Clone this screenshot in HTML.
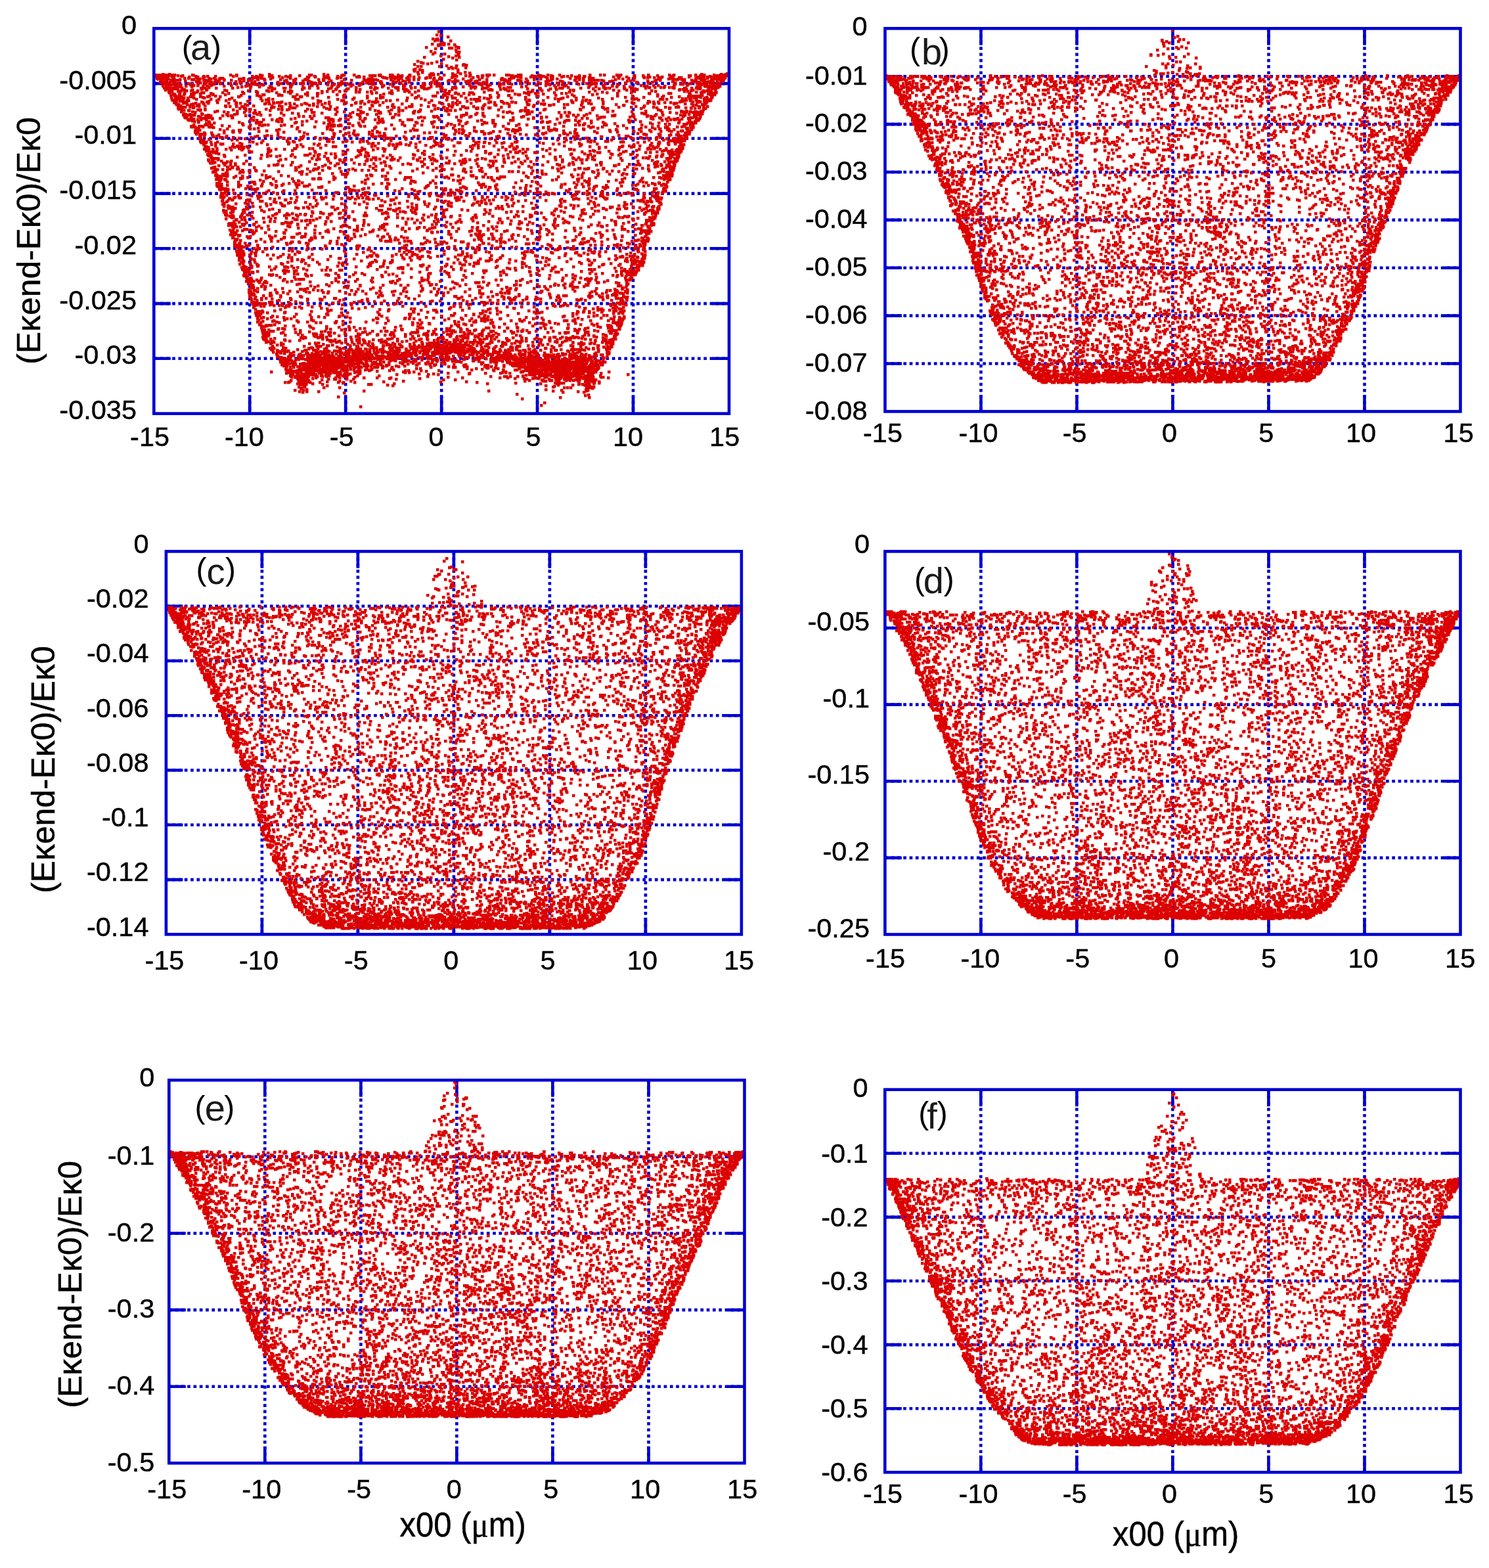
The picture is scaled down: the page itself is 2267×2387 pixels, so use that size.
<!DOCTYPE html><html><head><meta charset="utf-8"><title>Energy change vs x00</title><style>html,body{margin:0;padding:0;background:#fff;}svg{display:block;}text{font-family:"Liberation Sans", Arial, Helvetica, sans-serif;fill:#000;}.t{stroke:#000;stroke-width:0.45px;}</style></head><body>
<svg xmlns="http://www.w3.org/2000/svg" width="2267" height="2387" viewBox="0 0 2267 2387">
<defs><marker id="q" markerUnits="userSpaceOnUse" markerWidth="4" markerHeight="4" refX="0" refY="0" overflow="visible"><rect width="4.5" height="4.5" fill="#dc0000"/></marker></defs>
<rect width="2267" height="2387" fill="#fff"/>
<path d="M380.2 43.3V629.6M526.2 43.3V629.6M672.2 43.3V629.6M818.1 43.3V629.6M964.0 43.3V629.6M234.3 127.1H1110.0M234.3 210.8H1110.0M234.3 294.6H1110.0M234.3 378.3H1110.0M234.3 462.1H1110.0M234.3 545.8H1110.0" stroke="#0000d2" stroke-width="4.6" stroke-dasharray="4.7 4.6" fill="none"/>
<path d="M380.2 43.3v25.5M380.2 629.6v-25.5M526.2 43.3v25.5M526.2 629.6v-25.5M672.2 43.3v25.5M672.2 629.6v-25.5M818.1 43.3v25.5M818.1 629.6v-25.5M964.0 43.3v25.5M964.0 629.6v-25.5M234.3 127.1h25.5M1110.0 127.1h-25.5M234.3 210.8h25.5M1110.0 210.8h-25.5M234.3 294.6h25.5M1110.0 294.6h-25.5M234.3 378.3h25.5M1110.0 378.3h-25.5M234.3 462.1h25.5M1110.0 462.1h-25.5M234.3 545.8h25.5M1110.0 545.8h-25.5" stroke="#0000d2" stroke-width="4.6" fill="none"/>
<path d="m666 46-3 5 6 1 11 2-23 3 7 0-2 1 3 1-5 1 24 0-12 3-3 1 5 0-18 1 15 0 10 0-16 1 4 0 5 0 16 0-25 1 1 0 26 2-45 1 49 0-14 1 4 0 10 0-35 1 31 2-38 2 39 1 4 0-37 1 35 0-38 2 18 0 21 1-27 2 23 0-11 1-37 1 53 0-10 1-14 2 20 1-59 2 29 1-24 1 3 1 13 0-6 1 21 0-41 1 75 0-1 1 5 0-30 1 15 0-59 1 5 0 28 0 18 1 7 1 15 0-26 1 6 0-57 1-2 1 9 0 58 0-54 1-12 1 66 1-61 1 7 0 54 0 11 0 7 1-59 1 3 0 30 0 12 0 406 0-859 1 10 0 152 0 83 0 144 0 30 0 401 0 30 0 7 0 2 0-871 1 1 0 1 0 5 0 7 0 1 0 4 0 3 0 1 0 5 0 2 0 27 0 1 0 57 0 9 0 36 0 75 0 3 0 25 0 23 0 2 0 15 0 38 0 2 0 15 0 3 0 9 0 18 0 30 0 6 0 16 0 17 0 23 0 25 0 4 0 7 0 19 0 3 0 15 0 4 0 27 0 14 0 18 0 46 0 16 0 6 0 19 0 1 0 5 0 42 0 32 0 7 0 33 0 13 0 15 0 10 0 4 0 1 0-865 1 5 0 1 0 4 0 4 0 6 0 5 0 3 0 6 0 7 0 82 0 39 0 15 0 28 0 14 0 64 0 43 0 4 0 4 0 7 0 34 0 11 0 32 0 34 0 20 0 25 0 1 0 7 0 36 0 2 0 30 0 13 0 16 0 31 0 12 0 84 0 13 0 22 0 24 0 24 0 2 0 8 0 7 0 2 0 24 0 3 0 5 0 1 0 5 0-868 1 1 0 11 0 5 0 21 0 22 0 12 0 6 0 12 0 27 0 29 0 6 0 20 0 15 0 10 0 44 0 19 0 16 0 32 0 52 0 10 0 16 0 65 0 2 0 4 0 20 0 12 0 15 0 38 0 5 0 28 0 2 0 1 0 5 0 6 0 14 0 17 0 6 0 25 0 1 0 51 0 2 0 22 0 56 0 48 0 12 0 7 0 1 0 4 0 3 0-857 1 2 0 1 0 1 0 3 0 3 0 2 0 11 0 26 0 13 0 10 0 73 0 9 0 1 0 45 0 29 0 2 0 10 0 13 0 2 0 48 0 4 0 7 0 28 0 12 0 2 0 5 0 6 0 1 0 1 0 12 0 9 0 25 0 73 0 61 0 19 0 15 0 8 0 10 0 14 0 21 0 2 0 20 0 36 0 20 0 26 0 9 0 19 0 13 0 28 0 15 0 1 0 4 0 2 0 1 0 5 0 6 0 6 0 2 0-846 1 6 0 47 0 11 0 80 0 3 0 23 0 15 0 39 0 28 0 3 0 14 0 5 0 47 0 18 0 2 0 11 0 7 0 34 0 12 0 5 0 15 0 18 0 32 0 14 0 47 0 1 0 11 0 20 0 69 0 15 0 69 0 15 0 5 0 10 0 7 0 3 0 28 0 3 0 24 0 2 0 14 0 13 0 12 0 1 0 1 0-865 1 2 0 2 0 2 0 6 0 4 0 9 0 17 0 6 0 13 0 18 0 8 0 9 0 4 0 32 0 14 0 13 0 44 0 71 0 76 0 22 0 8 0 29 0 13 0 10 0 1 0 92 0 14 0 55 0 6 0 29 0 20 0 13 0 2 0 39 0 15 0 46 0 17 0 3 0 42 0 4 0 8 0 6 0 6 0 7 0 4 0-860 1 1 0 15 0 9 0 39 0 17 0 13 0 30 0 3 0 25 0 10 0 10 0 38 0 16 0 35 0 60 0 1 0 3 0 36 0 68 0 36 0 60 0 10 0 26 0 22 0 10 0 8 0 7 0 29 0 11 0 11 0 49 0 54 0 16 0 7 0 8 0 26 0 8 0 18 0 2 0 3 0 3 0 6 0 2 0 1 0-856 1 1 0 27 0 18 0 3 0 9 0 24 0 6 0 7 0 37 0 15 0 34 0 37 0 4 0 17 0 7 0 32 0 30 0 14 0 4 0 23 0 1 0 25 0 2 0 7 0 7 0 23 0 33 0 24 0 13 0 11 0 22 0 1 0 5 0 44 0 69 0 55 0 90 0 4 0 7 0 4 0 28 0 2 0 27 0-846 1 1 0 6 0 5 0 3 0 1 0 4 0 37 0 3 0 16 0 12 0 11 0 13 0 38 0 33 0 11 0 45 0 1 0 42 0 21 0 4 0 15 0 31 0 1 0 77 0 33 0 51 0 8 0 12 0 2 0 49 0 36 0 22 0 7 0 3 0 4 0 5 0 49 0 34 0 6 0 48 0 15 0 1 0 4 0 24 0 2 0 1 0-855 1 2 0 5 0 9 0 4 0 17 0 19 0 1 0 11 0 1 0 4 0 1 0 52 0 7 0 5 0 50 0 16 0 12 0 8 0 35 0 109 0 52 0 17 0 15 0 16 0 13 0 44 0 2 0 21 0 10 0 32 0 18 0 66 0 13 0 1 0 22 0 5 0 26 0 11 0 43 0 16 0 4 0 23 0 1 0 17 0-848 1 46 0 33 0 27 0 6 0 23 0 73 0 10 0 49 0 41 0 4 0 3 0 12 0 18 0 19 0 72 0 1 0 3 0 16 0 14 0 108 0 25 0 32 0 12 0 28 0 58 0 38 0 30 0 5 0 12 0 8 0 13 0 6 0 1 0-855 1 6 0 9 0 42 0 21 0 5 0 39 0 57 0 14 0 10 0 1 0 26 0 12 0 14 0 20 0 32 0 27 0 23 0 1 0 20 0 34 0 5 0 74 0 5 0 32 0 27 0 19 0 38 0 21 0 92 0 23 0 49 0 21 0 1 0 11 0 1 0 4 0 6 0-840 1 4 0 4 0 51 0 9 0 21 0 32 0 56 0 56 0 8 0 71 0 4 0 48 0 102 0 3 0 9 0 1 0 35 0 88 0 18 0 86 0 17 0 18 0 41 0 53 0 3 0-832 1 6 0 8 0 3 0 2 0 16 0 25 0 23 0 1 0 14 0 1 0 32 0 45 0 10 0 19 0 5 0 12 0 7 0 35 0 6 0 6 0 20 0 33 0 63 0 18 0 6 0 64 0 42 0 18 0 14 0 16 0 10 0 61 0 11 0 4 0 13 0 106 0 24 0 10 0 2 0 3 0 5 0 15 0 8 0 1 0-845 1 14 0 3 0 26 0 18 0 8 0 7 0 34 0 17 0 10 0 2 0 3 0 6 0 47 0 29 0 35 0 22 0 19 0 16 0 3 0 25 0 52 0 10 0 14 0 60 0 3 0 7 0 1 0 21 0 5 0 12 0 57 0 45 0 19 0 21 0 19 0 88 0 8 0 4 0 8 0 20 0 6 0 8 0-822 1 1 0 14 0 15 0 1 0 10 0 21 0 70 0 8 0 1 0 23 0 75 0 8 0 11 0 19 0 77 0 32 0 100 0 70 0 21 0 13 0 6 0 42 0 43 0 124 0 3 0 8 0 12 0 1 0 2 0 2 0-839 1 3 0 18 0 20 0 6 0 20 0 31 0 25 0 66 0 32 0 8 0 51 0 13 0 37 0 83 0 48 0 19 0 26 0 71 0 13 0 18 0 56 0 1 0 13 0 44 0 19 0 7 0 24 0 20 0-798 1 18 0 3 0 14 0 26 0 6 0 26 0 33 0 8 0 29 0 31 0 1 0 62 0 10 0 19 0 64 0 18 0 9 0 16 0 24 0 5 0 1 0 71 0 59 0 58 0 38 0 35 0 18 0 31 0 4 0 27 0 61 0 1 0 5 0 7 0 2 0 5 0 1 0 2 0-843 1 16 0 3 0 2 0 18 0 76 0 27 0 18 0 48 0 10 0 43 0 68 0 32 0 31 0 11 0 37 0 12 0 14 0 3 0 2 0 19 0 18 0 33 0 113 0 32 0 20 0 102 0 5 0 15 0 5 0-831 1 63 0 44 0 80 0 100 0 22 0 1 0 6 0 31 0 4 0 26 0 10 0 3 0 44 0 3 0 81 0 4 0 69 0 19 0 31 0 23 0 69 0 1 0 8 0 9 0 5 0 8 0 5 0 2 0 52 0 4 0 11 0-843 1 2 0 4 0 3 0 4 0 7 0 7 0 29 0 2 0 4 0 17 0 25 0 27 0 28 0 5 0 18 0 2 0 29 0 8 0 13 0 20 0 70 0 17 0 13 0 22 0 27 0 20 0 21 0 23 0 6 0 13 0 4 0 27 0 54 0 1 0 30 0 4 0 28 0 39 0 5 0 22 0 12 0 1 0 20 0 43 0 16 0 1 0 10 0 7 0 2 0 24 0 4 0-834 1 5 0 3 0 3 0 151 0 82 0 12 0 16 0 2 0 84 0 32 0 4 0 21 0 63 0 34 0 35 0 19 0 16 0 65 0 9 0 9 0 30 0 14 0 2 0 76 0 1 0 19 0 3 0 18 0-825 1 21 0 27 0 7 0 1 0 145 0 51 0 31 0 6 0 22 0 48 0 70 0 59 0 15 0 7 0 54 0 24 0 114 0 9 0 65 0 5 0 5 0 34 0 10 0-837 1 9 0 20 0 12 0 21 0 28 0 185 0 79 0 13 0 54 0 5 0 66 0 5 0 62 0 24 0 33 0 5 0 61 0 20 0 80 0 21 0-796 1 12 0 1 0 4 0 5 0 3 0 7 0 10 0 44 0 33 0 28 0 8 0 28 0 83 0 71 0 25 0 16 0 136 0 2 0 5 0 45 0 48 0 33 0 36 0 50 0 60 0 19 0 5 0-819 1 1 0 13 0 119 0 19 0 24 0 11 0 46 0 8 0 9 0 10 0 48 0 51 0 68 0 126 0 156 0 32 0 44 0 5 0 35 0-825 1 5 0 38 0 69 0 22 0 48 0 103 0 5 0 12 0 64 0 9 0 45 0 60 0 67 0 3 0 60 0 30 0 20 0 143 0 9 0 3 0 7 0 4 0 6 0 1 0-832 1 38 0 11 0 3 0 29 0 53 0 29 0 47 0 22 0 83 0 20 0 3 0 70 0 28 0 21 0 4 0 38 0 41 0 21 0 25 0 80 0 37 0 106 0 23 0-816 1 7 0 13 0 27 0 27 0 23 0 71 0 41 0 1 0 82 0 30 0 1 0 83 0 13 0 13 0 96 0 13 0 40 0 7 0 78 0 48 0 1 0 29 0 3 0 29 0 35 0 2 0-822 1 26 0 4 0 10 0 19 0 141 0 119 0 99 0 15 0 23 0 63 0 43 0 82 0 159 0 10 0 3 0-817 1 2 0 7 0 7 0 44 0 19 0 57 0 2 0 23 0 27 0 61 0 12 0 102 0 48 0 39 0 75 0 2 0 14 0 66 0 31 0 99 0 48 0 2 0 31 0 2 0 4 0-828 1 33 0 1 0 73 0 24 0 33 0 5 0 39 0 56 0 55 0 99 0 68 0 13 0 15 0 1 0 71 0 203 0 20 0 15 0-818 1 2 0 51 0 9 0 67 0 88 0 40 0 36 0 78 0 22 0 4 0 25 0 14 0 115 0 2 0 55 0 66 0 23 0 38 0 9 0 46 0 4 0 4 0 20 0-810 1 2 0 14 0 3 0 12 0 11 0 19 0 28 0 1 0 82 0 3 0 8 0 2 0 405 0 170 0 14 0 2 0 2 0 5 0 1 0 6 0-793 1 4 0 34 0 88 0 103 0 23 0 60 0 51 0 40 0 7 0 49 0 17 0 11 0 42 0 34 0 54 0 64 0 28 0 28 0 14 0 29 0 16 0 9 0 7 0 1 0-823 1 6 0 1 0 7 0 5 0 6 0 9 0 16 0 42 0 123 0 63 0 20 0 20 0 41 0 12 0 57 0 4 0 16 0 28 0 41 0 79 0 20 0 34 0 146 0 2 0 1 0 13 0-803 1 1 0 3 0 5 0 118 0 12 0 164 0 68 0 101 0 103 0 9 0 78 0 30 0 7 0 70 0 5 0 6 0 27 0-778 1 22 0 12 0 16 0 66 0 35 0 4 0 60 0 23 0 180 0 5 0 4 0 18 0 56 0 50 0 67 0 46 0 2 0 40 0 4 0 6 0 37 0 20 0 10 0-820 1 1 0 117 0 25 0 200 0 42 0 33 0 48 0 77 0 72 0 16 0 79 0 73 0 15 0 16 0 2 0 4 0-817 1 20 0 2 0 43 0 14 0 13 0 42 0 85 0 36 0 3 0 65 0 6 0 25 0 38 0 39 0 34 0 76 0 21 0 43 0 17 0 5 0 6 0 140 0 5 0 8 0 28 0 2 0-813 1 1 0 5 0 4 0 40 0 59 0 32 0 78 0 1 0 63 0 11 0 10 0 139 0 14 0 38 0 87 0 104 0 33 0 50 0 2 0 25 0 8 0-807 1 16 0 1 0 25 0 8 0 114 0 72 0 48 0 12 0 6 0 8 0 172 0 18 0 14 0 1 0 22 0 17 0 52 0 47 0 71 0 6 0 7 0 33 0 20 0 7 0 4 0 10 0-811 1 2 0 12 0 30 0 22 0 28 0 57 0 6 0 4 0 1 0 100 0 15 0 29 0 12 0 70 0 16 0 20 0 11 0 44 0 9 0 32 0 87 0 14 0 76 0 50 0 9 0 40 0 12 0-794 1 5 0 14 0 19 0 31 0 12 0 6 0 39 0 12 0 24 0 23 0 20 0 11 0 46 0 8 0 145 0 23 0 50 0 5 0 114 0 10 0 69 0 21 0 9 0 8 0 24 0 3 0 45 0-807 1 26 0 16 0 49 0 44 0 7 0 25 0 13 0 19 0 10 0 24 0 23 0 31 0 57 0 62 0 150 0 5 0 71 0 18 0 78 0 30 0 17 0 10 0 20 0-804 1 1 0 2 0 13 0 6 0 12 0 70 0 86 0 31 0 108 0 29 0 56 0 13 0 42 0 15 0 22 0 28 0 2 0 23 0 15 0 16 0 5 0 74 0 131 0-775 1 83 0 94 0 6 0 58 0 31 0 12 0 63 0 19 0 29 0 66 0 58 0 23 0 2 0 47 0 64 0 1 0 105 0 5 0 12 0-797 1 14 0 11 0 12 0 31 0 43 0 28 0 11 0 17 0 10 0 115 0 30 0 65 0 22 0 52 0 245 0 74 0-784 1 32 0 41 0 6 0 10 0 8 0 2 0 59 0 54 0 20 0 120 0 4 0 25 0 52 0 2 0 15 0 54 0 37 0 156 0 64 0 32 0 7 0 6 0-799 1 4 0 7 0 6 0 122 0 24 0 52 0 56 0 41 0 9 0 1 0 76 0 12 0 75 0 125 0 29 0 25 0 19 0 19 0 15 0 18 0 16 0 4 0 31 0 1 0-794 1 1 0 22 0 78 0 1 0 40 0 32 0 4 0 64 0 94 0 11 0 57 0 34 0 3 0 15 0 7 0 10 0 2 0 54 0 59 0 45 0 15 0 81 0 19 0 1 0 24 0 8 0 12 0-790 1 91 0 7 0 125 0 66 0 104 0 14 0 44 0 2 0 175 0 23 0 51 0 43 0 33 0 6 0 16 0-802 1 5 0 35 0 62 0 7 0 24 0 19 0 5 0 11 0 28 0 33 0 1 0 8 0 1 0 52 0 99 0 39 0 34 0 95 0 53 0 38 0 150 0-770 1 4 0 7 0 43 0 74 0 8 0 37 0 71 0 51 0 44 0 41 0 78 0 69 0 56 0 18 0 100 0-722 1 7 0 1 0 17 0 69 0 14 0 23 0 160 0 36 0 1 0 5 0 65 0 8 0 7 0 101 0 5 0 5 0 202 0-675 1 30 0 104 0 84 0 27 0 16 0 39 0 8 0 18 0 24 0 111 0 8 0 133 0 50 0 54 0 8 0 22 0 1 0 2 0-794 1 17 0 34 0 14 0 39 0 133 0 11 0 83 0 30 0 129 0 10 0 29 0 5 0 115 0 37 0 75 0 3 0 5 0 1 0 5 0 7 0 2 0-763 1 50 0 25 0 23 0 80 0 3 0 59 0 16 0 26 0 50 0 143 0 79 0 9 0 6 0 142 0 12 0 23 0 12 0 9 0-678 1 2 0 1 0 39 0 17 0 45 0 59 0 28 0 2 0 51 0 80 0 16 0 9 0 45 0 23 0 1 0 18 0 45 0 31 0 79 0 53 0 11 0 18 0 6 0-785 1 27 0 54 0 93 0 79 0 61 0 212 0 175 0 2 0 74 0 3 0 6 0 2 0 1 0-786 1 6 0 19 0 37 0 12 0 35 0 119 0 33 0 15 0 14 0 29 0 81 0 27 0 14 0 78 0 91 0 71 0 35 0 50 0 14 0 1 0-785 1 4 0 1 0 4 0 5 0 1 0 2 0 21 0 80 0 14 0 21 0 114 0 61 0 98 0 1 0 29 0 119 0 19 0 7 0 56 0 73 0 27 0 7 0-759 1 29 0 8 0 18 0 8 0 5 0 1 0 21 0 104 0 53 0 171 0 56 0 105 0 26 0 20 0 23 0 3 0 28 0 23 0 11 0 44 0 16 0 9 0-782 1 18 0 153 0 7 0 10 0 76 0 112 0 5 0 52 0 20 0 60 0 68 0 120 0 6 0 49 0 18 0 2 0-779 1 3 0 7 0 14 0 81 0 148 0 42 0 23 0 42 0 20 0 34 0 7 0 13 0 51 0 28 0 30 0 8 0 22 0 23 0 39 0 4 0 39 0 6 0 28 0 65 0 8 0-784 1 2 0 33 0 2 0 34 0 1 0 142 0 4 0 97 0 40 0 9 0 21 0 114 0 31 0 101 0 91 0 14 0 33 0 3 0-764 1 18 0 4 0 1 0 1 0 9 0 12 0 47 0 44 0 23 0 25 0 1 0 51 0 30 0 256 0 12 0 62 0 8 0 97 0 15 0 26 0 16 0 17 0-772 1 2 0 28 0 105 0 15 0 61 0 14 0 30 0 7 0 27 0 222 0 44 0 62 0 84 0 20 0 12 0 3 0 1 0 8 0 11 0 1 0 10 0 4 0-778 1 2 0 1 0 2 0 10 0 5 0 95 0 13 0 8 0 7 0 75 0 3 0 23 0 41 0 6 0 44 0 3 0 3 0 42 0 298 0 54 0 6 0 33 0-772 1 26 0 67 0 5 0 5 0 109 0 1 0 15 0 93 0 89 0 35 0 17 0 1 0 26 0 4 0 82 0 3 0 10 0 81 0 51 0 26 0 29 0-770 1 128 0 46 0 85 0 28 0 63 0 57 0 1 0 26 0 133 0 22 0 18 0 60 0 56 0 33 0 10 0-763 1 6 0 16 0 106 0 5 0 31 0 21 0 26 0 46 0 25 0 5 0 78 0 165 0 11 0 138 0 59 0 16 0 8 0 1 0-757 1 62 0 31 0 3 0 53 0 126 0 6 0 30 0 20 0 24 0 54 0 26 0 13 0 74 0 9 0 1 0 25 0 21 0 38 0 40 0 93 0 1 0 1 0 5 0-739 1 7 0 64 0 1 0 58 0 44 0 9 0 44 0 29 0 60 0 102 0 4 0 10 0 101 0 48 0 90 0 13 0 30 0 14 0 12 0-745 1 55 0 161 0 2 0 126 0 24 0 27 0 65 0 116 0 31 0 15 0 116 0 3 0-555 1 112 0 75 0 12 0 35 0 20 0 36 0 55 0 148 0 20 0 6 0 22 0 4 0 7 0 3 0-760 1 17 0 4 0 5 0 1 0 48 0 11 0 14 0 8 0 5 0 25 0 27 0 44 0 4 0 10 0 29 0 49 0 46 0 160 0 74 0 6 0 6 0 32 0 3 0 54 0-639 1 61 0 29 0 81 0 6 0 1 0 3 0 18 0 79 0 15 0 49 0 12 0 94 0 163 0 93 0 9 0-760 1 12 0 4 0 42 0 95 0 58 0 2 0 3 0 42 0 6 0 149 0 49 0 13 0 92 0 38 0 44 0 62 0 40 0-751 1 3 0 3 0 12 0 9 0 2 0 2 0 57 0 100 0 19 0 74 0 88 0 175 0 68 0 14 0 66 0 33 0 15 0 7 0 17 0-730 1 128 0 78 0 135 0 9 0 47 0 92 0 13 0 72 0 94 0 20 0 39 0 3 0-757 1 4 0 91 0 177 0 120 0 101 0 119 0 44 0 22 0 69 0 2 0-745 1 44 0 35 0 6 0 65 0 46 0 26 0 63 0 13 0 29 0 141 0 74 0 44 0 109 0 7 0 1 0 13 0-683 1 90 0 78 0 196 0 5 0 70 0 7 0 9 0 2 0 43 0 10 0 2 0 29 0 13 0 49 0 35 0 43 0 2 0 8 0 20 0 7 0-749 1 60 0 2 0 55 0 85 0 125 0 4 0 58 0 92 0 55 0 7 0 81 0 11 0 50 0 59 0-751 1 44 0 14 0 51 0 133 0 28 0 58 0 81 0 16 0 58 0 8 0 32 0 17 0 21 0 106 0 55 0 18 0 2 0 8 0-750 1 3 0 54 0 40 0 62 0 62 0 56 0 120 0 31 0 8 0 2 0 16 0 10 0 114 0 30 0 24 0 36 0 11 0 15 0 15 0 16 0 28 0-753 1 4 0 54 0 10 0 67 0 130 0 12 0 43 0 46 0 42 0 235 0 92 0-734 1 13 0 11 0 19 0 82 0 40 0 68 0 47 0 68 0 8 0 45 0 48 0 37 0 47 0 37 0 41 0 135 0 3 0-556 1 17 0 18 0 12 0 47 0 119 0 11 0 23 0 6 0 29 0 53 0 32 0 2 0 15 0 3 0 93 0 72 0 6 0-750 1 5 0 3 0 5 0 156 0 41 0 53 0 5 0 108 0 17 0 45 0 55 0 35 0 153 0 1 0 22 0 40 0 1 0 5 0-726 1 10 0 207 0 5 0 256 0 14 0 49 0 120 0 21 0 16 0 9 0 3 0 11 0-740 1 1 0 19 0 83 0 16 0 100 0 19 0 44 0 93 0 30 0 67 0 76 0 26 0 64 0 62 0 15 0 13 0 10 0 2 0-733 1 19 0 15 0 47 0 11 0 10 0 49 0 70 0 34 0 11 0 4 0 1 0 21 0 34 0 76 0 46 0 60 0 61 0 73 0 3 0 81 0 8 0-740 1 20 0 63 0 120 0 60 0 4 0 12 0 31 0 15 0 47 0 79 0 27 0 90 0 2 0 40 0 1 0 121 0-702 1 3 0 6 0 11 0 27 0 45 0 31 0 3 0 19 0 26 0 149 0 3 0 102 0 173 0 27 0 15 0 25 0 5 0 28 0 3 0 7 0 2 0-740 1 59 0 68 0 61 0 95 0 5 0 3 0 21 0 56 0 156 0 32 0 31 0 2 0 83 0 8 0 49 0 2 0 9 0-741 1 1 0 68 0 66 0 20 0 193 0 27 0 67 0 202 0 16 0 51 0 10 0 6 0 9 0 3 0-725 1 169 0 14 0 48 0 69 0 64 0 193 0 8 0 116 0 30 0 5 0-728 1 47 0 8 0 95 0 129 0 103 0 66 0 95 0 13 0 69 0 57 0 22 0 15 0-717 1 2 0 90 0 37 0 91 0 67 0 66 0 60 0 179 0 121 0 3 0 8 0 10 0-737 1 132 0 9 0 52 0 3 0 26 0 26 0 6 0 228 0 108 0 10 0 17 0 3 0 93 0 20 0-729 1 5 0 7 0 10 0 49 0 5 0 63 0 59 0 15 0 14 0 12 0 91 0 23 0 67 0 9 0 46 0 2 0 73 0 10 0 30 0 46 0 4 0 32 0 22 0 24 0 4 0 4 0-729 1 7 0 85 0 42 0 169 0 16 0 38 0 8 0 26 0 3 0 25 0 12 0 19 0 11 0 54 0 150 0 33 0 32 0-708 1 37 0 196 0 7 0 8 0 90 0 58 0 21 0 19 0 63 0 55 0 110 0 25 0-706 1 25 0 1 0 2 0 16 0 13 0 23 0 48 0 39 0 8 0 80 0 27 0 11 0 2 0 4 0 23 0 146 0 63 0 9 0 58 0 93 0 1 0 25 0-718 1 12 0 85 0 51 0 140 0 20 0 46 0 221 0 80 0 53 0 18 0 1 0 4 0-589 1 32 0 12 0 96 0 7 0 24 0 25 0 26 0 46 0 2 0 6 0 51 0 211 0 47 0 1 0-710 1 33 0 210 0 33 0 56 0 9 0 22 0 61 0 107 0 24 0 65 0 10 0 16 0 28 0-688 1 40 0 8 0 4 0 2 0 8 0 1 0 75 0 9 0 46 0 4 0 55 0 150 0 20 0 40 0 11 0 111 0 49 0 18 0 29 0 40 0-722 1 5 0 40 0 11 0 3 0 262 0 23 0 109 0 22 0 125 0 10 0 21 0 18 0 39 0 39 0-689 1 28 0 110 0 63 0 51 0 126 0 54 0 206 0 8 0-683 1 17 0 34 0 5 0 1 0 39 0 39 0 2 0 21 0 5 0 99 0 8 0 18 0 118 0 118 0 75 0 74 0 10 0 18 0 22 0 3 0-728 1 6 0 1 0 6 0 6 0 14 0 64 0 12 0 13 0 121 0 1 0 31 0 184 0 12 0 3 0 11 0 7 0 23 0 41 0 2 0 104 0 13 0 5 0 14 0 26 0 1 0-715 1 7 0 28 0 16 0 161 0 39 0 113 0 78 0 11 0 75 0 29 0 68 0 72 0 9 0-709 1 97 0 1 0 33 0 100 0 5 0 86 0 74 0 122 0 71 0 66 0 42 0 18 0 5 0-720 1 16 0 49 0 32 0 68 0 43 0 26 0 37 0 61 0 47 0 24 0 22 0 52 0 107 0 7 0 22 0 26 0 55 0 9 0 4 0 12 0 4 0-715 1 5 0 56 0 26 0 138 0 230 0 23 0 86 0 63 0 51 0-681 1 6 0 83 0 72 0 77 0 182 0 46 0 3 0 26 0 3 0 93 0 3 0 70 0 7 0 30 0 5 0 5 0 5 0-717 1 11 0 167 0 64 0 83 0 104 0 49 0 222 0 2 0 11 0 1 0-699 1 139 0 32 0 6 0 16 0 219 0 92 0 33 0 20 0 40 0 14 0 1 0 18 0 61 0-708 1 91 0 38 0 41 0 36 0 27 0 80 0 17 0 13 0 99 0 15 0 96 0 30 0 33 0 28 0 49 0 18 0-710 1 4 0 20 0 32 0 25 0 66 0 4 0 16 0 110 0 37 0 60 0 11 0 24 0 169 0 47 0 28 0 38 0 25 0-715 1 1 0 93 0 14 0 17 0 35 0 67 0 11 0 5 0 22 0 88 0 95 0 35 0 104 0 95 0 20 0-678 1 65 0 14 0 73 0 17 0 45 0 271 0 26 0 136 0 18 0 16 0 8 0 2 0-711 1 39 0 88 0 93 0 55 0 57 0 99 0 28 0 64 0 57 0 66 0 31 0 22 0 10 0-710 1 163 0 26 0 58 0 4 0 17 0 20 0 30 0 41 0 94 0 71 0 27 0 9 0 14 0 34 0 50 0 5 0 37 0 11 0-708 1 2 0 3 0 3 0 65 0 78 0 24 0 130 0 30 0 14 0 61 0 69 0 70 0 72 0 42 0 28 0 3 0 2 0 7 0 3 0-707 1 112 0 51 0 12 0 61 0 19 0 22 0 46 0 62 0 19 0 12 0 28 0 22 0 113 0 127 0-712 1 7 0 8 0 95 0 55 0 35 0 7 0 2 0 9 0 30 0 7 0 23 0 1 0 1 0 38 0 21 0 6 0 43 0 10 0 131 0 10 0 21 0 7 0 2 0 7 0 12 0 112 0-693 1 194 0 41 0 47 0 30 0 25 0 63 0 93 0 39 0 91 0 46 0 35 0 3 0-713 1 5 0 14 0 15 0 23 0 49 0 76 0 57 0 108 0 19 0 16 0 46 0 4 0 5 0 12 0 32 0 172 0-625 1 125 0 53 0 61 0 56 0 2 0 66 0 75 0 24 0 26 0 22 0 145 0 11 0 10 0 3 0 4 0-702 1 24 0 94 0 77 0 64 0 118 0 64 0 25 0 79 0 43 0 83 0 20 0 7 0 1 0-706 1 2 0 2 0 16 0 4 0 159 0 36 0 41 0 99 0 4 0 24 0 44 0 28 0 107 0 28 0 1 0 111 0-668 1 13 0 142 0 2 0 54 0 52 0 37 0 34 0 34 0 69 0 72 0 105 0 24 0 4 0 19 0-638 1 42 0 57 0 67 0 8 0 58 0 12 0 21 0 56 0 111 0 35 0 25 0 69 0 16 0 14 0 34 0-664 1 9 0 7 0 59 0 4 0 22 0 52 0 249 0 82 0 25 0 1 0 14 0 42 0 7 0 53 0 6 0 24 0 17 0 12 0-694 1 76 0 21 0 28 0 52 0 77 0 86 0 77 0 185 0 2 0 50 0 20 0 8 0 11 0-535 1 72 0 9 0 21 0 50 0 27 0 58 0 18 0 19 0 40 0 196 0 17 0 2 0-693 1 19 0 1 0 6 0 9 0 93 0 291 0 44 0 68 0 97 0 42 0 26 0-699 1 30 0 33 0 63 0 35 0 15 0 151 0 66 0 92 0 32 0 173 0 9 0 3 0-704 1 180 0 15 0 51 0 27 0 69 0 69 0 23 0 98 0 27 0 2 0 13 0 23 0 45 0 14 0 43 0 4 0-698 1 23 0 11 0 2 0 105 0 10 0 4 0 1 0 54 0 98 0 38 0 15 0 18 0 143 0 41 0 4 0 24 0 51 0 18 0 23 0 10 0 2 0-691 1 8 0 112 0 80 0 52 0 93 0 31 0 168 0 76 0 57 0-662 1 23 0 20 0 61 0 27 0 14 0 50 0 10 0 10 0 11 0 10 0 77 0 71 0 180 0 115 0-697 1 41 0 10 0 11 0 12 0 226 0 42 0 35 0 26 0 26 0 54 0 14 0 25 0 82 0 56 0 21 0 12 0-696 1 41 0 58 0 36 0 12 0 47 0 198 0 17 0 41 0 5 0 9 0 113 0 22 0 18 0 69 0-687 1 4 0 42 0 86 0 253 0 109 0 86 0 101 0 11 0-672 1 21 0 15 0 149 0 61 0 19 0 35 0 153 0 28 0 30 0 33 0 114 0 18 0 3 0-677 1 140 0 20 0 303 0 102 0 38 0 17 0 49 0-676 1 1 0 1 0 118 0 8 0 54 0 3 0 4 0 211 0 87 0 5 0 97 0 26 0 10 0 58 0 1 0-693 1 69 0 165 0 108 0 15 0 2 0 181 0 10 0 6 0 61 0 72 0-691 1 12 0 65 0 23 0 130 0 7 0 1 0 151 0 3 0 190 0 100 0 4 0 3 0 6 0-691 1 3 0 1 0 8 0 2 0 13 0 10 0 70 0 143 0 5 0 111 0 21 0 82 0 221 0-611 1 97 0 18 0 138 0 16 0 55 0 1 0 26 0 2 0 4 0 82 0 22 0 140 0 3 0 1 0 2 0-688 1 4 0 22 0 21 0 30 0 210 0 4 0 4 0 52 0 48 0 18 0 5 0 56 0 10 0 8 0 64 0 21 0 88 0 9 0 13 0-686 1 6 0 29 0 3 0 36 0 81 0 24 0 173 0 22 0 20 0 32 0 194 0 27 0 29 0 6 0 1 0 1 0 4 0-689 1 36 0 50 0 29 0 31 0 2 0 7 0 3 0 72 0 200 0 121 0 16 0 120 0-688 1 4 0 9 0 1 0 165 0 79 0 3 0 12 0 14 0 133 0 98 0 32 0 68 0 64 0 7 0 2 0-686 1 2 0 8 0 52 0 160 0 134 0 11 0 140 0 97 0 38 0 42 0-564 1 172 0 33 0 38 0 55 0 42 0 96 0 7 0-496 1 19 0 27 0 8 0 175 0 180 0 70 0 15 0 31 0 48 0-628 1 17 0 20 0 4 0 114 0 50 0 81 0 184 0 77 0 55 0 31 0 37 0-682 1 126 0 195 0 73 0 57 0 89 0 70 0 40 0 19 0-673 1 57 0 25 0 28 0 10 0 106 0 25 0 9 0 35 0 38 0 37 0 196 0 97 0 11 0-672 1 5 0 51 0 11 0 32 0 137 0 24 0 144 0 83 0 41 0 26 0 11 0 74 0 26 0 13 0-680 1 33 0 51 0 37 0 4 0 16 0 259 0 2 0 4 0 20 0 99 0 23 0 119 0 15 0 2 0-684 1 4 0 12 0 20 0 54 0 9 0 223 0 149 0 95 0 27 0 40 0 5 0 19 0 20 0-676 1 5 0 41 0 21 0 23 0 42 0 1 0 4 0 71 0 111 0 104 0 54 0 15 0 85 0 38 0 34 0-648 1 5 0 26 0 19 0 108 0 99 0 60 0 56 0 34 0 115 0 34 0 17 0 110 0-678 1 40 0 43 0 32 0 33 0 4 0 38 0 3 0 58 0 76 0 43 0 26 0 12 0 1 0 36 0 72 0 22 0 42 0 7 0 89 0-453 1 86 0 54 0 8 0 83 0 8 0 104 0 17 0 90 0-673 1 2 0 3 0 31 0 18 0 162 0 35 0 23 0 61 0 5 0 32 0 45 0 62 0 80 0 24 0 19 0 56 0 3 0-665 1 7 0 1 0 5 0 37 0 3 0 3 0 142 0 20 0 75 0 173 0 67 0 99 0 3 0 41 0-674 1 19 0 120 0 61 0 1 0 141 0 8 0 9 0 48 0 14 0 255 0-669 1 4 0 62 0 23 0 17 0 47 0 39 0 6 0 5 0 55 0 30 0 44 0 23 0 27 0 75 0 62 0 41 0 36 0 32 0 41 0 1 0-668 1 263 0 31 0 47 0 15 0 106 0 87 0 23 0 79 0 17 0-669 1 45 0 17 0 24 0 102 0 104 0 64 0 3 0 81 0 34 0 13 0 34 0 12 0 4 0 114 0 14 0-593 1 95 0 3 0 12 0 30 0 4 0 129 0 110 0 23 0 93 0 2 0 39 0 37 0 9 0-665 1 4 0 15 0 45 0 81 0 72 0 101 0 160 0 20 0 6 0 48 0 61 0 7 0 6 0 45 0-669 1 83 0 26 0 205 0 23 0 9 0 159 0 53 0 84 0-642 1 37 0 246 0 9 0 61 0 99 0 7 0 30 0 7 0 40 0 19 0 23 0 8 0 15 0 61 0-663 1 7 0 18 0 187 0 6 0 14 0 2 0 61 0 32 0 17 0 4 0 24 0 89 0 73 0 4 0 39 0 30 0 17 0-626 1 3 0 24 0 20 0 9 0 3 0 113 0 36 0 46 0 64 0 14 0 112 0 134 0 79 0 3 0-657 1 58 0 225 0 50 0 62 0 20 0 16 0 101 0 47 0 62 0 19 0 2 0-665 1 2 0 3 0 17 0 36 0 58 0 18 0 8 0 11 0 7 0 40 0 24 0 75 0 62 0 5 0 20 0 20 0 22 0 58 0 79 0 96 0 3 0-644 1 8 0 2 0 59 0 53 0 51 0 1 0 16 0 6 0 51 0 29 0 61 0 41 0 39 0 40 0 107 0 61 0 18 0 2 0 3 0 3 0-658 1 1 0 43 0 18 0 32 0 49 0 28 0 12 0 1 0 25 0 18 0 301 0 18 0 12 0 17 0 66 0 9 0 4 0-585 1 72 0 17 0 34 0 21 0 6 0 69 0 58 0 28 0 57 0 75 0 18 0 8 0 41 0 57 0 23 0 4 0-667 1 14 0 1 0 23 0 3 0 54 0 1 0 160 0 4 0 67 0 33 0 39 0 13 0 19 0 9 0-432 1 28 0 5 0 71 0 30 0 100 0 14 0 71 0 29 0 50 0 55 0 31 0 22 0 118 0 5 0 24 0-662 1 58 0 3 0 221 0 58 0 28 0 27 0 56 0 70 0 1 0 39 0 76 0 10 0 5 0 12 0-657 1 72 0 137 0 32 0 60 0 27 0 10 0 45 0 252 0 5 0 1 0 6 0-572 1 22 0 7 0 16 0 210 0 51 0 7 0 171 0 47 0 53 0 1 0-664 1 32 0 11 0 43 0 12 0 101 0 68 0 79 0 52 0 43 0 27 0 45 0-495 1 17 0 29 0 78 0 14 0 23 0 39 0 42 0 26 0 26 0 68 0 19 0 7 0 149 0 9 0 56 0 22 0 23 0-667 1 2 0 37 0 34 0 17 0 43 0 53 0 22 0 100 0 35 0 90 0 179 0 3 0 52 0-412 1 40 0 85 0 11 0 86 0 53 0 42 0-564 1 59 0 24 0 2 0 1 0 48 0 98 0 3 0 101 0 97 0 72 0 22 0 6 0 62 0 45 0-646 1 8 0 36 0 266 0 36 0 71 0 6 0 10 0 22 0 58 0 52 0 44 0 35 0 10 0 8 0-656 1 7 0 21 0 21 0 72 0 8 0 29 0 2 0 114 0 6 0 7 0 29 0 266 0 3 0 61 0 1 0-644 1 1 0 99 0 12 0 65 0 31 0 303 0 68 0 35 0 10 0 28 0-654 1 4 0 4 0 2 0 18 0 1 0 77 0 16 0 44 0 59 0 35 0 21 0 126 0 5 0 51 0 2 0 60 0 28 0 17 0 1 0 33 0 2 0 30 0 17 0 1 0 1 0-626 1 38 0 176 0 3 0 10 0 30 0 27 0 11 0 93 0 81 0 1 0 93 0 3 0 37 0 23 0-631 1 38 0 100 0 170 0 23 0 35 0 151 0 34 0-583 1 13 0 17 0 28 0 27 0 98 0 54 0 4 0 18 0 27 0 6 0 44 0 36 0 34 0 140 0 91 0 13 0 4 0 7 0-657 1 11 0 16 0 155 0 76 0 242 0 10 0 52 0 5 0 75 0 7 0-651 1 60 0 23 0 50 0 62 0 72 0 5 0 164 0 10 0 8 0 175 0 22 0 3 0-655 1 3 0 10 0 18 0 12 0 104 0 100 0 29 0 11 0 3 0 44 0 65 0 31 0 45 0 43 0 124 0-640 1 8 0 125 0 12 0 30 0 38 0 30 0 229 0 9 0 16 0 46 0 1 0 52 0 58 0 4 0-632 1 52 0 16 0 8 0 47 0 13 0 11 0 66 0 8 0 43 0 112 0 95 0 46 0 5 0 90 0 12 0 5 0-579 1 38 0 8 0 36 0 104 0 59 0 73 0 166 0 78 0-638 1 2 0 23 0 8 0 3 0 57 0 4 0 11 0 13 0 38 0 23 0 120 0 12 0 18 0 49 0 62 0 21 0 36 0-498 1 9 0 61 0 18 0 121 0 2 0 2 0 142 0 23 0 86 0 75 0 114 0-648 1 2 0 3 0 12 0 16 0 70 0 21 0 57 0 132 0 24 0 63 0 39 0 20 0 41 0 18 0 83 0 6 0-605 1 1 0 1 0 12 0 43 0 121 0 61 0 61 0 22 0 3 0 9 0 97 0 24 0 65 0 27 0 42 0 14 0 39 0 2 0-643 1 2 0 17 0 115 0 11 0 24 0 9 0 74 0 115 0 5 0 103 0 92 0 23 0 5 0 41 0 5 0-609 1 16 0 18 0 17 0 10 0 53 0 18 0 71 0 25 0 30 0 20 0 110 0 198 0 18 0 8 0-653 1 68 0 70 0 105 0 34 0 6 0 91 0 42 0 1 0 39 0 45 0 12 0 25 0 81 0 28 0-631 1 8 0 81 0 3 0 87 0 127 0 34 0 131 0 14 0 146 0 3 0-635 1 14 0 94 0 5 0 5 0 63 0 14 0 81 0 10 0 116 0 126 0 44 0 33 0 20 0-525 1 6 0 255 0 58 0 66 0 16 0 124 0 4 0 4 0-636 1 55 0 7 0 78 0 8 0 157 0 6 0 30 0 47 0 47 0 145 0 1 0-573 1 26 0 12 0 33 0 9 0 81 0 93 0 62 0 22 0 62 0 42 0 57 0 94 0-582 1 62 0 2 0 33 0 82 0 77 0 9 0 54 0 33 0 31 0 6 0 30 0 50 0 14 0 8 0 46 0 72 0-635 1 4 0 76 0 2 0 11 0 222 0 147 0 126 0 12 0 43 0 3 0-647 1 10 0 11 0 3 0 15 0 66 0 42 0 90 0 4 0 29 0 46 0 22 0 91 0 13 0 178 0 15 0 11 0 1 0-643 1 3 0 31 0 67 0 15 0 93 0 97 0 145 0 25 0 14 0 58 0 37 0 54 0 4 0-647 1 5 0 18 0 152 0 30 0 29 0 95 0 59 0 113 0 61 0 14 0 53 0 1 0 13 0-597 1 14 0 30 0 42 0 41 0 7 0 16 0 61 0 217 0 22 0 71 0 71 0-632 1 6 0 6 0 75 0 78 0 60 0 5 0 95 0 70 0 7 0 140 0 21 0 30 0 16 0-607 1 34 0 142 0 106 0 8 0 16 0 27 0 30 0 8 0 260 0-589 1 56 0 11 0 117 0 31 0 22 0 23 0 130 0 57 0 29 0 10 0-376 1 36 0 79 0 12 0 19 0 44 0 28 0 17 0 8 0 41 0 31 0 149 0 4 0 13 0-617 1 4 0 33 0 142 0 26 0 35 0 191 0 29 0 115 0 4 0 16 0-617 1 5 0 26 0 54 0 44 0 20 0 40 0 29 0 18 0 65 0 92 0 190 0-572 1 8 0 13 0 2 0 6 0 153 0 1 0 106 0 68 0 9 0 29 0 16 0 37 0 26 0 26 0 14 0 49 0 56 0 4 0 4 0-636 1 32 0 36 0 76 0 22 0 49 0 50 0 66 0 12 0 20 0 16 0 37 0 53 0 135 0 20 0 4 0 6 0 5 0-639 1 148 0 23 0 40 0 94 0 9 0 64 0 106 0 141 0 6 0-628 1 4 0 28 0 17 0 28 0 226 0 226 0 29 0 63 0-622 1 79 0 23 0 23 0 8 0 196 0 127 0 11 0 86 0 68 0 11 0 2 0-630 1 1 0 26 0 67 0 13 0 59 0 15 0 51 0 93 0 41 0 5 0 19 0 1 0 92 0 143 0-633 1 1 0 5 0 199 0 130 0 44 0 6 0 27 0 18 0 52 0 49 0 33 0 20 0 49 0-621 1 2 0 352 0 9 0 5 0 58 0 128 0 50 0-604 1 47 0 9 0 109 0 1 0 20 0 26 0 158 0 46 0 168 0-592 1 21 0 5 0 79 0 4 0 15 0 61 0 44 0 9 0 18 0 139 0 48 0 24 0 55 0 70 0 35 0-569 1 20 0 11 0 3 0 12 0 32 0 39 0 52 0 146 0 132 0 55 0 21 0-582 1 24 0 36 0 18 0 42 0 6 0 35 0 87 0 13 0 5 0 26 0 41 0 45 0 31 0 214 0 9 0-574 1 123 0 209 0 8 0 28 0 41 0 68 0 11 0 37 0 42 0-621 1 3 0 36 0 31 0 45 0 2 0 119 0 68 0 67 0 21 0 11 0 42 0 13 0 71 0 16 0 22 0 62 0-627 1 169 0 50 0 15 0 7 0 5 0 116 0 53 0 45 0 21 0 34 0 97 0 13 0-619 1 105 0 1 0 60 0 48 0 70 0 43 0 40 0 29 0 110 0 74 0 21 0 2 0 10 0 4 0 3 0-596 1 23 0 10 0 80 0 10 0 74 0 4 0 4 0 21 0 5 0 4 0 131 0 29 0 111 0 9 0 57 0 15 0 9 0-629 1 1 0 45 0 41 0 1 0 10 0 199 0 17 0 5 0 26 0 3 0 57 0 5 0 96 0 1 0 30 0 22 0 66 0-625 1 99 0 192 0 15 0 10 0 96 0 116 0 5 0-525 1 8 0 63 0 6 0 24 0 36 0 106 0 18 0 54 0 55 0 1 0 26 0 50 0 143 0 24 0-622 1 7 0 105 0 44 0 128 0 3 0 29 0 40 0 31 0 57 0 4 0 78 0 4 0 71 0-521 1 83 0 147 0 45 0 122 0 106 0 34 0 8 0-621 1 18 0 13 0 227 0 111 0 107 0 62 0 7 0 10 0 19 0 10 0 22 0 1 0-611 1 7 0 11 0 1 0 16 0 103 0 29 0 20 0 3 0 69 0 133 0 89 0 101 0 28 0 8 0 1 0 5 0-613 1 100 0 75 0 121 0 28 0 20 0 50 0 63 0 14 0 13 0 21 0 53 0-567 1 3 0 5 0 4 0 44 0 81 0 187 0 29 0 15 0 52 0 7 0 154 0 16 0 24 0-617 1 182 0 17 0 50 0 69 0 38 0 38 0 107 0 85 0 23 0-609 1 1 0 23 0 6 0 1 0 12 0 39 0 171 0 26 0 112 0 96 0 3 0 113 0-601 1 27 0 13 0 70 0 15 0 54 0 90 0 200 0 36 0 4 0 92 0-499 1 93 0 83 0 51 0 30 0 5 0 116 0 4 0 50 0 80 0 1 0 1 0-618 1 4 0 23 0 50 0 179 0 190 0 87 0-536 1 5 0 1 0 3 0 21 0 55 0 79 0 41 0 43 0 15 0 1 0 15 0 37 0 268 0 27 0-603 1 2 0 13 0 17 0 53 0 170 0 28 0 53 0 36 0 59 0 4 0 5 0 97 0 8 0 9 0 50 0 10 0-621 1 4 0 90 0 1 0 97 0 62 0 13 0 26 0 69 0 1 0 21 0 66 0 28 0 39 0 23 0-537 1 24 0 1 0 180 0 59 0 167 0 46 0 35 0 13 0 15 0 56 0-597 1 1 0 7 0 11 0 144 0 178 0 7 0 150 0 116 0-616 1 1 0 5 0 64 0 18 0 26 0 68 0 60 0 16 0 12 0 45 0 122 0 97 0 17 0 42 0 12 0-605 1 1 0 1 0 8 0 9 0 27 0 9 0 24 0 133 0 38 0 24 0 63 0 4 0 179 0 98 0 3 0-593 1 174 0 3 0 8 0 23 0 30 0 90 0 31 0 17 0 34 0 16 0 45 0 24 0 53 0-573 1 5 0 58 0 76 0 62 0 10 0 22 0 46 0 9 0 14 0 46 0 105 0 96 0 34 0 12 0 6 0-597 1 103 0 88 0 81 0 53 0 15 0 236 0 4 0 15 0 7 0-602 1 55 0 16 0 5 0 26 0 143 0 11 0 12 0 19 0 62 0 45 0 64 0 25 0 120 0 8 0 2 0-599 1 134 0 2 0 228 0 15 0 35 0 2 0 34 0 107 0 15 0 27 0-617 1 5 0 12 0 31 0 127 0 76 0 24 0 43 0 49 0 138 0 58 0 51 0-596 1 5 0 66 0 7 0 16 0 23 0 28 0 170 0 10 0 41 0 28 0 60 0 59 0 42 0 16 0 1 0 7 0 5 0 11 0 2 0-615 1 80 0 18 0 109 0 26 0 29 0 131 0 60 0 88 0-534 1 73 0 106 0 35 0 143 0 12 0 4 0 41 0 112 0 55 0 13 0 5 0-600 1 89 0 114 0 24 0 112 0 46 0 76 0 32 0 92 0 7 0 11 0 3 0 1 0-610 1 21 0 50 0 45 0 84 0 28 0 133 0 67 0 28 0 59 0 86 0 11 0 1 0-464 1 6 0 42 0 30 0 97 0 9 0 22 0 3 0 50 0 126 0 66 0-597 1 11 0 47 0 37 0 119 0 116 0 24 0 4 0 70 0 87 0 45 0 32 0 3 0-600 1 26 0 39 0 56 0 35 0 7 0 34 0 118 0 35 0 80 0 124 0 25 0 21 0 9 0 4 0-597 1 240 0 23 0 36 0 24 0 3 0 128 0 62 0 2 0 18 0 56 0 3 0-583 1 77 0 52 0 42 0 76 0 190 0 112 0 28 0 8 0-607 1 12 0 9 0 52 0 70 0 69 0 59 0 11 0 25 0 43 0 36 0 44 0 160 0 11 0 1 0-602 1 2 0 37 0 10 0 13 0 2 0 107 0 18 0 19 0 108 0 158 0 28 0 39 0 60 0-604 1 7 0 8 0 55 0 15 0 45 0 92 0 20 0 3 0 59 0 83 0 40 0 11 0 155 0-587 1 73 0 159 0 3 0 41 0 52 0 70 0 12 0 57 0 95 0 10 0 21 0 4 0-553 1 44 0 151 0 13 0 150 0 50 0 16 0 129 0-602 1 2 0 8 0 195 0 76 0 40 0 12 0 116 0 37 0 42 0 3 0 5 0 46 0 8 0-588 1 4 0 38 0 20 0 34 0 23 0 6 0 7 0 14 0 3 0 265 0 187 0-599 1 6 0 52 0 5 0 15 0 220 0 37 0 28 0 3 0 1 0 26 0 54 0 19 0 111 0 11 0-569 1 47 0 9 0 229 0 129 0 79 0 16 0 37 0 8 0 9 0 9 0 4 0 1 0-594 1 9 0 203 0 52 0 123 0 45 0 39 0 4 0 103 0 1 0 13 0 1 0-596 1 7 0 6 0 49 0 107 0 72 0 67 0 57 0 30 0 190 0 4 0 5 0 2 0-595 1 60 0 78 0 40 0 102 0 2 0 28 0 36 0 98 0 81 0 19 0 43 0-586 1 74 0 5 0 12 0 133 0 84 0 225 0 39 0-573 1 37 0 5 0 81 0 2 0 40 0 17 0 37 0 60 0 119 0 101 0 83 0 3 0 3 0 3 0 3 0-596 1 3 0 39 0 8 0 45 0 8 0 26 0 15 0 66 0 125 0 56 0 46 0 13 0 16 0 25 0 71 0 7 0 7 0 13 0-588 1 5 0 91 0 136 0 272 0 77 0-421 1 50 0 102 0 255 0-564 1 51 0 22 0 68 0 110 0 26 0 57 0 26 0 173 0-526 1 16 0 169 0 75 0 215 0 15 0 12 0 68 0 10 0-581 1 130 0 325 0 58 0 6 0 59 0-582 1 56 0 17 0 5 0 3 0 4 0 82 0 64 0 187 0 80 0 16 0 7 0-522 1 4 0 3 0 8 0 6 0 245 0 4 0 5 0 53 0 51 0 8 0 144 0 46 0 4 0 2 0-528 1 80 0 54 0 40 0 38 0 149 0 64 0 39 0 3 0 27 0-550 1 2 0 5 0 4 0 7 0 11 0 40 0 97 0 57 0 72 0 116 0 22 0-426 1 55 0 35 0 43 0 15 0 37 0 27 0 95 0 47 0 136 0 48 0-542 1 17 0 7 0 4 0 99 0 18 0 1 0 72 0 43 0 14 0 71 0 2 0 3 0 74 0 79 0 14 0 13 0 2 0 27 0 16 0-352 1 91 0 51 0 198 0-564 1 4 0 74 0 240 0 149 0 15 0 9 0 85 0 2 0-556 1 52 0 45 0 160 0 7 0 45 0 77 0 32 0 74 0 62 0-570 1 1 0 27 0 136 0 35 0 27 0 11 0 34 0 87 0 16 0 25 0 9 0 52 0 6 0 8 0 13 0 21 0 3 0 59 0-570 1 89 0 11 0 17 0 29 0 18 0 93 0 59 0 168 0 73 0 4 0-563 1 3 0 13 0 6 0 324 0 2 0 91 0 8 0 9 0 51 0-506 1 1 0 95 0 45 0 247 0 104 0 4 0 74 0-567 1 17 0 126 0 39 0 11 0 38 0 61 0 13 0 43 0 38 0 88 0 12 0 76 0-566 1 10 0 38 0 38 0 147 0 28 0 18 0 116 0 9 0 27 0 18 0 77 0 40 0-545 1 54 0 2 0 5 0 81 0 19 0 104 0 18 0 29 0 49 0 108 0 64 0 11 0-568 1 40 0 58 0 166 0 142 0 49 0 121 0-576 1 8 0 1 0 75 0 21 0 6 0 45 0 195 0 45 0 149 0 5 0 10 0-498 1 76 0 35 0 26 0 23 0 13 0 27 0 131 0 52 0 1 0 50 0 31 0 31 0 16 0 2 0-576 1 2 0 1 0 10 0 61 0 13 0 34 0 42 0 55 0 22 0 37 0 10 0 42 0 40 0 153 0 38 0 1 0 12 0-573 1 42 0 10 0 40 0 21 0 190 0 80 0 61 0 100 0-542 1 31 0 10 0 77 0 27 0 47 0 7 0 86 0 9 0 55 0 34 0 5 0 5 0 1 0 123 0 38 0 1 0 7 0 2 0 9 0-569 1 25 0 27 0 119 0 53 0 123 0 2 0 101 0 72 0 9 0 32 0-564 1 147 0 8 0 216 0 1 0 33 0 144 0-554 1 4 0 3 0 24 0 167 0 21 0 65 0 173 0 95 0 7 0-538 1 10 0 2 0 14 0 155 0 56 0 37 0 40 0 75 0 60 0 8 0 4 0 35 0 15 0 13 0 12 0-480 1 161 0 74 0 2 0 56 0 14 0 132 0 5 0 23 0 25 0-569 1 9 0 38 0 32 0 35 0 82 0 127 0 29 0 11 0 24 0 18 0 17 0 14 0 32 0 66 0 3 0 35 0 1 0 2 0-181 1 64 0 13 0 47 0 27 0 28 0-571 1 16 0 7 0 37 0 67 0 2 0 96 0 15 0 75 0 2 0 25 0 52 0 7 0 19 0 16 0 120 0 3 0 5 0 1 0-559 1 26 0 54 0 19 0 72 0 72 0 136 0 16 0 18 0 22 0 62 0 69 0-571 1 15 0 45 0 47 0 33 0 36 0 220 0 4 0 32 0 38 0 25 0 6 0 34 0 27 0-554 1 34 0 43 0 20 0 29 0 34 0 154 0 14 0 27 0 12 0 19 0 19 0 51 0 33 0 11 0 40 0 23 0-532 1 163 0 20 0 53 0 12 0 278 0-557 1 59 0 96 0 4 0 10 0 10 0 85 0 56 0 141 0-469 1 2 0 1 0 24 0 4 0 25 0 76 0 24 0 72 0 30 0 92 0 4 0 86 0 122 0 4 0-564 1 2 0 70 0 50 0 73 0 162 0 8 0 29 0 13 0 12 0 136 0-552 1 4 0 5 0 3 0 3 0 26 0 105 0 69 0 97 0 58 0 186 0 5 0-563 1 28 0 29 0 157 0 116 0 127 0 16 0 2 0 68 0 2 0 6 0 7 0 5 0-558 1 1 0 19 0 58 0 32 0 20 0 14 0 56 0 100 0 22 0 24 0 198 0 18 0-565 1 29 0 8 0 5 0 7 0 50 0 355 0 15 0 7 0 13 0 53 0-533 1 5 0 34 0 4 0 127 0 46 0 35 0 43 0 154 0 8 0 84 0-551 1 70 0 19 0 226 0 71 0 22 0 19 0 69 0-496 1 48 0 15 0 107 0 130 0 224 0 29 0 10 0-490 1 30 0 47 0 178 0 42 0 26 0 1 0 50 0 57 0 1 0 42 0-435 1 22 0 26 0 80 0 5 0 53 0 62 0 157 0 13 0 20 0 7 0 2 0 1 0-557 1 38 0 151 0 14 0 151 0 74 0 96 0-409 1 137 0 19 0 3 0 41 0 206 0 8 0 10 0-529 1 19 0 82 0 91 0 144 0 22 0 48 0 84 0 49 0 10 0 2 0-558 1 2 0 80 0 25 0 130 0 35 0 76 0 139 0 18 0 19 0 18 0-539 1 5 0 34 0 141 0 55 0 21 0 14 0 70 0 27 0 51 0 12 0 55 0 8 0 28 0 28 0-555 1 18 0 26 0 87 0 9 0 217 0 73 0 2 0 76 0 7 0-514 1 2 0 300 0 39 0 2 0 56 0 27 0 56 0 62 0 8 0 6 0-556 1 2 0 3 0 54 0 46 0 80 0 46 0 2 0 12 0 84 0 36 0 121 0-488 1 82 0 27 0 78 0 144 0-331 1 4 0 128 0 165 0 3 0 19 0 29 0 35 0 136 0 10 0 5 0-529 1 20 0 102 0 64 0 91 0 187 0 13 0 32 0-512 1 30 0 26 0 37 0 31 0 12 0 96 0 105 0 14 0 114 0 39 0 39 0 15 0-549 1 12 0 19 0 42 0 20 0 155 0 88 0 64 0 142 0-545 1 135 0 40 0 16 0 28 0 43 0 42 0 115 0 8 0 55 0 35 0 35 0-558 1 15 0 30 0 6 0 132 0 41 0 7 0 7 0 53 0 35 0 15 0 2 0 6 0 20 0 1 0 50 0 118 0 17 0-243 1 87 0 84 0 11 0 48 0 9 0 5 0-554 1 39 0 41 0 94 0 71 0 38 0 57 0 3 0 3 0 3 0 5 0 50 0 29 0-410 1 35 0 25 0 114 0 124 0 9 0 9 0 45 0 14 0 67 0 4 0 9 0 27 0 27 0 8 0 8 0 5 0-547 1 15 0 97 0 10 0 170 0 46 0 57 0 41 0 39 0 70 0-553 1 29 0 33 0 14 0 65 0 24 0 141 0 23 0 3 0-327 1 28 0 56 0 7 0 22 0 1 0 63 0 54 0 14 0 108 0 56 0 31 0 96 0 3 0 2 0 3 0 5 0-359 1 49 0 17 0 94 0 76 0 4 0 18 0 31 0 62 0 1 0 3 0-288 1 39 0 13 0 62 0 18 0 29 0 35 0 51 0 8 0 37 0-551 1 1 0 22 0 104 0 106 0 12 0 69 0 122 0 34 0 19 0 59 0-538 1 5 0 3 0 283 0 2 0 20 0 186 0 21 0 2 0 13 0 5 0-547 1 8 0 28 0 13 0 24 0 139 0 77 0 64 0 60 0 17 0 102 0 14 0-543 1 2 0 94 0 34 0 105 0 62 0 212 0-437 1 43 0 23 0 63 0 150 0 8 0 27 0 127 0 17 0 12 0-545 1 187 0 54 0 4 0 97 0 4 0 28 0 1 0 15 0 35 0 16 0 26 0 30 0 31 0-502 1 6 0 47 0 20 0 35 0 16 0 7 0 125 0 5 0 16 0 129 0 34 0 27 0 51 0-519 1 10 0 16 0 54 0 22 0 86 0 1 0 51 0 48 0 164 0 7 0 48 0 13 0-544 1 3 0 7 0 111 0 12 0 80 0 23 0 49 0 18 0 22 0 12 0 60 0 94 0 42 0-533 1 4 0 54 0 85 0 59 0 81 0 8 0 22 0 10 0 80 0 73 0 3 0 27 0 29 0 4 0-537 1 11 0 4 0 79 0 72 0 13 0 7 0 2 0 63 0 8 0 20 0 6 0 29 0 19 0 13 0 4 0 17 0 10 0 10 0 6 0 1 0 21 0 26 0 38 0 30 0 17 0 4 0 6 0 1 0-467 1 18 0 1 0 66 0 80 0 57 0 8 0 47 0 147 0-489 1 25 0 19 0 7 0 43 0 3 0 22 0 27 0 44 0 31 0 4 0 4 0 26 0 14 0 31 0 76 0 23 0 1 0 28 0 26 0 2 0 3 0 26 0 4 0 42 0-537 1 9 0 19 0 81 0 54 0 35 0 52 0 10 0 28 0 27 0 19 0 21 0 25 0 72 0 9 0 18 0 50 0 2 0 6 0-533 1 4 0 69 0 2 0 2 0 44 0 20 0 54 0 26 0 21 0 62 0 5 0 6 0 13 0 12 0 195 0 1 0-532 1 46 0 72 0 22 0 11 0 16 0 19 0 23 0 28 0 13 0 6 0 17 0 4 0 44 0 30 0 159 0 18 0 2 0-537 1 8 0 25 0 26 0 22 0 6 0 3 0 10 0 44 0 1 0 28 0 12 0 9 0 54 0 2 0 78 0 22 0 35 0 104 0 6 0 26 0-518 1 3 0 1 0 70 0 25 0 13 0 121 0 49 0 18 0 8 0 12 0 10 0 10 0 5 0 1 0 42 0 112 0 33 0-535 1 78 0 62 0 3 0 55 0 17 0 11 0 57 0 11 0 5 0 3 0 1 0 2 0 5 0 29 0 131 0 15 0 17 0 19 0 12 0-535 1 3 0 60 0 24 0 1 0 9 0 37 0 116 0 24 0 49 0 5 0 20 0 8 0 73 0 14 0 2 0 11 0 17 0 5 0 30 0 27 0-530 1 53 0 7 0 19 0 7 0 179 0 25 0 11 0 4 0 71 0 13 0 23 0 20 0 25 0 7 0 5 0 7 0 37 0-500 1 43 0 86 0 50 0 33 0 20 0 17 0 7 0 38 0 29 0 30 0 30 0 52 0 12 0 3 0 18 0-485 1 2 0 9 0 79 0 35 0 64 0 3 0 12 0 20 0 16 0 34 0 55 0 7 0 16 0 19 0 22 0 20 0 6 0 71 0 28 0 1 0 13 0 4 0-534 1 1 0 1 0 28 0 65 0 12 0 25 0 8 0 10 0 15 0 13 0 57 0 13 0 15 0 7 0 18 0 5 0 1 0 7 0 28 0 16 0 76 0 12 0 1 0 11 0 20 0 31 0 24 0 7 0-496 1 22 0 46 0 2 0 39 0 34 0 84 0 19 0 22 0 20 0 1 0 9 0 43 0 88 0 43 0 14 0 8 0-522 1 8 0 27 0 61 0 6 0 9 0 30 0 8 0 31 0 19 0 14 0 14 0 34 0 24 0 2 0 1 0 10 0 27 0 28 0 13 0 14 0 9 0 6 0 36 0 23 0 46 0 12 0 15 0-524 1 7 0 88 0 11 0 47 0 50 0 82 0 17 0 36 0 43 0 2 0 53 0-440 1 12 0 95 0 14 0 10 0 18 0 26 0 4 0 4 0 54 0 34 0 2 0 7 0 7 0 8 0 16 0 3 0 3 0 5 0 8 0 14 0 16 0 46 0 12 0 25 0 8 0 16 0 13 0 32 0 7 0 5 0-516 1 15 0 52 0 5 0 35 0 25 0 2 0 9 0 42 0 32 0 24 0 3 0 3 0 4 0 3 0 17 0 8 0 1 0 8 0 7 0 20 0 4 0 33 0 3 0 16 0 8 0 80 0 28 0 23 0 5 0 2 0-518 1 59 0 96 0 76 0 7 0 7 0 3 0 7 0 13 0 5 0 6 0 1 0 8 0 45 0 34 0 42 0 60 0 8 0 9 0 7 0 18 0 10 0-502 1 50 0 11 0 37 0 10 0 22 0 30 0 10 0 7 0 16 0 37 0 29 0 2 0 1 0 5 0 11 0 11 0 21 0 24 0 5 0 64 0 51 0 2 0-465 1 6 0 78 0 45 0 9 0 29 0 7 0 67 0 7 0 3 0 1 0 1 0 6 0 14 0 2 0 7 0 7 0 2 0 19 0 94 0 28 0-356 1 2 0 33 0 35 0 15 0 1 0 10 0 16 0 14 0 7 0 7 0 5 0 7 0 3 0 15 0 18 0 6 0 3 0 3 0 5 0 4 0 6 0 13 0 16 0 62 0 7 0 9 0 32 0 17 0 15 0 26 0 1 0 19 0-515 1 48 0 19 0 3 0 3 0 55 0 1 0 19 0 47 0 1 0 19 0 25 0 12 0 8 0 2 0 3 0 8 0 16 0 3 0 9 0 23 0 16 0 8 0 2 0 22 0 4 0 21 0 28 0 32 0 53 0 6 0-418 1 20 0 12 0 55 0 12 0 13 0 2 0 4 0 5 0 10 0 3 0 5 0 5 0 4 0 7 0 3 0 5 0 3 0 6 0 11 0 5 0 4 0 71 0 106 0 35 0 1 0 11 0-517 1 1 0 16 0 43 0 69 0 23 0 7 0 30 0 22 0 15 0 8 0 8 0 11 0 30 0 2 0 1 0 3 0 1 0 3 0 11 0 16 0 10 0 9 0 24 0 2 0 1 0 6 0 1 0 56 0 49 0 18 0 17 0-516 1 6 0 18 0 35 0 6 0 8 0 13 0 20 0 6 0 46 0 14 0 10 0 3 0 11 0 37 0 19 0 6 0 12 0 4 0 1 0 1 0 2 0 4 0 1 0 7 0 15 0 4 0 13 0 97 0 1 0 72 0-433 1 24 0 24 0 25 0 6 0 7 0 41 0 21 0 9 0 3 0 3 0 2 0 20 0 8 0 13 0 1 0 7 0 3 0 1 0 1 0 4 0 1 0 5 0 2 0 1 0 3 0 7 0 10 0 29 0 54 0 67 0 24 0 7 0 20 0 1 0 4 0-515 1 40 0 64 0 1 0 13 0 4 0 7 0 6 0 10 0 5 0 16 0 25 0 3 0 11 0 12 0 1 0 1 0 12 0 8 0 11 0 2 0 1 0 1 0 15 0 5 0 2 0 1 0 11 0 14 0 1 0 17 0 3 0 25 0 13 0 12 0 20 0 8 0 25 0 15 0 16 0 4 0 3 0 4 0 5 0 25 0-496 1 7 0 8 0 34 0 2 0 11 0 3 0 3 0 64 0 22 0 5 0 9 0 12 0 2 0 11 0 38 0 1 0 1 0 4 0 10 0 6 0 3 0 6 0 5 0 5 0 1 0 6 0 4 0 8 0 9 0 26 0 11 0 17 0 11 0 17 0 2 0 24 0 22 0 2 0 35 0 8 0-457 1 6 0 60 0 10 0 3 0 15 0 11 0 1 0 61 0 5 0 16 0 2 0 9 0 2 0 8 0 4 0 2 0 3 0 2 0 21 0 4 0 13 0 2 0 4 0 8 0 2 0 3 0 8 0 3 0 2 0 9 0 4 0 6 0 20 0 14 0 14 0 2 0 20 0 52 0-438 1 11 0 23 0 21 0 7 0 5 0 4 0 2 0 2 0 14 0 3 0 19 0 7 0 5 0 4 0 28 0 4 0 9 0 5 0 2 0 4 0 16 0 9 0 9 0 8 0 21 0 15 0 3 0 2 0 5 0 2 0 1 0 5 0 5 0 8 0 4 0 3 0 3 0 18 0 12 0 16 0 5 0 25 0 16 0 50 0 17 0 28 0 13 0-508 1 11 0 20 0 85 0 14 0 4 0 9 0 4 0 13 0 13 0 10 0 8 0 12 0 10 0 1 0 16 0 3 0 10 0 1 0 3 0 2 0 1 0 2 0 1 0 24 0 3 0 1 0 6 0 4 0 3 0 17 0 1 0 1 0 8 0 1 0 1 0 1 0 11 0 4 0 3 0 51 0 30 0 33 0 54 0 1 0-505 1 5 0 1 0 40 0 16 0 8 0 3 0 11 0 15 0 5 0 4 0 11 0 17 0 3 0 9 0 3 0 9 0 1 0 9 0 1 0 6 0 1 0 1 0 4 0 11 0 23 0 19 0 5 0 1 0 2 0 8 0 2 0 2 0 2 0 3 0 2 0 14 0 22 0 5 0 10 0 6 0 13 0 4 0 1 0 7 0 3 0 1 0 4 0 30 0 24 0 50 0 28 0 17 0-491 1 9 0 1 0 23 0 9 0 16 0 2 0 44 0 10 0 46 0 9 0 1 0 9 0 2 0 1 0 9 0 3 0 6 0 13 0 2 0 3 0 9 0 3 0 1 0 2 0 2 0 9 0 4 0 26 0 28 0 1 0 33 0 23 0 21 0 3 0 40 0 19 0 51 0 1 0-506 1 36 0 23 0 16 0 16 0 6 0 1 0 12 0 8 0 1 0 14 0 3 0 2 0 4 0 9 0 1 0 19 0 3 0 50 0 4 0 2 0 9 0 12 0 26 0 1 0 20 0 1 0 26 0 12 0 11 0 2 0 6 0 13 0 7 0 2 0 8 0 43 0 9 0 2 0 7 0 17 0 1 0 6 0 13 0 1 0 19 0-470 1 15 0 6 0 7 0 5 0 6 0 6 0 18 0 6 0 13 0 6 0 4 0 2 0 5 0 1 0 10 0 1 0 25 0 2 0 10 0 14 0 1 0 3 0 11 0 1 0 11 0 17 0 12 0 7 0 22 0 13 0 11 0 6 0 11 0 7 0 17 0 1 0 7 0 9 0 11 0 4 0 6 0 13 0 15 0 1 0 9 0 5 0 9 0 17 0 31 0 10 0 2 0-476 1 6 0 8 0 3 0 4 0 10 0 1 0 3 0 1 0 8 0 14 0 2 0 5 0 22 0 1 0 12 0 2 0 2 0 6 0 2 0 43 0 11 0 2 0 3 0 3 0 19 0 25 0 2 0 38 0 21 0 12 0 3 0 7 0 17 0 2 0 2 0 5 0 10 0 14 0 16 0 12 0 8 0 3 0 2 0 4 0 1 0 10 0 19 0 5 0 16 0 2 0 7 0 11 0-485 1 20 0 15 0 10 0 7 0 3 0 8 0 1 0 11 0 3 0 3 0 12 0 11 0 3 0 2 0 6 0 1 0 19 0 3 0 2 0 14 0 2 0 3 0 1 0 8 0 1 0 4 0 3 0 2 0 8 0 1 0 12 0 4 0 24 0 2 0 3 0 24 0 11 0 16 0 42 0 34 0 2 0 23 0 2 0 28 0 3 0 12 0 26 0 6 0 7 0-469 1 17 0 15 0 20 0 5 0 2 0 6 0 8 0 6 0 2 0 3 0 2 0 9 0 12 0 1 0 13 0 9 0 1 0 5 0 9 0 6 0 1 0 5 0 7 0 4 0 3 0 1 0 3 0 3 0 5 0 4 0 6 0 1 0 10 0 44 0 9 0 4 0 17 0 31 0 25 0 2 0 7 0 2 0 1 0 2 0 2 0 1 0 11 0 9 0 6 0 7 0 1 0 6 0 4 0 17 0 6 0 8 0 19 0 3 0 27 0 1 0 2 0 5 0 19 0-498 1 2 0 40 0 25 0 6 0 3 0 5 0 8 0 1 0 1 0 1 0 2 0 12 0 1 0 3 0 2 0 7 0 1 0 4 0 6 0 3 0 5 0 2 0 14 0 8 0 2 0 8 0 1 0 6 0 4 0 6 0 2 0 1 0 21 0 4 0 10 0 17 0 1 0 3 0 36 0 3 0 15 0 4 0 4 0 27 0 1 0 1 0 2 0 11 0 3 0 6 0 17 0 12 0 1 0 2 0 21 0 4 0 4 0 26 0 5 0 1 0 1 0 20 0 17 0-486 1 1 0 9 0 16 0 17 0 4 0 5 0 2 0 3 0 3 0 1 0 2 0 2 0 1 0 13 0 2 0 1 0 2 0 16 0 4 0 1 0 2 0 5 0 1 0 4 0 2 0 3 0 13 0 5 0 1 0 19 0 5 0 7 0 1 0 1 0 44 0 4 0 2 0 67 0 3 0 26 0 3 0 15 0 2 0 2 0 2 0 18 0 11 0 2 0 2 0 3 0 1 0 1 0 4 0 12 0 14 0 6 0 10 0 13 0 17 0 9 0 19 0 1 0-493 1 8 0 27 0 12 0 3 0 24 0 1 0 1 0 4 0 4 0 2 0 2 0 6 0 1 0 19 0 2 0 3 0 1 0 10 0 3 0 8 0 11 0 5 0 6 0 6 0 18 0 39 0 31 0 25 0 21 0 11 0 10 0 7 0 1 0 3 0 6 0 6 0 8 0 2 0 6 0 17 0 5 0 7 0 17 0 9 0 6 0 20 0 9 0 7 0 4 0 3 0-467 1 3 0 2 0 7 0 13 0 4 0 10 0 3 0 6 0 2 0 4 0 3 0 1 0 1 0 1 0 11 0 2 0 3 0 1 0 2 0 10 0 3 0 6 0 6 0 2 0 1 0 1 0 1 0 2 0 2 0 4 0 7 0 5 0 9 0 11 0 18 0 4 0 35 0 1 0 26 0 1 0 4 0 14 0 10 0 18 0 19 0 22 0 27 0 8 0 8 0 5 0 1 0 3 0 4 0 5 0 1 0 11 0 3 0 9 0 24 0 2 0 2 0 3 0 14 0 4 0 4 0-451 1 7 0 31 0 2 0 4 0 1 0 1 0 6 0 5 0 1 0 8 0 4 0 8 0 1 0 10 0 2 0 2 0 4 0 2 0 1 0 1 0 4 0 3 0 7 0 49 0 15 0 3 0 26 0 22 0 2 0 15 0 1 0 12 0 60 0 6 0 1 0 10 0 5 0 6 0 5 0 4 0 11 0 8 0 5 0 6 0 5 0 36 0 5 0 15 0 1 0 4 0 2 0 1 0 1 0 5 0 11 0-478 1 8 0 7 0 25 0 7 0 2 0 3 0 4 0 8 0 2 0 1 0 5 0 2 0 1 0 5 0 11 0 8 0 2 0 3 0 3 0 1 0 1 0 2 0 3 0 16 0 5 0 15 0 15 0 8 0 20 0 7 0 36 0 11 0 17 0 27 0 1 0 28 0 25 0 12 0 2 0 1 0 2 0 4 0 2 0 10 0 5 0 9 0 1 0 5 0 17 0 4 0 1 0 6 0 1 0 2 0 1 0 1 0 3 0 3 0 19 0 16 0 1 0 6 0 2 0 8 0-480 1 11 0 24 0 5 0 2 0 3 0 1 0 3 0 2 0 2 0 8 0 4 0 3 0 5 0 4 0 7 0 5 0 1 0 1 0 6 0 12 0 2 0 8 0 58 0 3 0 15 0 25 0 7 0 9 0 15 0 4 0 1 0 4 0 1 0 30 0 23 0 2 0 11 0 21 0 2 0 6 0 5 0 1 0 1 0 7 0 3 0 6 0 2 0 5 0 2 0 9 0 6 0 5 0 1 0 5 0 12 0 13 0 5 0 4 0 1 0 6 0 1 0 19 0-486 1 4 0 4 0 34 0 3 0 3 0 3 0 21 0 9 0 1 0 7 0 9 0 2 0 4 0 1 0 2 0 10 0 26 0 2 0 7 0 5 0 30 0 12 0 25 0 1 0 50 0 45 0 6 0 3 0 16 0 3 0 13 0 1 0 3 0 5 0 1 0 5 0 9 0 6 0 3 0 2 0 7 0 1 0 3 0 5 0 1 0 11 0 3 0 1 0 1 0 5 0 3 0 1 0 3 0 5 0 1 0 1 0 25 0 7 0 14 0-482 1 6 0 1 0 23 0 5 0 3 0 1 0 3 0 1 0 6 0 2 0 2 0 13 0 8 0 4 0 3 0 11 0 2 0 17 0 17 0 25 0 17 0 49 0 75 0 2 0 38 0 4 0 8 0 2 0 6 0 12 0 2 0 3 0 6 0 1 0 1 0 8 0 4 0 3 0 16 0 2 0 1 0 7 0 5 0 4 0 1 0 10 0 4 0 1 0 2 0 2 0 14 0 12 0 1 0 2 0-486 1 18 0 12 0 2 0 11 0 2 0 7 0 1 0 1 0 8 0 1 0 5 0 2 0 7 0 11 0 2 0 12 0 2 0 1 0 16 0 77 0 9 0 10 0 24 0 5 0 102 0 3 0 3 0 3 0 6 0 15 0 1 0 1 0 10 0 3 0 4 0 1 0 1 0 1 0 6 0 4 0 1 0 3 0 8 0 15 0 6 0 1 0 1 0 5 0 4 0 1 0 7 0 7 0 2 0 6 0 7 0-486 1 12 0 16 0 10 0 3 0 1 0 1 0 1 0 1 0 2 0 2 0 5 0 5 0 2 0 3 0 1 0 2 0 1 0 7 0 1 0 1 0 1 0 1 0 5 0 5 0 2 0 2 0 11 0 6 0 3 0 4 0 12 0 11 0 3 0 2 0 4 0 35 0 8 0 28 0 5 0 23 0 56 0 22 0 22 0 7 0 12 0 11 0 1 0 8 0 1 0 5 0 6 0 3 0 2 0 15 0 1 0 1 0 3 0 6 0 6 0 2 0 1 0 2 0 7 0 3 0 1 0 7 0 3 0-462 1 1 0 5 0 1 0 10 0 4 0 7 0 4 0 3 0 4 0 1 0 3 0 3 0 1 0 3 0 2 0 1 0 1 0 2 0 5 0 4 0 1 0 1 0 5 0 3 0 1 0 1 0 3 0 7 0 20 0 1 0 1 0 16 0 4 0 1 0 7 0 14 0 12 0 43 0 28 0 28 0 18 0 83 0 6 0 6 0 1 0 2 0 6 0 2 0 6 0 11 0 2 0 9 0 9 0 2 0 1 0 5 0 6 0 4 0 1 0 5 0 5 0 3 0 1 0 1 0 5 0 8 0 6 0 5 0 5 0 1 0 1 0-471 1 19 0 4 0 2 0 8 0 1 0 1 0 1 0 7 0 4 0 5 0 2 0 1 0 13 0 16 0 6 0 52 0 1 0 45 0 21 0 6 0 45 0 33 0 4 0 12 0 12 0 13 0 4 0 15 0 5 0 1 0 9 0 2 0 6 0 4 0 3 0 2 0 2 0 4 0 2 0 3 0 9 0 1 0 8 0 1 0 8 0 6 0 2 0 1 0 1 0 10 0-457 1 5 0 20 0 7 0 18 0 3 0 7 0 1 0 1 0 4 0 1 0 4 0 5 0 2 0 6 0 4 0 2 0 5 0 1 0 3 0 5 0 9 0 10 0 1 0 4 0 22 0 6 0 15 0 13 0 166 0 5 0 20 0 7 0 3 0 1 0 3 0 6 0 5 0 7 0 2 0 2 0 7 0 1 0 2 0 5 0 16 0 1 0 3 0 1 0 18 0 1 0 5 0 4 0 2 0 1 0-474 1 17 0 9 0 9 0 7 0 1 0 2 0 4 0 1 0 6 0 2 0 6 0 7 0 9 0 2 0 3 0 2 0 25 0 17 0 10 0 8 0 24 0 76 0 24 0 4 0 27 0 10 0 19 0 24 0 2 0 11 0 1 0 1 0 4 0 6 0 2 0 11 0 5 0 1 0 1 0 2 0 2 0 1 0 2 0 3 0 1 0 7 0 1 0 3 0 6 0 5 0 4 0 6 0 1 0 4 0 1 0 2 0 1 0 3 0 10 0 1 0 1 0-461 1 5 0 19 0 2 0 9 0 8 0 11 0 4 0 3 0 2 0 6 0 1 0 21 0 9 0 5 0 3 0 20 0 4 0 8 0 15 0 59 0 34 0 3 0 99 0 5 0 5 0 7 0 2 0 6 0 6 0 5 0 2 0 2 0 4 0 1 0 5 0 1 0 1 0 1 0 5 0 2 0 4 0 3 0 3 0 4 0 1 0 3 0 8 0 3 0 2 0 1 0 3 0 1 0 1 0 4 0 4 0 5 0 1 0 8 0-438 1 5 0 4 0 22 0 11 0 5 0 7 0 12 0 19 0 24 0 159 0 2 0 11 0 36 0 10 0 15 0 2 0 6 0 7 0 2 0 12 0 8 0 1 0 4 0 7 0 3 0 1 0 1 0 1 0 3 0 1 0 2 0 5 0 6 0 3 0 4 0 17 0-455 1 2 0 1 0 11 0 4 0 1 0 12 0 8 0 4 0 1 0 9 0 2 0 85 0 38 0 6 0 71 0 14 0 33 0 33 0 16 0 1 0 6 0 4 0 10 0 4 0 3 0 1 0 2 0 1 0 1 0 2 0 5 0 2 0 2 0 5 0 5 0 6 0 1 0 10 0 3 0 1 0 3 0 5 0 9 0 4 0 6 0 1 0-475 1 21 0 1 0 6 0 5 0 1 0 7 0 13 0 2 0 2 0 2 0 4 0 1 0 1 0 2 0 2 0 7 0 8 0 4 0 1 0 3 0 6 0 12 0 13 0 7 0 168 0 72 0 4 0 3 0 1 0 21 0 4 0 3 0 1 0 1 0 3 0 1 0 2 0 7 0 1 0 1 0 1 0 5 0 1 0 1 0 2 0 9 0 2 0 4 0 1 0 1 0 6 0 3 0 10 0 2 0 2 0-473 1 1 0 4 0 2 0 12 0 3 0 1 0 1 0 4 0 1 0 2 0 2 0 19 0 2 0 3 0 18 0 18 0 10 0 17 0 8 0 35 0 119 0 33 0 15 0 18 0 3 0 17 0 11 0 10 0 2 0 6 0 2 0 13 0 1 0 1 0 5 0 2 0 2 0 1 0 1 0 13 0 4 0 8 0 10 0 12 0-468 1 12 0 1 0 2 0 2 0 16 0 5 0 2 0 3 0 3 0 7 0 30 0 4 0 21 0 14 0 31 0 24 0 5 0 19 0 27 0 84 0 14 0 34 0 4 0 1 0 2 0 1 0 14 0 10 0 3 0 9 0 3 0 1 0 10 0 16 0 3 0 6 0 2 0 1 0 4 0 2 0 2 0 3 0 2 0 2 0 1 0 1 0 1 0 1 0-459 1 1 0 1 0 6 0 4 0 8 0 1 0 4 0 7 0 6 0 8 0 4 0 9 0 2 0 1 0 20 0 16 0 30 0 75 0 147 0 13 0 7 0 2 0 3 0 3 0 7 0 9 0 1 0 3 0 2 0 1 0 8 0 2 0 2 0 1 0 4 0 2 0 1 0 8 0 2 0 5 0 3 0 4 0 1 0 2 0 11 0-490 1 25 0 3 0 27 0 22 0 3 0 1 0 7 0 11 0 6 0 26 0 3 0 67 0 16 0 67 0 73 0 23 0 1 0 1 0 11 0 3 0 1 0 7 0 2 0 21 0 5 0 7 0 7 0 5 0 3 0 6 0 3 0 4 0 4 0 1 0 10 0 1 0 4 0 6 0 1 0 20 0-487 1 5 0 6 0 19 0 3 0 4 0 11 0 1 0 7 0 12 0 3 0 3 0 26 0 6 0 71 0 6 0 142 0 5 0 42 0 18 0 3 0 12 0 5 0 2 0 3 0 1 0 3 0 1 0 1 0 1 0 1 0 2 0 10 0 2 0 1 0 20 0 1 0 1 0 1 0 1 0 1 0-467 1 18 0 14 0 1 0 7 0 10 0 13 0 4 0 15 0 7 0 3 0 20 0 134 0 33 0 24 0 23 0 14 0 40 0 2 0 1 0 1 0 1 0 4 0 13 0 9 0 6 0 9 0 3 0 3 0 2 0 3 0 2 0 10 0 10 0 20 0-473 1 17 0 1 0 2 0 3 0 1 0 2 0 1 0 4 0 60 0 13 0 92 0 22 0 54 0 96 0 16 0 3 0 9 0 7 0 3 0 5 0 1 0 2 0 6 0 7 0 12 0 5 0 2 0 8 0 1 0 1 0 2 0-454 1 8 0 9 0 1 0 3 0 5 0 9 0 33 0 4 0 6 0 6 0 74 0 48 0 15 0 139 0 1 0 4 0 13 0 4 0 2 0 1 0 1 0 5 0 10 0 8 0 1 0 4 0 2 0 3 0 2 0 4 0 2 0 1 0 4 0 5 0 19 0 54 0-503 1 12 0 11 0 4 0 10 0 6 0 305 0 10 0 3 0 7 0 3 0 3 0 1 0 3 0 4 0 1 0 9 0 3 0 8 0 1 0 7 0 3 0 4 0 3 0 6 0 1 0 18 0-457 1 10 0 3 0 5 0 29 0 12 0 12 0 9 0 4 0 18 0 33 0 219 0 18 0 10 0 7 0 10 0 1 0 10 0 2 0 9 0 10 0 2 0 4 0 12 0 2 0 1 0 20 0-464 1 8 0 1 0 6 0 2 0 3 0 13 0 8 0 6 0 19 0 8 0 127 0 96 0 21 0 3 0 6 0 11 0 8 0 18 0 15 0 11 0 2 0 10 0 1 0 7 0 7 0 5 0 9 0 13 0 4 0 1 0 2 0-457 1 5 0 1 0 13 0 1 0 1 0 63 0 12 0 142 0 139 0 9 0 2 0 13 0 10 0 13 0 17 0 1 0 4 0 3 0 1 0 1 0 4 0 4 0 12 0 3 0-461 1 3 0 3 0 1 0 2 0 1 0 1 0 13 0 30 0 6 0 37 0 20 0 21 0 109 0 57 0 12 0 41 0 2 0 30 0 3 0 14 0 16 0 11 0 1 0 4 0 2 0 29 0-473 1 3 0 1 0 1 0 2 0 16 0 117 0 46 0 145 0 14 0 13 0 9 0 27 0 1 0 5 0 11 0 14 0 5 0 5 0 6 0 6 0-400 1 9 0 2 0 17 0 10 0 65 0 199 0 34 0 15 0 8 0 1 0 9 0 23 0 1 0 5 0-444 1 4 0 7 0 2 0 23 0 185 0 18 0 133 0 1 0 19 0 15 0 4 0 11 0 5 0 12 0 8 0 2 0 2 0 2 0-464 1 16 0 3 0 4 0 4 0 336 0 19 0 12 0 3 0 8 0 3 0 11 0 6 0 5 0 9 0 11 0 6 0-437 1 55 0 17 0 80 0 185 0 29 0 3 0 19 0 30 0 12 0-451 1 14 0 4 0 11 0 28 0 86 0 87 0 39 0 181 0 1 0 1 0 4 0 5 0 10 0-478 1 5 0 27 0 6 0 15 0 28 0 8 0 17 0 186 0 168 0 2 0 9 0-443 1 4 0 56 0 263 0 60 0 7 0 2 0 4 0 54 0-459 1 6 0 17 0 124 0 142 0 81 0 25 0 34 0 22 0-447 1 6 0 3 0 25 0 70 0 4 0 316 0 6 0 10 0-437 1 130 0 260 0 22 0 18 0 4 0-431 1 35 0 100 0 233 0 61 0-429 1 381 0 54 0-443 1 9 0 378 0 59 0 3 0-411 1 24 0 342 0 5 0 5 0 24 0 3 0 4 0-442 1 1 0 443 0-443 1 8 1 364 0 61 0-443 1 13 0 393 0 40 0-341 1 190 0 98 0 51 0-437 1 11 0 18 0 395 0-419 1 396 0 32 0-365 1 263 2 109 1-5 1-376 2 338 1 44 0-102 2 34 6-5 4-275 2" fill="none" stroke="none" marker-start="url(#q)" marker-mid="url(#q)" marker-end="url(#q)"/>
<rect x="234.3" y="43.3" width="875.7" height="586.3" fill="none" stroke="#0000d2" stroke-width="4.6"/>
<text x="208.0" y="51.8" font-size="41.5" text-anchor="end" class="t">0</text>
<text x="208.0" y="135.5" font-size="41.5" text-anchor="end" class="t">-0.005</text>
<text x="208.0" y="219.3" font-size="41.5" text-anchor="end" class="t">-0.01</text>
<text x="208.0" y="303.0" font-size="41.5" text-anchor="end" class="t">-0.015</text>
<text x="208.0" y="386.8" font-size="41.5" text-anchor="end" class="t">-0.02</text>
<text x="208.0" y="470.5" font-size="41.5" text-anchor="end" class="t">-0.025</text>
<text x="208.0" y="554.3" font-size="41.5" text-anchor="end" class="t">-0.03</text>
<text x="208.0" y="638.1" font-size="41.5" text-anchor="end" class="t">-0.035</text>
<text x="228.1" y="678.9" font-size="41.5" text-anchor="middle" class="t">-15</text>
<text x="371.9" y="678.9" font-size="41.5" text-anchor="middle" class="t">-10</text>
<text x="520.3" y="678.9" font-size="41.5" text-anchor="middle" class="t">-5</text>
<text x="664.1" y="678.9" font-size="41.5" text-anchor="middle" class="t">0</text>
<text x="812.0" y="678.9" font-size="41.5" text-anchor="middle" class="t">5</text>
<text x="956.1" y="678.9" font-size="41.5" text-anchor="middle" class="t">10</text>
<text x="1103.2" y="678.9" font-size="41.5" text-anchor="middle" class="t">15</text>
<text x="276.8" y="87.9" font-size="48">(</text>
<text x="290.1" y="91.0" font-size="56" style="fill:#1a1a1a">a</text>
<text x="321.0" y="87.9" font-size="48">)</text>
<path d="M1493.5 43.3V626.4M1639.5 43.3V626.4M1785.5 43.3V626.4M1931.5 43.3V626.4M2077.5 43.3V626.4M1347.5 116.2H2223.5M1347.5 189.1H2223.5M1347.5 262.0H2223.5M1347.5 334.9H2223.5M1347.5 407.7H2223.5M1347.5 480.6H2223.5M1347.5 553.5H2223.5" stroke="#0000d2" stroke-width="4.6" stroke-dasharray="4.7 4.6" fill="none"/>
<path d="M1493.5 43.3v25.5M1493.5 626.4v-25.5M1639.5 43.3v25.5M1639.5 626.4v-25.5M1785.5 43.3v25.5M1785.5 626.4v-25.5M1931.5 43.3v25.5M1931.5 626.4v-25.5M2077.5 43.3v25.5M2077.5 626.4v-25.5M1347.5 116.2h25.5M2223.5 116.2h-25.5M1347.5 189.1h25.5M2223.5 189.1h-25.5M1347.5 262.0h25.5M2223.5 262.0h-25.5M1347.5 334.9h25.5M2223.5 334.9h-25.5M1347.5 407.7h25.5M2223.5 407.7h-25.5M1347.5 480.6h25.5M2223.5 480.6h-25.5M1347.5 553.5h25.5M2223.5 553.5h-25.5" stroke="#0000d2" stroke-width="4.6" fill="none"/>
<path d="m1783 44 8 9-5 2 8 3 6 0-33 1 0 1 7 1 18 0-23 2 9 0 29 0-38 1 1 4 27 1-8 1 15 1-28 1 16 0-32 2 9 6 38 0-57 1 0 1 11 0 17 2 23 0-13 1 31 1-40 1 10 5 6 0-27 3 8 0 42 0-34 2-11 1 33 0-63 1 82 1-52 1 37 0-16 1 11 0 20 0-70 3 38 0-35 1 0 1 46 0-21 1 23 0-48 1 18 0-11 1 4 0 41 0 14 0-34 1 9 0 19 0 4 0-66 1 61 0-470 1 159 0 79 0 100 0 135 0 64 0 193 0 33 0 31 0 60 0 18 0-872 1 1 0 2 0 5 0 7 0 22 0 1 0 5 0 5 0 6 0 5 0 23 0 17 0 12 0 14 0 41 0 9 0 7 0 4 0 46 0 17 0 3 0 40 0 39 0 21 0 13 0 87 0 6 0 6 0 20 0 21 0 12 0 18 0 45 0 16 0 15 0 17 0 172 0 16 0 25 0 18 0 3 0 10 0-865 1 4 0 7 0 5 0 31 0 11 0 19 0 6 0 85 0 21 0 22 0 60 0 17 0 8 0 24 0 16 0 46 0 112 0 46 0 6 0 32 0 28 0 28 0 2 0 2 0 23 0 7 0 5 0 61 0 1 0 38 0 11 0 5 0 31 0 25 0 2 0 7 0 8 0 1 0 2 0-832 1 21 0 5 0 2 0 24 0 17 0 8 0 8 0 14 0 64 0 29 0 46 0 37 0 24 0 42 0 21 0 57 0 26 0 12 0 7 0 35 0 14 0 5 0 82 0 71 0 13 0 9 0 10 0 41 0 6 0 26 0 6 0 13 0 3 0 16 0 9 0 3 0 4 0 2 0-864 1 3 0 7 0 16 0 3 0 20 0 8 0 94 0 3 0 8 0 14 0 2 0 28 0 51 0 14 0 4 0 23 0 1 0 44 0 42 0 90 0 32 0 2 0 24 0 28 0 65 0 25 0 6 0 9 0 11 0 32 0 45 0 51 0 39 0 6 0 7 0 1 0 3 0 1 0 2 0-870 1 1 0 1 0 2 0 4 0 18 0 34 0 2 0 4 0 21 0 5 0 25 0 90 0 36 0 8 0 39 0 51 0 5 0 42 0 29 0 67 0 67 0 42 0 81 0 5 0 36 0 6 0 8 0 54 0 35 0 5 0 8 0 9 0 18 0 1 0 7 0 2 0-862 1 1 0 2 0 5 0 5 0 3 0 64 0 1 0 32 0 4 0 11 0 25 0 9 0 37 0 15 0 12 0 1 0 15 0 38 0 35 0 15 0 3 0 31 0 32 0 39 0 21 0 110 0 107 0 44 0 9 0 6 0 1 0 44 0 4 0 7 0 6 0 4 0 15 0 13 0 19 0 7 0 2 0 2 0 3 0 3 0-862 1 1 0 1 0 9 0 10 0 71 0 23 0 34 0 62 0 82 0 66 0 7 0 9 0 4 0 24 0 20 0 6 0 41 0 5 0 3 0 1 0 2 0 3 0 45 0 31 0 41 0 1 0 49 0 11 0 2 0 37 0 33 0 59 0 4 0 6 0 13 0 8 0 19 0 8 0 3 0 2 0 4 0 2 0-866 1 1 0 3 0 1 0 6 0 16 0 10 0 12 0 12 0 7 0 21 0 9 0 86 0 14 0 12 0 38 0 14 0 21 0 44 0 12 0 111 0 21 0 11 0 5 0 4 0 55 0 20 0 67 0 5 0 5 0 29 0 7 0 5 0 20 0 15 0 17 0 88 0 21 0 2 0 9 0-856 1 4 0 4 0 5 0 24 0 42 0 152 0 7 0 9 0 7 0 20 0 4 0 14 0 11 0 5 0 23 0 2 0 41 0 63 0 90 0 8 0 37 0 42 0 36 0 8 0 5 0 53 0 18 0 33 0 62 0 10 0 1 0 12 0 7 0 2 0-858 1 2 0 3 0 1 0 23 0 55 0 17 0 36 0 1 0 3 0 21 0 3 0 84 0 15 0 7 0 9 0 3 0 30 0 11 0 25 0 88 0 69 0 23 0 21 0 58 0 7 0 3 0 36 0 53 0 25 0 8 0 2 0 4 0 36 0 57 0 3 0 8 0 1 0 8 0 1 0-860 1 8 0 26 0 34 0 4 0 35 0 1 0 24 0 16 0 31 0 33 0 9 0 5 0 32 0 19 0 11 0 60 0 28 0 2 0 10 0 11 0 29 0 65 0 17 0 17 0 51 0 14 0 2 0 18 0 49 0 10 0 9 0 33 0 18 0 35 0 13 0 29 0 1 0 5 0 1 0 21 0 6 0 2 0 15 0 1 0-860 1 19 0 5 0 2 0 1 0 12 0 1 0 35 0 7 0 1 0 81 0 44 0 5 0 24 0 68 0 60 0 11 0 27 0 15 0 6 0 44 0 32 0 10 0 45 0 71 0 40 0 73 0 27 0 20 0 2 0 36 0 18 0 4 0-844 1 9 0 18 0 21 0 10 0 38 0 4 0 71 0 33 0 14 0 5 0 9 0 2 0 71 0 10 0 28 0 48 0 1 0 13 0 5 0 19 0 55 0 36 0 118 0 145 0 8 0 35 0 8 0 3 0 6 0-844 1 4 0 1 0 41 0 27 0 175 0 1 0 2 0 40 0 53 0 6 0 88 0 167 0 11 0 20 0 140 0 4 0 6 0 1 0 20 0 8 0 8 0 6 0 9 0 3 0 1 0 2 0 10 0 4 0-855 1 28 0 16 0 135 0 16 0 18 0 22 0 27 0 14 0 59 0 19 0 2 0 10 0 33 0 20 0 13 0 5 0 60 0 79 0 75 0 3 0 36 0 7 0 20 0 99 0 24 0 10 0-838 1 1 0 1 0 1 0 5 0 9 0 66 0 42 0 79 0 27 0 79 0 45 0 8 0 7 0 79 0 3 0 25 0 4 0 99 0 81 0 23 0 29 0 14 0 25 0 32 0 11 0 46 0-852 1 5 0 23 0 6 0 1 0 31 0 32 0 3 0 75 0 62 0 8 0 14 0 27 0 51 0 2 0 47 0 27 0 82 0 13 0 5 0 31 0 19 0 15 0 47 0 22 0 20 0 101 0 6 0 43 0 3 0 23 0 2 0 4 0-848 1 3 0 10 0 7 0 7 0 4 0 9 0 4 0 1 0 2 0 3 0 35 0 22 0 4 0 22 0 21 0 13 0 26 0 2 0 3 0 53 0 4 0 1 0 76 0 44 0 5 0 5 0 12 0 127 0 1 0 25 0 169 0 32 0 48 0 33 0 5 0 4 0 4 0 3 0-845 1 29 0 29 0 3 0 28 0 12 0 2 0 90 0 99 0 22 0 11 0 5 0 20 0 5 0 6 0 54 0 17 0 31 0 7 0 16 0 20 0 10 0 1 0 30 0 52 0 60 0 51 0 26 0 36 0 6 0 57 0 3 0 3 0 1 0-844 1 2 0 14 0 5 0 1 0 57 0 16 0 37 0 127 0 22 0 22 0 93 0 167 0 61 0 95 0 25 0 24 0 36 0 22 0 3 0 4 0 9 0-835 1 13 0 11 0 2 0 7 0 18 0 12 0 14 0 6 0 22 0 16 0 5 0 61 0 37 0 8 0 5 0 178 0 113 0 3 0 22 0 13 0 11 0 65 0 65 0 71 0 10 0 4 0 7 0 4 0 6 0 2 0 12 0 8 0 6 0-846 1 6 0 12 0 2 0 3 0 10 0 48 0 101 0 16 0 20 0 7 0 4 0 43 0 10 0 47 0 4 0 12 0 11 0 59 0 39 0 99 0 191 0 82 0 9 0-832 1 1 0 1 0 2 0 11 0 21 0 17 0 13 0 69 0 41 0 70 0 25 0 13 0 30 0 28 0 22 0 48 0 27 0 25 0 32 0 18 0 20 0 36 0 68 0 58 0 66 0 66 0 8 0 4 0 2 0-841 1 56 0 27 0 7 0 103 0 130 0 5 0 60 0 12 0 16 0 27 0 4 0 217 0 57 0 77 0 27 0-829 1 1 0 12 0 43 0 219 0 10 0 27 0 2 0 20 0 15 0 99 0 55 0 62 0 30 0 5 0 28 0 113 0 23 0 70 0 8 0 3 0-844 1 17 0 8 0 207 0 30 0 12 0 9 0 70 0 157 0 59 0 22 0 13 0 5 0 18 0 90 0 2 0 22 0 11 0-750 1 4 0 71 0 114 0 120 0 27 0 46 0 27 0 58 0 19 0 1 0 12 0 57 0 32 0 7 0 78 0 38 0 53 0 38 0 18 0 5 0 12 0-835 1 52 0 77 0 41 0 11 0 39 0 20 0 133 0 11 0 34 0 92 0 89 0 3 0 45 0 36 0 38 0 24 0 7 0 14 0 21 0 30 0 6 0 12 0-835 1 3 0 35 0 160 0 25 0 72 0 10 0 14 0 22 0 59 0 35 0 62 0 84 0 36 0 25 0 16 0 11 0 46 0 35 0 9 0 72 0 2 0 3 0-828 1 9 0 10 0 19 0 29 0 79 0 31 0 23 0 37 0 3 0 25 0 191 0 77 0 98 0 146 0 21 0 26 0 4 0-832 1 7 0 77 0 12 0 59 0 52 0 134 0 96 0 75 0 58 0 29 0 67 0 87 0 9 0 16 0 48 0-824 1 60 0 39 0 42 0 119 0 94 0 115 0 6 0 40 0 30 0 117 0 27 0 7 0 36 0 36 0 50 0 3 0-822 1 3 0 2 0 2 0 32 0 16 0 3 0 5 0 98 0 64 0 28 0 2 0 90 0 51 0 18 0 15 0 1 0 16 0 32 0 46 0 31 0 62 0 5 0 33 0 67 0 40 0 7 0 58 0-830 1 4 0 2 0 6 0 3 0 31 0 42 0 67 0 46 0 46 0 29 0 73 0 3 0 36 0 34 0 37 0 8 0 101 0 35 0 43 0 14 0 49 0 20 0 52 0 32 0 4 0-817 1 5 0 41 0 66 0 8 0 2 0 63 0 59 0 145 0 32 0 48 0 83 0 103 0 56 0 33 0 30 0 2 0 15 0 29 0-781 1 163 0 33 0 14 0 105 0 18 0 6 0 9 0 57 0 88 0 12 0 7 0 65 0 25 0 28 0 140 0 1 0 13 0 8 0-750 1 139 0 42 0 5 0 31 0 1 0 45 0 154 0 67 0 108 0 47 0 8 0 25 0 46 0 27 0-821 1 5 0 134 0 69 0 268 0 7 0 25 0 14 0 22 0 68 0 74 0 71 0 35 0 10 0 6 0 8 0 3 0-823 1 55 0 17 0 82 0 38 0 10 0 35 0 15 0 29 0 199 0 39 0 11 0 5 0 10 0 14 0 79 0 5 0 9 0 2 0 131 0 6 0-791 1 23 0 31 0 51 0 46 0 17 0 63 0 26 0 527 0 32 0 3 0-810 1 20 0 10 0 98 0 48 0 44 0 19 0 87 0 25 0 31 0 288 0 17 0 50 0 47 0 27 0-817 1 7 0 1 0 5 0 7 0 26 0 21 0 62 0 21 0 10 0 13 0 91 0 40 0 115 0 128 0 119 0 122 0 31 0 1 0-822 1 11 0 2 0 1 0 19 0 10 0 64 0 3 0 15 0 30 0 39 0 18 0 21 0 22 0 497 0 23 0 4 0 18 0 9 0 5 0 8 0-813 1 2 0 4 0 8 0 21 0 41 0 1 0 6 0 8 0 103 0 3 0 110 0 56 0 10 0 43 0 185 0 45 0 27 0 24 0 84 0 30 0-796 1 10 0 76 0 42 0 263 0 5 0 20 0 17 0 138 0 32 0 19 0 1 0 39 0 111 0-777 1 11 0 5 0 13 0 9 0 177 0 117 0 16 0 45 0 5 0 70 0 10 0 1 0 8 0 6 0 9 0 28 0 212 0 54 0 8 0-801 1 39 0 7 0 51 0 5 0 5 0 103 0 2 0 13 0 28 0 29 0 49 0 29 0 12 0 46 0 3 0 139 0 57 0 123 0 17 0 3 0 22 0-798 1 6 0 93 0 28 0 21 0 2 0 84 0 15 0 2 0 110 0 18 0 202 0 19 0 22 0 8 0 19 0 48 0 27 0 41 0 11 0 7 0 2 0 26 0 2 0-811 1 4 0 21 0 38 0 61 0 95 0 18 0 22 0 171 0 26 0 20 0 28 0 54 0 4 0 133 0 9 0 6 0 29 0 11 0 48 0-794 1 32 0 12 0 4 0 6 0 59 0 2 0 69 0 15 0 24 0 34 0 10 0 46 0 14 0 122 0 5 0 9 0 16 0 130 0 5 0 82 0 33 0 10 0 29 0 3 0 8 0 9 0 6 0 2 0-787 1 3 0 11 0 3 0 30 0 48 0 80 0 175 0 28 0 41 0 168 0 116 0 7 0 70 0 14 0 6 0-806 1 14 0 23 0 56 0 16 0 1 0 62 0 12 0 205 0 37 0 269 0 53 0 6 0 6 0 39 0 4 0 2 0-809 1 55 0 11 0 30 0 7 0 20 0 15 0 14 0 23 0 61 0 62 0 119 0 67 0 248 0 3 0 59 0 3 0 11 0-762 1 66 0 56 0 88 0 77 0 90 0 90 0 42 0 149 0 35 0 61 0 9 0-801 1 15 0 85 0 9 0 58 0 184 0 76 0 50 0 38 0 227 0 3 0 7 0 16 0 2 0 21 0 5 0-800 1 55 0 3 0 47 0 70 0 114 0 48 0 357 0 16 0 50 0 16 0 11 0 4 0 7 0 5 0-784 1 7 0 40 0 5 0 48 0 3 0 47 0 14 0 36 0 138 0 100 0 2 0 136 0 73 0 10 0 109 0 4 0-793 1 5 0 5 0 82 0 2 0 1 0 3 0 5 0 43 0 234 0 297 0 18 0 12 0 10 0 22 0 20 0 21 0 13 0 7 0-801 1 10 0 15 0 20 0 22 0 16 0 9 0 145 0 185 0 164 0 59 0 4 0 109 0 35 0 6 0 1 0-796 1 8 0 80 0 108 0 5 0 91 0 20 0 94 0 155 0 46 0 152 0 22 0 8 0 5 0-793 1 11 0 19 0 91 0 174 0 12 0 23 0 101 0 33 0 38 0 31 0 43 0 12 0 45 0 3 0 15 0 57 0 15 0 16 0 55 0-784 1 12 0 32 0 6 0 142 0 32 0 50 0 40 0 107 0 6 0 163 0 14 0 13 0 88 0 13 0 13 0 25 0 4 0 23 0 3 0-794 1 2 0 3 0 24 0 40 0 96 0 19 0 51 0 164 0 93 0 5 0 16 0 2 0 14 0 11 0 27 0 51 0 32 0 63 0 23 0-719 1 95 0 39 0 13 0 278 0 96 0 13 0 91 0 44 0 6 0 43 0 31 0-766 1 72 0 29 0 160 0 113 0 202 0 1 0 20 0 17 0 177 0 1 0-787 1 2 0 65 0 307 0 41 0 8 0 25 0 16 0 48 0 43 0 18 0 1 0 46 0 18 0 128 0-763 1 2 0 23 0 114 0 64 0 16 0 81 0 58 0 67 0 106 0 9 0 133 0 74 0 26 0 1 0 3 0 5 0 2 0-792 1 8 0 2 0 3 0 41 0 23 0 68 0 1 0 25 0 247 0 133 0 119 0 111 0 7 0-784 1 4 0 6 0 39 0 98 0 31 0 103 0 47 0 10 0 246 0 35 0 155 0-774 1 2 0 29 0 20 0 4 0 5 0 17 0 130 0 32 0 85 0 225 0 37 0 6 0 88 0 9 0 48 0 48 0-786 1 4 0 9 0 27 0 55 0 80 0 2 0 23 0 113 0 114 0 306 0 34 0 1 0-768 1 2 0 1 0 2 0 5 0 130 0 49 0 6 0 120 0 81 0 184 0 8 0 4 0 40 0 76 0 9 0 21 0-740 1 2 0 3 0 6 0 5 0 1 0 35 0 9 0 61 0 5 0 3 0 17 0 52 0 12 0 9 0 106 0 122 0 6 0 15 0-468 1 10 0 12 0 11 0 6 0 240 0 46 0 27 0 166 0 39 0 10 0 11 0 133 0 4 0 36 0 8 0 12 0 7 0 7 0-765 1 2 0 13 0 67 0 12 0 42 0 6 0 228 0 55 0 237 0 4 0 14 0 68 0 11 0 2 0 3 0 1 0-781 1 7 0 6 0 6 0 120 0 16 0 9 0 100 0 113 0 115 0 38 0 8 0 69 0 18 0 22 0 29 0 6 0 3 0 78 0 15 0-778 1 2 0 5 0 2 0 91 0 17 0 2 0 33 0 50 0 7 0 111 0 34 0 91 0 155 0 119 0 1 0 26 0 25 0-772 1 2 0 5 0 9 0 39 0 4 0 2 0 52 0 107 0 103 0 135 0 97 0 27 0 56 0 95 0-720 1 4 0 25 0 37 0 49 0 33 0 125 0 10 0 78 0 8 0 2 0 86 0 19 0 16 0 25 0 30 0 39 0 52 0 76 0 52 0-707 1 20 0 97 0 5 0 1 0 83 0 9 0 98 0 42 0 21 0 13 0 72 0 66 0 61 0 31 0 84 0 2 0-777 1 5 0 2 0 6 0 97 0 126 0 149 0 36 0 95 0 44 0 21 0 17 0 73 0 82 0-738 1 60 0 29 0 13 0 37 0 58 0 131 0 14 0 42 0 4 0 157 0 17 0 144 0 15 0 42 0-777 1 1 0 3 0 2 0 15 0 28 0 8 0 23 0 74 0 51 0 137 0 10 0 14 0 44 0 21 0 1 0 95 0 166 0 15 0 32 0 32 0-762 1 18 0 124 0 62 0 5 0 71 0 36 0 1 0 108 0 3 0 38 0 70 0 49 0 10 0 43 0 48 0 61 0 9 0-744 1 22 0 16 0 60 0 168 0 207 0 60 0 8 0 134 0 8 0 44 0 27 0-768 1 6 0 2 0 6 0 8 0 8 0 18 0 88 0 28 0 72 0 125 0 36 0 116 0 24 0 60 0 27 0 114 0 20 0-758 1 3 0 12 0 9 0 74 0 20 0 28 0 14 0 192 0 60 0 86 0 68 0 84 0 35 0 63 0 7 0 11 0-772 1 8 0 77 0 37 0 42 0 71 0 12 0 5 0 9 0 155 0 4 0 25 0 60 0 37 0 45 0 47 0 65 0 11 0 56 0 3 0-671 1 34 0 24 0 87 0 28 0 14 0 158 0 149 0 68 0 7 0 9 0 61 0 10 0 3 0 16 0-752 1 24 0 5 0 9 0 21 0 34 0 43 0 38 0 24 0 10 0 21 0 6 0 63 0 71 0 1 0 49 0 17 0 18 0 35 0 9 0 27 0 54 0 102 0 2 0 39 0 12 0 18 0 5 0-766 1 53 0 57 0 91 0 6 0 178 0 5 0 5 0 7 0 35 0 15 0 2 0 75 0 11 0 143 0 3 0 9 0 49 0 9 0 2 0-758 1 1 0 34 0 11 0 1 0 2 0 112 0 72 0 123 0 35 0 63 0 135 0 72 0 17 0 1 0 13 0 69 0-747 1 13 0 5 0 17 0 52 0 86 0 223 0 56 0 25 0 102 0 96 0 34 0 19 0 17 0 2 0-758 1 90 0 26 0 69 0 70 0 44 0 37 0 30 0 70 0 63 0 3 0 36 0 125 0 51 0 2 0 28 0 10 0-738 1 15 0 22 0 3 0 21 0 15 0 30 0 59 0 14 0 20 0 30 0 23 0 108 0 253 0 96 0 28 0 5 0-751 1 4 0 1 0 4 0 1 0 45 0 4 0 136 0 3 0 18 0 29 0 27 0 4 0 19 0 43 0 232 0 60 0 32 0 55 0 25 0 2 0 6 0-757 1 1 0 1 0 30 0 91 0 47 0 2 0 16 0 135 0 5 0 30 0 1 0 33 0 26 0 116 0 49 0 81 0 18 0 25 0 16 0 26 0 9 0 2 0-734 1 2 0 1 0 2 0 2 0 17 0 113 0 8 0 55 0 20 0 5 0 239 0 158 0 60 0 5 0 5 0 19 0 7 0 13 0 2 0 3 0-762 1 1 0 271 0 11 0 24 0 37 0 34 0 5 0 64 0 9 0 4 0 3 0 56 0 2 0 43 0 5 0 100 0 66 0 19 0-640 1 10 0 26 0 18 0 100 0 31 0 54 0 33 0 75 0 231 0 52 0 12 0 2 0-747 1 18 0 79 0 53 0 81 0 1 0 35 0 14 0 2 0 44 0 24 0 66 0 40 0 28 0 89 0 32 0 64 0 43 0 4 0 2 0 7 0 1 0 10 0 1 0-736 1 2 0 2 0 25 0 36 0 15 0 83 0 2 0 23 0 1 0 45 0 38 0 6 0 144 0 32 0 98 0 138 0 24 0 3 0 25 0-746 1 90 0 161 0 5 0 68 0 14 0 22 0 58 0 34 0 51 0 30 0 175 0 29 0 10 0-749 1 71 0 38 0 93 0 78 0 27 0 155 0 162 0 52 0 56 0 12 0-746 1 3 0 5 0 134 0 57 0 21 0 3 0 67 0 82 0 104 0 15 0 28 0 153 0 6 0 6 0 28 0 16 0 11 0 11 0 3 0-672 1 117 0 95 0 85 0 120 0 11 0 30 0 25 0 164 0-726 1 6 0 48 0 30 0 15 0 276 0 115 0 4 0 51 0 64 0 54 0 25 0 55 0 5 0-749 1 11 0 24 0 75 0 81 0 83 0 116 0 21 0 1 0 63 0 121 0 16 0 46 0 33 0 14 0 1 0 29 0 6 0 4 0 1 0-741 1 5 0 1 0 164 0 30 0 169 0 40 0 75 0 17 0 52 0 5 0 69 0 44 0 9 0 31 0 6 0 21 0 5 0-729 1 8 0 40 0 46 0 40 0 78 0 65 0 43 0 15 0 29 0 8 0 70 0 48 0 128 0 48 0 20 0 30 0-723 1 101 0 384 0 168 0 18 0 63 0-727 1 13 0 153 0 7 0 179 0 96 0 119 0 98 0 32 0 2 0 14 0 4 0 3 0 9 0-747 1 16 0 113 0 14 0 7 0 19 0 3 0 86 0 2 0 24 0 7 0 48 0 8 0 15 0 4 0 5 0 41 0 196 0 19 0 37 0 9 0 29 0 25 0 11 0-728 1 84 0 10 0 47 0 5 0 117 0 61 0 8 0 32 0 94 0 106 0 14 0 60 0 93 0-738 1 11 0 17 0 132 0 22 0 32 0 41 0 91 0 215 0 55 0 55 0 42 0 18 0 2 0 9 0-663 1 262 0 3 0 123 0 29 0 106 0 14 0 66 0 3 0 6 0 38 0 3 0 7 0-698 1 7 0 11 0 78 0 281 0 27 0 33 0 64 0 22 0 60 0 65 0 38 0 4 0 6 0 1 0-729 1 39 0 10 0 20 0 56 0 14 0 128 0 7 0 225 0 73 0 15 0 1 0 26 0 93 0 16 0-709 1 3 0 7 0 17 0 52 0 55 0 4 0 272 0 54 0 27 0 52 0 51 0-607 1 53 0 60 0 52 0 6 0 133 0 16 0 52 0 27 0 101 0 50 0 74 0 67 0 8 0 26 0 4 0-732 1 13 0 1 0 50 0 2 0 55 0 88 0 4 0 12 0 121 0 39 0 4 0 11 0 242 0 38 0 18 0 16 0 7 0 3 0-729 1 1 0 1 0 1 0 15 0 23 0 14 0 178 0 73 0 96 0 15 0 68 0 36 0 3 0 17 0 24 0 19 0 44 0 90 0 7 0 4 0-727 1 49 0 13 0 6 0 65 0 7 0 146 0 3 0 19 0 47 0 9 0 28 0 60 0 48 0 26 0 68 0 102 0 32 0-717 1 154 0 106 0 36 0 71 0 23 0 23 0 15 0 1 0 63 0 6 0 18 0 74 0 82 0 45 0-719 1 37 0 60 0 76 0 6 0 211 0 12 0 56 0 99 0 9 0 13 0 27 0 47 0 15 0 10 0 6 0 11 0 16 0 8 0 1 0-729 1 3 0 5 0 6 0 1 0 7 0 93 0 10 0 198 0 31 0 96 0 56 0 2 0 10 0 46 0 12 0 42 0 74 0 2 0 31 0 5 0 1 0-726 1 116 0 44 0 24 0 5 0 8 0 75 0 115 0 87 0 52 0 114 0 23 0 11 0 11 0 7 0 9 0 24 0-727 1 6 0 5 0 79 0 8 0 27 0 15 0 77 0 1 0 30 0 19 0 75 0 11 0 32 0 113 0 43 0 74 0 110 0 3 0-698 1 10 0 101 0 13 0 3 0 45 0 148 0 18 0 66 0-413 1 7 0 53 0 26 0 19 0 26 0 59 0 16 0 65 0 216 0 11 0 59 0 9 0 2 0 66 0 25 0 17 0 15 0-705 1 2 0 71 0 8 0 21 0 76 0 42 0 194 0 4 0 154 0 27 0-591 1 16 0 25 0 368 0 34 0 47 0 65 0 10 0 16 0 58 0 73 0-715 1 127 0 13 0 74 0 29 0 67 0 112 0 17 0 60 0 163 0-669 1 15 0 114 0 70 0 121 0 4 0 15 0 64 0 13 0 225 0-639 1 3 0 71 0 43 0 186 0 2 0 127 0 50 0 1 0 34 0 24 0 3 0 21 0 20 0 3 0 118 0-708 1 10 0 119 0 12 0 50 0 62 0 55 0 119 0 31 0 4 0 129 0 36 0 17 0 11 0-656 1 56 0 149 0 56 0 84 0 48 0 122 0 77 0 15 0 57 0 28 0 6 0 6 0 6 0-659 1 14 0 234 0 90 0 50 0 21 0 74 0 24 0 44 0 2 0 4 0 32 0 32 0 38 0-706 1 49 0 25 0 54 0 61 0 68 0 54 0 233 0 5 0 41 0 9 0 18 0-594 1 33 0 25 0 13 0 12 0 6 0 91 0 63 0 50 0 206 0 82 0 22 0 32 0 43 0 1 0 3 0-702 1 1 0 162 0 59 0 25 0 10 0 78 0 165 0 73 0 60 0 17 0 25 0 32 0 3 0-710 1 53 0 11 0 93 0 87 0 4 0 36 0 1 0 47 0 16 0 23 0 60 0 164 0 107 0 2 0 3 0 2 0-713 1 2 0 38 0 35 0 77 0 98 0 47 0 51 0 176 0 55 0 130 0-709 1 1 0 16 0 6 0 18 0 15 0 41 0 76 0 9 0 93 0 1 0 25 0 74 0 8 0 5 0 49 0 98 0 73 0-605 1 111 0 88 0 129 0 111 0 30 0 51 0 2 0 9 0 105 0 68 0-699 1 16 0 9 0 25 0 78 0 210 0 122 0 5 0 99 0 44 0 45 0-634 1 29 0 260 0 270 0 91 0 34 0-698 1 40 0 59 0 117 0 11 0 24 0 187 0 28 0 24 0 35 0 17 0 4 0 15 0 3 0 103 0-674 1 16 0 17 0 14 0 24 0 12 0 89 0 10 0 95 0 101 0 112 0 101 0 68 0 13 0 21 0 7 0 4 0-706 1 21 0 32 0 141 0 322 0 41 0 73 0 20 0 19 0 21 0-674 1 69 0 89 0 7 0 71 0 16 0 23 0 27 0 113 0 65 0 4 0-500 1 3 0 18 0 83 0 228 0 17 0 24 0 85 0 41 0 2 0 90 0 63 0 33 0-661 1 50 0 20 0 40 0 101 0 39 0 28 0 23 0 18 0 79 0 25 0 18 0 68 0 25 0 41 0 26 0 32 0 11 0 19 0 14 0 2 0-685 1 14 0 125 0 63 0 48 0 55 0 20 0 22 0 14 0 11 0 141 0 110 0 7 0 32 0-674 1 90 0 2 0 123 0 161 0 23 0 43 0 73 0 20 0 23 0 112 0-550 1 41 0 36 0 54 0 20 0 253 0 57 0 66 0 18 0 24 0 1 0 2 0-694 1 28 0 14 0 50 0 215 0 31 0 17 0 50 0 79 0 48 0 71 0 32 0-640 1 11 0 19 0 7 0 82 0 162 0 96 0 58 0 85 0 2 0 58 0 100 0 17 0-686 1 2 0 39 0 13 0 8 0 20 0 4 0 41 0 142 0 29 0 173 0 8 0 85 0 54 0-628 1 20 0 154 0 20 0 42 0 125 0 131 0 26 0 25 0 1 0 45 0 50 0 11 0 29 0 19 0-607 1 22 0 80 0 9 0 270 0 77 0 50 0 92 0 5 0 3 0-696 1 8 0 14 0 6 0 3 0 91 0 18 0 13 0 57 0 58 0-221 1 9 0 51 0 233 0 137 0 117 0 86 0 13 0 2 0-689 1 9 0 124 0 36 0 19 0 121 0 7 0 32 0 38 0 49 0 147 0 93 0 6 0 9 0-692 1 3 0 9 0 10 0 21 0 12 0 27 0 50 0 66 0 28 0 63 0 97 0 10 0 2 0 52 0 83 0 73 0-611 1 1 0 9 0 13 0 351 0 52 0 54 0 77 0 88 0 44 0-682 1 22 0 1 0 60 0 90 0 18 0 13 0 26 0 9 0 14 0 238 0 27 0 41 0 86 0-650 1 1 0 3 0 5 0 1 0 128 0 113 0 85 0 127 0 29 0-486 1 2 0 142 0 34 0 46 0 138 0 5 0 84 0 190 0 15 0 14 0 12 0 3 0-689 1 1 0 73 0 48 0 7 0 333 0 2 0 71 0 6 0 77 0 33 0-621 1 12 0 145 0 76 0 72 0 84 0 27 0 53 0 130 0 43 0 11 0 7 0-683 1 22 0 10 0 147 0 65 0 30 0 30 0 33 0 98 0 28 0 45 0 4 0 12 0 11 0 11 0 25 0 43 0-613 1 14 0 72 0 34 0 9 0 60 0 50 0 4 0 109 0 103 0 129 0 40 0 2 0 23 0 27 0 6 0-680 1 5 0 2 0 1 0 168 0 61 0 27 0 99 0 121 0 169 0-660 1 3 0 2 0 73 0 75 0 1 0 392 0 48 0 82 0 2 0 8 0-681 1 5 0 22 0 26 0 1 0 99 0 121 0 40 0 21 0 6 0 4 0 36 0 13 0 31 0 55 0 61 0 22 0 87 0 5 0 17 0 2 0-680 1 10 0 136 0 107 0 6 0 138 0 45 0 1 0 98 0 98 0 34 0 9 0-682 1 15 0 65 0 82 0 61 0 53 0 52 0 110 0 128 0 80 0 18 0 10 0 7 0 4 0-680 1 47 0 13 0 7 0 38 0 18 0 88 0 47 0 161 0 67 0 3 0 4 0 60 0 47 0 42 0 15 0 3 0 2 0 11 0 7 0-682 1 17 0 19 0 37 0 16 0 33 0 124 0 8 0 61 0 106 0 64 0 60 0 53 0 40 0 23 0 13 0-446 1 39 0 47 0 63 0 59 0 230 0 11 0-538 1 55 0 41 0 96 0 85 0 11 0 124 0 24 0-531 1 16 0 10 0 65 0 104 0 75 0 40 0 14 0 66 0 11 0 28 0 34 0 117 0 54 0-673 1 19 0 4 0 28 0 235 0 127 0 37 0 29 0 4 0 1 0 70 0 87 0 11 0 18 0-674 1 15 0 99 0 11 0 143 0 149 0 215 0 11 0-643 1 8 0 78 0 85 0 30 0 101 0 83 0 9 0 122 0 28 0 50 0 33 0 3 0 39 0 10 0-615 1 128 0 114 0 14 0 79 0 177 0 14 0 65 0 1 0 9 0 1 0 6 0-663 1 45 0 18 0 10 0 215 0 36 0 28 0 157 0 48 0 5 0 26 0 80 0-628 1 76 0 38 0 21 0 86 0 12 0 16 0 115 0 46 0 72 0 44 0 59 0 1 0 35 0 1 0-669 1 8 0 24 0 140 0 15 0 18 0 59 0 29 0 34 0 2 0 6 0 27 0 3 0 99 0 21 0 47 0 43 0 44 0 53 0 3 0-674 1 8 0 157 0 168 0 7 0 69 0 10 0 31 0 20 0 10 0 11 0 156 0 22 0 1 0-655 1 4 0 62 0 33 0 54 0 96 0 26 0 40 0 8 0 10 0 79 0 6 0 2 0 155 0 20 0 25 0 33 0 4 0-653 1 1 0 49 0 87 0 33 0 28 0 16 0 69 0 81 0 11 0 90 0 82 0 13 0-571 1 1 0 8 0 2 0 5 0 19 0 12 0 2 0 63 0 133 0 36 0 126 0 35 0 19 0 16 0 184 0 4 0-670 1 12 0 37 0 7 0 27 0 87 0 50 0 58 0 81 0 233 0 25 0 44 0 9 0-671 1 6 0 20 0 96 0 26 0 3 0 91 0 74 0 15 0 6 0 25 0 28 0 43 0 28 0 14 0 79 0 29 0 61 0 23 0-668 1 22 0 18 0 95 0 23 0 47 0 94 0 2 0 35 0 56 0 40 0 3 0 64 0 74 0 48 0 45 0 2 0 1 0-670 1 23 0 96 0 3 0 56 0 62 0 3 0 98 0 139 0 23 0 50 0 25 0 23 0 68 0-656 1 194 0 69 0 6 0 13 0 5 0 25 0 6 0 16 0 49 0 44 0 1 0 214 0 10 0 6 0-656 1 102 0 96 0 13 0 2 0 32 0 55 0 216 0 116 0 23 0-642 1 8 0 3 0 28 0 73 0 54 0 40 0 63 0 80 0 36 0 31 0 107 0 85 0 19 0 11 0-646 1 14 0 43 0 35 0 127 0 17 0 31 0 106 0 9 0 64 0-455 1 52 0 73 0 39 0 31 0 103 0 72 0 166 0 45 0 14 0-594 1 15 0 17 0 52 0 17 0 316 0 35 0 108 0 28 0 32 0-624 1 4 0 17 0 4 0 13 0 37 0 45 0 43 0 58 0 122 0 305 0 8 0 5 0-665 1 20 0 18 0 148 0 15 0 158 0 20 0 13 0 70 0-442 1 12 0 81 0 89 0 61 0 62 0 144 0 3 0 27 0 160 0-644 1 155 0 63 0 5 0 33 0 79 0 36 0 6 0 14 0 121 0 101 0 22 0 10 0 2 0 1 0-660 1 25 0 38 0 186 0 9 0 70 0 125 0 104 0 41 0 36 0 22 0-656 1 23 0 12 0 7 0 55 0 18 0 58 0 48 0 70 0 2 0 15 0 11 0 115 0 115 0 12 0-558 1 3 0 11 0 16 0 305 0 5 0 43 0 34 0 120 0 116 0-643 1 7 0 7 0 167 0 44 0 22 0 49 0 29 0 24 0 27 0 83 0 157 0 17 0-636 1 131 0 136 0 66 0 115 0 4 0 19 0 168 0 1 0-644 1 8 0 2 0 80 0 31 0 58 0 26 0 23 0 21 0 6 0 62 0 9 0 226 0 97 0-651 1 49 0 6 0 4 0 85 0 14 0 19 0 98 0 102 0 12 0 5 0 229 0 9 0 21 0-651 1 6 0 5 0 22 0 9 0 42 0 110 0 5 0 24 0 16 0 18 0 183 0 104 0 49 0 25 0 24 0 6 0 2 0-652 1 1 0 1 0 8 0 6 0 53 0 59 0 162 0 90 0 11 0 228 0 22 0-638 1 20 0 24 0 3 0 29 0 11 0 106 0 20 0 46 0 19 0 5 0 6 0 36 0 116 0 122 0 69 0 7 0-514 1 25 0 21 0 38 0 68 0 18 0 1 0 18 0 37 0 51 0 58 0 26 0-460 1 2 0 9 0 94 0 63 0 7 0 7 0 36 0 86 0 31 0 24 0 9 0 45 0 24 0 110 0-577 1 64 0 236 0 27 0 20 0 9 0 22 0 4 0 110 0 96 0 29 0 31 0-646 1 48 0 100 0 74 0 2 0 42 0 49 0 47 0 50 0 10 0 146 0 52 0 6 0 18 0 6 0-648 1 3 0 8 0 19 0 14 0 1 0 29 0 3 0 49 0 11 0 22 0 6 0 62 0 56 0 26 0 53 0 7 0 11 0 251 0-609 1 2 0 49 0 7 0 11 0 34 0 7 0 63 0 85 0 53 0 44 0 22 0 52 0 12 0 114 0 1 0 8 0 53 0 7 0-615 1 91 0 36 0 22 0 60 0 37 0 58 0 78 0 157 0 39 0-604 1 32 0 9 0 13 0 10 0 64 0 49 0 167 0 47 0 34 0 76 0 73 0 43 0 19 0-640 1 1 0 4 0 10 0 2 0 53 0 64 0 51 0 3 0 68 0 51 0 37 0 61 0 108 0 15 0 108 0 7 0-595 1 38 0 18 0 85 0 60 0 6 0 46 0 46 0 16 0 55 0 37 0 80 0 37 0 5 0 63 0 2 0-634 1 2 0 29 0 15 0 71 0 4 0 47 0 61 0 60 0 91 0 7 0 52 0 13 0 38 0 32 0 31 0 32 0 12 0 9 0-612 1 44 0 42 0 47 0 15 0 90 0 6 0 2 0 23 0 31 0 11 0 7 0 77 0 9 0 1 0 80 0 125 0 9 0 6 0 17 0-645 1 3 0 1 0 4 0 54 0 44 0 17 0 60 0 17 0 66 0 103 0 7 0 5 0 6 0 88 0 6 0 28 0 125 0 6 0 4 0-644 1 6 0 12 0 42 0 31 0 9 0 12 0 22 0 115 0 40 0 11 0 3 0 66 0 21 0 74 0 176 0 3 0-630 1 25 0 4 0 11 0 113 0 137 0 15 0 193 0 76 0 1 0 10 0 25 0 16 0-635 1 2 0 3 0 4 0 6 0 30 0 2 0 209 0 146 0 70 0 11 0 58 0 70 0 10 0 9 0-627 1 39 0 73 0 14 0 7 0 23 0 56 0 158 0 11 0 156 0 72 0 19 0 6 0-636 1 6 0 1 0 65 0 102 0 22 0 7 0 5 0 33 0 98 0 12 0 50 0 121 0 50 0 55 0 1 0-624 1 32 0 4 0 110 0 10 0 41 0 87 0 86 0 130 0 71 0 22 0 24 0 12 0-633 1 74 0 22 0 29 0 2 0 39 0 7 0 62 0 143 0 1 0 7 0 1 0 11 0 10 0 37 0 36 0 137 0-613 1 4 0 12 0 17 0 23 0 112 0 53 0 70 0 88 0 6 0 178 0-519 1 54 0 157 0 14 0 34 0 12 0 63 0 9 0 15 0 102 0 107 0-604 1 16 0 71 0 1 0 56 0 81 0 110 0 59 0 10 0 149 0 55 0 3 0 6 0 1 0 2 0 2 0-628 1 2 0 55 0 12 0 50 0 29 0 19 0 108 0 50 0 144 0 102 0-569 1 2 0 6 0 8 0 69 0 13 0 39 0 24 0 186 0 30 0 3 0 31 0 150 0 56 0-624 1 12 0 21 0 32 0 107 0 114 0 105 0 163 0 4 0 10 0 59 0 3 0-628 1 2 0 4 0 7 0 23 0 1 0 1 0 22 0 118 0 48 0 53 0 13 0 52 0 44 0 200 0 25 0 15 0-625 1 2 0 2 0 66 0 40 0 74 0 49 0 15 0 29 0 2 0 30 0 5 0 7 0 5 0 66 0 37 0 41 0 141 0 5 0 9 0-626 1 3 0 31 0 100 0 31 0 43 0 16 0 99 0 19 0 72 0 96 0 70 0 26 0 20 0-627 1 5 0 23 0 33 0 19 0 184 0 26 0 90 0 12 0 85 0 47 0 21 0 79 0 1 0 5 0-553 1 49 0 157 0 7 0 86 0 145 0 6 0 33 0 57 0 8 0 2 0-501 1 16 0 93 0 86 0 23 0 89 0 29 0 31 0 11 0 41 0 2 0 25 0 9 0 46 0-626 1 4 0 32 0 1 0 179 0 80 0 35 0 141 0 109 0 22 0 20 0 4 0-615 1 8 0 8 0 178 0 82 0 6 0 17 0 11 0 97 0 22 0 125 0 29 0 13 0 14 0 4 0-625 1 4 0 30 0 38 0 63 0 98 0 92 0 69 0 111 0 9 0 42 0 62 0-610 1 3 0 114 0 1 0 39 0 5 0 5 0 51 0 12 0 27 0 75 0 72 0 9 0 34 0 143 0 19 0 1 0 7 0-624 1 24 0 3 0 37 0 57 0 105 0 78 0 43 0 8 0 9 0 58 0 1 0 15 0 41 0 40 0 95 0-613 1 1 0 5 0 12 0 28 0 63 0 36 0 20 0 108 0 15 0 248 0 82 0 2 0-509 1 102 0 14 0 39 0 2 0 92 0 52 0 188 0 11 0 2 0-603 1 11 0 61 0 83 0 14 0 21 0 15 0 6 0 96 0 13 0 54 0 212 0 9 0 2 0 2 0 11 0-615 1 11 0 8 0 15 0 142 0 43 0 24 0 103 0 178 0 21 0 57 0 5 0 8 0-570 1 94 0 88 0 18 0 23 0 89 0 7 0 18 0 29 0 51 0 44 0 28 0 34 0-571 1 1 0 5 0 79 0 118 0 76 0 135 0 152 0 48 0-613 1 1 0 4 0 153 0 9 0 9 0 34 0 33 0 21 0 12 0 99 0 6 0 90 0 136 0 6 0-609 1 2 0 27 0 47 0 7 0 9 0 161 0 39 0 133 0 14 0 23 0 12 0 104 0-536 1 39 0 38 0 10 0 35 0 33 0 24 0 59 0 5 0 42 0 10 0 22 0 26 0 48 0 11 0 92 0 60 0 16 0-614 1 3 0 25 0 17 0 96 0 116 0 109 0 31 0 32 0 109 0 9 0 36 0 17 0 4 0 8 0-610 1 15 0 11 0 29 0 2 0 56 0 36 0 54 0 184 0 61 0 27 0 107 0 24 0-573 1 26 0 55 0 31 0 19 0 48 0 15 0 68 0 22 0 60 0 33 0 15 0 69 0 97 0 11 0 9 0-615 1 1 0 3 0 25 0 151 0 27 0 26 0 37 0 3 0 4 0 9 0 71 0 35 0 22 0 14 0 27 0 74 0 9 0 69 0 7 0-585 1 7 0 128 0 115 0 3 0 5 0 53 0 95 0 39 0 89 0 8 0 22 0 16 0-600 1 2 0 4 0 15 0 41 0 37 0 103 0 10 0 9 0 23 0 21 0 26 0 51 0 38 0 15 0 14 0 162 0 1 0 20 0 2 0-598 1 29 0 5 0 25 0 80 0 111 0 21 0 48 0 40 0 63 0 87 0 36 0 54 0 1 0-578 1 13 0 159 0 47 0 9 0 43 0 31 0 3 0 54 0 2 0 41 0 36 0 14 0 35 0 23 0 5 0 16 0 42 0-572 1 1 0 65 0 91 0 40 0 95 0 40 0 6 0 93 0 71 0-522 1 1 0 1 0 2 0 1 0 22 0 126 0 4 0 3 0 72 0 45 0 6 0 23 0 16 0 3 0 6 0 259 0-595 1 49 0 23 0 5 0 126 0 287 0 5 0 1 0 8 0 16 0 59 0 14 0-591 1 1 0 3 0 6 0 40 0 36 0 41 0 31 0 53 0 21 0 37 0 104 0 32 0 10 0 23 0 89 0 54 0 11 0 11 0-604 1 163 0 20 0 39 0 83 0 17 0 27 0 44 0 97 0 80 0 12 0-581 1 87 0 51 0 27 0 10 0 93 0 135 0 22 0 92 0 61 0 25 0-584 1 13 0 30 0 226 0 112 0 126 0 28 0 46 0-593 1 34 0 81 0 17 0 65 0 26 0 94 0 57 0 73 0 136 0-571 1 50 0 34 0 50 0 41 0 20 0 46 0 14 0 4 0 87 0 154 0 25 0 31 0 7 0 1 0 19 0-603 1 12 0 36 0 14 0 16 0 1 0 55 0 63 0 3 0 46 0 14 0 23 0 83 0 123 0 4 0 104 0-587 1 18 0 5 0 79 0 123 0 26 0 27 0 61 0 21 0 177 0-543 1 2 0 41 0 38 0 89 0 13 0 16 0 39 0 23 0 80 0 76 0 85 0 23 0 49 0 17 0 10 0-604 1 3 0 1 0 15 0 51 0 137 0 18 0 89 0 4 0 118 0 31 0 125 0-590 1 5 0 3 0 279 0 6 0 102 0 181 0 15 0 7 0-596 1 38 0 16 0 171 0 15 0 26 0 29 0 22 0 4 0 43 0 55 0 20 0 124 0 21 0 5 0 4 0-576 1 5 0 55 0 32 0 15 0 115 0 31 0 68 0 19 0 16 0 7 0 26 0 1 0 86 0 42 0 51 0 8 0-500 1 77 0 31 0 8 0 12 0 18 0 2 0 96 0 151 0 61 0 49 0-595 1 2 0 53 0 31 0 3 0 34 0 50 0 45 0 7 0 72 0 89 0 47 0 131 0 15 0 16 0-600 1 31 0 10 0 2 0 19 0 96 0 209 0 74 0 23 0 93 0 8 0 7 0 20 0-586 1 51 0 68 0 1 0 83 0 3 0 22 0 35 0 17 0 26 0 26 0 53 0 62 0 124 0 7 0 15 0-599 1 2 0 20 0 118 0 16 0 97 0 60 0 79 0 103 0 101 0-594 1 12 0 18 0 6 0 114 0 105 0 5 0 23 0 34 0 28 0 5 0 31 0 66 0 3 0 81 0 12 0 51 0 2 0-597 1 3 0 1 0 2 0 1 0 144 0 17 0 147 0 82 0 54 0 33 0 70 0 13 0-554 1 9 0 2 0 11 0 5 0 8 0 50 0 15 0 135 0 168 0 31 0 135 0 12 0-589 1 6 0 28 0 8 0 156 0 44 0 20 0 11 0 54 0 15 0 28 0 23 0 93 0 24 0 54 0 29 0-598 1 1 0 7 0 7 0 2 0 11 0 1 0 10 0 5 0 88 0 47 0 20 0 8 0 61 0 13 0 23 0 38 0 26 0 149 0 66 0-512 1 108 0 56 0 66 0 17 0 8 0 56 0 25 0 2 0 27 0 5 0 100 0 31 0 9 0 1 0 1 0 4 0 5 0 2 0-573 1 89 0 64 0 48 0 32 0 32 0 1 0 10 0 14 0 7 0 5 0 12 0 53 0 40 0 38 0 2 0-415 1 92 0 26 0 42 0 34 0 24 0 7 0 26 0 53 0 5 0 20 0 5 0 66 0 100 0 13 0-514 1 14 0 6 0 116 0 65 0 36 0 7 0 22 0 34 0 38 0 22 0 103 0 11 0 61 0-584 1 1 0 4 0 33 0 94 0 49 0 30 0 45 0 11 0 22 0 36 0 3 0 102 0 138 0 10 0 9 0-589 1 250 0 199 0 34 0 105 0-570 1 1 0 44 0 67 0 20 0 16 0 53 0 63 0 37 0 176 0 63 0-504 1 45 0 37 0 50 0 27 0 17 0 123 0 138 0 30 0 28 0 33 0 11 0-590 1 12 0 23 0 114 0 41 0 6 0 98 0 20 0 7 0 155 0 52 0 40 0 14 0 6 0-588 1 2 0 1 0 5 0 47 0 5 0 74 0 19 0 27 0 60 0 23 0 18 0 23 0 49 0 5 0 95 0 89 0 44 0-582 1 33 0 167 0 28 0 54 0 14 0 20 0 27 0 26 0 14 0 51 0 62 0 14 0 46 0-552 1 90 0 9 0 25 0 5 0 7 0 237 0 3 0 3 0 56 0 11 0-447 1 17 0 43 0 32 0 69 0 51 0 12 0 17 0 60 0 2 0 33 0 4 0 32 0 9 0 7 0 1 0 61 0 27 0 8 0 95 0-586 1 14 0 345 0 77 0 15 0 69 0 5 0 27 0 13 0 15 0 4 0-578 1 15 0 164 0 3 0 10 0 5 0 78 0 67 0 2 0 67 0 14 0 108 0 33 0-569 1 24 0 124 0 36 0 22 0 20 0 12 0 71 0 181 0 68 0 23 0 3 0-487 1 26 0 12 0 15 0 45 0 54 0 8 0 123 0 11 0 26 0 19 0 46 0 83 0-566 1 31 0 125 0 2 0 93 0 60 0 5 0 44 0 24 0 18 0 30 0 92 0 12 0 34 0 9 0-579 1 17 0 1 0 3 0 14 0 39 0 111 0 83 0 66 0 26 0 20 0 97 0 3 0 20 0 10 0 65 0 5 0 1 0-432 1 27 0 34 0 154 0 40 0 7 0 101 0 44 0 21 0 1 0 2 0-579 1 4 0 12 0 2 0 3 0 23 0 38 0 62 0 42 0 13 0 6 0 101 0 13 0 126 0 104 0 22 0 7 0-577 1 3 0 34 0 90 0 43 0 4 0 13 0 3 0 14 0 9 0 39 0 65 0 71 0 56 0 29 0 29 0 16 0 13 0 10 0 32 0 2 0-530 1 41 0 149 0 61 0 44 0 32 0 9 0 9 0 145 0 45 0-580 1 13 0 42 0 13 0 172 0 63 0 83 0 55 0 27 0 96 0 18 0-582 1 5 0 67 0 66 0 16 0 77 0 25 0 16 0 10 0 3 0 128 0 157 0 10 0-579 1 5 0 10 0 67 0 197 0 67 0 222 0 4 0 8 0-581 1 62 0 17 0 70 0 155 0 38 0 104 0 6 0 97 0 26 0 3 0-556 1 150 0 3 0 6 0 64 0 107 0 119 0 77 0 15 0 8 0-499 1 48 0 37 0 11 0 86 0 70 0 30 0 57 0 17 0 7 0 2 0 38 0 82 0 10 0 2 0 4 0-572 1 5 0 108 0 60 0 89 0 9 0 5 0 63 0 13 0 41 0 17 0 3 0 1 0 22 0 128 0 9 0 5 0-539 1 15 0 167 0 31 0 138 0 54 0 37 0 9 0 83 0-570 1 110 0 10 0 35 0 25 0 3 0 36 0 7 0 54 0 21 0 30 0 17 0 38 0 40 0 81 0 56 0 4 0-565 1 48 0 18 0 223 0 25 0 156 0-462 1 53 0 10 0 37 0 38 0 228 0 1 0 73 0 44 0 35 0 20 0 12 0 3 0-525 1 11 0 8 0 72 0 9 0 28 0 85 0 6 0 107 0 53 0 9 0 69 0-496 1 74 0 46 0 28 0 3 0 22 0 74 0 108 0 46 0 2 0 24 0 63 0 82 0-552 1 17 0 58 0 66 0 31 0 133 0 35 0 54 0 8 0 89 0 46 0 5 0 10 0-570 1 2 0 3 0 36 0 12 0 73 0 171 0 113 0 123 0 33 0-565 1 161 0 60 0 22 0 39 0 31 0 187 0 44 0 7 0 5 0 12 0-571 1 13 0 4 0 25 0 1 0 79 0 24 0 6 0 8 0 13 0 68 0 107 0 8 0 169 0 45 0-568 1 87 0 18 0 54 0 5 0 53 0 29 0 62 0 58 0 99 0 67 0-532 1 15 0 13 0 69 0 43 0 39 0 26 0 12 0 15 0 6 0 3 0 92 0 33 0 78 0 17 0 28 0 31 0-491 1 84 0 16 0 90 0 58 0 37 0 8 0 40 0 1 0 11 0 5 0 25 0 107 0 56 0-563 1 9 0 32 0 48 0 15 0 86 0 76 0 40 0 20 0 80 0 45 0 3 0 73 0 36 0-565 1 27 0 106 0 68 0 4 0 105 0 13 0 154 0 18 0 23 0 38 0-539 1 1 0 11 0 6 0 121 0 64 0 56 0 11 0 25 0 234 0 17 0-536 1 46 0 54 0 27 0 55 0 26 0 88 0 115 0 50 0 12 0 43 0-502 1 9 0 117 0 23 0 65 0 48 0 7 0 2 0 48 0 24 0 24 0 7 0 79 0 35 0 21 0-511 1 18 0 5 0 7 0 1 0 96 0 3 0 20 0 58 0 312 0 1 0 4 0-542 1 39 0 91 0 16 0 14 0 10 0 26 0 12 0 5 0 7 0 12 0 28 0 9 0 47 0 94 0 3 0 46 0 15 0 31 0 5 0 16 0 7 0-547 1 8 0 2 0 39 0 2 0 5 0 308 0 9 0-318 1 67 0 22 0 25 0 139 0 41 0 39 0 154 0 7 0 2 0-546 1 28 0 6 0 26 0 7 0 12 0 60 0 16 0 15 0 35 0 8 0 142 0 3 0 61 0 21 0 32 0 47 0 25 0 2 0 2 0-551 1 10 0 4 0 7 0 57 0 63 0 47 0 9 0 122 0 44 0 46 0 15 0 102 0 9 0 4 0 7 0 2 0-551 1 14 0 114 0 121 0 28 0 105 0 14 0 84 0-462 1 42 0 7 0 44 0 43 0 154 0 6 0 36 0 1 0 16 0 13 0 6 0 18 0 14 0 62 0-453 1 68 0 4 0 30 0 30 0 15 0 82 0 60 0 33 0 7 0 18 0 6 0 3 0 9 0 1 0 47 0 50 0 16 0 24 0 11 0 9 0 1 0-550 1 1 0 30 0 114 0 11 0 127 0 46 0 97 0 19 0 1 0-439 1 90 0 117 0 31 0 23 0 41 0 5 0 44 0 9 0 45 0 37 0 17 0 44 0 39 0-553 1 167 0 5 0 94 0 55 0 30 0 32 0 63 0 27 0 78 0 3 0-550 1 95 0 34 0 40 0 124 0 84 0 147 0 22 0-549 1 10 0 16 0 4 0 18 0 73 0 21 0 11 0 8 0 28 0 29 0 41 0 9 0 21 0 96 0 76 0 14 0 66 0 2 0 6 0-546 1 1 0 3 0 146 0 26 0 37 0 90 0 10 0 34 0 130 0-479 1 11 0 9 0 2 0 211 0 1 0 19 0 28 0 25 0 29 0 6 0 13 0 1 0 55 0 46 0 33 0 60 0-547 1 3 0 18 0 6 0 18 0 175 0 40 0 4 0 5 0 57 0 21 0 186 0-534 1 15 0 24 0 63 0 6 0 115 0 30 0 105 0 7 0 47 0 28 0 15 0 80 0-517 1 43 0 8 0 10 0 10 0 282 0 46 0 3 0 11 0 57 0 19 0-502 1 6 0 74 0 143 0 164 0 14 0 1 0 10 0 24 0 7 0 43 0-481 1 84 0 58 0 21 0 17 0 31 0 87 0 19 0 54 0 9 0 115 0 29 0 4 0 3 0 6 0-540 1 3 0 128 0 6 0 6 0 7 0 38 0 10 0 19 0 7 0 45 0 5 0 13 0 35 0 29 0 28 0 147 0 8 0 6 0-543 1 4 0 5 0 10 0 39 0 25 0 85 0 2 0 34 0 57 0 21 0 17 0 58 0 9 0 39 0 105 0 25 0-501 1 25 0 55 0 128 0 9 0 24 0 16 0 205 0 1 0 13 0 32 0-545 1 4 0 1 0 5 0 33 0 68 0 16 0 11 0 7 0 29 0 8 0 40 0 121 0 9 0 24 0 104 0 9 0 15 0 25 0 4 0-505 1 15 0 1 0 74 0 196 0 20 0 4 0 86 0 33 0 56 0 6 0 21 0 3 0-541 1 10 0 38 0 2 0 33 0 66 0 13 0 52 0 47 0 74 0 29 0 21 0 72 0 40 0 7 0 19 0 7 0 5 0 6 0-533 1 7 0 145 0 55 0 27 0 11 0 110 0 4 0 45 0 26 0 41 0 35 0-506 1 46 0 86 0 51 0 2 0 17 0 56 0 14 0 7 0 17 0 76 0 8 0 6 0 25 0 86 0 16 0-519 1 1 0 1 0 66 0 32 0 42 0 129 0 82 0 37 0 28 0 58 0 40 0 17 0-533 1 4 0 23 0 76 0 31 0 9 0 26 0 6 0 5 0 31 0 25 0 7 0 43 0 141 0 21 0 66 0 13 0 8 0-531 1 11 0 23 0 16 0 2 0 79 0 9 0 30 0 10 0 27 0 125 0 21 0 48 0 64 0 34 0 25 0 7 0-513 1 69 0 83 0 180 0 28 0 32 0 27 0 7 0 55 0 6 0-508 1 143 0 7 0 38 0 16 0 52 0 39 0 23 0 8 0 107 0 5 0 41 0-460 1 36 0 128 0 7 0 28 0 47 0 87 0 19 0 7 0 31 0 32 0 85 0 5 0-479 1 11 0 14 0 7 0 113 0 48 0 4 0 33 0 8 0 32 0 27 0 35 0 22 0 14 0 100 0 9 0-454 1 20 0 2 0 17 0 77 0 26 0 62 0 7 0 1 0 1 0 9 0 6 0 17 0 4 0 3 0 166 0 6 0-493 1 4 0 5 0 1 0 17 0 70 0 84 0 37 0 8 0 54 0 17 0 70 0 12 0 93 0 45 0-512 1 41 0 75 0 47 0 3 0 52 0 65 0 57 0 45 0 14 0 62 0 20 0-465 1 11 0 143 0 10 0 14 0 26 0 30 0 11 0 42 0 39 0 5 0 7 0 57 0 26 0 33 0 25 0 16 0 11 0-529 1 1 0 5 0 36 0 60 0 15 0 8 0 9 0 10 0 110 0 22 0 21 0 6 0 69 0 11 0 46 0 23 0 22 0 46 0 1 0 4 0-510 1 5 0 3 0 12 0 4 0 156 0 7 0 15 0 8 0 17 0 39 0 46 0 2 0 21 0 147 0 18 0 8 0-515 1 2 0 34 0 1 0 65 0 1 0 24 0 37 0 79 0 3 0 72 0 36 0 46 0 1 0 17 0 56 0 32 0 6 0 3 0 1 0-516 1 12 0 3 0 222 0 1 0 30 0 28 0 41 0 31 0 17 0 14 0 12 0 13 0 25 0 34 0 18 0 6 0-503 1 1 0 52 0 2 0 59 0 11 0 2 0 123 0 52 0 9 0 20 0 40 0 42 0 70 0 22 0 4 0-518 1 1 0 3 0 6 0 11 0 16 0 6 0 9 0 5 0 20 0 2 0 58 0 63 0 222 0 10 0 9 0-442 1 46 0 24 0 56 0 1 0 3 0 1 0 22 0 98 0 131 0 107 0-476 1 180 0 7 0 38 0 79 0 18 0 3 0 6 0 140 0 8 0 22 0 5 0-514 1 66 0 11 0 9 0 25 0 13 0 2 0 29 0 107 0 18 0 24 0 19 0 17 0 74 0 52 0 27 0-420 1 6 0 96 0 93 0 30 0 7 0 11 0 23 0 5 0 19 0 78 0 27 0 16 0 18 0 9 0-503 1 31 0 50 0 4 0 6 0 72 0 10 0 8 0 118 0 48 0 130 0-487 1 80 0 9 0 24 0 7 0 61 0 61 0 16 0 10 0 164 0 5 0 11 0 50 0-438 1 8 0 88 0 6 0 56 0 17 0 6 0 38 0 83 0 3 0 7 0 4 0 57 0 13 0 28 0 33 0 9 0-511 1 34 0 15 0 75 0 52 0 14 0 23 0 148 0 29 0 117 0 4 0-503 1 207 0 54 0 18 0 23 0 25 0 42 0 66 0 23 0 18 0 3 0 16 0-501 1 8 0 6 0 58 0 32 0 20 0 13 0 3 0 49 0 12 0 22 0 92 0 41 0 31 0 2 0 49 0 63 0-414 1 37 0 152 0 17 0 39 0 16 0 15 0 9 0 4 0 8 0 29 0 3 0 53 0 30 0 6 0 1 0 1 0-395 1 7 0 37 0 24 0 2 0 45 0 97 0 48 0 31 0 6 0 7 0 33 0 15 0 25 0 4 0 15 0-487 1 35 0 43 0 13 0 7 0 24 0 82 0 70 0 24 0 5 0 11 0 34 0 7 0 6 0 88 0 21 0-489 1 24 0 7 0 10 0 3 0 29 0 3 0 30 0 8 0 1 0 3 0 91 0 86 0 5 0 75 0 106 0 20 0-504 1 2 0 24 0 77 0 6 0 35 0 54 0 18 0 18 0 40 0 41 0 15 0 38 0 119 0-482 1 181 0 74 0 10 0 3 0 50 0 60 0 1 0 33 0 32 0 2 0 15 0 35 0 1 0-498 1 33 0 1 0 23 0 7 0 64 0 31 0 87 0 53 0 15 0 39 0 32 0 9 0 3 0 72 0 4 0 23 0-459 1 2 0 9 0 4 0 32 0 1 0 24 0 6 0 6 0 45 0 1 0 17 0 13 0 5 0 46 0 25 0 46 0 19 0 4 0 26 0 11 0 24 0 80 0 12 0 1 0-496 1 3 0 6 0 24 0 57 0 45 0 13 0 3 0 12 0 40 0 25 0 15 0 9 0 17 0 21 0 55 0 22 0 1 0 52 0 17 0 62 0-420 1 9 0 41 0 73 0 7 0 45 0 46 0 71 0 7 0 55 0 5 0 22 0 21 0 11 0-485 1 2 0 19 0 122 0 13 0 41 0 54 0 66 0 31 0 16 0 11 0-380 1 23 0 12 0 35 0 33 0 107 0 77 0 15 0 77 0 48 0 11 0-419 1 60 0 33 0 21 0 25 0 9 0 3 0 10 0 19 0 8 0 3 0 69 0 26 0 3 0 94 0 23 0 2 0 23 0 38 0-486 1 4 0 94 0 25 0 42 0 72 0 22 0 9 0 30 0 12 0 37 0 7 0 2 0 3 0 71 0 61 0-481 1 76 0 31 0 8 0 35 0 3 0 16 0 56 0 15 0 31 0 18 0 112 0 25 0 34 0-460 1 2 0 25 0 69 0 23 0 30 0 34 0 18 0 52 0 60 0 31 0 28 0 26 0 17 0 18 0 16 0 11 0-469 1 9 0 42 0 12 0 4 0 114 0 58 0 54 0 18 0 51 0 2 0 24 0 49 0 5 0 3 0 42 0 2 0-478 1 12 0 16 0 55 0 8 0 8 0 22 0 13 0 40 0 9 0 2 0 38 0 4 0 24 0 23 0 81 0 27 0 22 0 13 0 26 0 16 0 1 0-452 1 36 0 9 0 40 0 1 0 2 0 30 0 18 0 19 0 14 0 5 0 26 0 1 0 1 0 3 0 1 0 53 0 118 0 13 0 2 0 5 0 2 0 7 0 42 0 18 0 5 0-481 1 2 0 41 0 109 0 1 0 42 0 4 0 20 0 3 0 33 0 21 0 19 0 87 0 79 0 6 0 4 0 4 0 3 0-486 1 15 0 66 0 8 0 53 0 17 0 65 0 8 0 64 0 48 0 30 0 6 0 3 0 35 0 2 0 21 0 18 0 24 0 1 0-451 1 8 0 29 0 89 0 28 0 86 0 7 0 19 0 31 0 14 0 36 0 36 0 4 0 47 0 7 0-444 1 32 0 52 0 65 0 7 0 2 0 37 0 9 0 31 0 1 0 5 0 3 0 5 0 22 0 30 0 46 0 107 0-480 1 2 0 17 0 1 0 7 0 14 0 6 0 57 0 15 0 11 0 79 0 33 0 12 0 1 0 6 0 15 0 38 0 17 0 28 0 62 0 41 0 11 0 10 0-484 1 3 0 13 0 33 0 19 0 8 0 28 0 31 0 15 0 30 0 10 0 18 0 95 0 20 0 10 0 36 0 34 0 22 0 39 0 7 0 2 0 4 0 1 0 1 0-477 1 4 0 5 0 17 0 3 0 16 0 45 0 8 0 33 0 13 0 44 0 29 0 46 0 1 0 2 0 24 0 39 0 2 0 68 0 13 0 44 0 7 0 9 0-301 1 1 0 37 0 71 0 13 0 40 0 34 0 7 0 54 0 13 0 5 0 17 0 6 0 3 0-468 1 2 0 10 0 55 0 23 0 50 0 10 0 22 0 5 0 14 0 18 0 33 0 26 0 27 0 41 0 7 0 2 0 12 0 29 0 35 0 15 0 3 0 12 0 10 0 4 0-467 1 83 0 10 0 38 0 1 0 12 0 29 0 58 0 14 0 35 0 51 0 37 0 23 0 5 0 29 0 24 0 7 0 3 0 18 0-462 1 8 0 12 0 15 0 105 0 16 0 4 0 59 0 23 0 10 0 5 0 30 0 37 0 4 0 6 0 23 0 7 0 13 0 8 0 45 0 8 0 6 0 11 0 2 0 2 0 2 0-473 1 5 0 2 0 4 0 8 0 3 0 25 0 2 0 13 0 68 0 2 0 26 0 28 0 25 0 8 0 32 0 20 0 14 0 23 0 14 0 11 0 27 0 55 0 30 0 11 0 4 0 13 0-472 1 3 0 5 0 27 0 18 0 7 0 35 0 5 0 17 0 5 0 35 0 5 0 37 0 8 0 14 0 4 0 28 0 92 0 61 0 26 0 10 0 10 0 7 0 4 0 1 0-453 1 1 0 46 0 2 0 5 0 16 0 8 0 42 0 29 0 2 0 2 0 12 0 8 0 14 0 20 0 18 0 8 0 20 0 3 0 19 0 1 0 44 0 17 0 50 0 17 0 11 0 7 0 7 0 20 0-458 1 2 0 2 0 1 0 8 0 4 0 47 0 54 0 28 0 19 0 9 0 3 0 1 0 26 0 17 0 22 0 16 0 19 0 45 0 81 0 14 0 16 0 8 0 10 0 12 0-461 1 2 0 48 0 33 0 31 0 64 0 26 0 8 0 44 0 10 0 4 0 2 0 8 0 3 0 17 0 30 0 60 0 12 0 6 0 16 0 5 0 18 0 14 0-462 1 2 0 1 0 8 0 5 0 81 0 6 0 42 0 23 0 6 0 12 0 13 0 15 0 75 0 4 0 18 0 46 0 8 0 4 0 51 0 12 0 26 0-456 1 4 0 32 0 8 0 25 0 3 0 3 0 11 0 13 0 5 0 26 0 50 0 42 0 35 0 8 0 3 0 11 0 60 0 12 0 4 0 32 0 4 0 17 0-415 1 3 0 2 0 1 0 2 0 7 0 14 0 2 0 5 0 11 0 33 0 50 0 3 0 18 0 10 0 19 0 18 0 14 0 4 0 4 0 6 0 2 0 16 0 20 0 8 0 49 0 24 0 15 0 11 0 12 0 36 0 2 0 14 0 8 0 8 0 2 0-450 1 2 0 14 0 23 0 1 0 1 0 25 0 43 0 15 0 2 0 36 0 26 0 21 0 2 0 4 0 39 0 31 0 22 0 5 0 14 0 12 0 21 0 2 0 10 0 9 0 12 0 34 0 15 0 9 0 1 0 2 0 6 0 1 0 2 0 2 0-463 1 1 0 10 0 62 0 1 0 33 0 27 0 6 0 16 0 14 0 16 0 17 0 54 0 45 0 17 0 3 0 34 0 8 0 4 0 8 0 5 0 26 0 11 0 3 0 6 0 23 0-426 1 12 0 3 0 1 0 11 0 49 0 10 0 13 0 6 0 10 0 20 0 24 0 1 0 4 0 21 0 3 0 11 0 3 0 4 0 11 0 11 0 41 0 32 0 9 0 13 0 77 0 19 0 10 0 6 0 2 0-458 1 17 0 4 0 10 0 2 0 18 0 12 0 31 0 15 0 12 0 11 0 10 0 15 0 5 0 6 0 24 0 54 0 21 0 10 0 30 0 30 0 12 0 8 0 22 0 49 0 7 0 5 0 8 0 2 0-450 1 1 0 4 0 1 0 14 0 2 0 25 0 15 0 10 0 9 0 23 0 7 0 36 0 3 0 12 0 22 0 20 0 17 0 22 0 37 0 5 0 43 0 15 0 4 0 14 0 7 0 4 0 5 0 2 0 1 0 23 0 1 0 2 0 2 0 4 0 13 0 14 0 7 0 3 0-439 1 15 0 3 0 4 0 2 0 13 0 15 0 7 0 10 0 21 0 48 0 35 0 19 0 7 0 12 0 11 0 22 0 13 0 24 0 26 0 3 0 7 0 14 0 16 0 5 0 7 0 24 0 45 0 7 0 7 0 2 0-453 1 1 0 5 0 9 0 6 0 7 0 1 0 31 0 10 0 1 0 12 0 71 0 5 0 14 0 32 0 4 0 7 0 17 0 1 0 21 0 21 0 7 0 4 0 3 0 7 0 26 0 7 0 3 0 11 0 10 0 10 0 24 0 14 0 43 0 7 0-449 1 12 0 2 0 10 0 5 0 27 0 1 0 5 0 25 0 14 0 26 0 16 0 31 0 2 0 1 0 8 0 8 0 4 0 9 0 20 0 2 0 9 0 2 0 4 0 3 0 3 0 15 0 19 0 36 0 20 0 13 0 30 0 3 0 8 0 1 0 8 0 8 0 14 0 3 0 7 0 2 0 9 0 1 0-424 1 1 0 2 0 8 0 11 0 29 0 2 0 16 0 9 0 1 0 20 0 3 0 20 0 21 0 20 0 2 0 2 0 31 0 1 0 3 0 5 0 25 0 12 0 2 0 5 0 6 0 1 0 2 0 14 0 3 0 4 0 10 0 7 0 13 0 6 0 17 0 49 0 3 0 7 0 1 0 16 0 7 0 7 0 3 0-412 1 5 0 3 0 3 0 11 0 7 0 25 0 1 0 1 0 3 0 29 0 6 0 4 0 2 0 23 0 48 0 13 0 14 0 3 0 12 0 17 0 5 0 10 0 5 0 11 0 5 0 7 0 16 0 7 0 15 0 2 0 6 0 3 0 10 0 10 0 2 0 2 0 4 0 16 0 1 0 3 0 16 0 11 0 1 0-432 1 1 0 3 0 2 0 17 0 8 0 9 0 35 0 6 0 7 0 18 0 25 0 11 0 14 0 1 0 75 0 1 0 11 0 7 0 8 0 8 0 12 0 6 0 2 0 5 0 5 0 16 0 8 0 7 0 3 0 18 0 10 0 2 0 1 0 5 0 2 0 18 0 9 0 1 0 21 0 4 0 4 0 3 0 5 0 8 0 3 0-443 1 15 0 15 0 31 0 1 0 6 0 7 0 11 0 5 0 13 0 1 0 15 0 10 0 30 0 43 0 21 0 2 0 15 0 26 0 16 0 5 0 1 0 16 0 2 0 13 0 9 0 18 0 4 0 5 0 10 0 5 0 17 0 4 0 37 0 7 0 6 0-442 1 6 0 8 0 11 0 15 0 23 0 3 0 12 0 35 0 4 0 5 0 14 0 3 0 4 0 1 0 2 0 2 0 2 0 7 0 25 0 19 0 2 0 11 0 5 0 1 0 3 0 8 0 14 0 22 0 4 0 5 0 13 0 1 0 15 0 7 0 14 0 3 0 23 0 5 0 1 0 1 0 13 0 1 0 5 0 3 0 16 0 11 0 7 0 8 0 15 0-431 1 6 0 16 0 27 0 6 0 3 0 18 0 5 0 4 0 2 0 6 0 5 0 9 0 7 0 5 0 8 0 1 0 6 0 23 0 11 0 10 0 19 0 6 0 14 0 5 0 10 0 7 0 5 0 29 0 6 0 8 0 4 0 11 0 9 0 5 0 6 0 15 0 11 0 1 0 6 0 5 0 6 0 1 0 23 0 9 0 12 0 1 0 3 0 2 0 13 0 3 0-436 1 9 0 2 0 2 0 2 0 1 0 1 0 6 0 2 0 8 0 7 0 5 0 1 0 3 0 6 0 8 0 5 0 1 0 5 0 10 0 2 0 8 0 8 0 10 0 8 0 4 0 4 0 3 0 17 0 5 0 13 0 25 0 11 0 2 0 1 0 5 0 11 0 1 0 3 0 3 0 16 0 10 0 14 0 27 0 7 0 20 0 3 0 8 0 6 0 8 0 5 0 12 0 18 0 5 0 8 0 2 0 8 0 12 0 1 0 2 0 1 0-416 1 7 0 7 0 15 0 20 0 15 0 8 0 16 0 6 0 1 0 2 0 6 0 3 0 3 0 8 0 9 0 3 0 5 0 4 0 18 0 31 0 10 0 17 0 1 0 4 0 5 0 8 0 10 0 9 0 5 0 6 0 4 0 20 0 4 0 5 0 5 0 2 0 2 0 15 0 8 0 9 0 1 0 4 0 6 0 1 0 7 0 3 0 11 0 3 0 2 0 1 0 24 0 4 0 8 0 1 0 9 0-415 1 3 0 15 0 6 0 5 0 6 0 8 0 21 0 3 0 1 0 2 0 2 0 2 0 4 0 6 0 1 0 8 0 7 0 1 0 6 0 12 0 11 0 3 0 1 0 4 0 4 0 20 0 8 0 1 0 8 0 2 0 5 0 3 0 3 0 7 0 21 0 1 0 7 0 5 0 10 0 2 0 3 0 2 0 7 0 7 0 3 0 10 0 2 0 8 0 1 0 2 0 2 0 5 0 10 0 3 0 1 0 3 0 19 0 1 0 4 0 9 0 2 0 6 0 2 0 4 0 5 0 3 0 16 0 3 0 1 0 6 0 7 0 1 0 1 0 1 0 6 0 1 0 7 0-428 1 2 0 1 0 4 0 8 0 7 0 9 0 3 0 1 0 48 0 3 0 8 0 13 0 1 0 4 0 3 0 4 0 13 0 3 0 12 0 17 0 6 0 1 0 1 0 6 0 3 0 3 0 17 0 9 0 6 0 2 0 8 0 2 0 3 0 7 0 13 0 15 0 4 0 1 0 3 0 1 0 1 0 2 0 10 0 1 0 10 0 11 0 2 0 1 0 11 0 9 0 2 0 12 0 3 0 2 0 10 0 9 0 1 0 4 0 4 0 9 0 4 0 7 0 25 0-425 1 4 0 1 0 3 0 4 0 7 0 5 0 10 0 9 0 21 0 10 0 8 0 2 0 1 0 6 0 4 0 3 0 1 0 8 0 11 0 8 0 6 0 1 0 1 0 2 0 23 0 9 0 1 0 8 0 9 0 10 0 15 0 6 0 2 0 22 0 25 0 2 0 5 0 1 0 5 0 3 0 6 0 4 0 6 0 4 0 1 0 1 0 3 0 3 0 1 0 6 0 1 0 5 0 3 0 7 0 1 0 5 0 3 0 8 0 16 0 10 0 4 0 14 0 5 0 1 0 5 0 2 0 7 0 2 0 8 0 1 0 2 0 1 0-427 1 3 0 9 0 15 0 6 0 8 0 4 0 1 0 4 0 7 0 13 0 2 0 8 0 4 0 2 0 12 0 2 0 13 0 2 0 4 0 2 0 5 0 1 0 2 0 2 0 6 0 4 0 4 0 2 0 7 0 5 0 5 0 11 0 2 0 6 0 21 0 3 0 7 0 2 0 6 0 5 0 2 0 4 0 6 0 4 0 2 0 3 0 2 0 5 0 2 0 11 0 1 0 7 0 2 0 14 0 2 0 2 0 6 0 1 0 1 0 1 0 14 0 3 0 8 0 3 0 7 0 1 0 1 0 13 0 5 0 1 0 12 0 2 0 12 0 2 0 9 0 5 0 1 0 6 0 1 0 7 0 3 0 3 0-420 1 15 0 13 0 1 0 2 0 6 0 2 0 3 0 4 0 33 0 1 0 2 0 6 0 2 0 3 0 8 0 13 0 13 0 5 0 9 0 1 0 1 0 5 0 5 0 4 0 9 0 2 0 4 0 9 0 1 0 13 0 19 0 6 0 5 0 1 0 1 0 18 0 3 0 1 0 2 0 1 0 12 0 12 0 1 0 4 0 1 0 2 0 7 0 1 0 2 0 7 0 17 0 4 0 22 0 7 0 5 0 3 0 9 0 7 0 6 0 7 0 12 0 3 0 8 0-407 1 2 0 13 0 29 0 6 0 8 0 10 0 3 0 14 0 3 0 10 0 6 0 3 0 3 0 5 0 2 0 4 0 3 0 3 0 2 0 6 0 1 0 3 0 14 0 3 0 5 0 17 0 6 0 15 0 3 0 5 0 8 0 8 0 11 0 23 0 4 0 2 0 5 0 8 0 1 0 2 0 4 0 7 0 10 0 8 0 2 0 2 0 6 0 2 0 10 0 2 0 3 0 3 0 3 0 3 0 3 0 3 0 1 0 5 0 4 0 8 0 4 0 1 0 1 0 8 0 2 0 1 0 1 0 1 0 3 0 2 0 12 0 9 0-409 1 2 0 7 0 11 0 8 0 4 0 13 0 2 0 1 0 16 0 6 0 3 0 14 0 1 0 6 0 2 0 17 0 2 0 19 0 6 0 2 0 9 0 3 0 3 0 4 0 7 0 5 0 12 0 7 0 3 0 10 0 17 0 2 0 7 0 1 0 2 0 2 0 4 0 21 0 1 0 1 0 2 0 9 0 15 0 18 0 2 0 7 0 4 0 14 0 1 0 6 0 3 0 13 0 1 0 1 0 2 0 1 0 3 0 1 0 7 0 2 0 18 0 6 0 8 0-412 1 1 0 6 0 1 0 2 0 3 0 2 0 1 0 2 0 7 0 1 0 4 0 9 0 14 0 2 0 3 0 9 0 5 0 2 0 8 0 15 0 2 0 17 0 3 0 6 0 17 0 19 0 7 0 8 0 1 0 1 0 6 0 17 0 8 0 10 0 3 0 2 0 2 0 8 0 7 0 1 0 3 0 14 0 15 0 14 0 3 0 4 0 2 0 2 0 1 0 1 0 24 0 1 0 3 0 12 0 25 0 2 0 9 0 16 0 2 0 5 0 1 0 6 0 4 0-404 1 11 0 1 0 14 0 7 0 1 0 4 0 1 0 11 0 6 0 8 0 2 0 3 0 1 0 3 0 2 0 3 0 4 0 11 0 5 0 3 0 6 0 7 0 5 0 3 0 11 0 1 0 3 0 10 0 2 0 1 0 1 0 33 0 1 0 1 0 5 0 5 0 5 0 4 0 3 0 1 0 7 0 6 0 8 0 1 0 1 0 6 0 9 0 4 0 4 0 9 0 3 0 14 0 4 0 10 0 1 0 1 0 1 0 4 0 2 0 14 0 10 0 2 0 2 0 7 0 3 0 2 0 4 0 2 0 7 0 11 0 1 0 16 0 16 0-403 1 5 0 2 0 9 0 10 0 4 0 5 0 1 0 3 0 2 0 1 0 2 0 15 0 2 0 2 0 2 0 5 0 7 0 3 0 7 0 13 0 1 0 3 0 4 0 2 0 8 0 7 0 3 0 1 0 5 0 7 0 4 0 2 0 5 0 18 0 2 0 11 0 5 0 5 0 3 0 2 0 6 0 1 0 20 0 9 0 14 0 2 0 14 0 2 0 1 0 3 0 3 0 9 0 6 0 50 0-336 1 4 0 10 0 3 0 6 0 6 0 1 0 9 0 2 0 9 0 2 0 14 0 9 0 1 0 1 0 37 0 9 0" fill="none" stroke="none" marker-start="url(#q)" marker-mid="url(#q)" marker-end="url(#q)"/>
<rect x="1347.5" y="43.3" width="876.0" height="583.1" fill="none" stroke="#0000d2" stroke-width="4.6"/>
<text x="1320.5" y="53.8" font-size="41.5" text-anchor="end" class="t">0</text>
<text x="1320.5" y="128.5" font-size="41.5" text-anchor="end" class="t">-0.01</text>
<text x="1320.5" y="201.4" font-size="41.5" text-anchor="end" class="t">-0.02</text>
<text x="1320.5" y="274.3" font-size="41.5" text-anchor="end" class="t">-0.03</text>
<text x="1320.5" y="347.2" font-size="41.5" text-anchor="end" class="t">-0.04</text>
<text x="1320.5" y="420.1" font-size="41.5" text-anchor="end" class="t">-0.05</text>
<text x="1320.5" y="493.0" font-size="41.5" text-anchor="end" class="t">-0.06</text>
<text x="1320.5" y="565.9" font-size="41.5" text-anchor="end" class="t">-0.07</text>
<text x="1320.5" y="638.8" font-size="41.5" text-anchor="end" class="t">-0.08</text>
<text x="1344.0" y="672.5" font-size="41.5" text-anchor="middle" class="t">-15</text>
<text x="1489.6" y="672.5" font-size="41.5" text-anchor="middle" class="t">-10</text>
<text x="1636.2" y="672.5" font-size="41.5" text-anchor="middle" class="t">-5</text>
<text x="1780.6" y="672.5" font-size="41.5" text-anchor="middle" class="t">0</text>
<text x="1927.7" y="672.5" font-size="41.5" text-anchor="middle" class="t">5</text>
<text x="2072.0" y="672.5" font-size="41.5" text-anchor="middle" class="t">10</text>
<text x="2220.7" y="672.5" font-size="41.5" text-anchor="middle" class="t">15</text>
<text x="1385.1" y="90.9" font-size="48">(</text>
<text x="1403.1" y="97.6" font-size="56" style="fill:#1a1a1a">b</text>
<text x="1429.8" y="90.9" font-size="48">)</text>
<path d="M398.9 839.4V1422.4M544.9 839.4V1422.4M690.9 839.4V1422.4M836.9 839.4V1422.4M982.9 839.4V1422.4M252.9 922.7H1128.9M252.9 1006.0H1128.9M252.9 1089.3H1128.9M252.9 1172.5H1128.9M252.9 1255.8H1128.9M252.9 1339.1H1128.9" stroke="#0000d2" stroke-width="4.6" stroke-dasharray="4.7 4.6" fill="none"/>
<path d="M398.9 839.4v25.5M398.9 1422.4v-25.5M544.9 839.4v25.5M544.9 1422.4v-25.5M690.9 839.4v25.5M690.9 1422.4v-25.5M836.9 839.4v25.5M836.9 1422.4v-25.5M982.9 839.4v25.5M982.9 1422.4v-25.5M252.9 922.7h25.5M1128.9 922.7h-25.5M252.9 1006.0h25.5M1128.9 1006.0h-25.5M252.9 1089.3h25.5M1128.9 1089.3h-25.5M252.9 1172.5h25.5M1128.9 1172.5h-25.5M252.9 1255.8h25.5M1128.9 1255.8h-25.5M252.9 1339.1h25.5M1128.9 1339.1h-25.5" stroke="#0000d2" stroke-width="4.6" fill="none"/>
<path d="m678 848-4 4 28 1-17 8-3 1-18 3 25 0 3 0-22 2 32 3-35 2 14 0-16 1-5 2 3 0 32 1 15 0-21 2-31 2 18 0 27 0-20 2 4 3 19 0-21 3 4 2 18 0 14 0-4 1-33 1 1 0 17 0 1 0-26 1-16 1 3 1 2 1 45 0 9 0-24 2-2 2-14 2 22 0 17 1-70 1 42 1 4 0-37 1 51 0-36 1-17 1 25 0 1 2 3 2 46 1-52 1-12 1 6 0 10 0-27 1 64 0-23 1 15 1 19 0-47 1-1 1 6 0 36 0-32 1-441 1 1 0 1 0 5 0 21 0 53 0 30 0 32 0 28 0 10 0 11 0 7 0 25 0 23 0 74 0 13 0 25 0 22 0 24 0 13 0 52 0 8 0 1 0 40 0 13 0 6 0 9 0 1 0 72 0 19 0 9 0 22 0 60 0 22 0 42 0 1 0 4 0 11 0 9 0 1 0 11 0 21 0 20 0-872 1 1 0 2 0 19 0 18 0 5 0 23 0 7 0 5 0 109 0 54 0 7 0 22 0 52 0 15 0 28 0 13 0 43 0 27 0 44 0 6 0 87 0 29 0 37 0 45 0 26 0 27 0 28 0 11 0 20 0 6 0 4 0 3 0 2 0 8 0 16 0 13 0 10 0-871 1 5 0 1 0 6 0 13 0 11 0 35 0 5 0 19 0 64 0 2 0 39 0 19 0 20 0 42 0 28 0 4 0 33 0 6 0 43 0 113 0 15 0 15 0 14 0 14 0 49 0 76 0 7 0 22 0 39 0 34 0 24 0 11 0 8 0 7 0 11 0 5 0 7 0 2 0 2 0-860 1 23 0 9 0 10 0 3 0 9 0 23 0 2 0 35 0 93 0 7 0 1 0 14 0 12 0 25 0 2 0 1 0 63 0 4 0 34 0 20 0 93 0 4 0 49 0 62 0 4 0 89 0 5 0 14 0 4 0 44 0 36 0 3 0 15 0 9 0 33 0 1 0 1 0 3 0-867 1 1 0 16 0 1 0 6 0 15 0 42 0 20 0 58 0 18 0 41 0 41 0 32 0 24 0 39 0 10 0 4 0 76 0 61 0 38 0 14 0 69 0 2 0 31 0 2 0 19 0 3 0 116 0 3 0 1 0 2 0 19 0 29 0 3 0 3 0 4 0-860 1 1 0 3 0 12 0 5 0 12 0 51 0 34 0 10 0 37 0 12 0 49 0 70 0 54 0 15 0 45 0 34 0 62 0 55 0 2 0 6 0 4 0 17 0 39 0 9 0 56 0 8 0 52 0 3 0 8 0 58 0 1 0 20 0 3 0 13 0 3 0 2 0-863 1 40 0 8 0 56 0 9 0 51 0 59 0 9 0 3 0 27 0 81 0 109 0 12 0 76 0 8 0 19 0 29 0 12 0 26 0 33 0 30 0 12 0 42 0 50 0 44 0 7 0 5 0 2 0 3 0-863 1 16 0 3 0 4 0 16 0 33 0 116 0 55 0 18 0 19 0 79 0 146 0 28 0 31 0 70 0 18 0 19 0 33 0 16 0 61 0 26 0 6 0 6 0 37 0-859 1 1 0 8 0 16 0 12 0 12 0 68 0 84 0 15 0 4 0 73 0 4 0 26 0 16 0 49 0 22 0 26 0 11 0 158 0 7 0 14 0 98 0 2 0 26 0 2 0 34 0 26 0 10 0 41 0-858 1 14 0 18 0 25 0 16 0 24 0 29 0 11 0 61 0 25 0 2 0 188 0 1 0 1 0 15 0 133 0 50 0 21 0 7 0 77 0 35 0 1 0 20 0 8 0 3 0 3 0 27 0 8 0 21 0 5 0 1 0 3 0 2 0 3 0-863 1 8 0 4 0 3 0 28 0 13 0 11 0 2 0 16 0 2 0 3 0 75 0 1 0 54 0 18 0 17 0 29 0 4 0 56 0 9 0 92 0 25 0 5 0 7 0 6 0 49 0 14 0 44 0 7 0 32 0 35 0 4 0 5 0 34 0 8 0 14 0 21 0 2 0 52 0 13 0 25 0 5 0-851 1 1 0 2 0 6 0 39 0 43 0 17 0 1 0 36 0 28 0 11 0 26 0 6 0 6 0 19 0 3 0 43 0 71 0 17 0 13 0 49 0 8 0 31 0 173 0 4 0 77 0 26 0 2 0 4 0 8 0 56 0 26 0 2 0-855 1 1 0 3 0 10 0 33 0 34 0 23 0 15 0 2 0 5 0 14 0 28 0 1 0 11 0 68 0 14 0 7 0 11 0 2 0 48 0 179 0 34 0 122 0 31 0 2 0 5 0 21 0 22 0 64 0 10 0 2 0 14 0 5 0 8 0 8 0 2 0-855 1 1 0 4 0 1 0 1 0 11 0 6 0 4 0 16 0 5 0 22 0 3 0 3 0 29 0 7 0 25 0 35 0 64 0 38 0 18 0 11 0 9 0 4 0 30 0 43 0 20 0 31 0 6 0 27 0 27 0 43 0 4 0 35 0 44 0 20 0 2 0 42 0 61 0 38 0 15 0 13 0 13 0 22 0-850 1 11 0 1 0 81 0 31 0 25 0 5 0 49 0 23 0 30 0 1 0 66 0 20 0 5 0 15 0 3 0 32 0 3 0 61 0 9 0 12 0 66 0 79 0 3 0 8 0 23 0 38 0 20 0 23 0 36 0 6 0 31 0 9 0 2 0 15 0 10 0-857 1 13 0 28 0 41 0 2 0 25 0 35 0 13 0 7 0 17 0 34 0 33 0 60 0 7 0 33 0 26 0 9 0 53 0 1 0 19 0 16 0 45 0 19 0 35 0 67 0 13 0 9 0 68 0 49 0 21 0 4 0 29 0 2 0 7 0 14 0-849 1 1 0 17 0 17 0 2 0 22 0 8 0 2 0 46 0 28 0 5 0 24 0 75 0 31 0 8 0 83 0 56 0 3 0 77 0 72 0 35 0 76 0 4 0 21 0 26 0 15 0 29 0 31 0 10 0 14 0-842 1 8 0 7 0 65 0 9 0 23 0 22 0 89 0 96 0 26 0 47 0 13 0 177 0 70 0 16 0 88 0 27 0 21 0 32 0 8 0 5 0 3 0 3 0-844 1 2 0 7 0 5 0 58 0 32 0 7 0 77 0 19 0 66 0 29 0 7 0 154 0 68 0 26 0 37 0 66 0 22 0 2 0 54 0 11 0 39 0 42 0 4 0 2 0-846 1 5 0 7 0 33 0 41 0 10 0 6 0 26 0 39 0 45 0 12 0 58 0 90 0 44 0 28 0 8 0 20 0 141 0 22 0 29 0 31 0 17 0 4 0 10 0 22 0 77 0 1 0 3 0 3 0 7 0 8 0 5 0-846 1 1 0 5 0 53 0 21 0 27 0 63 0 27 0 7 0 125 0 22 0 24 0 12 0 28 0 2 0 15 0 7 0 2 0 5 0 73 0 249 0 11 0 3 0 8 0 21 0 10 0 21 0 1 0 2 0-842 1 43 0 29 0 166 0 19 0 10 0 4 0 6 0 19 0 39 0 1 0 58 0 42 0 87 0 73 0 50 0 56 0 102 0 8 0 20 0 9 0-846 1 1 0 6 0 3 0 9 0 29 0 56 0 7 0 17 0 11 0 6 0 74 0 1 0 14 0 80 0 4 0 15 0 6 0 96 0 5 0 48 0 23 0 18 0 121 0 14 0 15 0 2 0 35 0 16 0 20 0 16 0 62 0 2 0 1 0 3 0 5 0 4 0-847 1 2 0 2 0 4 0 3 0 22 0 25 0 35 0 1 0 12 0 13 0 86 0 104 0 21 0 63 0 36 0 1 0 65 0 27 0 62 0 90 0 5 0 12 0 45 0 54 0 20 0 13 0 6 0 13 0-838 1 8 0 40 0 34 0 11 0 12 0 25 0 44 0 8 0 98 0 21 0 20 0 1 0 23 0 264 0 37 0 160 0 10 0 7 0-820 1 14 0 9 0 14 0 5 0 9 0 135 0 1 0 42 0 85 0 31 0 35 0 124 0 5 0 49 0 18 0 21 0 6 0 15 0 10 0 16 0 143 0 24 0 12 0 10 0 5 0-839 1 1 0 2 0 4 0 15 0 145 0 26 0 61 0 9 0 6 0 78 0 4 0 77 0 3 0 1 0 28 0 1 0 63 0 145 0 43 0 74 0 6 0 3 0 19 0 5 0 2 0-818 1 2 0 9 0 3 0 103 0 213 0 26 0 105 0 43 0 22 0 158 0 39 0 52 0 26 0 25 0-830 1 16 0 14 0 24 0 49 0 72 0 13 0 15 0 34 0 49 0 10 0 38 0 217 0 60 0 49 0 1 0 26 0 28 0 42 0 55 0 6 0-815 1 2 0 10 0 33 0 95 0 104 0 11 0 14 0 81 0 6 0 1 0 143 0 83 0 40 0 190 0 8 0 10 0-833 1 4 0 1 0 3 0 1 0 7 0 29 0 76 0 68 0 46 0 19 0 20 0 12 0 59 0 140 0 20 0 77 0 33 0 24 0 82 0 22 0 43 0 29 0 16 0-832 1 4 0 1 0 5 0 44 0 14 0 117 0 106 0 25 0 39 0 18 0 44 0 153 0 150 0 21 0-705 1 6 0 40 0 19 0 37 0 8 0 61 0 93 0 124 0 229 0 32 0 14 0 5 0 25 0 33 0 9 0 8 0 31 0 19 0 1 0 5 0-829 1 5 0 2 0 4 0 46 0 191 0 13 0 3 0 53 0 46 0 12 0 44 0 99 0 18 0 4 0 71 0 24 0 15 0 32 0 87 0 54 0-766 1 90 0 47 0 19 0 25 0 101 0 36 0 5 0 52 0 20 0 253 0 12 0 45 0 28 0 17 0 16 0 2 0-826 1 4 0 9 0 5 0 25 0 75 0 125 0 1 0 10 0 32 0 29 0 52 0 60 0 159 0 140 0 87 0 5 0 10 0-829 1 3 0 57 0 5 0 26 0 15 0 149 0 73 0 7 0 43 0 8 0 89 0 15 0 8 0 49 0 40 0 40 0 63 0 24 0 19 0 36 0 34 0 8 0 1 0 14 0 2 0-829 1 1 0 16 0 3 0 7 0 9 0 24 0 94 0 44 0 38 0 57 0 59 0 25 0 8 0 61 0 26 0 15 0 73 0 152 0 10 0 8 0 19 0 37 0 44 0-819 1 1 0 6 0 7 0 18 0 4 0 33 0 148 0 23 0 23 0 302 0 106 0 135 0 3 0 8 0-817 1 24 0 159 0 25 0 149 0 113 0 141 0 2 0 56 0 70 0 58 0 16 0 1 0-820 1 69 0 41 0 31 0 16 0 18 0 6 0 38 0 3 0 5 0 96 0 91 0 42 0 22 0 105 0 26 0 42 0 145 0 2 0 8 0 2 0 8 0 2 0 6 0-820 1 9 0 7 0 5 0 41 0 7 0 13 0 25 0 64 0 67 0 54 0 17 0 10 0 77 0 128 0 9 0 134 0 83 0 20 0 23 0 8 0 2 0 1 0 2 0-784 1 13 0 13 0 1 0 9 0 10 0 40 0 78 0 99 0 173 0 17 0 121 0 83 0 2 0 35 0 1 0 21 0 11 0 21 0 40 0 8 0-820 1 24 0 181 0 2 0 25 0 13 0 38 0 42 0 58 0 91 0 40 0 92 0 17 0 36 0 107 0 12 0 31 0 2 0 3 0-810 1 2 0 30 0 29 0 19 0 68 0 74 0 37 0 30 0 30 0 14 0 85 0 130 0 25 0 25 0 32 0 69 0 33 0 2 0 13 0 28 0 25 0-750 1 80 0 18 0 20 0 13 0 37 0 25 0 30 0 205 0 111 0 23 0 17 0 47 0 5 0 44 0 8 0 61 0 10 0 4 0 3 0-816 1 3 0 5 0 2 0 7 0 56 0 47 0 21 0 11 0 65 0 26 0 30 0 46 0 14 0 4 0 10 0 112 0 102 0 45 0 10 0 65 0 6 0 16 0 33 0 5 0 3 0 59 0-803 1 1 0 6 0 20 0 18 0 14 0 134 0 29 0 48 0 93 0 10 0 126 0 54 0 65 0 174 0 17 0 3 0 5 0-802 1 11 0 20 0 2 0 2 0 328 0 34 0 4 0 139 0 39 0 71 0 55 0 72 0 10 0 3 0 2 0 2 0-807 1 1 0 1 0 8 0 2 0 6 0 13 0 23 0 59 0 115 0 3 0 4 0 49 0 28 0 42 0 165 0 31 0 167 0 4 0 41 0 15 0 8 0 9 0 19 0 2 0-815 1 5 0 37 0 18 0 23 0 22 0 24 0 56 0 84 0 31 0 9 0 131 0 23 0 72 0 48 0 29 0 3 0 1 0 168 0 16 0 1 0 2 0 5 0 2 0 6 0-700 1 5 0 140 0 33 0 7 0 25 0 68 0 27 0 163 0 60 0 26 0 80 0 5 0 55 0-751 1 3 0 35 0 24 0 46 0 20 0 163 0 12 0 105 0 203 0 23 0 3 0 64 0 11 0 9 0 3 0 6 0 10 0 3 0 9 0 2 0-804 1 26 0 15 0 8 0 7 0 14 0 71 0 44 0 30 0 2 0 112 0 96 0 13 0 97 0 1 0 122 0 126 0 11 0 1 0 8 0 1 0-810 1 22 0 12 0 9 0 10 0 7 0 16 0 123 0 112 0 106 0 53 0 47 0 9 0 6 0 59 0 22 0 4 0 80 0 54 0 14 0 18 0 13 0 7 0 6 0-664 1 54 0 42 0 9 0 85 0 192 0 22 0 102 0 9 0 4 0 48 0 31 0 5 0 14 0 3 0-753 1 8 0 19 0 47 0 47 0 4 0 268 0 72 0 35 0 1 0 42 0 36 0 4 0 55 0 29 0 20 0 93 0 6 0-797 1 6 0 2 0 1 0 4 0 170 0 63 0 32 0 282 0 86 0 109 0 1 0 3 0 17 0 30 0-747 1 99 0 30 0 4 0 24 0 87 0 68 0 9 0 81 0 71 0 25 0 75 0 62 0 3 0 6 0 55 0 25 0 19 0 5 0-720 1 21 0 73 0 18 0 93 0 14 0 70 0 53 0 55 0 132 0 71 0 84 0 7 0 13 0 1 0 5 0-794 1 5 0 25 0 3 0 65 0 42 0 61 0 46 0 42 0 45 0 48 0 43 0 194 0 75 0 84 0 13 0 1 0-789 1 42 0 64 0 11 0 10 0 63 0 79 0 31 0 24 0 15 0 118 0 50 0 15 0 81 0 27 0 89 0 2 0 61 0 5 0 5 0-783 1 100 0 16 0 4 0 10 0 18 0 5 0 28 0 82 0 126 0 55 0 60 0 20 0 48 0 27 0 56 0 59 0 19 0 31 0 18 0 3 0-781 1 2 0 46 0 63 0 78 0 167 0 123 0 25 0 38 0 7 0 9 0 109 0 71 0 12 0 1 0 13 0-758 1 18 0 4 0 43 0 1 0 78 0 242 0 49 0 61 0 93 0 22 0 155 0 6 0 2 0-704 1 42 0 68 0 12 0 44 0 30 0 98 0 15 0 27 0 142 0 18 0-587 1 26 0 31 0 18 0 6 0 124 0 41 0 144 0 291 0 65 0 24 0-756 1 3 0 17 0 23 0 14 0 20 0 17 0 51 0 40 0 16 0 37 0 19 0 36 0 89 0 29 0 60 0 27 0 4 0 139 0 62 0 37 0 23 0 10 0 5 0-785 1 13 0 4 0 17 0 261 0 46 0 2 0 15 0 45 0 45 0 1 0 80 0 4 0 53 0 25 0 63 0 33 0 58 0 18 0-785 1 7 0 11 0 42 0 23 0 70 0 65 0 112 0 147 0 110 0 111 0 1 0 74 0 1 0 3 0-773 1 4 0 35 0 30 0 75 0 93 0 34 0 26 0 149 0 9 0 18 0 135 0 44 0-607 1 63 0 111 0 27 0 62 0 171 0 31 0 8 0 86 0 19 0 13 0 6 0 1 0 22 0 10 0 33 0 37 0 4 0 26 0 8 0-787 1 1 0 2 0 1 0 90 0 37 0 192 0 44 0 4 0 46 0 8 0 10 0 19 0 10 0 43 0 56 0 39 0 36 0 2 0 31 0 28 0 76 0 9 0-773 1 11 0 109 0 7 0 10 0 41 0 7 0 86 0 34 0 25 0 175 0 1 0 112 0 10 0 42 0 81 0 14 0 3 0 5 0-736 1 4 0 22 0 93 0 12 0 6 0 91 0 7 0 45 0 19 0 1 0 149 0 23 0 30 0 57 0 128 0 4 0 49 0-788 1 7 0 62 0 17 0 83 0 47 0 30 0 88 0 9 0 28 0 83 0 24 0 92 0 89 0 104 0-727 1 27 0 4 0 82 0 2 0 93 0 142 0 23 0 36 0 22 0 140 0 46 0 43 0 81 0 2 0 8 0-773 1 17 0 1 0 7 0 70 0 84 0 388 0 11 0 4 0 6 0 14 0 11 0 25 0 107 0-756 1 2 0 12 0 42 0 29 0 35 0 148 0 8 0 23 0 58 0 226 0 92 0 63 0 29 0 2 0-746 1 53 0 19 0 7 0 19 0 90 0 234 0 17 0 40 0 48 0 53 0 56 0 11 0 17 0 46 0 16 0 29 0 1 0 2 0-780 1 4 0 3 0 6 0 7 0 12 0 16 0 279 0 22 0 46 0 77 0 92 0 46 0 109 0 13 0 6 0 4 0-742 1 3 0 41 0 88 0 124 0 212 0 32 0 61 0 4 0 1 0 126 0 7 0 41 0 31 0 5 0-772 1 3 0 58 0 117 0 85 0 58 0 75 0 1 0 11 0 2 0 45 0 198 0 16 0 5 0 33 0 7 0-715 1 30 0 16 0 7 0 56 0 43 0 55 0 12 0 31 0 76 0 30 0 108 0 103 0 22 0 19 0-609 1 2 0 7 0 109 0 20 0 31 0 15 0 72 0 18 0 30 0 14 0 321 0 123 0 7 0-756 1 5 0 9 0 14 0 89 0 11 0 6 0 150 0 18 0 54 0 32 0 75 0 58 0 7 0 67 0 27 0 14 0 26 0 79 0-754 1 3 0 45 0 17 0 20 0 53 0 126 0 326 0 108 0 14 0 17 0 1 0-731 1 11 0 32 0 197 0 30 0 165 0 124 0 65 0 40 0 52 0 46 0 2 0 10 0 1 0 1 0-771 1 14 0 6 0 44 0 14 0 34 0 51 0 22 0 96 0 73 0 14 0 8 0 43 0 1 0 21 0 24 0 45 0 156 0 56 0 5 0 14 0 5 0 6 0 11 0-767 1 14 0 48 0 10 0 88 0 28 0 104 0 107 0 29 0 81 0 148 0 33 0 12 0 25 0 4 0 10 0 13 0 14 0 4 0-767 1 35 0 22 0 4 0 140 0 16 0 108 0 54 0 14 0 178 0 19 0 86 0 75 0 8 0 8 0 1 0-749 1 45 0 163 0 28 0 30 0 22 0 12 0 5 0 12 0 10 0 28 0 2 0 76 0 36 0 52 0 21 0 138 0 33 0 1 0 25 0-758 1 3 0 1 0 10 0 2 0 2 0 30 0 107 0 30 0 58 0 63 0 29 0 37 0 164 0 184 0 20 0 1 0-739 1 1 0 15 0 1 0 10 0 5 0 34 0 90 0 12 0 31 0 12 0 119 0 43 0 297 0 3 0 83 0 4 0-764 1 1 0 75 0 166 0 33 0 81 0 12 0 85 0 146 0 132 0 16 0-641 1 75 0 4 0 59 0 7 0 59 0 2 0 26 0 6 0 298 0 34 0 78 0 12 0 1 0-756 1 12 0 49 0 196 0 71 0 30 0 47 0 29 0 61 0 102 0 84 0 18 0 34 0 4 0 7 0 11 0 2 0-766 1 1 0 6 0 2 0 11 0 39 0 3 0 34 0 36 0 43 0 56 0 163 0 24 0 19 0 74 0 15 0 132 0 96 0-700 1 47 0 111 0 8 0 19 0 133 0 5 0 42 0 41 0 6 0 19 0 198 0 34 0 42 0 3 0-762 1 13 0 13 0 8 0 59 0 23 0 2 0 16 0 86 0 2 0 71 0 6 0 105 0 34 0 24 0 184 0 21 0 52 0-718 1 75 0 33 0 145 0 3 0 5 0 110 0 23 0 42 0 70 0 50 0 85 0 64 0 23 0 4 0 18 0 14 0-736 1 82 0 2 0 32 0 38 0 107 0 201 0 36 0 231 0 2 0 4 0-759 1 5 0 2 0 6 0 26 0 27 0 186 0 50 0 52 0 5 0 17 0 64 0 62 0 61 0 66 0 69 0 25 0 25 0 2 0 3 0 3 0-756 1 4 0 4 0 14 0 18 0 40 0 1 0 32 0 50 0 33 0 92 0 40 0 94 0 8 0 105 0 8 0 21 0 15 0 31 0 22 0 33 0 84 0-750 1 2 0 18 0 13 0 34 0 36 0 34 0 25 0 294 0 58 0 107 0 6 0 73 0 7 0 22 0 8 0 11 0 7 0 4 0-751 1 33 0 12 0 21 0 126 0 64 0 15 0 123 0 2 0 53 0 109 0 54 0 106 0 5 0 17 0 9 0-753 1 2 0 19 0 5 0 125 0 255 0 3 0 12 0 52 0 143 0 93 0 14 0-727 1 3 0 11 0 13 0 12 0 142 0 60 0 103 0 5 0 13 0 64 0 18 0 48 0 111 0 39 0 3 0 14 0 87 0 3 0 7 0-755 1 9 0 41 0 83 0 119 0 2 0 36 0 58 0 8 0 58 0 17 0 30 0 51 0 85 0 24 0 14 0 55 0 7 0 40 0-734 1 5 0 1 0 49 0 14 0 16 0 34 0 119 0 185 0 40 0 66 0 16 0 29 0 77 0 34 0 37 0-725 1 5 0 23 0 31 0 99 0 98 0 38 0 401 0 31 0 25 0-750 1 52 0 60 0 29 0 99 0 5 0 37 0 130 0 5 0 16 0 34 0 54 0 12 0 49 0 133 0 16 0 2 0 19 0-744 1 4 0 11 0 5 0 20 0 36 0 117 0 122 0 2 0 76 0 8 0 32 0 176 0 123 0 1 0 12 0-749 1 7 0 155 0 41 0 117 0 25 0 162 0 13 0 46 0 30 0 52 0 44 0 2 0 21 0 18 0 6 0-739 1 4 0 31 0 104 0 184 0 54 0 37 0 19 0 93 0 16 0 85 0 44 0 43 0 16 0 3 0 13 0-743 1 5 0 77 0 16 0 38 0 105 0 26 0 121 0 6 0 232 0 3 0 24 0 74 0 15 0-742 1 5 0 102 0 33 0 109 0 14 0 67 0 82 0 41 0 63 0 24 0 44 0 138 0 14 0-734 1 35 0 16 0 65 0 7 0 41 0 52 0 56 0 164 0 5 0 44 0 138 0 39 0 64 0-730 1 7 0 2 0 1 0 8 0 82 0 1 0 34 0 131 0 12 0 152 0 32 0 31 0 201 0 1 0 32 0 4 0 10 0-735 1 111 0 31 0 3 0 75 0 131 0 10 0 7 0 37 0 25 0 27 0 91 0 73 0 34 0 7 0 28 0 3 0 9 0 21 0-722 1 55 0 8 0 15 0 44 0 12 0 3 0 79 0 82 0 203 0 22 0 38 0 60 0 87 0 3 0 6 0 19 0-743 1 11 0 40 0 10 0 17 0 7 0 47 0 27 0 13 0 32 0 47 0 58 0 25 0 86 0 26 0 28 0 65 0 71 0 23 0 10 0-589 1 125 0 97 0 42 0 23 0 30 0 69 0 24 0 58 0 83 0 82 0 57 0-730 1 1 0 14 0 21 0 14 0 26 0 10 0 32 0 150 0 203 0 16 0 75 0 77 0 81 0-726 1 34 0 48 0 4 0 35 0 120 0 100 0 25 0 27 0 113 0 7 0 23 0-509 1 3 0 24 0 39 0 3 0 185 0 27 0 65 0 5 0 51 0 134 0 47 0 24 0 85 0-723 1 1 0 3 0 19 0 3 0 76 0 77 0 131 0 128 0 86 0 54 0 92 0 60 0 2 0-729 1 6 0 1 0 28 0 43 0 18 0 30 0 1 0 25 0 9 0 22 0 17 0 158 0 7 0 111 0 79 0 152 0-710 1 5 0 2 0 12 0 42 0 65 0 4 0 85 0 38 0 115 0 38 0 260 0 43 0 3 0 21 0 5 0-734 1 89 0 231 0 51 0 11 0 47 0 17 0 10 0 53 0 28 0 11 0 6 0 61 0 67 0 4 0 34 0-720 1 2 0 13 0 6 0 13 0 25 0 40 0 35 0 183 0 19 0 17 0 55 0 6 0 10 0 15 0 120 0 53 0 41 0 7 0 61 0 7 0 2 0-734 1 7 0 125 0 107 0 12 0 67 0 75 0 26 0 4 0 14 0 15 0 87 0 167 0 6 0 15 0 2 0 1 0-720 1 1 0 3 0 12 0 27 0 14 0 13 0 97 0 82 0 13 0 23 0 42 0 99 0 187 0 57 0 45 0 1 0-711 1 8 0 154 0 103 0 47 0 39 0 157 0 162 0 34 0 6 0 1 0-712 1 57 0 13 0 23 0 15 0 65 0 117 0 31 0 3 0 86 0 115 0 16 0 37 0 2 0 4 0 55 0 6 0 43 0 9 0 1 0 7 0 6 0 2 0-719 1 5 0 17 0 16 0 161 0 98 0 61 0 8 0 18 0 42 0 95 0 22 0 5 0 55 0 104 0 6 0 8 0-723 1 91 0 17 0 86 0 161 0 16 0 74 0 5 0 71 0 30 0 35 0 13 0 23 0 41 0 4 0 19 0 11 0 29 0-722 1 14 0 3 0 174 0 270 0 87 0 12 0 4 0 87 0 24 0-642 1 39 0 245 0 96 0 14 0 88 0 25 0 46 0 57 0 39 0 32 0-721 1 4 0 32 0 24 0 236 0 6 0 38 0 8 0 18 0 5 0 99 0 210 0 30 0 18 0-720 1 8 0 42 0 34 0 46 0 24 0 166 0 8 0 42 0 166 0 70 0 43 0 13 0 12 0 11 0 32 0 4 0-728 1 180 0 151 0 27 0 51 0 41 0 24 0 66 0 90 0 74 0 5 0 2 0 13 0-722 1 1 0 183 0 8 0 98 0 13 0 26 0 17 0 51 0 87 0 19 0 91 0 19 0 22 0 81 0-662 1 46 0 122 0 201 0 51 0 25 0 107 0 16 0 17 0 78 0-680 1 46 0 83 0 153 0 20 0 26 0 21 0 106 0 54 0 15 0 46 0 75 0 21 0-688 1 18 0 38 0 5 0 35 0 30 0 10 0 19 0 81 0 12 0 12 0 2 0 27 0 178 0 47 0 177 0 5 0 9 0-707 1 5 0 40 0 41 0 76 0 8 0 226 0 4 0 4 0 103 0 57 0 68 0 24 0 51 0 2 0-639 1 12 0 69 0 81 0 367 0 15 0 22 0 7 0 52 0 12 0-716 1 81 0 30 0 23 0 188 0 43 0 80 0 1 0 16 0 2 0 41 0 35 0 31 0 56 0 18 0 68 0 3 0 2 0-622 1 45 0 18 0 51 0 1 0 3 0 130 0 3 0 99 0 118 0 29 0 21 0 46 0 35 0-675 1 87 0 58 0 18 0 9 0 61 0 9 0 56 0 78 0 76 0 26 0 20 0 104 0 6 0 4 0 56 0 19 0 5 0-713 1 1 0 1 0 3 0 11 0 2 0 29 0 16 0 21 0 143 0 27 0 42 0 132 0 19 0 184 0 1 0 77 0 5 0 1 0-712 1 22 0 1 0 37 0 19 0 68 0 5 0 9 0 3 0 110 0 206 0 149 0 27 0-654 1 2 0 3 0 79 0 11 0 1 0 40 0 27 0 41 0 195 0 78 0 217 0 14 0 3 0-620 1 15 0 30 0 11 0 75 0 77 0 13 0 49 0 102 0 180 0 58 0 12 0-705 1 1 0 9 0 50 0 28 0 123 0 42 0 57 0 45 0 54 0 42 0 161 0 8 0 31 0 42 0 7 0 3 0-705 1 34 0 32 0 42 0 30 0 28 0 114 0 6 0 52 0 18 0 76 0 56 0 25 0 126 0 58 0-702 1 8 0 3 0 196 0 230 0 118 0 13 0 15 0 29 0 28 0 16 0 19 0 24 0 2 0-704 1 4 0 110 0 14 0 154 0 181 0 16 0 52 0 19 0 12 0 12 0 43 0 63 0 20 0 12 0 1 0-706 1 12 0 3 0 268 0 52 0 42 0 54 0 30 0 166 0 16 0 11 0 34 0 4 0 4 0-699 1 10 0 9 0 75 0 51 0 8 0 5 0 102 0 89 0 293 0 16 0 5 0 1 0 13 0 11 0 3 0 10 0-688 1 27 0 114 0 280 0 12 0 232 0 3 0-680 1 21 0 11 0 152 0 101 0 68 0 30 0 97 0 77 0 122 0 26 0-701 1 8 0 175 0 62 0 40 0 8 0 74 0 159 0 33 0 8 0 66 0 67 0-675 1 149 0 6 0 18 0 149 0 44 0 45 0 23 0 103 0 4 0 54 0 81 0-704 1 130 0 175 0 102 0 17 0 97 0 99 0 79 0 3 0-698 1 108 0 12 0 183 0 119 0 51 0 18 0 12 0 53 0 9 0 34 0 49 0-649 1 17 0 38 0 13 0 57 0 17 0 23 0 26 0 25 0 88 0 16 0 46 0 47 0 22 0 36 0 24 0 48 0 57 0 4 0 28 0 17 0-635 1 2 0 20 0 51 0 152 0 25 0 9 0 15 0 83 0 3 0 23 0 14 0 123 0 87 0 23 0 10 0 17 0 20 0-694 1 1 0 1 0 3 0 28 0 187 0 304 0 123 0 54 0-681 1 19 0 104 0 34 0 8 0 111 0 39 0 3 0 13 0 63 0 74 0 30 0 123 0 40 0 11 0-684 1 16 0 18 0 14 0 113 0 104 0 32 0 16 0 36 0 99 0 11 0 37 0 54 0 114 0 29 0-697 1 32 0 28 0 10 0 200 0 34 0 17 0 191 0 120 0 37 0 1 0 9 0-678 1 9 0 10 0 33 0 25 0 202 0 11 0 31 0 25 0 44 0 18 0 61 0 1 0 72 0 90 0 15 0 16 0 27 0 3 0 1 0-577 1 102 0 106 0 186 0 81 0 48 0 16 0 12 0-669 1 4 0 142 0 57 0 61 0 73 0 101 0 25 0 39 0 96 0 52 0 37 0 8 0-696 1 6 0 122 0 49 0 35 0 132 0 106 0 97 0 75 0 13 0 1 0 33 0 22 0-691 1 21 0 86 0 218 0 66 0 60 0 2 0 155 0 10 0 23 0 56 0-692 1 35 0 56 0 86 0 73 0 85 0 65 0 101 0 39 0 104 0 46 0 2 0-689 1 3 0 1 0 6 0 202 0 102 0 47 0 27 0 210 0 32 0 54 0-687 1 1 0 9 0 22 0 73 0 124 0 96 0 100 0 108 0 13 0 12 0 11 0 7 0 27 0 18 0 34 0 27 0-633 1 6 0 6 0 38 0 27 0 72 0 47 0 81 0 17 0 38 0 24 0 142 0 20 0 123 0-676 1 88 0 74 0 80 0 111 0 98 0 58 0 40 0 60 0 4 0-625 1 12 0 60 0 53 0 36 0 129 0 97 0 27 0 143 0 15 0 85 0 5 0 9 0 14 0 3 0-692 1 75 0 79 0 123 0 63 0 14 0 57 0 72 0 199 0-668 1 117 0 12 0 42 0 184 0 170 0 3 0 134 0-674 1 13 0 4 0 4 0 13 0 31 0 254 0 66 0 292 0 3 0 3 0 3 0-688 1 50 0 123 0 42 0 14 0 128 0 7 0 113 0 118 0 31 0 3 0 34 0 26 0 2 0-686 1 74 0 14 0 59 0 80 0 125 0 95 0 26 0 18 0 103 0 81 0 10 0-684 1 1 0 1 0 17 0 1 0 59 0 39 0 55 0 165 0 36 0 13 0 140 0 127 0 27 0-681 1 1 0 5 0 35 0 16 0 76 0 111 0 105 0 88 0 33 0 29 0 64 0 117 0-685 1 15 0 14 0 57 0 17 0 51 0 99 0 13 0 35 0 89 0 191 0-576 1 9 0 6 0 167 0 79 0 95 0 31 0 32 0 237 0-654 1 6 0 2 0 27 0 47 0 2 0 31 0 70 0 11 0 46 0 37 0 250 0 73 0 15 0 18 0 27 0 11 0 2 0-680 1 9 0 38 0 22 0 8 0 239 0 46 0 289 0 17 0-596 1 28 0 88 0 86 0 74 0 4 0 3 0 48 0 7 0 101 0 132 0 20 0-662 1 37 0 13 0 68 0 20 0 54 0 17 0 33 0 107 0 68 0 116 0 41 0 52 0 7 0 24 0 26 0-682 1 9 0 48 0 135 0 46 0 67 0 106 0 187 0 63 0 10 0-670 1 10 0 132 0 14 0 67 0 184 0 257 0-659 1 1 0 38 0 34 0 6 0 35 0 3 0 130 0 26 0 55 0 55 0 13 0 67 0 2 0 19 0 66 0 22 0 88 0 7 0 4 0 1 0 3 0-632 1 143 0 114 0 30 0 34 0 23 0 6 0 5 0 19 0 11 0 26 0 34 0 54 0 12 0-556 1 3 0 7 0 3 0 20 0 16 0 10 0 30 0 47 0 108 0 1 0 13 0 51 0 3 0 30 0 64 0 59 0 22 0 20 0 98 0 29 0 25 0-653 1 53 0 149 0 53 0 34 0 109 0 20 0 8 0 16 0 143 0 73 0 3 0 5 0-670 1 13 0 79 0 70 0 95 0 81 0 205 0 74 0 4 0 46 0 6 0-671 1 3 0 46 0 2 0 46 0 37 0 2 0 119 0 64 0 23 0 5 0 120 0 61 0 88 0 4 0 25 0 25 0 2 0-658 1 29 0 9 0 6 0 43 0 106 0 13 0 8 0 38 0 16 0 45 0 61 0 20 0 119 0 50 0 22 0 62 0-659 1 19 0 24 0 71 0 158 0 14 0 74 0 42 0 33 0 45 0 50 0 45 0 48 0 9 0 29 0 3 0 2 0-662 1 2 0 8 0 54 0 123 0 36 0 81 0 25 0 144 0 26 0-508 1 8 0 47 0 135 0 13 0 44 0 56 0 112 0 89 0 166 0-668 1 13 0 5 0 71 0 140 0 33 0 127 0 72 0 138 0 35 0 27 0 6 0 1 0-670 1 2 0 33 0 120 0 83 0 50 0 23 0 75 0 48 0 16 0 6 0 5 0 196 0 12 0-670 1 3 0 2 0 155 0 230 0 210 0 14 0 7 0-613 1 64 0 81 0 96 0 231 0 17 0 143 0 32 0-622 1 44 0 69 0 14 0 13 0 7 0 12 0 80 0 14 0 178 0 4 0 178 0 7 0-638 1 49 0 37 0 37 0 91 0 12 0 198 0 16 0 1 0 4 0 33 0 154 0-660 1 2 0 23 0 112 0 106 0 7 0 23 0 1 0 11 0 49 0 78 0 9 0 52 0 75 0 64 0 25 0 13 0-633 1 47 0 19 0 76 0 68 0 99 0 3 0 77 0 6 0 107 0 50 0 1 0 61 0 27 0 1 0-604 1 96 0 31 0 146 0 15 0 11 0 48 0 12 0 74 0 7 0 44 0 59 0 1 0 58 0-564 1 193 0 5 0 122 0 124 0 84 0-614 1 9 0 24 0 7 0 22 0 97 0 214 0 21 0 50 0 89 0 38 0 7 0 27 0 20 0 11 0 9 0 6 0-658 1 1 0 109 0 43 0 20 0 15 0 121 0 53 0 84 0 121 0 68 0 1 0 24 0-658 1 15 0 71 0 23 0 11 0 149 0 24 0 3 0 251 0 72 0 34 0 5 0 3 0 1 0-657 1 17 0 24 0 10 0 94 0 40 0 44 0 7 0 26 0 159 0 78 0 109 0 23 0 18 0 2 0 5 0-329 1 23 0 35 0 14 0 12 0 90 0 32 0 116 0 5 0 4 0-657 1 5 0 140 0 25 0 11 0 6 0 458 0 7 0 1 0-610 1 28 0 48 0 171 0 8 0 59 0 90 0 95 0 77 0 35 0 2 0-638 1 23 0 2 0 69 0 43 0 53 0 6 0 5 0 34 0 58 0 57 0 68 0 24 0 5 0 58 0 53 0 77 0 1 0-650 1 47 0 81 0 35 0 60 0 17 0 94 0 8 0 19 0 25 0 47 0 137 0 5 0 54 0 22 0-656 1 6 0 8 0 26 0 35 0 75 0 46 0 80 0 19 0 6 0 16 0 11 0 2 0 21 0 10 0 102 0 54 0 85 0 47 0-625 1 17 0 7 0 55 0 38 0 62 0 179 0 8 0 8 0 162 0 88 0-646 1 143 0 154 0 344 0-623 1 4 0 132 0 65 0 57 0 136 0 42 0 9 0 7 0 16 0 84 0 74 0 4 0-647 1 50 0 86 0 52 0 44 0 51 0 59 0 70 0 33 0 30 0 11 0 140 0 5 0 13 0 2 0-581 1 55 0 106 0 1 0 5 0 95 0 1 0 56 0 139 0 48 0 79 0-653 1 11 0 7 0 16 0 3 0 23 0 99 0 33 0 11 0 79 0 35 0 40 0 26 0 61 0 208 0 2 0-639 1 184 0 82 0 69 0 73 0 3 0 105 0 71 0 52 0-649 1 3 0 12 0 60 0 3 0 5 0 95 0 15 0 2 0 31 0 36 0 50 0 5 0 171 0 13 0 108 0 37 0-649 1 16 0 4 0 55 0 9 0 21 0 36 0 7 0 67 0 24 0 43 0 14 0 104 0 51 0 12 0 21 0 53 0 72 0-460 1 12 0 66 0 110 0 40 0 10 0 12 0 103 0 134 0 4 0 9 0-650 1 4 0 4 0 5 0 125 0 58 0 77 0 33 0 30 0 134 0 36 0 104 0 37 0-642 1 4 0 8 0 135 0 59 0 15 0 1 0 41 0 188 0 120 0 66 0 2 0-638 1 1 0 2 0 2 0 14 0 1 0 172 0 51 0 26 0 24 0 1 0 17 0 30 0 18 0 30 0 35 0 43 0 10 0 93 0-574 1 20 0 7 0 70 0 136 0 161 0 103 0 78 0 5 0 44 0 4 0-622 1 1 0 41 0 16 0 148 0 17 0 39 0 27 0 101 0 47 0 51 0 10 0 3 0 72 0 44 0-620 1 124 0 21 0 20 0 41 0 57 0 87 0 4 0 51 0 8 0 138 0 74 0-618 1 18 0 53 0 59 0 84 0 98 0 32 0 8 0 13 0 16 0 192 0 38 0 23 0-642 1 3 0 26 0 41 0 132 0 28 0 124 0 3 0 41 0 32 0 12 0 42 0 53 0 34 0 13 0 29 0 16 0-621 1 1 0 72 0 77 0 12 0 112 0 4 0 25 0 42 0 21 0 12 0 73 0 7 0 38 0 80 0 45 0-575 1 3 0 76 0 229 0 87 0 37 0 105 0 37 0 2 0 8 0-623 1 40 0 127 0 20 0 55 0 38 0 1 0 8 0 11 0 3 0 8 0 59 0 4 0 6 0 3 0 8 0 7 0 32 0 58 0 9 0 53 0 32 0 3 0 2 0 39 0 4 0-601 1 167 0 172 0 23 0 130 0 4 0 71 0 22 0 8 0 1 0-625 1 15 0 26 0 40 0 19 0 50 0 149 0 10 0 40 0 113 0 38 0 78 0 24 0 6 0-602 1 54 0 45 0 177 0 12 0 35 0 1 0 83 0 4 0 29 0 4 0 6 0 32 0 109 0 15 0 3 0 2 0-612 1 6 0 1 0 91 0 5 0 125 0 30 0 50 0 49 0 77 0 133 0 19 0 23 0 12 0-629 1 192 0 53 0 63 0 19 0 22 0 11 0 4 0 25 0 106 0 23 0 82 0 26 0 1 0-636 1 93 0 25 0 80 0 26 0 31 0 92 0 38 0 16 0 64 0-466 1 33 0 34 0 4 0 94 0 37 0 15 0 31 0 111 0 15 0 14 0 165 0 4 0 11 0-568 1 2 0 3 0 50 0 26 0 140 0 5 0 10 0 52 0 28 0 68 0 46 0 116 0 88 0-635 1 13 0 13 0 33 0 1 0 58 0 96 0 6 0 44 0 12 0 56 0 53 0 158 0 62 0 11 0-614 1 37 0 61 0 57 0 11 0 80 0 52 0 3 0 5 0 142 0 26 0 1 0 60 0 51 0 47 0-613 1 3 0 114 0 45 0 39 0 3 0 89 0 12 0 35 0 27 0 91 0 55 0 76 0-607 1 36 0 85 0 43 0 21 0 76 0 16 0 140 0 20 0 10 0 33 0 147 0 2 0-610 1 15 0 36 0 26 0 26 0 219 0 40 0 55 0 43 0 13 0 33 0 86 0 12 0 5 0-631 1 5 0 6 0 10 0 8 0 83 0 104 0 33 0 19 0 34 0 29 0 2 0 30 0 43 0 102 0 102 0 4 0 15 0 3 0-629 1 32 0 67 0 35 0 36 0 38 0 76 0 20 0 20 0 5 0 12 0 56 0 21 0 12 0 126 0 52 0 10 0 9 0 5 0 1 0-618 1 24 0 14 0 33 0 38 0 6 0 85 0 45 0 24 0 45 0 17 0 10 0 30 0 75 0 157 0 9 0 2 0 1 0-607 1 52 0 70 0 30 0 122 0 112 0-409 1 1 0 20 0 51 0 15 0 55 0 117 0 130 0 43 0 29 0 156 0 4 0 10 0-630 1 50 0 276 0 40 0 84 0 11 0 29 0 82 0 51 0 5 0-565 1 23 0 17 0 8 0 5 0 71 0 49 0 11 0 27 0 61 0 21 0 44 0 2 0 30 0 48 0 86 0 19 0 28 0 4 0 4 0-620 1 7 0 5 0 33 0 89 0 46 0 35 0 68 0 28 0 3 0 21 0 31 0 6 0 28 0 19 0 112 0 74 0 15 0 2 0 5 0-629 1 6 0 21 0 4 0 34 0 18 0 118 0 6 0 30 0 90 0 79 0 51 0 48 0 11 0 49 0 4 0 33 0 12 0-605 1 11 0 80 0 59 0 64 0 39 0 11 0 14 0 14 0 107 0 28 0 126 0 9 0 24 0 12 0-599 1 34 0 12 0 18 0 51 0 1 0 7 0 94 0 24 0 25 0 13 0 17 0 6 0 5 0 5 0 213 0 4 0-530 1 1 0 86 0 141 0 7 0 156 0 156 0 38 0 32 0 3 0 2 0-627 1 4 0 15 0 71 0 68 0 77 0 8 0 31 0 119 0 17 0 1 0 21 0 108 0 54 0 18 0 5 0 2 0 2 0 3 0-604 1 7 0 185 0 107 0 13 0 21 0 87 0 16 0 25 0-398 1 127 0 7 0 42 0 28 0 35 0 47 0 32 0 76 0 101 0 11 0 33 0 5 0-625 1 3 0 1 0 34 0 6 0 66 0 78 0 39 0 10 0 76 0 1 0 53 0 228 0 27 0-600 1 22 0 33 0 85 0 33 0 6 0 26 0 16 0 15 0 12 0 67 0 96 0 181 0 8 0-584 1 47 0 12 0 110 0 13 0 51 0 201 0 8 0 117 0 18 0 7 0-609 1 88 0 62 0 42 0 5 0 100 0 35 0 44 0 9 0 38 0 36 0 63 0 34 0 40 0 1 0 9 0-538 1 24 0 84 0 12 0 46 0 8 0 72 0 36 0 38 0 17 0 63 0 64 0 27 0 46 0 2 0-574 1 13 0 8 0 202 0 35 0 25 0 6 0 18 0 58 0 35 0 118 0 44 0-559 1 3 0 156 0 119 0 20 0 14 0 38 0 216 0 7 0-597 1 36 0 39 0 20 0 62 0 47 0 55 0 18 0 13 0 6 0 56 0 18 0 26 0 2 0 50 0 36 0 13 0 10 0 10 0 29 0 49 0 2 0-618 1 139 0 2 0 99 0 48 0 94 0 66 0 3 0 6 0 50 0 54 0 7 0 36 0 7 0-612 1 6 0 1 0 8 0 38 0 46 0 11 0 74 0 27 0 53 0 26 0 31 0 167 0 83 0 1 0 30 0-595 1 33 0 18 0 35 0 8 0 6 0 27 0 78 0 32 0 105 0 53 0 15 0 107 0 55 0 34 0-613 1 2 0 5 0 1 0 8 0 64 0 73 0 13 0 82 0 58 0 63 0 1 0 1 0 24 0 15 0 2 0 160 0 6 0 26 0 9 0-507 1 35 0 51 0 14 0 9 0 20 0 133 0 6 0 9 0 25 0 104 0 32 0 21 0-563 1 82 0 57 0 116 0 58 0 29 0 18 0 34 0 31 0 4 0 33 0 90 0 62 0-575 1 29 0 10 0 58 0 56 0 20 0 61 0 68 0 27 0 14 0 38 0 45 0 121 0-586 1 153 0 53 0 9 0 5 0 17 0 86 0 279 0 14 0-614 1 157 0 108 0 52 0 46 0 5 0 57 0 85 0 51 0-515 1 4 0 3 0 392 0 11 0 11 0 28 0 72 0 21 0 7 0 15 0-585 1 40 0 180 0 37 0 14 0 7 0 38 0 117 0 3 0 5 0 85 0-541 1 6 0 8 0 109 0 62 0 10 0 43 0 22 0 123 0 113 0 25 0 24 0-555 1 2 0 13 0 55 0 87 0 9 0 17 0 1 0 42 0 82 0 28 0 23 0 104 0 83 0 55 0-592 1 5 0 2 0 26 0 134 0 51 0 16 0 183 0-401 1 24 0 30 0 35 0 11 0 122 0 8 0 37 0 1 0 5 0 8 0 53 0 215 0 6 0 17 0 14 0-548 1 72 0 22 0 106 0 35 0 8 0 11 0 67 0 105 0 16 0 88 0 12 0-589 1 46 0 96 0 8 0 122 0 93 0 27 0 14 0 8 0 131 0 25 0 19 0 1 0-601 1 3 0 27 0 47 0 64 0 45 0 19 0 54 0 46 0 12 0 20 0 6 0 48 0 56 0 50 0 85 0 18 0 4 0-601 1 5 0 47 0 13 0 104 0 86 0 103 0 10 0 9 0 9 0 59 0 153 0-546 1 3 0 144 0 5 0 4 0 29 0 8 0 92 0 167 0 25 0 60 0 4 0 8 0 1 0-600 1 25 0 120 0 39 0 122 0 15 0 5 0 18 0 195 0 27 0 29 0 2 0-544 1 21 0 119 0 15 0 53 0 41 0 10 0 55 0 7 0 28 0 19 0 24 0 52 0 7 0 3 0 15 0-532 1 34 0 41 0 88 0 7 0 4 0 69 0 21 0 17 0 44 0 19 0 14 0 104 0 6 0 60 0 51 0 4 0-581 1 8 0 56 0 75 0 26 0 34 0 17 0 1 0 21 0 105 0 23 0 191 0 1 0-558 1 37 0 15 0 8 0 8 0 192 0 24 0 97 0 90 0 111 0 21 0-592 1 77 0 22 0 146 0 10 0 67 0 197 0-530 1 5 0 2 0 5 0 271 0 27 0 83 0 13 0 51 0 85 0 48 0 16 0-567 1 144 0 15 0 16 0 9 0 8 0 13 0 171 0 143 0 22 0-580 1 33 0 36 0 48 0 14 0 119 0 38 0 4 0 21 0 67 0 15 0 23 0 75 0 54 0 7 0 45 0-387 1 20 0 24 0 10 0 46 0 36 0 5 0 6 0 1 0 79 0 48 0 106 0-566 1 38 0 188 0 49 0 27 0 34 0 13 0 199 0 25 0-598 1 3 0 31 0 177 0 35 0 12 0 25 0 5 0 188 0 24 0 91 0 7 0-592 1 3 0 7 0 37 0 28 0 43 0 196 0 7 0 14 0 19 0 15 0 12 0 15 0 110 0 32 0 8 0 46 0-598 1 8 0 2 0 13 0 11 0 91 0 32 0 14 0 5 0 61 0 2 0 33 0 53 0 13 0 53 0 97 0 24 0 90 0-600 1 4 0 13 0 38 0 9 0 53 0 16 0 126 0 86 0 21 0 90 0 70 0 50 0-567 1 5 0 278 0 2 0 20 0 109 0 140 0 8 0 19 0 4 0-546 1 51 0 61 0 26 0 49 0 16 0 67 0 126 0 60 0 49 0 22 0 17 0 1 0 3 0-586 1 515 0 68 0 6 0-600 1 10 0 3 0 74 0 72 0 9 0 23 0 46 0 44 0 286 0 25 0-588 1 41 0 10 0 100 0 44 0 1 0 16 0 2 0 52 0 41 0 1 0 11 0 37 0 99 0 77 0 50 0 8 0-590 1 23 0 18 0 193 0 64 0 50 0 39 0 43 0 62 0 94 0 5 0-593 1 22 0 78 0 6 0 74 0 29 0 34 0 5 0 7 0 3 0 113 0 30 0 62 0 72 0 49 0-567 1 68 0 18 0 33 0 18 0 95 0 20 0 85 0 74 0 72 0 18 0 12 0 61 0-584 1 56 0 15 0 49 0 59 0 39 0 54 0 65 0 44 0 5 0 146 0 55 0 2 0-583 1 33 0 38 0 42 0 44 0 110 0 2 0 17 0 190 0 23 0 66 0 10 0 3 0-582 1 17 0 22 0 12 0 58 0 14 0 132 0 6 0 73 0 36 0 137 0 27 0 29 0-557 1 30 0 10 0 93 0 252 0 6 0 1 0 56 0 109 0 13 0-577 1 4 0 43 0 61 0 33 0 32 0 27 0 87 0 8 0 3 0 14 0 11 0 108 0 7 0 19 0 6 0 68 0 11 0 4 0-549 1 3 0 31 0 42 0 4 0 106 0 22 0 27 0 42 0 14 0 1 0 32 0 44 0 37 0 38 0 42 0 24 0 20 0 18 0 11 0 13 0-519 1 100 0 42 0 15 0 12 0 12 0 123 0 66 0 87 0 62 0 14 0-588 1 6 0 131 0 61 0 84 0 28 0 13 0 93 0 37 0 61 0 65 0 5 0 3 0 2 0 2 0-589 1 9 0 164 0 17 0 35 0 41 0 33 0 19 0 244 0 8 0 1 0-570 1 3 0 58 0 22 0 26 0 79 0 53 0 69 0 43 0 4 0 83 0 42 0 45 0 57 0-587 1 3 0 15 0 7 0 22 0 116 0 84 0 76 0 37 0 8 0 67 0 62 0 37 0 6 0 21 0 29 0-578 1 228 0 21 0 13 0 1 0 47 0 8 0 43 0 36 0 14 0 1 0 58 0-406 1 42 0 4 0 2 0 105 0 138 0 45 0 44 0 33 0 13 0 79 0 6 0-568 1 33 0 43 0 34 0 59 0 92 0 10 0 97 0 21 0 105 0 9 0 7 0 32 0 9 0-568 1 88 0 81 0 72 0 31 0 49 0 11 0 108 0 71 0 53 0 16 0-571 1 48 0 67 0 48 0 12 0 56 0 37 0 29 0 6 0 11 0 2 0 78 0 20 0 14 0 46 0-482 1 7 0 50 0 38 0 23 0 153 0 18 0 34 0 244 0 3 0-526 1 32 0 77 0 2 0 13 0 43 0 3 0 10 0 60 0 47 0 63 0 186 0 5 0-585 1 40 0 36 0 30 0 39 0 49 0 62 0 4 0 34 0 2 0 33 0 43 0 72 0 87 0 21 0 25 0 1 0-574 1 66 0 86 0 3 0 123 0 87 0 37 0 5 0 60 0 41 0 70 0 2 0-580 1 4 0 1 0 3 0 1 0 13 0 29 0 96 0 5 0 22 0 31 0 36 0 143 0 1 0 191 0-567 1 1 0 1 0 6 0 116 0 27 0 22 0 60 0 12 0 39 0 174 0 108 0 1 0-547 1 41 0 188 0 5 0 91 0 11 0 120 0 3 0 7 0 30 0 30 0 23 0-570 1 77 0 2 0 18 0 35 0 4 0 93 0 25 0 37 0 158 0 1 0 12 0 19 0 58 0-549 1 3 0 33 0 183 0 74 0 3 0 163 0 109 0 9 0 2 0-578 1 10 0 1 0 9 0 103 0 19 0 70 0 35 0 44 0 61 0 19 0 78 0 112 0 12 0-569 1 85 0 148 0 1 0 41 0 160 0 93 0-521 1 48 0 1 0 24 0 63 0 61 0 23 0 30 0 140 0 38 0 36 0 37 0-504 1 5 0 14 0 125 0 71 0 47 0 31 0 60 0 38 0 2 0 38 0 121 0 1 0 1 0 3 0 1 0 7 0-560 1 16 0 30 0 32 0 74 0 29 0 22 0 69 0 59 0 83 0 45 0 10 0 43 0-416 1 89 0 33 0 44 0 14 0 6 0 67 0 102 0 3 0 71 0 6 0 10 0 6 0-543 1 3 0 20 0 77 0 48 0 2 0 39 0 30 0 44 0 6 0 17 0 75 0 179 0 21 0-562 1 19 0 31 0 3 0 40 0 111 0 108 0 192 0 13 0 6 0 11 0 18 0 1 0 4 0-570 1 4 0 17 0 94 0 6 0 116 0 106 0 18 0 46 0 107 0 53 0-559 1 29 0 14 0 47 0 27 0 56 0 57 0 54 0 76 0 134 0 50 0 19 0 2 0-566 1 22 0 52 0 16 0 113 0 11 0 33 0 142 0 32 0 40 0 79 0 21 0 3 0-570 1 104 0 36 0 24 0 5 0 156 0 1 0 11 0 21 0 118 0 64 0-536 1 9 0 11 0 31 0 19 0 41 0 1 0 31 0 20 0 143 0 256 0-539 1 32 0 33 0 31 0 118 0 61 0 52 0 18 0 62 0 72 0 7 0 23 0 15 0-330 1 1 0 24 0 63 0 14 0 55 0 20 0 1 0 67 0 33 0 32 0 32 0-551 1 53 0 9 0 19 0 6 0 24 0 61 0 49 0 13 0 3 0 6 0 9 0 1 0 75 0 70 0 31 0 39 0 6 0 35 0-501 1 2 0 28 0 10 0 7 0 31 0 70 0 108 0 32 0 9 0 2 0 60 0 16 0 4 0 32 0 28 0 8 0 3 0 33 0 7 0 10 0 31 0 16 0-508 1 8 0 19 0 20 0 52 0 84 0 13 0 140 0 57 0 51 0 14 0 24 0 4 0 25 0-561 1 61 0 129 0 87 0 65 0 53 0 36 0 2 0 122 0-522 1 1 0 1 0 104 0 12 0 109 0 39 0 51 0 41 0 58 0 67 0 25 0 14 0 2 0-553 1 74 0 21 0 15 0 29 0 99 0 110 0 17 0 42 0 64 0 36 0 21 0 8 0 2 0 2 0 16 0-552 1 85 0 18 0 33 0 282 0 1 0 9 0 66 0 35 0 15 0-556 1 19 0 33 0 147 0 23 0 28 0 29 0 107 0 10 0 5 0 104 0 24 0 23 0-442 1 2 0 50 0 82 0 12 0 15 0 6 0 33 0 34 0 23 0 26 0 1 0 1 0 50 0 109 0-549 1 6 0 43 0 167 0 71 0 5 0 64 0 115 0 15 0 22 0 40 0 6 0 4 0-553 1 202 0 72 0 12 0 83 0 84 0 65 0 25 0 2 0-537 1 17 0 54 0 26 0 72 0 34 0 88 0 151 0 16 0 1 0 7 0 21 0 55 0-557 1 1 0 3 0 27 0 84 0 18 0 75 0 40 0 115 0 28 0 62 0 80 0 13 0 11 0-544 1 5 0 18 0 33 0 56 0 22 0 28 0 199 0 36 0 31 0 18 0 31 0 11 0 53 0 3 0-551 1 3 0 144 0 29 0 89 0 23 0 60 0-353 1 11 0 110 0 21 0 20 0 9 0 21 0 177 0 14 0 76 0 1 0 73 0-534 1 1 0 156 0 15 0 33 0 30 0 78 0 47 0 6 0 17 0 55 0 14 0 85 0 1 0 2 0-537 1 2 0 14 0 14 0 91 0 2 0 29 0 113 0 67 0 94 0 65 0 5 0 39 0-536 1 92 0 9 0 26 0 19 0 57 0 124 0 89 0 90 0 44 0-445 1 52 0 62 0 16 0 10 0 20 0 1 0 32 0 247 0-543 1 11 0 111 0 17 0 83 0 147 0 160 0 12 0 1 0 1 0 3 0-534 1 94 0 57 0 6 0 46 0 14 0 47 0 4 0 20 0 11 0 9 0 29 0 54 0 6 0 33 0 32 0 76 0-547 1 23 0 59 0 29 0 70 0 21 0 1 0 50 0 3 0 12 0 22 0 100 0 2 0 94 0 13 0 22 0 13 0 3 0 7 0-535 1 64 0 8 0 7 0 47 0 1 0 65 0 96 0 14 0 134 0 64 0 27 0 1 0-535 1 40 0 16 0 58 0 9 0 1 0 242 0 3 0 93 0 28 0-485 1 3 0 108 0 91 0 3 0 15 0 9 0 27 0 98 0 29 0 55 0 78 0 13 0-535 1 1 0 5 0 22 0 8 0 46 0 28 0 6 0 29 0 26 0 25 0 36 0 11 0 3 0 24 0 37 0 25 0 12 0 11 0 13 0 32 0 118 0-501 1 23 0 12 0 30 0 35 0 126 0 30 0 41 0 5 0 18 0 12 0 41 0 1 0 66 0 34 0-465 1 42 0 27 0 18 0 59 0 65 0 32 0 121 0 88 0 50 0 12 0-538 1 3 0 64 0 42 0 129 0 2 0 233 0 24 0 22 0 9 0 7 0 2 0-538 1 1 0 2 0 5 0 147 0 99 0 26 0 16 0 72 0 89 0 7 0 52 0 9 0 7 0 1 0-212 1 86 0 75 0 43 0 12 0-540 1 26 0 178 0 168 0 13 0 30 0 11 0 15 0-385 1 188 0 8 0 11 0 72 0 9 0 26 0 110 0 42 0-470 1 26 0 26 0 21 0 57 0 24 0 50 0 23 0 85 0 8 0 25 0 138 0 5 0-465 1 7 0 28 0 29 0 15 0 20 0 3 0 12 0 6 0 4 0 19 0 29 0 11 0 26 0 92 0 2 0 20 0 129 0 6 0-529 1 14 0 92 0 7 0 15 0 8 0 24 0 34 0 109 0 81 0 84 0 6 0 41 0-505 1 60 0 33 0 25 0 87 0 18 0 39 0 22 0 69 0 51 0 69 0 39 0 9 0 1 0-531 1 25 0 84 0 1 0 22 0 20 0 52 0 45 0 63 0 11 0 36 0 73 0 94 0-516 1 18 0 57 0 35 0 32 0 6 0 95 0 49 0 7 0 15 0 5 0 95 0 9 0 42 0 27 0 26 0-462 1 10 0 110 0 105 0 19 0 24 0 14 0 118 0 46 0 2 0 2 0-503 1 1 0 5 0 5 0 40 0 43 0 146 0 29 0 42 0 102 0 24 0 62 0 17 0-524 1 42 0 10 0 44 0 53 0 11 0 6 0 15 0 3 0 22 0 100 0 10 0 32 0 7 0 28 0 4 0 6 0 132 0-526 1 1 0 110 0 6 0 47 0 56 0 5 0 57 0 10 0 63 0 15 0 92 0 9 0-466 1 22 0 22 0 38 0 6 0 10 0 107 0 171 0 70 0 65 0 9 0-522 1 10 0 24 0 23 0 44 0 171 0 11 0 11 0 54 0 49 0 47 0 15 0 24 0 6 0 3 0 25 0-519 1 61 0 66 0 10 0 1 0 37 0 36 0 2 0 3 0 32 0 101 0 114 0 3 0 37 0 9 0-515 1 1 0 1 0 1 0 17 0 95 0 6 0 139 0 7 0 2 0 22 0 48 0 72 0 58 0 17 0 32 0-514 1 9 0 30 0 125 0 15 0 56 0 95 0 24 0 1 0 32 0 92 0 8 0 20 0 4 0-508 1 34 0 29 0 34 0 94 0 23 0 126 0 16 0 3 0 6 0 2 0 13 0 7 0 46 0 41 0 12 0 4 0-486 1 3 0 5 0 15 0 4 0 57 0 21 0 28 0 16 0 60 0 7 0 59 0 49 0 5 0 17 0 24 0 14 0 3 0 82 0-476 1 10 0 8 0 39 0 218 0 38 0 50 0 54 0 56 0 28 0 3 0-502 1 6 0 81 0 101 0 14 0 29 0 11 0 23 0 18 0 85 0 113 0-482 1 53 0 10 0 33 0 20 0 26 0 90 0 41 0 168 0 32 0 6 0 23 0 8 0 2 0-498 1 18 0 29 0 13 0 25 0 17 0 13 0 26 0 17 0 9 0 27 0 45 0 45 0 82 0 21 0 17 0 19 0 14 0 10 0 2 0 19 0 1 0 10 0-472 1 100 0 29 0 34 0 20 0 1 0 43 0 1 0 5 0 119 0 41 0 34 0 25 0 32 0 7 0 5 0-510 1 12 0 6 0 24 0 8 0 4 0 62 0 35 0 69 0 43 0 125 0 94 0 14 0 1 0 7 0-489 1 13 0 8 0 75 0 10 0 169 0 30 0 74 0 42 0 11 0 32 0-478 1 1 0 6 0 54 0 3 0 22 0 100 0 3 0 40 0 23 0 13 0 5 0 5 0 47 0 63 0 28 0 8 0 26 0 15 0-468 1 7 0 46 0 15 0 11 0 230 0 70 0 3 0 10 0 49 0 19 0 10 0 29 0 7 0 4 0 3 0-474 1 14 0 80 0 7 0 15 0 21 0 6 0 86 0 7 0 38 0 21 0 3 0 12 0 2 0 45 0 41 0 18 0 2 0-443 1 40 0 17 0 30 0 18 0 6 0 33 0 214 0 2 0 18 0 2 0 49 0 43 0-484 1 2 0 47 0 24 0 20 0 6 0 5 0 194 0 1 0 47 0 20 0 48 0 89 0-499 1 4 0 40 0 9 0 2 0 33 0 4 0 133 0 63 0 35 0 15 0 5 0 41 0 25 0 9 0 48 0 28 0-497 1 47 0 15 0 48 0 22 0 1 0 53 0 68 0 26 0 39 0 24 0 13 0 64 0 30 0 17 0-467 1 7 0 4 0 24 0 16 0 37 0 35 0 7 0 15 0 14 0 11 0 17 0 189 0 66 0 11 0 26 0 9 0 18 0 1 0-506 1 3 0 8 0 76 0 31 0 17 0 25 0 7 0 5 0 14 0 106 0 27 0 30 0 45 0 7 0-390 1 40 0 28 0 1 0 34 0 43 0 12 0 118 0 47 0 41 0 6 0 33 0 43 0-447 1 1 0 7 0 47 0 17 0 40 0 27 0 12 0 1 0 15 0 6 0 28 0 5 0 15 0 3 0 24 0 6 0 52 0 23 0 47 0 65 0 48 0 5 0-503 1 2 0 13 0 4 0 17 0 14 0 25 0 30 0 84 0 5 0 71 0 32 0 11 0 13 0 12 0 42 0 71 0 27 0 27 0-498 1 51 0 126 0 51 0 89 0 163 0 2 0 3 0 15 0-496 1 31 0 9 0 21 0 4 0 26 0 98 0 10 0 48 0 34 0 16 0 1 0 16 0 36 0 52 0 26 0 7 0 34 0 4 0-475 1 2 0 16 0 29 0 3 0 8 0 13 0 17 0 2 0 14 0 1 0 11 0 81 0 7 0 10 0 29 0 44 0 9 0 40 0 63 0 66 0 9 0 14 0 6 0-479 1 5 0 27 0 79 0 14 0 5 0 20 0 3 0 5 0 10 0 190 0 12 0 1 0 29 0 5 0 23 0 15 0 21 0 12 0-454 1 12 0 30 0 33 0 7 0 44 0 59 0 59 0 15 0 17 0 11 0 52 0 16 0 37 0 6 0 12 0 42 0 7 0-485 1 12 0 4 0 10 0 54 0 22 0 7 0 45 0 58 0 86 0 21 0 3 0 38 0 15 0 9 0 58 0 7 0 15 0 10 0 5 0-490 1 4 0 128 0 1 0 24 0 12 0 9 0 7 0 4 0 5 0 67 0 13 0 51 0 6 0 2 0 36 0 9 0 34 0 2 0 4 0 1 0 11 0 4 0 6 0 13 0 7 0 17 0 9 0 1 0-442 1 53 0 105 0 6 0 29 0 10 0 59 0 5 0 6 0 20 0 29 0 15 0 4 0 28 0 14 0 3 0 10 0 11 0 21 0 11 0 7 0-490 1 13 0 3 0 12 0 16 0 7 0 12 0 16 0 30 0 15 0 10 0 128 0 36 0 66 0 29 0 14 0 17 0 69 0-491 1 2 0 13 0 10 0 21 0 22 0 98 0 14 0 21 0 54 0 28 0 17 0 22 0 9 0 4 0 31 0 50 0 7 0 15 0 21 0 26 0 2 0-489 1 3 0 2 0 75 0 51 0 5 0 23 0 23 0 38 0 120 0 7 0 6 0 22 0 6 0 16 0 43 0 12 0 34 0 1 0-475 1 8 0 47 0 6 0 1 0 3 0 76 0 13 0 40 0 9 0 7 0 10 0 7 0 21 0 40 0 24 0 6 0 15 0 9 0 54 0 48 0 8 0 6 0 5 0-467 1 2 0 2 0 16 0 26 0 30 0 14 0 19 0 6 0 12 0 25 0 10 0 90 0 56 0 25 0 11 0 11 0 10 0 2 0 29 0 14 0 13 0 24 0 4 0 11 0 4 0 1 0 3 0-476 1 8 0 47 0 35 0 80 0 20 0 29 0 9 0 9 0 5 0 67 0 20 0 10 0 3 0 10 0 24 0 4 0 15 0 15 0 11 0 10 0 22 0 4 0 1 0 9 0 9 0 10 0-478 1 21 0 13 0 4 0 9 0 5 0 7 0 1 0 12 0 27 0 91 0 28 0 1 0 58 0 72 0 18 0 16 0 28 0 10 0 5 0 12 0-435 1 44 0 48 0 15 0 8 0 87 0 19 0 1 0 16 0 29 0 28 0 58 0 21 0 22 0 22 0 2 0 7 0 27 0 1 0 4 0-469 1 5 0 28 0 9 0 3 0 9 0 3 0 2 0 9 0 12 0 7 0 18 0 40 0 64 0 13 0 10 0 9 0 41 0 15 0 5 0 6 0 8 0 24 0 17 0 1 0 14 0 7 0 11 0 1 0 12 0 11 0 21 0 29 0 12 0-475 1 1 0 11 0 31 0 1 0 18 0 27 0 48 0 90 0 12 0 13 0 43 0 10 0 3 0 9 0 24 0 76 0 2 0 25 0 1 0 7 0 16 0 9 0 4 0 2 0-474 1 6 0 7 0 5 0 37 0 3 0 23 0 3 0 11 0 41 0 11 0 52 0 1 0 42 0 8 0 3 0 46 0 8 0 35 0 18 0 68 0 16 0 11 0 10 0-469 1 5 0 42 0 34 0 32 0 1 0 31 0 14 0 15 0 4 0 2 0 40 0 24 0 12 0 31 0 37 0 2 0 6 0 14 0 14 0 23 0 15 0 10 0 15 0 18 0 6 0 10 0 18 0 1 0-429 1 6 0 3 0 4 0 1 0 28 0 7 0 10 0 26 0 13 0 15 0 53 0 37 0 48 0 7 0 10 0 13 0 27 0 13 0 1 0 22 0 31 0 2 0 17 0 19 0 8 0 7 0-470 1 19 0 17 0 16 0 10 0 16 0 2 0 2 0 1 0 5 0 7 0 8 0 14 0 10 0 6 0 27 0 7 0 104 0 15 0 12 0 6 0 46 0 1 0 21 0 8 0 50 0 4 0 16 0 10 0 2 0 6 0 1 0-473 1 10 0 18 0 3 0 35 0 1 0 5 0 20 0 2 0 12 0 23 0 58 0 8 0 3 0 27 0 11 0 47 0 6 0 16 0 1 0 2 0 43 0 33 0 17 0 19 0 47 0 6 0-460 1 12 0 6 0 20 0 2 0 9 0 7 0 44 0 33 0 4 0 29 0 38 0 2 0 7 0 48 0 40 0 23 0 14 0 9 0 10 0 3 0 6 0 1 0 5 0 26 0 15 0 11 0 24 0 5 0 4 0 2 0-437 1 6 0 26 0 26 0 11 0 21 0 23 0 23 0 18 0 59 0 28 0 6 0 13 0 31 0 29 0 1 0 1 0 14 0 6 0 18 0 39 0 9 0 27 0-466 1 11 0 6 0 28 0 12 0 3 0 1 0 32 0 11 0 3 0 24 0 4 0 6 0 3 0 2 0 30 0 55 0 14 0 21 0 2 0 82 0 2 0 7 0 9 0 10 0 10 0 6 0 10 0 25 0 7 0 24 0-454 1 3 0 2 0 15 0 14 0 52 0 16 0 12 0 27 0 17 0 53 0 7 0 14 0 15 0 30 0 16 0 98 0 36 0 2 0 16 0 2 0 3 0 7 0-448 1 13 0 16 0 9 0 30 0 3 0 20 0 22 0 15 0 25 0 17 0 40 0 23 0 6 0 9 0 1 0 6 0 72 0 22 0 3 0 4 0 23 0 29 0 18 0 14 0 3 0-450 1 4 0 4 0 4 0 6 0 44 0 2 0 38 0 6 0 18 0 2 0 8 0 77 0 10 0 7 0 3 0 19 0 31 0 5 0 42 0 2 0 1 0 9 0 80 0 1 0 13 0 13 0-454 1 15 0 15 0 9 0 3 0 9 0 11 0 16 0 15 0 1 0 4 0 10 0 15 0 7 0 1 0 17 0 2 0 13 0 11 0 31 0 2 0 18 0 8 0 27 0 4 0 20 0 6 0 12 0 38 0 2 0 6 0 18 0 31 0 6 0 4 0 30 0 9 0 6 0-437 1 23 0 6 0 5 0 2 0 11 0 4 0 42 0 4 0 30 0 2 0 7 0 1 0 30 0 20 0 7 0 15 0 12 0 7 0 3 0 23 0 4 0 2 0 2 0 5 0 2 0 7 0 24 0 1 0 13 0 4 0 1 0 18 0 4 0 68 0 2 0 27 0 1 0-435 1 1 0 4 0 5 0 1 0 42 0 2 0 1 0 20 0 21 0 10 0 38 0 13 0 13 0 4 0 3 0 4 0 34 0 45 0 27 0 14 0 10 0 16 0 1 0 19 0 3 0 7 0 21 0 2 0 4 0 14 0 8 0 3 0 12 0 1 0 1 0 13 0-443 1 47 0 6 0 3 0 6 0 16 0 2 0 7 0 1 0 6 0 14 0 34 0 40 0 4 0 1 0 3 0 1 0 1 0 6 0 11 0 1 0 56 0 20 0 2 0 8 0 30 0 5 0 8 0 3 0 8 0 32 0 8 0 9 0 10 0 5 0 4 0 18 0 6 0-450 1 5 0 5 0 10 0 42 0 9 0 4 0 22 0 1 0 8 0 7 0 3 0 4 0 3 0 19 0 38 0 7 0 5 0 17 0 15 0 11 0 3 0 35 0 45 0 20 0 9 0 15 0 1 0 35 0 6 0 1 0 30 0 16 0 1 0-447 1 4 0 3 0 1 0 7 0 2 0 3 0 20 0 4 0 13 0 5 0 1 0 39 0 14 0 4 0 27 0 11 0 7 0 32 0 2 0 1 0 1 0 2 0 12 0 13 0 12 0 5 0 4 0 13 0 42 0 4 0 15 0 6 0 11 0 3 0 5 0 4 0 1 0 26 0 8 0 13 0 2 0 7 0 2 0 2 0 5 0 1 0 10 0 2 0 10 0 4 0 1 0-450 1 10 0 6 0 1 0 17 0 1 0 13 0 2 0 23 0 3 0 2 0 3 0 9 0 13 0 8 0 19 0 6 0 2 0 22 0 13 0 41 0 12 0 19 0 4 0 18 0 1 0 11 0 21 0 1 0 3 0 33 0 5 0 21 0 18 0 4 0 5 0 35 0 18 0 1 0-437 1 2 0 1 0 2 0 11 0 13 0 3 0 24 0 10 0 13 0 6 0 9 0 1 0 9 0 21 0 32 0 7 0 11 0 12 0 3 0 5 0 13 0 7 0 17 0 12 0 8 0 4 0 2 0 9 0 7 0 23 0 3 0 8 0 7 0 3 0 50 0 10 0 5 0 24 0 22 0 4 0 4 0 3 0 2 0-447 1 15 0 4 0 29 0 11 0 1 0 2 0 11 0 4 0 11 0 6 0 7 0 4 0 2 0 13 0 1 0 29 0 1 0 9 0 16 0 2 0 25 0 6 0 4 0 3 0 8 0 2 0 3 0 15 0 6 0 7 0 1 0 3 0 6 0 1 0 2 0 2 0 3 0 1 0 1 0 1 0 27 0 9 0 20 0 8 0 3 0 9 0 12 0 4 0 9 0 2 0 6 0 4 0 12 0 2 0 5 0 6 0 7 0 5 0 1 0 5 0 2 0 1 0 2 0 2 0-425 1 6 0 11 0 12 0 8 0 6 0 9 0 1 0 13 0 1 0 4 0 8 0 2 0 7 0 5 0 6 0 4 0 2 0 11 0 7 0 7 0 2 0 4 0 4 0 1 0 4 0 16 0 4 0 6 0 5 0 5 0 8 0 14 0 18 0 8 0 2 0 7 0 30 0 7 0 12 0 5 0 22 0 3 0 8 0 6 0 9 0 2 0 14 0 5 0 3 0 9 0 1 0 7 0 7 0 9 0 16 0-425 1 5 0 2 0 5 0 1 0 3 0 2 0 8 0 3 0 5 0 10 0 20 0 7 0 2 0 19 0 5 0 4 0 11 0 6 0 4 0 7 0 13 0 7 0 7 0 8 0 2 0 8 0 10 0 7 0 7 0 4 0 3 0 1 0 6 0 19 0 5 0 2 0 5 0 1 0 4 0 3 0 18 0 12 0 4 0 3 0 10 0 3 0 5 0 2 0 4 0 3 0 10 0 12 0 1 0 1 0 31 0 5 0 7 0 6 0 9 0 11 0 2 0 23 0 5 0-440 1 9 0 9 0 1 0 4 0 3 0 2 0 2 0 6 0 1 0 8 0 2 0 1 0 5 0 28 0 11 0 13 0 1 0 1 0 25 0 2 0 22 0 2 0 2 0 12 0 4 0 24 0 32 0 1 0 4 0 1 0 1 0 2 0 2 0 8 0 4 0 2 0 12 0 5 0 15 0 23 0 4 0 8 0 4 0 4 0 5 0 3 0 3 0 10 0 3 0 40 0 2 0 14 0 11 0 10 0 3 0 2 0-435 1 3 0 16 0 7 0 7 0 2 0 7 0 1 0 4 0 29 0 11 0 35 0 1 0 4 0 5 0 11 0 5 0 4 0 1 0 17 0 8 0 4 0 5 0 17 0 11 0 4 0 3 0 3 0 3 0 1 0 5 0 4 0 2 0 12 0 8 0 13 0 18 0 1 0 1 0 1 0 2 0 4 0 3 0 6 0 20 0 12 0 1 0 9 0 6 0 17 0 4 0 5 0 1 0 1 0 7 0 4 0 4 0 1 0 6 0 17 0 8 0-430 1 10 0 13 0 1 0 4 0 8 0 9 0 19 0 7 0 6 0 2 0 1 0 15 0 2 0 8 0 3 0 3 0 1 0 7 0 11 0 4 0 7 0 1 0 3 0 2 0 5 0 2 0 3 0 1 0 9 0 5 0 9 0 2 0 3 0 14 0 6 0 13 0 8 0 12 0 9 0 9 0 10 0 1 0 3 0 2 0 4 0 5 0 3 0 2 0 1 0 1 0 4 0 4 0 11 0 2 0 5 0 3 0 2 0 15 0 3 0 1 0 10 0 9 0 13 0 9 0 1 0 1 0 28 0 4 0 2 0 8 0 3 0-408 1 4 0 1 0 12 0 4 0 3 0 14 0 13 0 5 0 2 0 5 0 11 0 2 0 2 0 4 0 18 0 3 0 2 0 6 0 4 0 5 0 6 0 4 0 1 0 6 0 7 0 1 0 16 0 8 0 10 0 5 0 8 0 2 0 15 0 9 0 5 0 11 0 4 0 3 0 2 0 34 0 6 0 4 0 14 0 1 0 13 0 1 0 9 0 7 0 6 0 2 0 5 0 7 0 8 0 10 0 3 0 15 0 11 0 4 0 4 0-411 1 14 0 1 0 4 0 4 0 15 0 1 0 3 0 5 0 11 0 6 0 1 0 3 0 11 0 4 0 3 0 3 0 7 0 8 0 9 0 1 0 10 0 3 0 4 0 8 0 4 0 3 0 4 0 9 0 25 0 2 0 32 0 1 0 8 0 11 0 2 0 7 0 1 0 4 0 4 0 4 0 4 0 6 0 4 0 8 0 2 0 1 0 3 0 7 0 10 0 1 0 13 0 5 0 2 0 2 0 4 0 2 0 12 0 10 0 2 0 7 0 5 0 1 0 3 0 2 0 3 0 17 0 2 0 7 0-413 1 4 0 3 0 2 0 10 0 3 0 9 0 14 0 2 0 8 0 3 0 2 0 4 0 2 0 7 0 8 0 4 0 4 0 4 0 2 0 9 0 15 0 1 0 3 0 7 0 2 0 3 0 16 0 1 0 6 0 7 0 2 0 16 0 7 0 5 0 3 0 5 0 20 0 4 0 1 0 2 0 5 0 1 0 1 0 1 0 1 0 12 0 2 0 1 0 5 0 5 0 3 0 8 0 12 0 8 0 2 0 2 0 3 0 11 0 5 0 5 0 8 0 1 0 5 0 2 0 11 0 2 0 12 0 10 0 9 0 5 0 2 0 4 0 2 0 2 0 1 0 8 0 1 0 8 0-406 1 1 0 3 0 10 0 5 0 2 0 4 0 30 0 3 0 5 0 1 0 6 0 2 0 16 0 2 0 1 0 4 0 6 0 6 0 2 0 6 0 2 0 4 0 1 0 8 0 7 0 2 0 5 0 13 0 8 0 13 0 11 0 3 0 3 0 2 0 2 0 1 0 1 0 1 0 6 0 2 0 9 0 4 0 8 0 37 0 1 0 3 0 3 0 4 0 34 0 3 0 12 0 3 0 3 0 1 0 6 0 1 0 6 0 5 0 4 0 1 0 13 0 7 0 1 0 15 0 8 0-404 1 1 0 6 0 1 0 4 0 8 0 4 0 4 0 1 0 10 0 2 0 2 0 7 0 2 0 3 0 2 0 13 0 4 0 2 0 3 0 13 0 3 0 5 0 2 0 2 0 5 0 15 0 2 0 3 0 1 0 6 0 3 0 5 0 1 0 8 0 1 0 16 0 2 0 2 0 10 0 4 0 4 0 13 0 7 0 4 0 14 0 2 0 11 0 1 0 1 0 1 0 9 0 6 0 5 0 4 0 2 0 1 0 2 0 3 0 1 0 1 0 13 0 2 0 15 0 8 0 4 0 2 0 1 0 3 0 4 0 4 0 6 0 1 0 13 0 3 0 12 0 3 0 1 0 16 0 2 0 6 0-396 1 6 0 1 0 12 0 6 0 14 0 8 0 2 0 1 0 1 0 6 0 9 0 8 0 2 0 7 0 4 0 3 0 7 0 2 0 1 0 9 0 1 0 1 0 10 0 2 0 3 0 6 0 4 0 4 0 3 0 5 0 2 0 13 0 4 0 4 0 1 0 1 0 4 0 11 0 4 0 1 0 6 0 5 0 5 0 4 0 7 0 8 0 2 0 2 0 1 0 2 0 4 0 1 0 9 0 2 0 2 0 1 0 8 0 1 0 6 0 1 0 4 0 5 0 1 0 16 0 10 0 2 0 1 0 2 0 6 0 2 0 2 0 7 0 3 0 5 0 5 0 9 0 2 0 14 0 1 0 2 0 13 0 4 0 10 0-396 1 1 0 4 0 4 0 3 0 12 0 13 0 2 0 12 0 2 0 6 0 2 0 1 0 5 0 4 0 3 0 10 0 13 0 12 0 1 0 14 0 4 0 19 0 1 0 2 0 28 0 10 0 3 0 19 0 8 0 3 0 9 0 14 0 3 0 5 0 11 0 1 0 5 0 8 0 1 0 6 0 4 0 9 0 3 0 2 0 4 0 4 0 8 0 3 0 6 0 4 0 4 0 1 0 2 0 5 0 4 0 2 0 10 0 1 0 6 0 1 0 13 0 13 0-368 1 2 0 1 0 4 0 3 0 8 0 13 0 7 0 3 0 8 0 5 0 10 0 7 0 4 0 3 0 7 0 6 0 11 0 10 0 1 0 2 0 5 0 2 0 5 0 1 0 7 0 6 0 1 0 5 0 7 0 10 0 2 0 17 0 6 0 2 0 2 0 7 0 17 0 1 0 1 0 6 0 2 0 2 0 1 0 10 0 3 0 8 0 2 0 2 0 16 0 3 0 1 0 4 0 2 0 3 0 2 0 6 0 3 0 6 0 17 0 6 0 4 0 3 0 6 0 5 0 5 0 21 0" fill="none" stroke="none" marker-start="url(#q)" marker-mid="url(#q)" marker-end="url(#q)"/>
<rect x="252.9" y="839.4" width="876.0" height="583.0" fill="none" stroke="#0000d2" stroke-width="4.6"/>
<text x="226.5" y="841.7" font-size="41.5" text-anchor="end" class="t">0</text>
<text x="226.5" y="924.9" font-size="41.5" text-anchor="end" class="t">-0.02</text>
<text x="226.5" y="1008.2" font-size="41.5" text-anchor="end" class="t">-0.04</text>
<text x="226.5" y="1091.5" font-size="41.5" text-anchor="end" class="t">-0.06</text>
<text x="226.5" y="1174.8" font-size="41.5" text-anchor="end" class="t">-0.08</text>
<text x="226.5" y="1258.1" font-size="41.5" text-anchor="end" class="t">-0.1</text>
<text x="226.5" y="1341.4" font-size="41.5" text-anchor="end" class="t">-0.12</text>
<text x="226.5" y="1424.7" font-size="41.5" text-anchor="end" class="t">-0.14</text>
<text x="250.4" y="1475.7" font-size="41.5" text-anchor="middle" class="t">-15</text>
<text x="394.0" y="1475.7" font-size="41.5" text-anchor="middle" class="t">-10</text>
<text x="542.4" y="1475.7" font-size="41.5" text-anchor="middle" class="t">-5</text>
<text x="686.7" y="1475.7" font-size="41.5" text-anchor="middle" class="t">0</text>
<text x="834.1" y="1475.7" font-size="41.5" text-anchor="middle" class="t">5</text>
<text x="977.9" y="1475.7" font-size="41.5" text-anchor="middle" class="t">10</text>
<text x="1125.0" y="1475.7" font-size="41.5" text-anchor="middle" class="t">15</text>
<text x="298.4" y="882.9" font-size="48">(</text>
<text x="314.5" y="888.7" font-size="56" style="fill:#1a1a1a">c</text>
<text x="343.1" y="882.9" font-size="48">)</text>
<path d="M1493.4 839.4V1422.5M1639.4 839.4V1422.5M1785.5 839.4V1422.5M1931.5 839.4V1422.5M2077.5 839.4V1422.5M1347.4 956.0H2223.5M1347.4 1072.6H2223.5M1347.4 1189.3H2223.5M1347.4 1305.9H2223.5" stroke="#0000d2" stroke-width="4.6" stroke-dasharray="4.7 4.6" fill="none"/>
<path d="M1493.4 839.4v25.5M1493.4 1422.5v-25.5M1639.4 839.4v25.5M1639.4 1422.5v-25.5M1785.5 839.4v25.5M1785.5 1422.5v-25.5M1931.5 839.4v25.5M1931.5 1422.5v-25.5M2077.5 839.4v25.5M2077.5 1422.5v-25.5M1347.4 956.0h25.5M2223.5 956.0h-25.5M1347.4 1072.6h25.5M2223.5 1072.6h-25.5M1347.4 1189.3h25.5M2223.5 1189.3h-25.5M1347.4 1305.9h25.5M2223.5 1305.9h-25.5" stroke="#0000d2" stroke-width="4.6" fill="none"/>
<path d="m1778 841 4 5 5 3-2 1 7 1 0 6-14 1 2 1 26 0-38 3 26 2 13 0-44 3 21 1 25 0-44 1 22 2 17 0-18 2 22 0-3 1-30 1 15 1-15 4 18 0 7 0-32 2 13 0 19 1-49 1 41 2-41 2 7 0 39 0-41 1 14 1-4 2 45 1-10 1 5 0-14 2-39 1 31 0 29 1-56 1 29 1 28 2-42 1 39 1-25 1-22 1 25 1-5 2-37 1 31 0 22 0 15 0-48 1 35 0 6 0-26 1 37 0-65 1 34 0-29 1 47 0 6 0-51 1 28 1 15 0-59 1 30 0 32 4-5 2-42 1 20 0-24 1-1 3 58 0-466 1 4 0 4 0 15 0 4 0 2 0 43 0 20 0 107 0 77 0 23 0 14 0 2 0 15 0 62 0 7 0 19 0 10 0 10 0 23 0 46 0 17 0 15 0 50 0 44 0 3 0 40 0 17 0 13 0 33 0 22 0 7 0 14 0 9 0 44 0 24 0 11 0 2 0-871 1 1 0 20 0 29 0 16 0 5 0 2 0 8 0 38 0 30 0 38 0 17 0 65 0 41 0 9 0 47 0 35 0 12 0 7 0 24 0 16 0 15 0 14 0 78 0 52 0 2 0 1 0 25 0 16 0 21 0 49 0 6 0 5 0 12 0 74 0 21 0 5 0 10 0 1 0 2 0 1 0-869 1 3 0 2 0 5 0 7 0 2 0 6 0 1 0 105 0 13 0 3 0 36 0 4 0 45 0 8 0 29 0 47 0 1 0 13 0 62 0 23 0 13 0 18 0 51 0 6 0 18 0 28 0 99 0 49 0 38 0 44 0 14 0 59 0 8 0 6 0-868 1 1 0 8 0 8 0 9 0 31 0 1 0 21 0 69 0 35 0 25 0 11 0 14 0 9 0 3 0 28 0 3 0 6 0 30 0 74 0 21 0 134 0 31 0 64 0 74 0 14 0 27 0 21 0 44 0 8 0 7 0 15 0 2 0 2 0 2 0 17 0 1 0-868 1 1 0 1 0 8 0 5 0 23 0 8 0 14 0 12 0 3 0 9 0 44 0 35 0 9 0 1 0 19 0 13 0 59 0 25 0 26 0 57 0 2 0 38 0 1 0 29 0 2 0 1 0 58 0 31 0 4 0 19 0 53 0 27 0 36 0 1 0 33 0 11 0 36 0 55 0 29 0 12 0 1 0 1 0 13 0 5 0-863 1 5 0 6 0 2 0 8 0 4 0 9 0 34 0 21 0 4 0 5 0 10 0 12 0 3 0 28 0 1 0 1 0 4 0 3 0 92 0 41 0 14 0 20 0 18 0 28 0 62 0 56 0 12 0 13 0 19 0 50 0 29 0 9 0 19 0 80 0 118 0 1 0 9 0 7 0 3 0-863 1 4 0 8 0 28 0 16 0 13 0 48 0 90 0 57 0 25 0 8 0 5 0 97 0 15 0 1 0 58 0 16 0 13 0 72 0 54 0 18 0 11 0 9 0 20 0 38 0 5 0 11 0 14 0 12 0 2 0 19 0 40 0 9 0 28 0-861 1 1 0 2 0 11 0 39 0 23 0 43 0 25 0 16 0 11 0 22 0 34 0 11 0 25 0 8 0 12 0 4 0 10 0 6 0 26 0 26 0 24 0 60 0 11 0 15 0 18 0 6 0 6 0 50 0 103 0 83 0 9 0 25 0 20 0 18 0 9 0 7 0 2 0 17 0 11 0 1 0 8 0 3 0-858 1 1 0 1 0 3 0 5 0 1 0 12 0 16 0 31 0 34 0 10 0 5 0 98 0 26 0 58 0 5 0 76 0 63 0 18 0 1 0 33 0 2 0 3 0 18 0 61 0 87 0 1 0 5 0 4 0 3 0 47 0 26 0 9 0 35 0 53 0 4 0 1 0-861 1 6 0 3 0 4 0 16 0 1 0 9 0 42 0 5 0 24 0 39 0 13 0 42 0 71 0 10 0 4 0 30 0 25 0 47 0 75 0 21 0 6 0 2 0 55 0 16 0 13 0 37 0 29 0 6 0 14 0 13 0 85 0 6 0 80 0-850 1 1 0 16 0 13 0 7 0 26 0 51 0 13 0 44 0 23 0 14 0 5 0 49 0 24 0 7 0 19 0 16 0 35 0 43 0 135 0 15 0 85 0 23 0 12 0 34 0 18 0 31 0 19 0 14 0 4 0 14 0 10 0 3 0 21 0 5 0 1 0-833 1 2 0 4 0 11 0 19 0 3 0 43 0 54 0 1 0 70 0 16 0 57 0 48 0 27 0 3 0 59 0 8 0 83 0 7 0 179 0 25 0 22 0 38 0 18 0 11 0 7 0 28 0 2 0-821 1 15 0 7 0 48 0 10 0 19 0 26 0 95 0 37 0 13 0 7 0 31 0 11 0 4 0 43 0 3 0 33 0 53 0 34 0 15 0 12 0 1 0 15 0 2 0 15 0 88 0 60 0 78 0 3 0 2 0 8 0 16 0 6 0 3 0 2 0-855 1 10 0 100 0 212 0 31 0 47 0 14 0 48 0 120 0 6 0 4 0 12 0 23 0 92 0 28 0 4 0 2 0 19 0 5 0 14 0 12 0 11 0 33 0 2 0 6 0-850 1 2 0 7 0 24 0 16 0 5 0 36 0 15 0 24 0 11 0 34 0 13 0 12 0 30 0 7 0 25 0 22 0 4 0 33 0 97 0 3 0 11 0 12 0 8 0 134 0 2 0 5 0 56 0 91 0 32 0 33 0 41 0 7 0-851 1 4 0 44 0 61 0 46 0 6 0 45 0 4 0 6 0 20 0 116 0 27 0 58 0 33 0 27 0 37 0 55 0 53 0 109 0 25 0 6 0 18 0 3 0 1 0 4 0 11 0 7 0 12 0 2 0 4 0 2 0 5 0-848 1 16 0 4 0 7 0 28 0 106 0 49 0 66 0 64 0 6 0 8 0 13 0 68 0 5 0 53 0 100 0 10 0 28 0 32 0 9 0 10 0 44 0 19 0 3 0 31 0 8 0 17 0 6 0 1 0 1 0 18 0 6 0 6 0 3 0 2 0 1 0-844 1 25 0 4 0 23 0 38 0 35 0 1 0 63 0 26 0 3 0 16 0 4 0 103 0 56 0 5 0 18 0 2 0 47 0 26 0 48 0 9 0 91 0 30 0 38 0 17 0 2 0 3 0 9 0 89 0 1 0 4 0 7 0-850 1 5 0 1 0 5 0 58 0 12 0 20 0 75 0 7 0 11 0 54 0 29 0 16 0 25 0 123 0 79 0 5 0 19 0 8 0 26 0 120 0 45 0 52 0 19 0 6 0 23 0 8 0-849 1 3 0 26 0 2 0 44 0 7 0 14 0 7 0 19 0 132 0 47 0 15 0 33 0 88 0 13 0 24 0 59 0 10 0 19 0 182 0 13 0 23 0 28 0 7 0-781 1 3 0 1 0 73 0 3 0 9 0 21 0 29 0 43 0 44 0 56 0 24 0 1 0 25 0 29 0 57 0 51 0 44 0 14 0 2 0 39 0 145 0 3 0 5 0 3 0 18 0 5 0 54 0 5 0 2 0 2 0-842 1 3 0 15 0 5 0 10 0 147 0 33 0 129 0 50 0 60 0 57 0 49 0 4 0 4 0 36 0 20 0 24 0 59 0 9 0 20 0 64 0 37 0 1 0 3 0 1 0 2 0 4 0-842 1 48 0 9 0 6 0 11 0 26 0 37 0 29 0 121 0 2 0 43 0 24 0 4 0 154 0 31 0 10 0 29 0 12 0 25 0 22 0 21 0 2 0 80 0 3 0 83 0 4 0-833 1 1 0 8 0 127 0 24 0 11 0 138 0 44 0 41 0 156 0 15 0 15 0 39 0 14 0 22 0 46 0 113 0 7 0-817 1 44 0 27 0 209 0 99 0 10 0 144 0 52 0 23 0 43 0 69 0 22 0 43 0 25 0 12 0-828 1 12 0 9 0 88 0 54 0 39 0 26 0 21 0 233 0 25 0 88 0 76 0 8 0 28 0 61 0 6 0 1 0 20 0 12 0 11 0 7 0 12 0 1 0 2 0-843 1 8 0 4 0 5 0 51 0 13 0 10 0 17 0 15 0 75 0 74 0 12 0 5 0 115 0 25 0 6 0 1 0 13 0 50 0 8 0 17 0 98 0 52 0 65 0 37 0 49 0 8 0 5 0-830 1 6 0 13 0 4 0 43 0 32 0 41 0 4 0 9 0 6 0 21 0 42 0 22 0 10 0 189 0 42 0 68 0 85 0 5 0 62 0 4 0 59 0 50 0 1 0 1 0 8 0-837 1 1 0 1 0 7 0 1 0 11 0 18 0 36 0 22 0 93 0 42 0 61 0 40 0 94 0 70 0 12 0 61 0 5 0 189 0 32 0 10 0 14 0 8 0 3 0 11 0-843 1 19 0 1 0 44 0 11 0 16 0 128 0 113 0 32 0 55 0 296 0 61 0 8 0 26 0 1 0 4 0 17 0 5 0 5 0-835 1 2 0 10 0 2 0 45 0 110 0 101 0 36 0 22 0 16 0 56 0 36 0 10 0 10 0 3 0 10 0 24 0 30 0 81 0 123 0 6 0 66 0 15 0 2 0-819 1 1 0 9 0 35 0 37 0 27 0 24 0 123 0 95 0 2 0 51 0 9 0 8 0 34 0 20 0 22 0 37 0 19 0 47 0 123 0 47 0 17 0 28 0 11 0 2 0 9 0-830 1 9 0 12 0 15 0 12 0 71 0 89 0 7 0 25 0 43 0 36 0 37 0 90 0 120 0 75 0 7 0 24 0 95 0 7 0 10 0 32 0 2 0-825 1 7 0 1 0 1 0 4 0 11 0 36 0 3 0 30 0 14 0 58 0 19 0 4 0 6 0 9 0 13 0 57 0 29 0 138 0 15 0 64 0 46 0 37 0 93 0 112 0 27 0-829 1 35 0 74 0 35 0 2 0 71 0 2 0 133 0 199 0 33 0 104 0 67 0 58 0-813 1 117 0 5 0 118 0 92 0 161 0 10 0 51 0 61 0 69 0 6 0 77 0 8 0 2 0 16 0 2 0 25 0 4 0 7 0-826 1 4 0 7 0 45 0 4 0 113 0 89 0 173 0 55 0 19 0 4 0 12 0 35 0 129 0 46 0 45 0 31 0 12 0-821 1 20 0 40 0 2 0 29 0 5 0 53 0 135 0 105 0 7 0 67 0 10 0 13 0 103 0 28 0 54 0 50 0 78 0 15 0-823 1 8 0 9 0 54 0 92 0 12 0 71 0 48 0 63 0 142 0 75 0 1 0 135 0 31 0 6 0 7 0 34 0 12 0 1 0 2 0 1 0 6 0 17 0-813 1 6 0 8 0 14 0 12 0 59 0 36 0 24 0 44 0 34 0 236 0 40 0 20 0 15 0 100 0 66 0 10 0 23 0 53 0 12 0-822 1 5 0 26 0 4 0 6 0 28 0 6 0 54 0 346 0 7 0 40 0 89 0 4 0 5 0 39 0 16 0 106 0 28 0 3 0 3 0-816 1 1 0 29 0 23 0 7 0 94 0 16 0 41 0 7 0 209 0 28 0 82 0 13 0 113 0 26 0 51 0 30 0 5 0 28 0 15 0-811 1 1 0 2 0 7 0 6 0 22 0 61 0 128 0 15 0 29 0 67 0 18 0 18 0 43 0 57 0 106 0 35 0 143 0 38 0 13 0 10 0 1 0-829 1 14 0 11 0 40 0 7 0 36 0 1 0 43 0 51 0 8 0 11 0 12 0 13 0 14 0 60 0 3 0 18 0 34 0 2 0 114 0 8 0 79 0 39 0 3 0 9 0 93 0 42 0 14 0 23 0 17 0 7 0-797 1 11 0 143 0 4 0 65 0 16 0 4 0 20 0 47 0 40 0 6 0 8 0 49 0 13 0 20 0 22 0 10 0 126 0 111 0 61 0 14 0 1 0 5 0 1 0-822 1 3 0 34 0 10 0 21 0 34 0 46 0 40 0 66 0 2 0 1 0 1 0 58 0 68 0 1 0 2 0 1 0 22 0 31 0 47 0 21 0 94 0 44 0 30 0 9 0 125 0 4 0-812 1 44 0 95 0 32 0 23 0 71 0 11 0 2 0 259 0 52 0 50 0 4 0 50 0 58 0 26 0 7 0 28 0 1 0 7 0-822 1 11 0 103 0 21 0 210 0 244 0 46 0 1 0 67 0 80 0 15 0 2 0-800 1 3 0 2 0 220 0 5 0 22 0 91 0 89 0 114 0 188 0 45 0 4 0 33 0 1 0-812 1 2 0 6 0 65 0 37 0 98 0 15 0 158 0 19 0 119 0 118 0 166 0 4 0 6 0-779 1 11 0 37 0 38 0 91 0 28 0 47 0 4 0 39 0 13 0 92 0 33 0 6 0 51 0 33 0 42 0 22 0 132 0 41 0 3 0 11 0-813 1 12 0 9 0 73 0 41 0 16 0 36 0 129 0 9 0 125 0 48 0 33 0 190 0 31 0 65 0-814 1 19 0 30 0 1 0 9 0 206 0 81 0 63 0 41 0 89 0 90 0 18 0 42 0 2 0 41 0 7 0 30 0 41 0-808 1 7 0 12 0 51 0 23 0 12 0 2 0 134 0 101 0 15 0 68 0 5 0 13 0 178 0 22 0 21 0 33 0 28 0 52 0 26 0 10 0-808 1 100 0 97 0 7 0 3 0 20 0 76 0 25 0 31 0 256 0 4 0 73 0 25 0 7 0 56 0 17 0-801 1 13 0 11 0 10 0 5 0 11 0 133 0 17 0 90 0 131 0 57 0 38 0 111 0 81 0 14 0 4 0 37 0 15 0 31 0 2 0-808 1 24 0 11 0 1 0 13 0 38 0 144 0 114 0 11 0 47 0 124 0 4 0 55 0 126 0 60 0 1 0 29 0 1 0 4 0-802 1 110 0 128 0 30 0 13 0 6 0 22 0 24 0 51 0 55 0 6 0 24 0 88 0 19 0 22 0 44 0 7 0 7 0 16 0 18 0 74 0-754 1 4 0 62 0 103 0 32 0 152 0 50 0 207 0 19 0 44 0 30 0 4 0 41 0 1 0 43 0-812 1 5 0 2 0 1 0 74 0 38 0 29 0 245 0 47 0 63 0 38 0 23 0 97 0 61 0 19 0 26 0 5 0 37 0-778 1 51 0 101 0 1 0 27 0 123 0 34 0 45 0 12 0 28 0 57 0 9 0 4 0 7 0 24 0 91 0 89 0 57 0 6 0 8 0 5 0-806 1 4 0 18 0 21 0 18 0 68 0 67 0 24 0 6 0 61 0 11 0 52 0 16 0 32 0 29 0 13 0 26 0 64 0 90 0 62 0 78 0 20 0 9 0-782 1 108 0 142 0 40 0 94 0 176 0 29 0 202 0 1 0 2 0 2 0-803 1 6 0 9 0 176 0 177 0 26 0 18 0 88 0 146 0 144 0 4 0-794 1 8 0 1 0 90 0 4 0 18 0 66 0 6 0 86 0 45 0 33 0 40 0 226 0 67 0 3 0 8 0 54 0 2 0 1 0-760 1 27 0 14 0 49 0 45 0 58 0 91 0 16 0 20 0 72 0 18 0 198 0 52 0 54 0 57 0-764 1 4 0 4 0 6 0 90 0 15 0 42 0 41 0 51 0 15 0 46 0 199 0 8 0 39 0 10 0 56 0 131 0 38 0 1 0-799 1 5 0 9 0 183 0 43 0 47 0 11 0 189 0 51 0 32 0 129 0 11 0 64 0 11 0 14 0-792 1 102 0 28 0 105 0 71 0 37 0 13 0 4 0 41 0 86 0 17 0 142 0 40 0 3 0 85 0 6 0 11 0 2 0-797 1 31 0 4 0 139 0 8 0 21 0 45 0 48 0 9 0 52 0 47 0 8 0 15 0 179 0 11 0 45 0 9 0 80 0 5 0 7 0 4 0 21 0 3 0 3 0-796 1 38 0 31 0 27 0 110 0 136 0 104 0 92 0 68 0 4 0 76 0 110 0-788 1 256 0 18 0 32 0 15 0 18 0 8 0 19 0 73 0 26 0 1 0 85 0 169 0 16 0 48 0-794 1 12 0 12 0 27 0 79 0 59 0 132 0 294 0 96 0 74 0 4 0 7 0-794 1 5 0 26 0 3 0 107 0 108 0 69 0 19 0 23 0 70 0 4 0 99 0 18 0 50 0 11 0 31 0 144 0-788 1 64 0 34 0 117 0 42 0 29 0 63 0 12 0 5 0 31 0 18 0 7 0 104 0 14 0 61 0 29 0 35 0 21 0 12 0 39 0 31 0-766 1 1 0 15 0 6 0 1 0 85 0 1 0 11 0 6 0 5 0 36 0 20 0 41 0 5 0 43 0 46 0 18 0 98 0 97 0 80 0 14 0 48 0 10 0 91 0-746 1 47 0 48 0 151 0 1 0 181 0 12 0 130 0 129 0 23 0 32 0-766 1 2 0 12 0 26 0 115 0 96 0 142 0 44 0 21 0 14 0 26 0 3 0 4 0 45 0 86 0 10 0 26 0 84 0 13 0-790 1 4 0 11 0 86 0 5 0 76 0 51 0 107 0 8 0 63 0 109 0 12 0 5 0 3 0 47 0 17 0 2 0 124 0 48 0 15 0-784 1 32 0 77 0 59 0 3 0 40 0 2 0 59 0 10 0 213 0 63 0 58 0 133 0 4 0 19 0 4 0 3 0 4 0-753 1 31 0 31 0 31 0 73 0 105 0 53 0 10 0 30 0 99 0 12 0 223 0 36 0-771 1 5 0 46 0 39 0 5 0 209 0 59 0 21 0 32 0 165 0 24 0 103 0 50 0 29 0 2 0-783 1 54 0 31 0 66 0 93 0 15 0 25 0 139 0 20 0 23 0 55 0 48 0 30 0 156 0-757 1 65 0 28 0 10 0 39 0 79 0 22 0 77 0 62 0 58 0 71 0 33 0 9 0 34 0 191 0-753 1 150 0 99 0 39 0 34 0 17 0 68 0 4 0 80 0 24 0 14 0 75 0 55 0 40 0 38 0-762 1 14 0 3 0 4 0 56 0 74 0 64 0 4 0 33 0 34 0 22 0 10 0 7 0 6 0 78 0 162 0 1 0 30 0 10 0 62 0 61 0-723 1 37 0 74 0 131 0 6 0 76 0 33 0 83 0 73 0 3 0 35 0 42 0 25 0 57 0 61 0 21 0-769 1 2 0 98 0 54 0 112 0 47 0 108 0 26 0 25 0 81 0 20 0 107 0 40 0 47 0 10 0-689 1 18 0 65 0 2 0 239 0 93 0 30 0 76 0 134 0 14 0 2 0 7 0 2 0 3 0-774 1 3 0 22 0 27 0 194 0 252 0 57 0 41 0 8 0 20 0 73 0 34 0 5 0 23 0 18 0-777 1 13 0 7 0 10 0 11 0 23 0 55 0 87 0 45 0 23 0 113 0 28 0 150 0 22 0 123 0 29 0 21 0 11 0-771 1 26 0 16 0 114 0 27 0 7 0 31 0 210 0 51 0 99 0 90 0 7 0 71 0 8 0-752 1 6 0 13 0 25 0 97 0 42 0 10 0 17 0 58 0 17 0 201 0 18 0 54 0 81 0 1 0 42 0 70 0 8 0 10 0-775 1 5 0 1 0 6 0 18 0 19 0 96 0 157 0 44 0 10 0 49 0 3 0 43 0 16 0 309 0-773 1 5 0 12 0 12 0 104 0 192 0 19 0 7 0 38 0 37 0 180 0 168 0-564 1 113 0 34 0 15 0 98 0 11 0 18 0 38 0 159 0 50 0 6 0 17 0-767 1 66 0 280 0 7 0 122 0 29 0 54 0 27 0 135 0 23 0 8 0 18 0-765 1 45 0 56 0 21 0 5 0 169 0 68 0 104 0 91 0 5 0 17 0 13 0 99 0 8 0-694 1 94 0 252 0 15 0 31 0 72 0 41 0 110 0 16 0 30 0 43 0 27 0 5 0 20 0 5 0-755 1 26 0 29 0 4 0 125 0 37 0 118 0 71 0 149 0 31 0 2 0 86 0 6 0 72 0-741 1 45 0 33 0 126 0 60 0 96 0 128 0 87 0 39 0 36 0 53 0 18 0 5 0 9 0-762 1 25 0 6 0 53 0 1 0 26 0 20 0 19 0 9 0 19 0 53 0 7 0 96 0 17 0 44 0 28 0 17 0 19 0 97 0 50 0 150 0 1 0-750 1 3 0 5 0 159 0 121 0 54 0 17 0 12 0 67 0 30 0 23 0 14 0 34 0 49 0 76 0 85 0 2 0 7 0 1 0-768 1 9 0 14 0 24 0 78 0 1 0 45 0 46 0 98 0 14 0 9 0 48 0 15 0 57 0 140 0 53 0 89 0 7 0 13 0 2 0 2 0-766 1 29 0 60 0 30 0 30 0 137 0 95 0 14 0 19 0 20 0 86 0 108 0 28 0 48 0 64 0-759 1 6 0 6 0 21 0 69 0 33 0 34 0 63 0 48 0 24 0 50 0 61 0 24 0 93 0 2 0 139 0 75 0-755 1 53 0 58 0 18 0 90 0 44 0 37 0 3 0 83 0 121 0 70 0 39 0 57 0 65 0 2 0 15 0 10 0 2 0-760 1 3 0 47 0 20 0 14 0 345 0 36 0 3 0 3 0 6 0 17 0 33 0 184 0 22 0 19 0-757 1 13 0 7 0 5 0 14 0 2 0 67 0 211 0 19 0 11 0 16 0 291 0 74 0 30 0-754 1 133 0 75 0 104 0 73 0 7 0 1 0 10 0 128 0 45 0 47 0 44 0 54 0 19 0 4 0 1 0-717 1 5 0 13 0 32 0 12 0 7 0 17 0 27 0 31 0 4 0 157 0 120 0 50 0 4 0 46 0 21 0 10 0 3 0 72 0 36 0 15 0 2 0 38 0 2 0 2 0 3 0-757 1 8 0 5 0 23 0 235 0 46 0 34 0 155 0 117 0 50 0 54 0 4 0-736 1 8 0 6 0 19 0 45 0 45 0 152 0 25 0 62 0 114 0 46 0 30 0 45 0 51 0 71 0 19 0 3 0 11 0 1 0 8 0-760 1 11 0 95 0 46 0 137 0 133 0 5 0 81 0 165 0 42 0 21 0 3 0 21 0-762 1 2 0 5 0 155 0 96 0 37 0 40 0 13 0 54 0 69 0 145 0 53 0 24 0 5 0 32 0 1 0 8 0 3 0 3 0-744 1 1 0 11 0 43 0 301 0 34 0 46 0 1 0 25 0 34 0 5 0 25 0 10 0 174 0 45 0 2 0-756 1 15 0 34 0 3 0 41 0 94 0 21 0 120 0 74 0 19 0 3 0 135 0 90 0 60 0 48 0-703 1 82 0 3 0 37 0 123 0 11 0 6 0 3 0 53 0 3 0 18 0 8 0 111 0 46 0 26 0 114 0 19 0 27 0 2 0 9 0-723 1 33 0 14 0 10 0 9 0 3 0 3 0 13 0 17 0 45 0 22 0 99 0 102 0 160 0 3 0 33 0 68 0 69 0 13 0 5 0-753 1 2 0 5 0 16 0 12 0 61 0 151 0 70 0 13 0 13 0 43 0 14 0 58 0 133 0 31 0 45 0 26 0 19 0 26 0 13 0-668 1 2 0 90 0 68 0 17 0 14 0 39 0 42 0 40 0 28 0 37 0 278 0 16 0-748 1 9 0 3 0 32 0 39 0 12 0 4 0 95 0 8 0 50 0 4 0 60 0 1 0 3 0 193 0 15 0 126 0 21 0 71 0-749 1 164 0 22 0 94 0 23 0 35 0 73 0 87 0 55 0 49 0 95 0 17 0 15 0 15 0 1 0-744 1 5 0 23 0 31 0 44 0 101 0 50 0 137 0 21 0 122 0 157 0 12 0 28 0-732 1 36 0 35 0 40 0 10 0 363 0 33 0 8 0 71 0 19 0 36 0 41 0 21 0 16 0 1 0 1 0 12 0-731 1 303 0 13 0 18 0 129 0 12 0 64 0 17 0 34 0 22 0 31 0 24 0 54 0 17 0-747 1 107 0 119 0 405 0 10 0 77 0 2 0-723 1 28 0 70 0 22 0 61 0 1 0 5 0 62 0 1 0 39 0 15 0 9 0 125 0 31 0 22 0 22 0 5 0 38 0 103 0 27 0-625 1 24 0 50 0 57 0 112 0 20 0 7 0 189 0 11 0 11 0 108 0 71 0 4 0 7 0 1 0 11 0 2 0 3 0-740 1 6 0 40 0 178 0 31 0 124 0 191 0 14 0 68 0 32 0 3 0 20 0 4 0 13 0 9 0 5 0-735 1 1 0 30 0 16 0 10 0 66 0 26 0 16 0 23 0 109 0 24 0 9 0 115 0 76 0 25 0 46 0 34 0 38 0 20 0 22 0 13 0 1 0 11 0-740 1 2 0 7 0 48 0 16 0 58 0 34 0 107 0 15 0 55 0 17 0 19 0 127 0 133 0 49 0 10 0 10 0 10 0-713 1 5 0 1 0 123 0 69 0 165 0 2 0 2 0 82 0 58 0 10 0 10 0 63 0 47 0 93 0-725 1 5 0 176 0 48 0 44 0 51 0 142 0 2 0 79 0 168 0-723 1 126 0 27 0 3 0 104 0 11 0 112 0 102 0 112 0 26 0 116 0-737 1 1 0 2 0 251 0 12 0 85 0 268 0 17 0 79 0-712 1 42 0 64 0 28 0 53 0 20 0 5 0 127 0 8 0 202 0 120 0 33 0-700 1 4 0 1 0 9 0 71 0 13 0 92 0 133 0 28 0 12 0 158 0 20 0 56 0 66 0 4 0 42 0 4 0 17 0-732 1 2 0 41 0 84 0 240 0 48 0 197 0 101 0 19 0-728 1 4 0 4 0 10 0 10 0 25 0 60 0 2 0 29 0 31 0 2 0 47 0 6 0 3 0 98 0 105 0 23 0 153 0 82 0 6 0 7 0-713 1 12 0 34 0 80 0 15 0 38 0 31 0 30 0 101 0 1 0 94 0 61 0 16 0 39 0 10 0 26 0 38 0 2 0 12 0 28 0 25 0 22 0 16 0-729 1 3 0 1 0 52 0 7 0 78 0 99 0 34 0 171 0 80 0 5 0 15 0 165 0 9 0 4 0 8 0-681 1 27 0 25 0 110 0 18 0 8 0 298 0 122 0 31 0 35 0 2 0 3 0-720 1 15 0 121 0 140 0 146 0 6 0 40 0 107 0 35 0 5 0-626 1 43 0 69 0 140 0 100 0 7 0 13 0 152 0 17 0 61 0 77 0 10 0 32 0 2 0 9 0-702 1 145 0 27 0 39 0 5 0 222 0 57 0 13 0 105 0 15 0 66 0 2 0-724 1 14 0 33 0 65 0 123 0 75 0 32 0 45 0 88 0 108 0 125 0 9 0 8 0-725 1 7 0 7 0 2 0 28 0 82 0 97 0 25 0 80 0 49 0 37 0 21 0 12 0 137 0 5 0 60 0 38 0 24 0 17 0 2 0-725 1 2 0 59 0 12 0 19 0 35 0 108 0 30 0 169 0 42 0 176 0 6 0-657 1 2 0 3 0 1 0 13 0 3 0 112 0 14 0 34 0 43 0 254 0 135 0 13 0 1 0 46 0 48 0-726 1 6 0 2 0 30 0 93 0 120 0 41 0 25 0 40 0 99 0 31 0 130 0 1 0 1 0-591 1 256 0 60 0 98 0 124 0 120 0 6 0-658 1 5 0 79 0 10 0 185 0 29 0 96 0 71 0 2 0 1 0 15 0 26 0 40 0 24 0 8 0 39 0 24 0 3 0-680 1 48 0 56 0 114 0 5 0 172 0 79 0 93 0 105 0 9 0 12 0 4 0-683 1 147 0 47 0 103 0 16 0 58 0 76 0 51 0 9 0 15 0 7 0 15 0 81 0 71 0 3 0-702 1 19 0 14 0 21 0 33 0 13 0 18 0 30 0 211 0 131 0 5 0 66 0 39 0 26 0 12 0 32 0 5 0 20 0-679 1 5 0 30 0 62 0 73 0 5 0 36 0 96 0 220 0 92 0 20 0 24 0-689 1 14 0 79 0 85 0 44 0 45 0 72 0 40 0 31 0 2 0 9 0 41 0 32 0 2 0 121 0 82 0 4 0 2 0 2 0-616 1 29 0 18 0 16 0 41 0 93 0 62 0 30 0 225 0 70 0 33 0 4 0 1 0-722 1 4 0 3 0 25 0 17 0 12 0 9 0 27 0 204 0 33 0 4 0 99 0 59 0 41 0 46 0 34 0 76 0 23 0-701 1 123 0 40 0 43 0 111 0 253 0 28 0 4 0 87 0 7 0 10 0-719 1 7 0 27 0 1 0 14 0 37 0 58 0 29 0 52 0 54 0 39 0 80 0 90 0 43 0 2 0 39 0 142 0 4 0 1 0-721 1 3 0 10 0 17 0 184 0 37 0 77 0 164 0 60 0 4 0 104 0 37 0 6 0 15 0-717 1 9 0 59 0 1 0 15 0 4 0 9 0 21 0 217 0 24 0 23 0 13 0 121 0 191 0 6 0-712 1 4 0 1 0 10 0 201 0 18 0 76 0 14 0 55 0 1 0 55 0 60 0 51 0 114 0 1 0 34 0-695 1 6 0 87 0 423 0 7 0 102 0 84 0 5 0 3 0-710 1 5 0 138 0 83 0 20 0 28 0 41 0 35 0 168 0 14 0 41 0 60 0 36 0-671 1 40 0 33 0 1 0 17 0 81 0 139 0 20 0 10 0 101 0 139 0 18 0 88 0 3 0 20 0-704 1 1 0 17 0 6 0 213 0 19 0 108 0 77 0 88 0 13 0 15 0 3 0 10 0 67 0 59 0-700 1 7 0 16 0 129 0 1 0 85 0 23 0 48 0 14 0 109 0 41 0 9 0 15 0 176 0 33 0-707 1 2 0 2 0 21 0 106 0 11 0 158 0 30 0 26 0 186 0 22 0 28 0 52 0 61 0 4 0-711 1 87 0 250 0 39 0 21 0 75 0 45 0 15 0 81 0 3 0 90 0-705 1 6 0 15 0 20 0 4 0 1 0 101 0 13 0 15 0 90 0 67 0 42 0 38 0 80 0 3 0 96 0 89 0 26 0-697 1 25 0 48 0 202 0 45 0 43 0 52 0 164 0 68 0 38 0-697 1 4 0 2 0 3 0 1 0 14 0 4 0 16 0 150 0 3 0 161 0 59 0 8 0 49 0 192 0-658 1 117 0 21 0 24 0 24 0 182 0 38 0 289 0 1 0 1 0-696 1 7 0 22 0 19 0 44 0 34 0 29 0 125 0 7 0 23 0 9 0 24 0 5 0 66 0 55 0 151 0 7 0 70 0-705 1 8 0 5 0 55 0 114 0 38 0 28 0 64 0 71 0 105 0 103 0 97 0 13 0-698 1 14 0 9 0 53 0 49 0 19 0 12 0 63 0 96 0 35 0 20 0 1 0 98 0 25 0 59 0 138 0-685 1 135 0 186 0 8 0 51 0 36 0 58 0 58 0 69 0 5 0 35 0 39 0 8 0 3 0-696 1 40 0 90 0 184 0 17 0 38 0 18 0 127 0 80 0 10 0 3 0 2 0 66 0 6 0 23 0-705 1 31 0 75 0 39 0 10 0 52 0 16 0 51 0 14 0 240 0 175 0-674 1 131 0 76 0 62 0 42 0 7 0 39 0 76 0 27 0 116 0 32 0 9 0 30 0-672 1 119 0 59 0 25 0 101 0 55 0 29 0 48 0 21 0 9 0 56 0 9 0 32 0 39 0 15 0 24 0 20 0 33 0-661 1 3 0 11 0 38 0 33 0 149 0 13 0 3 0 84 0 154 0 14 0 5 0 133 0-672 1 42 0 3 0 10 0 82 0 122 0 15 0 60 0 304 0 35 0 21 0-689 1 20 0 24 0 204 0 25 0 47 0 4 0 51 0 113 0 53 0 92 0 37 0 3 0-672 1 13 0 127 0 7 0 11 0 34 0 1 0 116 0 16 0 362 0-690 1 11 0 8 0 32 0 8 0 52 0 118 0 3 0 27 0 21 0 147 0 167 0 41 0 14 0 7 0 32 0-691 1 3 0 3 0 19 0 29 0 76 0 28 0 102 0 21 0 77 0 94 0 76 0 89 0 10 0 8 0 60 0-693 1 36 0 40 0 36 0 350 0 37 0 102 0 10 0 58 0 24 0-666 1 17 0 42 0 2 0 99 0 65 0 29 0 108 0 6 0 11 0 117 0 96 0 9 0 34 0 31 0-694 1 6 0 132 0 5 0 121 0 245 0 103 0 80 0-688 1 3 0 79 0 7 0 33 0 13 0 60 0 154 0 283 0 26 0-659 1 4 0 18 0 1 0 9 0 7 0 11 0 77 0 33 0 112 0 73 0 19 0 6 0 63 0 33 0 40 0 134 0 9 0 12 0 20 0 7 0-680 1 50 0 5 0 35 0 130 0 2 0 38 0 146 0 58 0 1 0 66 0 16 0 79 0 18 0 9 0 25 0 3 0 1 0-681 1 4 0 54 0 147 0 38 0 14 0 94 0 15 0 33 0 183 0 60 0 31 0-684 1 5 0 13 0 103 0 109 0 238 0 49 0 14 0 82 0 20 0 26 0 21 0 2 0 1 0 9 0-692 1 13 0 35 0 73 0 41 0 7 0 15 0 24 0 52 0 54 0 6 0 46 0 3 0 52 0 94 0 3 0 38 0 122 0-671 1 116 0 50 0 27 0 57 0 33 0 40 0 42 0 22 0 9 0 80 0 63 0 38 0 12 0 50 0 39 0-618 1 30 0 112 0 10 0 32 0 17 0 37 0 69 0 39 0 71 0 51 0 35 0 28 0 1 0 36 0 26 0 3 0-657 1 4 0 6 0 2 0 2 0 3 0 18 0 12 0 17 0 16 0 47 0 186 0 7 0 8 0 92 0 64 0 2 0 180 0 14 0 2 0-670 1 40 0 4 0 43 0 136 0 7 0 29 0 56 0 30 0 3 0 10 0 147 0 12 0 51 0 17 0 61 0 8 0 11 0-679 1 3 0 1 0 290 0 43 0 31 0 8 0 178 0 90 0 32 0-676 1 18 0 109 0 55 0 32 0 83 0 12 0 288 0 2 0 52 0 22 0-668 1 1 0 5 0 68 0 25 0 68 0 28 0 35 0 53 0 12 0 123 0 2 0 1 0 1 0 72 0 4 0 158 0 7 0-670 1 54 0 3 0 9 0 85 0 2 0 25 0 196 0 40 0 198 0 11 0 16 0 43 0-675 1 6 0 56 0 2 0 87 0 23 0 241 0 102 0 11 0 32 0 104 0 3 0-666 1 2 0 86 0 72 0 42 0 143 0 47 0 6 0 12 0 21 0 3 0 13 0 172 0 50 0 1 0 1 0-655 1 109 0 47 0 76 0 18 0 78 0 44 0 5 0 149 0 110 0 8 0 11 0 4 0-652 1 8 0 6 0 67 0 90 0 9 0 37 0 15 0 50 0 200 0 128 0 42 0-641 1 4 0 7 0 144 0 21 0 186 0 217 0 48 0 13 0 1 0-673 1 10 0 18 0 21 0 18 0 198 0 5 0 14 0 10 0 109 0 60 0 87 0 21 0 2 0 16 0 53 0-649 1 83 0 39 0 17 0 45 0 130 0 51 0 19 0 15 0 96 0 7 0 18 0 72 0 75 0-654 1 20 0 26 0 19 0 79 0 21 0 85 0 2 0 129 0 13 0 118 0 4 0 11 0 87 0 9 0 22 0 9 0 1 0 6 0 2 0-675 1 2 0 17 0 188 0 7 0 39 0 21 0 27 0 94 0 110 0 91 0 36 0 44 0 2 0-675 1 1 0 89 0 87 0 62 0 53 0 17 0 62 0 19 0 255 0 20 0-665 1 152 0 81 0 2 0 19 0 189 0 6 0 2 0 68 0 42 0 101 0 11 0-671 1 19 0 48 0 57 0 72 0 111 0 21 0 54 0 64 0 17 0 18 0 31 0 27 0 128 0-668 1 4 0 10 0 76 0 40 0 77 0 56 0 52 0 23 0 44 0 199 0 6 0 13 0 59 0 4 0 1 0-653 1 154 0 27 0 14 0 16 0 126 0 25 0 15 0 67 0 19 0 57 0 18 0 93 0 25 0 5 0-674 1 3 0 36 0 49 0 7 0 26 0 12 0 9 0 32 0 57 0 66 0 48 0 26 0 28 0 22 0 58 0 39 0 6 0 81 0 4 0 42 0-647 1 19 0 59 0 68 0 91 0 65 0 46 0 13 0 105 0 108 0 17 0 9 0-435 1 19 0 23 0 65 0 15 0 221 0 68 0 27 0 62 0 1 0-666 1 10 0 26 0 214 0 13 0 262 0 12 0 38 0 3 0 21 0 10 0 59 0-670 1 16 0 19 0 13 0 132 0 76 0 6 0 6 0 47 0 20 0 5 0 30 0 4 0 33 0 230 0 7 0 13 0-658 1 12 0 11 0 71 0 17 0 41 0 20 0 26 0 22 0 13 0 31 0 23 0 10 0 36 0 22 0 18 0 36 0 39 0 76 0 47 0 82 0 13 0-654 1 3 0 365 0 5 0 63 0 84 0 32 0 99 0-661 1 50 0 8 0 5 0 98 0 76 0 23 0 14 0 35 0 27 0 8 0 70 0 76 0 65 0 52 0 46 0 11 0-665 1 4 0 11 0 36 0 55 0 179 0 28 0 22 0 16 0 81 0 23 0 1 0 110 0 22 0 14 0 17 0-556 1 37 0 21 0 27 0 82 0 23 0 20 0 28 0 12 0 9 0 21 0 80 0 121 0 40 0 25 0 30 0-636 1 20 0 19 0 173 0 13 0 27 0 67 0 1 0 21 0 58 0 105 0 58 0 18 0 84 0-661 1 1 0 79 0 34 0 48 0 55 0 7 0 150 0 46 0 14 0 4 0 53 0 58 0 10 0 34 0 9 0 10 0 8 0 26 0-648 1 5 0 136 0 105 0 79 0 13 0 63 0 108 0 9 0 121 0 17 0 7 0-660 1 140 0 16 0 84 0 136 0 59 0 26 0 18 0 7 0 28 0 31 0 103 0 9 0-634 1 97 0 52 0 48 0 127 0 105 0 33 0 3 0 1 0 63 0 28 0 3 0 32 0 9 0-621 1 15 0 27 0 10 0 29 0 2 0 9 0 45 0 3 0 6 0 22 0 28 0 2 0 32 0 12 0 10 0 13 0 26 0 46 0 8 0 18 0 42 0 35 0 107 0 91 0-644 1 53 0 65 0 5 0 173 0 75 0 26 0 1 0 81 0 32 0 2 0 82 0 48 0 10 0-655 1 4 0 1 0 5 0 11 0 48 0 56 0 94 0 51 0 137 0 24 0 31 0 20 0 27 0 5 0 19 0 14 0 10 0 34 0 46 0-633 1 10 0 14 0 39 0 50 0 170 0 221 0 57 0 50 0 44 0-657 1 26 0 66 0 40 0 140 0 8 0 34 0 112 0 8 0 40 0 69 0 34 0 1 0 11 0 71 0-640 1 14 0 20 0 45 0 65 0 4 0 8 0 171 0 11 0 155 0 125 0 3 0 7 0-616 1 111 0 51 0 90 0 6 0 133 0 58 0 27 0 124 0 19 0-638 1 1 0 31 0 31 0 184 0 90 0 128 0 44 0 10 0 54 0 4 0 66 0 2 0-652 1 12 0 85 0 23 0 8 0 33 0 37 0 133 0 26 0 141 0 50 0 72 0 18 0-637 1 1 0 7 0 1 0 7 0 4 0 15 0 55 0 53 0 26 0 157 0 30 0 10 0 61 0 135 0 3 0 47 0 23 0 6 0 6 0-652 1 2 0 4 0 4 0 10 0 13 0 61 0 14 0 42 0 36 0 8 0 49 0 105 0 64 0 132 0 3 0 40 0 50 0 8 0 10 0-643 1 63 0 98 0 120 0 16 0 4 0 106 0 218 0 2 0 4 0-635 1 38 0 49 0 25 0 14 0 74 0 31 0 67 0 41 0 39 0 219 0 8 0 40 0-619 1 7 0 36 0 4 0 32 0 49 0 18 0 5 0 6 0 21 0 97 0 83 0 8 0 58 0 3 0 180 0 11 0-646 1 4 0 3 0 69 0 32 0 46 0 161 0 68 0 124 0 1 0 34 0 19 0 39 0-603 1 30 0 43 0 4 0 16 0 32 0 33 0 57 0 24 0 120 0 18 0 55 0 61 0 40 0 15 0 21 0-570 1 35 0 109 0 90 0 33 0 183 0 36 0 52 0 73 0 27 0-626 1 5 0 40 0 33 0 56 0 8 0 48 0 3 0 72 0 14 0 66 0 35 0 132 0 61 0 12 0 19 0 30 0-567 1 44 0 21 0 52 0 170 0 31 0 11 0 52 0 9 0 58 0 29 0 7 0 86 0-627 1 8 0 116 0 18 0 114 0 20 0 71 0 68 0 31 0 10 0 8 0 28 0 20 0 71 0 2 0 17 0 17 0 1 0-633 1 20 0 14 0 81 0 22 0 1 0 33 0 7 0 109 0 78 0 37 0 112 0 94 0 19 0-634 1 19 0 35 0 10 0 32 0 18 0 48 0 74 0 62 0 47 0 230 0 5 0-580 1 20 0 56 0 2 0 21 0 36 0 62 0 18 0 65 0 208 0 48 0 2 0 26 0 41 0 9 0 24 0 1 0 4 0-638 1 7 0 2 0 2 0 33 0 78 0 102 0 17 0 58 0 78 0 46 0 48 0 3 0 37 0 19 0 47 0 58 0-626 1 1 0 41 0 20 0 158 0 135 0 72 0 18 0 151 0 16 0-616 1 116 0 5 0 115 0 34 0 28 0 65 0 229 0 45 0-641 1 9 0 103 0 213 0 46 0 5 0 46 0 2 0 118 0 25 0 2 0 5 0 15 0 38 0 1 0 12 0-629 1 21 0 82 0 38 0 11 0 32 0 15 0 58 0 58 0 46 0 9 0 19 0 147 0 81 0 1 0-625 1 3 0 1 0 5 0 1 0 128 0 1 0 19 0 62 0 1 0 44 0 69 0 5 0 22 0 33 0 98 0 5 0 88 0 36 0 12 0-635 1 1 0 10 0 1 0 7 0 3 0 3 0 276 0 62 0 56 0 188 0 6 0 2 0 15 0 5 0-636 1 1 0 15 0 8 0 4 0 51 0 195 0 15 0 1 0 9 0 126 0 187 0 20 0 4 0-636 1 1 0 1 0 3 0 4 0 98 0 56 0 73 0 53 0 8 0 86 0 11 0 50 0 32 0 12 0 112 0 1 0 29 0 2 0 5 0-633 1 9 0 18 0 44 0 184 0 103 0 31 0 29 0 45 0 119 0 12 0 4 0 22 0 8 0-619 1 6 0 41 0 7 0 22 0 78 0 89 0 11 0 59 0 17 0 51 0 22 0 50 0 122 0-583 1 20 0 139 0 48 0 81 0 66 0 128 0 63 0 7 0 18 0 6 0-555 1 97 0 115 0 7 0 9 0 87 0 11 0 6 0 7 0 35 0 2 0 8 0 115 0 18 0 57 0 6 0 25 0-629 1 20 0 6 0 172 0 23 0 18 0 307 0 19 0 50 0 17 0-597 1 23 0 104 0 22 0 281 0 167 0-634 1 1 0 46 0 167 0 57 0 12 0 6 0 14 0 44 0 105 0 1 0 21 0 65 0 50 0 23 0-607 1 65 0 6 0 304 0 98 0 143 0 1 0 10 0 3 0-544 1 119 0 17 0 27 0 77 0 20 0 2 0 4 0 1 0 9 0 48 0 18 0 8 0 7 0 39 0 12 0 15 0 120 0-628 1 23 0 124 0 7 0 6 0 35 0 6 0 10 0 50 0 125 0 7 0 145 0 10 0 45 0 14 0 6 0 5 0 2 0-617 1 15 0 9 0 10 0 67 0 67 0 25 0 6 0 18 0 122 0 38 0 83 0 61 0 9 0 1 0 63 0 18 0-555 1 73 0 7 0 56 0 67 0 69 0 28 0 34 0 87 0 55 0 77 0 13 0-619 1 173 0 61 0 52 0 6 0 171 0 51 0 4 0 102 0-619 1 5 0 22 0 38 0 35 0 53 0 85 0 24 0 10 0 112 0 1 0 16 0 79 0 6 0 24 0 52 0 24 0 27 0-606 1 9 0 10 0 33 0 45 0 26 0 5 0 22 0 14 0 80 0 135 0-394 1 11 0 48 0 2 0 92 0 28 0 68 0 7 0 36 0 18 0 6 0 29 0 50 0 133 0 8 0 82 0 3 0-556 1 63 0 11 0 44 0 36 0 20 0 82 0 22 0 66 0 14 0 4 0 72 0 5 0 118 0-595 1 6 0 54 0 180 0 8 0 15 0 20 0 114 0 2 0 111 0 75 0 2 0 8 0-612 1 16 0 33 0 20 0 141 0 84 0 47 0 17 0 3 0 151 0 19 0 57 0 12 0 6 0 7 0-624 1 99 0 193 0 46 0 88 0 40 0 30 0 62 0 40 0 10 0 7 0 2 0 3 0 6 0-616 1 220 0 89 0 76 0 14 0 17 0 123 0 57 0-603 1 57 0 12 0 200 0 11 0 137 0 31 0 137 0 27 0-610 1 95 0 30 0 76 0 62 0 42 0 45 0 80 0 23 0 45 0 86 0 8 0 28 0-618 1 170 0 126 0 69 0 141 0 74 0 27 0 2 0-604 1 3 0 72 0 14 0 33 0 25 0 4 0 115 0 64 0 5 0 3 0 55 0 172 0 44 0-615 1 1 0 50 0 25 0 110 0 7 0 42 0 10 0 4 0 10 0 108 0 25 0 78 0 97 0 2 0 49 0-611 1 11 0 33 0 256 0 8 0 11 0 12 0 27 0 35 0 64 0 40 0 80 0 21 0 10 0-610 1 208 0 89 0 8 0 8 0 46 0 17 0 69 0 32 0 130 0 2 0-614 1 24 0 24 0 8 0 37 0 6 0 78 0 59 0 1 0 60 0 2 0 9 0 3 0 7 0 5 0 16 0 11 0 49 0 66 0 50 0 93 0-604 1 86 0 25 0 53 0 30 0 3 0 1 0 56 0 50 0 98 0 89 0 8 0 70 0 33 0 2 0-598 1 79 0 30 0 9 0 26 0 101 0 19 0 84 0 50 0 45 0 88 0 33 0 42 0-613 1 207 0 14 0 192 0 1 0 6 0 39 0 8 0 106 0 29 0 6 0 6 0-616 1 9 0 8 0 10 0 342 0 2 0 125 0 3 0 77 0 9 0 22 0 8 0-612 1 35 0 3 0 132 0 17 0 64 0 19 0 29 0 46 0 7 0 20 0 23 0 5 0 6 0 41 0 13 0 1 0 20 0 36 0 26 0 17 0 20 0 27 0 2 0-610 1 9 0 165 0 76 0 27 0 8 0 12 0 68 0 24 0 7 0 7 0 110 0-347 1 14 0 27 0 8 0 33 0 45 0 5 0 8 0 23 0 1 0 10 0 50 0 33 0 4 0 127 0 57 0-614 1 8 0 13 0 16 0 42 0 122 0 41 0 76 0 73 0 25 0 120 0-508 1 125 0 121 0 70 0 80 0 10 0 19 0 126 0 33 0-584 1 102 0 98 0 346 0-565 1 40 0 15 0 196 0 4 0 116 0 144 0 11 0 52 0-580 1 8 0 20 0 156 0 119 0 88 0 44 0 94 0 66 0 2 0 1 0-603 1 13 0 73 0 67 0 43 0 130 0 46 0 222 0-589 1 160 0 1 0 34 0 1 0 40 0 139 0 45 0 17 0 17 0 139 0 12 0-581 1 44 0 34 0 58 0 84 0 1 0 35 0 26 0 53 0 23 0 22 0 190 0 4 0 5 0 2 0-609 1 7 0 14 0 53 0 42 0 150 0 61 0 11 0 20 0 3 0 21 0 76 0 94 0 32 0 8 0 5 0-569 1 42 0 28 0 45 0 52 0 14 0 38 0 25 0 18 0 10 0 17 0 53 0 7 0 27 0 61 0 73 0 41 0 18 0 10 0-606 1 3 0 6 0 33 0 5 0 121 0 10 0 24 0 79 0 126 0 37 0 39 0 41 0 57 0 18 0 6 0 1 0-587 1 156 0 36 0 118 0 164 0 11 0 59 0-514 1 8 0 23 0 59 0 1 0 12 0 7 0 31 0 22 0 48 0 2 0 99 0 19 0 13 0 110 0 22 0 26 0 10 0 20 0 13 0 11 0-529 1 4 0 43 0 228 0 13 0 4 0 25 0 54 0 53 0 17 0-489 1 15 0 238 0 64 0 96 0 12 0 100 0 4 0 21 0 12 0 8 0-597 1 22 0 20 0 9 0 145 0 7 0 54 0 19 0 6 0 41 0 78 0 24 0 17 0 36 0 10 0 21 0 85 0-586 1 31 0 11 0 9 0 2 0 113 0 93 0 27 0 41 0 45 0 38 0 26 0 81 0 19 0 50 0 1 0-591 1 109 0 75 0 17 0 20 0 22 0 10 0 4 0 62 0 36 0 43 0 17 0 11 0 7 0 24 0 25 0 16 0 14 0 11 0 5 0-530 1 12 0 64 0 186 0 99 0 40 0 80 0 6 0 44 0 9 0-530 1 183 0 6 0 77 0 68 0 46 0 29 0 44 0 74 0 33 0 4 0 11 0 10 0-588 1 5 0 1 0 20 0 47 0 96 0 59 0 178 0 142 0 27 0 1 0-582 1 5 0 19 0 38 0 2 0 112 0 29 0 15 0 9 0 10 0 68 0 2 0 150 0-291 1 26 0 78 0 42 0 275 0 3 0 4 0-594 1 1 0 16 0 22 0 23 0 74 0 10 0 30 0 15 0 12 0 8 0 10 0 63 0 11 0 13 0 3 0 6 0 13 0 55 0 103 0 4 0 94 0 2 0 1 0-589 1 5 0 219 0 43 0 62 0 29 0 26 0 3 0 1 0 19 0 5 0 57 0 88 0 26 0 1 0 11 0-549 1 55 0 3 0 17 0 98 0 24 0 81 0 58 0 18 0 80 0 113 0-539 1 206 0 11 0 42 0 13 0 22 0 19 0 4 0 24 0 4 0 13 0 6 0 19 0 16 0 51 0 85 0-586 1 4 0 229 0 1 0 64 0 17 0 15 0 37 0 48 0 8 0 40 0 18 0 27 0 75 0 6 0-591 1 9 0 142 0 59 0 39 0 62 0 5 0 38 0 97 0 32 0 30 0 19 0 27 0 5 0-406 1 97 0 109 0 46 0 43 0 33 0 18 0 56 0 26 0 4 0-517 1 37 0 203 0 20 0 88 0 28 0 6 0 49 0 47 0 3 0 11 0 11 0 8 0 4 0 2 0-570 1 4 0 3 0 113 0 8 0 36 0 40 0 36 0 8 0 53 0 11 0 13 0 89 0 114 0 25 0-573 1 7 0 2 0 7 0 1 0 134 0 34 0 89 0 33 0 7 0 22 0 47 0 10 0 3 0 7 0 40 0 1 0 81 0 46 0 4 0-503 1 22 0 12 0 80 0 50 0 63 0 19 0 61 0 43 0 20 0 13 0 57 0 35 0 18 0 20 0 2 0-584 1 40 0 44 0 15 0 31 0 45 0 33 0 13 0 1 0 46 0 9 0 16 0 78 0 82 0 94 0 5 0-552 1 2 0 63 0 50 0 31 0 40 0 71 0 1 0 23 0 11 0 33 0 2 0 30 0 41 0 16 0 66 0 51 0 38 0 17 0-587 1 4 0 4 0 22 0 47 0 63 0 46 0 30 0 15 0 30 0 132 0 2 0 57 0 135 0-587 1 90 0 37 0 17 0 157 0 2 0 122 0 10 0 26 0 101 0 19 0-576 1 11 0 6 0 42 0 23 0 81 0 62 0 51 0 28 0 12 0 37 0 5 0 46 0 71 0 41 0 60 0-580 1 8 0 16 0 238 0 78 0 113 0 98 0 19 0 2 0 7 0 3 0 4 0-585 1 7 0 156 0 12 0 2 0 5 0 38 0 25 0 85 0 76 0 4 0 16 0 10 0 32 0 11 0 90 0 3 0-565 1 18 0 29 0 81 0 153 0 13 0 11 0 6 0 104 0 43 0 5 0 5 0 16 0 76 0 11 0-571 1 31 0 89 0 36 0 169 0 18 0 87 0 21 0 105 0-553 1 100 0 14 0 2 0 105 0 21 0 93 0 2 0 33 0 11 0 40 0 65 0 30 0 20 0 1 0 14 0 2 0 7 0 7 0-573 1 100 0 128 0 11 0 85 0 97 0 19 0 1 0 59 0-503 1 26 0 51 0 75 0 6 0 103 0 114 0 2 0 28 0 18 0 53 0 34 0 41 0 5 0 24 0 1 0-576 1 67 0 49 0 97 0 44 0 65 0 78 0 3 0 17 0 63 0 61 0 1 0 24 0-544 1 71 0 252 0 18 0 5 0 157 0 11 0 8 0 27 0-576 1 11 0 5 0 18 0 73 0 107 0 18 0 19 0 15 0 12 0 108 0 3 0 41 0 15 0 32 0 88 0-556 1 79 0 2 0 45 0 20 0 47 0 101 0 26 0 59 0 15 0 67 0 70 0 16 0 13 0-535 1 15 0 6 0 22 0 109 0 113 0 2 0 81 0 17 0 3 0 2 0 143 0 23 0-570 1 100 0 13 0 45 0 74 0 1 0 80 0 138 0 69 0 2 0 26 0-546 1 5 0 2 0 5 0 4 0 6 0 2 0 140 0 53 0 131 0 48 0 62 0 29 0 74 0-508 1 98 0 6 0 77 0 7 0 65 0 4 0 137 0 20 0 76 0 23 0 2 0 2 0-566 1 2 0 17 0 120 0 86 0 71 0 76 0 138 0 36 0 21 0-571 1 11 0 33 0 41 0 34 0 34 0 75 0 19 0 57 0 5 0 38 0 118 0 7 0 57 0 4 0-525 1 5 0 135 0 60 0 130 0 56 0 11 0 19 0 91 0 44 0-499 1 84 0 1 0 39 0 5 0 10 0 22 0 132 0 69 0 31 0 113 0-559 1 30 0 120 0 10 0 29 0 99 0 75 0 15 0 161 0 17 0-544 1 11 0 114 0 26 0 18 0 82 0 52 0 42 0 70 0 51 0 8 0 22 0 3 0 23 0 9 0 9 0 7 0 4 0 2 0-567 1 13 0 3 0 23 0 61 0 4 0 46 0 191 0 23 0 11 0 76 0 47 0 61 0 1 0 6 0-567 1 4 0 5 0 14 0 19 0 82 0 35 0 4 0 1 0 18 0 70 0 74 0 26 0 56 0 1 0 23 0 132 0-564 1 23 0 134 0 140 0 12 0 25 0 33 0 60 0 29 0 22 0 49 0 33 0 2 0-538 1 37 0 42 0 69 0 39 0 115 0 10 0 127 0 87 0 6 0 8 0-531 1 103 0 49 0 35 0 3 0 40 0 53 0 51 0 3 0 52 0 30 0 84 0 12 0 12 0-549 1 202 0 19 0 51 0 25 0 71 0 17 0 9 0 34 0 111 0 4 0 9 0-537 1 125 0 117 0 2 0 22 0 65 0 61 0 126 0-536 1 22 0 119 0 23 0 37 0 14 0 14 0 13 0 20 0 23 0 110 0 40 0 15 0 41 0 4 0 45 0-543 1 43 0 13 0 54 0 35 0 15 0 117 0 1 0 110 0 37 0 41 0-469 1 6 0 11 0 24 0 117 0 157 0 75 0 119 0 8 0 35 0 11 0-478 1 57 0 12 0 9 0 14 0 50 0 16 0 8 0 13 0 68 0 28 0 89 0 48 0 8 0 12 0 33 0 7 0 3 0-561 1 4 0 31 0 67 0 23 0 50 0 17 0 17 0 23 0 128 0 30 0 9 0 63 0 72 0 27 0-497 1 3 0 8 0 15 0 94 0 51 0 43 0 6 0 109 0 17 0 110 0 10 0 21 0 9 0-515 1 17 0 14 0 3 0 22 0 48 0 10 0 85 0 94 0 62 0 127 0 29 0 6 0-496 1 16 0 64 0 51 0 17 0 26 0 21 0 5 0 47 0 20 0 1 0 27 0 12 0 12 0 9 0 114 0 18 0-303 1 21 0 109 0 75 0 89 0 27 0-533 1 13 0 89 0 42 0 13 0 29 0 25 0 65 0 30 0 127 0 28 0 42 0 4 0 39 0 1 0 1 0-554 1 26 0 19 0 104 0 15 0 29 0 92 0 99 0 6 0 2 0 1 0 108 0 49 0-442 1 3 0 263 0 69 0 88 0 17 0 6 0-552 1 5 0 29 0 59 0 22 0 13 0 10 0 30 0 23 0 42 0 38 0 2 0 54 0 99 0 16 0 29 0 18 0 2 0 33 0 11 0 13 0 3 0-545 1 42 0 83 0 4 0 26 0 7 0 11 0 45 0 64 0 6 0 73 0 7 0 11 0 153 0-535 1 33 0 12 0 12 0 91 0 2 0 46 0 71 0 22 0 40 0 12 0 44 0 150 0 9 0 4 0-553 1 1 0 11 0 37 0 38 0 71 0 2 0 2 0 56 0 34 0 91 0 59 0 10 0 40 0 90 0 9 0-535 1 259 0 50 0 22 0 57 0 46 0 77 0 13 0 7 0-480 1 20 0 15 0 61 0 42 0 66 0 8 0 12 0 5 0 68 0 6 0 16 0 14 0 8 0 76 0 60 0 6 0-546 1 28 0 28 0 16 0 186 0 33 0 6 0 74 0 118 0 39 0 16 0-486 1 67 0 18 0 11 0 33 0 28 0 9 0 10 0 82 0 150 0 25 0 32 0 19 0-532 1 3 0 47 0 103 0 22 0 6 0 17 0 108 0 134 0 34 0 49 0 3 0-534 1 34 0 41 0 46 0 4 0 81 0 53 0 42 0 62 0 15 0 5 0 9 0 144 0 10 0-541 1 23 0 76 0 52 0 27 0 42 0 48 0 9 0 44 0 41 0 17 0 7 0 37 0 102 0 8 0-507 1 34 0 31 0 32 0 120 0 7 0 22 0 60 0 34 0 18 0 12 0 10 0 41 0 38 0 3 0 42 0 6 0 3 0-543 1 8 0 115 0 63 0 36 0 27 0 10 0 88 0 21 0 7 0 15 0 106 0 1 0 11 0 21 0 10 0 1 0-536 1 3 0 53 0 51 0 20 0 23 0 41 0 87 0 27 0 5 0 11 0 3 0 176 0 11 0 1 0 21 0 1 0 2 0-533 1 26 0 29 0 30 0 42 0 18 0 30 0 42 0 29 0 53 0 26 0 25 0 23 0 16 0 16 0 17 0-368 1 83 0 62 0 3 0 120 0 28 0 168 0 1 0-522 1 46 0 58 0 2 0 44 0 19 0 1 0 32 0 64 0 74 0 34 0 11 0 6 0 2 0 123 0 10 0-524 1 8 0 6 0 3 0 55 0 51 0 31 0 75 0 57 0 24 0 63 0 5 0 7 0 75 0 22 0 17 0 10 0 21 0 2 0-469 1 39 0 46 0 47 0 27 0 26 0 27 0 15 0 108 0 18 0 102 0-517 1 42 0 38 0 20 0 25 0 72 0 2 0 43 0 78 0 9 0 5 0 5 0 17 0 83 0 6 0 71 0 3 0 6 0-486 1 55 0 5 0 30 0 143 0 205 0 22 0 18 0 3 0 4 0 2 0-526 1 42 0 17 0 240 0 53 0 75 0 93 0-521 1 1 0 1 0 15 0 5 0 12 0 15 0 15 0 12 0 45 0 14 0 7 0 61 0 42 0 1 0 43 0 35 0 9 0 55 0 85 0 28 0 17 0 12 0-519 1 58 0 17 0 21 0 5 0 7 0 25 0 51 0 56 0 9 0 11 0 57 0 38 0 1 0 108 0 17 0 4 0 3 0-486 1 73 0 22 0 6 0 1 0 15 0 19 0 56 0 93 0 19 0 54 0 69 0 46 0 11 0 31 0-520 1 4 0 5 0 4 0 19 0 26 0 11 0 141 0 64 0 35 0 29 0 15 0 26 0 64 0 22 0 4 0 20 0 24 0-513 1 5 0 15 0 87 0 43 0 3 0 47 0 24 0 20 0 63 0 12 0 18 0 80 0 34 0 37 0 10 0-501 1 26 0 1 0 41 0 139 0 43 0 17 0 48 0 33 0 85 0 22 0 36 0 17 0 11 0 2 0 1 0-521 1 7 0 3 0 64 0 43 0 7 0 9 0 4 0 10 0 51 0 64 0 2 0 45 0 19 0 6 0 93 0 5 0 33 0 15 0 3 0 25 0 6 0-485 1 11 0 3 0 10 0 15 0 17 0 5 0 2 0 5 0 47 0 26 0 5 0 90 0 23 0 39 0 4 0 21 0 22 0 32 0 54 0 45 0 6 0-511 1 6 0 1 0 65 0 78 0 39 0 70 0 33 0 17 0 5 0 1 0 57 0 8 0 8 0 16 0 31 0 23 0 13 0 2 0 34 0-490 1 34 0 32 0 24 0 3 0 13 0 21 0 92 0 31 0 20 0 27 0 10 0 65 0 22 0 20 0 32 0-457 1 99 0 20 0 1 0 39 0 18 0 63 0 15 0 36 0 56 0 7 0 55 0 94 0 3 0-512 1 26 0 3 0 2 0 4 0 10 0 18 0 40 0 29 0 15 0 2 0 6 0 13 0 26 0 22 0 10 0 21 0 4 0 6 0 3 0 13 0 15 0 16 0 1 0 38 0 2 0 30 0 20 0 28 0 29 0 4 0 36 0 12 0-474 1 146 0 12 0 60 0 112 0 4 0 23 0 73 0 22 0 23 0 8 0 4 0-510 1 23 0 10 0 9 0 65 0 55 0 7 0 10 0 19 0 54 0 2 0 3 0 44 0 96 0 6 0 33 0 50 0 8 0 8 0 2 0-491 1 5 0 20 0 45 0 7 0 12 0 4 0 31 0 12 0 55 0 18 0 140 0 45 0 98 0-454 1 16 0 19 0 43 0 2 0 3 0 44 0 3 0 20 0 47 0 12 0 61 0 27 0 22 0 10 0 53 0 53 0-487 1 44 0 66 0 33 0 7 0 125 0 117 0 1 0 15 0 10 0 8 0 28 0 28 0 4 0 10 0 7 0-506 1 12 0 28 0 31 0 11 0 14 0 8 0 14 0 26 0 20 0 1 0 100 0 63 0 14 0 3 0 4 0 8 0 81 0 10 0 41 0 10 0 3 0-498 1 9 0 2 0 15 0 23 0 11 0 7 0 54 0 114 0 5 0 28 0 34 0 2 0 3 0 32 0 6 0 3 0 23 0 14 0 16 0 29 0 6 0 7 0 16 0 4 0 23 0 8 0-495 1 23 0 5 0 20 0 16 0 17 0 81 0 8 0 79 0 17 0 5 0 155 0 3 0 67 0 2 0 9 0-505 1 24 0 28 0 16 0 29 0 3 0 24 0 28 0 60 0 90 0 28 0 47 0 14 0 4 0 49 0 14 0 8 0 1 0 7 0 4 0-480 1 24 0 26 0 27 0 25 0 106 0 2 0 8 0 30 0 2 0 17 0 17 0 6 0 148 0 30 0 15 0-466 1 5 0 42 0 5 0 24 0 14 0 28 0 73 0 7 0 1 0 34 0 48 0 5 0 3 0 50 0 15 0 2 0 6 0 6 0 36 0 80 0-494 1 2 0 15 0 25 0 21 0 13 0 40 0 58 0 3 0 63 0 25 0 38 0 13 0 91 0 39 0 27 0-472 1 6 0 64 0 34 0 9 0 13 0 36 0 13 0 1 0 1 0 42 0 20 0 55 0 69 0 40 0 60 0 14 0 16 0 2 0-488 1 1 0 3 0 25 0 46 0 65 0 13 0 3 0 104 0 28 0 65 0 8 0 12 0 10 0 28 0 17 0 7 0 27 0 20 0 2 0 1 0-491 1 3 0 6 0 51 0 1 0 8 0 66 0 24 0 19 0 10 0 33 0 9 0 7 0 30 0 4 0 46 0 8 0 79 0 10 0 36 0 23 0 6 0-470 1 1 0 15 0 60 0 29 0 15 0 11 0 9 0 44 0 21 0 75 0 19 0 31 0 1 0 14 0 34 0 8 0 20 0 4 0 11 0 43 0 14 0-477 1 3 0 4 0 118 0 11 0 43 0 14 0 5 0 9 0 9 0 7 0 17 0 23 0 11 0 25 0 10 0 43 0 24 0 19 0 5 0 14 0 39 0 3 0 24 0-493 1 2 0 18 0 15 0 1 0 1 0 6 0 19 0 2 0 28 0 10 0 101 0 55 0 11 0 2 0 2 0 38 0 15 0 3 0 16 0 13 0 29 0 9 0 3 0 33 0 30 0 9 0 5 0-463 1 29 0 10 0 2 0 55 0 24 0 27 0 45 0 2 0 2 0 2 0 11 0 14 0 31 0 92 0 14 0 1 0 20 0 59 0 31 0 1 0 2 0-484 1 4 0 1 0 4 0 4 0 1 0 14 0 8 0 6 0 132 0 3 0 41 0 5 0 32 0 1 0 1 0 86 0 21 0 40 0 28 0 13 0-433 1 4 0 18 0 1 0 5 0 34 0 20 0 1 0 14 0 46 0 2 0 18 0 22 0 9 0 4 0 10 0 11 0 27 0 5 0 13 0 25 0 108 0 14 0 11 0 19 0 28 0 1 0 6 0-478 1 8 0 34 0 1 0 3 0 13 0 34 0 4 0 112 0 4 0 19 0 9 0 60 0 16 0 25 0 43 0 1 0 11 0 16 0 13 0 3 0 29 0 1 0 8 0 8 0-482 1 7 0 1 0 3 0 1 0 1 0 3 0 9 0 10 0 2 0 12 0 57 0 14 0 15 0 90 0 3 0 23 0 7 0 20 0 1 0 17 0 6 0 6 0 4 0 15 0 24 0 17 0 47 0 27 0 15 0 16 0-467 1 1 0 6 0 4 0 1 0 4 0 15 0 3 0 4 0 45 0 10 0 13 0 5 0 48 0 48 0 2 0 20 0 10 0 5 0 29 0 30 0 8 0 13 0 46 0 31 0 9 0 5 0 8 0 19 0 1 0 12 0 10 0 1 0 6 0 2 0 2 0-479 1 5 0 9 0 2 0 9 0 5 0 3 0 13 0 48 0 42 0 80 0 8 0 13 0 28 0 75 0 22 0 21 0 10 0 7 0 26 0 13 0 8 0 10 0 5 0 8 0 6 0-472 1 10 0 11 0 37 0 26 0 11 0 1 0 10 0 43 0 14 0 14 0 33 0 17 0 20 0 16 0 8 0 18 0 17 0 8 0 25 0 24 0 33 0 6 0 29 0 1 0 21 0-455 1 5 0 7 0 2 0 8 0 3 0 6 0 2 0 3 0 2 0 29 0 27 0 12 0 16 0 4 0 33 0 35 0 9 0 26 0 5 0 30 0 2 0 4 0 36 0 3 0 51 0 1 0 16 0 13 0 4 0 2 0 7 0 49 0 14 0 2 0-454 1 20 0 15 0 14 0 2 0 15 0 2 0 3 0 5 0 26 0 53 0 1 0 9 0 13 0 6 0 19 0 1 0 19 0 7 0 18 0 13 0 2 0 18 0 25 0 47 0 26 0 1 0 1 0 3 0 8 0 56 0 3 0 2 0 3 0-461 1 2 0 21 0 25 0 1 0 23 0 17 0 46 0 29 0 42 0 44 0 35 0 14 0 24 0 1 0 2 0 25 0 2 0 17 0 10 0 59 0 9 0 3 0 1 0-461 1 3 0 7 0 9 0 29 0 15 0 29 0 17 0 9 0 31 0 34 0 30 0 9 0 13 0 1 0 7 0 3 0 9 0 11 0 13 0 3 0 9 0 2 0 24 0 6 0 7 0 5 0 30 0 1 0 6 0 6 0 23 0 49 0 10 0 3 0 9 0-470 1 1 0 4 0 19 0 7 0 28 0 11 0 15 0 19 0 55 0 1 0 2 0 6 0 3 0 1 0 7 0 5 0 3 0 14 0 18 0 2 0 4 0 3 0 25 0 24 0 12 0 2 0 2 0 4 0 26 0 17 0 13 0 17 0 19 0 10 0 23 0 22 0 1 0 15 0 3 0 1 0 7 0-468 1 2 0 5 0 41 0 48 0 4 0 45 0 1 0 15 0 19 0 2 0 24 0 26 0 14 0 21 0 2 0 4 0 8 0 6 0 12 0 9 0 32 0 11 0 10 0 27 0 4 0 5 0 20 0 12 0 24 0 12 0 1 0 1 0-469 1 11 0 3 0 11 0 3 0 5 0 19 0 4 0 11 0 25 0 1 0 1 0 23 0 9 0 32 0 21 0 3 0 6 0 4 0 16 0 7 0 29 0 5 0 4 0 6 0 26 0 14 0 41 0 9 0 2 0 5 0 12 0 31 0 27 0 6 0 1 0 12 0 9 0 2 0-447 1 5 0 1 0 11 0 2 0 14 0 4 0 15 0 5 0 13 0 3 0 1 0 1 0 64 0 13 0 18 0 25 0 13 0 4 0 5 0 29 0 5 0 12 0 21 0 4 0 13 0 4 0 10 0 33 0 47 0 10 0 15 0 7 0 10 0 6 0 2 0 1 0 7 0 2 0-457 1 11 0 4 0 23 0 1 0 23 0 5 0 26 0 6 0 4 0 6 0 2 0 5 0 13 0 32 0 4 0 24 0 7 0 35 0 21 0 2 0 13 0 11 0 48 0 6 0 8 0 2 0 1 0 2 0 6 0 3 0 14 0 1 0 3 0 1 0 12 0 19 0 20 0 15 0 13 0-452 1 9 0 2 0 13 0 12 0 7 0 9 0 8 0 9 0 10 0 8 0 8 0 1 0 2 0 20 0 20 0 1 0 4 0 2 0 1 0 1 0 1 0 8 0 9 0 2 0 13 0 3 0 2 0 16 0 4 0 6 0 8 0 5 0 4 0 30 0 6 0 17 0 24 0 2 0 26 0 5 0 14 0 11 0 21 0 18 0 7 0 8 0 11 0 2 0 16 0 6 0 1 0 4 0-449 1 57 0 8 0 13 0 10 0 4 0 7 0 1 0 11 0 21 0 3 0 16 0 2 0 13 0 2 0 1 0 1 0 2 0 23 0 3 0 4 0 5 0 2 0 23 0 1 0 52 0 2 0 18 0 3 0 10 0 15 0 2 0 1 0 2 0 19 0 50 0 2 0 2 0 4 0 3 0 13 0 4 0 4 0 9 0-454 1 2 0 13 0 4 0 1 0 21 0 16 0 18 0 21 0 11 0 21 0 2 0 35 0 18 0 7 0 7 0 8 0 14 0 30 0 3 0 13 0 7 0 7 0 12 0 8 0 8 0 11 0 2 0 3 0 7 0 14 0 13 0 9 0 2 0 5 0 1 0 1 0 1 0 8 0 30 0 9 0 8 0 4 0 3 0 5 0 2 0 7 0-449 1 1 0 12 0 9 0 1 0 1 0 6 0 28 0 19 0 2 0 4 0 1 0 12 0 7 0 7 0 16 0 10 0 4 0 2 0 13 0 17 0 16 0 3 0 4 0 11 0 11 0 13 0 1 0 1 0 3 0 30 0 21 0 3 0 19 0 12 0 5 0 10 0 15 0 4 0 8 0 1 0 11 0 5 0 17 0 17 0 6 0 3 0 4 0 1 0 3 0-428 1 1 0 5 0 11 0 27 0 7 0 6 0 22 0 4 0 2 0 8 0 4 0 2 0 6 0 15 0 9 0 6 0 11 0 16 0 5 0 2 0 1 0 3 0 8 0 3 0 10 0 2 0 2 0 6 0 5 0 7 0 2 0 8 0 2 0 4 0 1 0 2 0 8 0 3 0 2 0 6 0 2 0 2 0 51 0 10 0 9 0 8 0 8 0 2 0 20 0 3 0 12 0 10 0 3 0 2 0 3 0 1 0 16 0 2 0 9 0 8 0 3 0 1 0-443 1 2 0 7 0 10 0 5 0 2 0 2 0 10 0 17 0 4 0 1 0 1 0 14 0 2 0 3 0 7 0 3 0 6 0 17 0 9 0 2 0 11 0 12 0 6 0 5 0 1 0 23 0 61 0 19 0 7 0 12 0 3 0 1 0 2 0 20 0 30 0 6 0 9 0 2 0 7 0 9 0 1 0 1 0 3 0 17 0 1 0 9 0 1 0 1 0 2 0 4 0 2 0 1 0 19 0 1 0 8 0 5 0-439 1 3 0 9 0 12 0 16 0 3 0 5 0 6 0 4 0 2 0 2 0 1 0 13 0 35 0 8 0 3 0 1 0 2 0 1 0 6 0 4 0 6 0 3 0 10 0 3 0 3 0 19 0 7 0 9 0 20 0 11 0 12 0 5 0 1 0 1 0 7 0 1 0 10 0 28 0 4 0 1 0 2 0 3 0 1 0 6 0 13 0 3 0 3 0 3 0 4 0 16 0 4 0 1 0 5 0 30 0 2 0 1 0 9 0 1 0 9 0 9 0 8 0 8 0-438 1 7 0 1 0 9 0 7 0 4 0 17 0 15 0 3 0 4 0 4 0 3 0 7 0 8 0 15 0 1 0 1 0 2 0 10 0 10 0 1 0 9 0 8 0 15 0 22 0 22 0 5 0 11 0 12 0 7 0 3 0 10 0 3 0 2 0 12 0 7 0 1 0 1 0 1 0 3 0 4 0 2 0 7 0 9 0 2 0 6 0 3 0 7 0 5 0 13 0 14 0 5 0 2 0 3 0 26 0 2 0 6 0 4 0 2 0 16 0 4 0 7 0-433 1 6 0 8 0 1 0 19 0 2 0 4 0 2 0 10 0 3 0 3 0 12 0 3 0 23 0 25 0 2 0 1 0 6 0 6 0 10 0 5 0 2 0 13 0 2 0 10 0 2 0 3 0 1 0 7 0 13 0 10 0 1 0 6 0 3 0 5 0 1 0 9 0 1 0 2 0 11 0 21 0 2 0 5 0 8 0 20 0 11 0 3 0 3 0 10 0 12 0 2 0 1 0 6 0 1 0 14 0 2 0 4 0 1 0 12 0 10 0 1 0 3 0 2 0 1 0 10 0 9 0-426 1 2 0 1 0 2 0 1 0 3 0 3 0 2 0 4 0 2 0 7 0 14 0 1 0 2 0 7 0 4 0 3 0 7 0 2 0 14 0 1 0 1 0 4 0 2 0 1 0 2 0 1 0 4 0 4 0 2 0 10 0 1 0 8 0 7 0 26 0 2 0 3 0 23 0 7 0 7 0 5 0 6 0 2 0 7 0 2 0 6 0 1 0 11 0 2 0 8 0 3 0 3 0 4 0 4 0 12 0 9 0 4 0 11 0 1 0 5 0 13 0 5 0 8 0 10 0 7 0 27 0 7 0 1 0 3 0 1 0 2 0 1 0 9 0 5 0 7 0 9 0 1 0 1 0-417 1 4 0 4 0 5 0 5 0 2 0 1 0 9 0 5 0 2 0 10 0 2 0 9 0 7 0 3 0 5 0 5 0 1 0 11 0 11 0 1 0 1 0 2 0 5 0 6 0 1 0 8 0 10 0 6 0 4 0 3 0 13 0 2 0 1 0 1 0 8 0 2 0 1 0 8 0 2 0 2 0 4 0 3 0 12 0 2 0 19 0 2 0 4 0 9 0 1 0 1 0 3 0 2 0 6 0 2 0 1 0 12 0 16 0 6 0 4 0 1 0 2 0 3 0 5 0 7 0 11 0 1 0 9 0 12 0 1 0 6 0 1 0 5 0 3 0 7 0 2 0 4 0 8 0 12 0 12 0 3 0 10 0 1 0 2 0-424 1 8 0 3 0 1 0 5 0 3 0 4 0 5 0 3 0 1 0 21 0 6 0 5 0 3 0 10 0 12 0 2 0 3 0 18 0 20 0 6 0 7 0 15 0 8 0 1 0 1 0 3 0 10 0 1 0 1 0 1 0 12 0 1 0 2 0 2 0 15 0 12 0 6 0 2 0 2 0 2 0 4 0 5 0 11 0 8 0 4 0 3 0 10 0 1 0 3 0 18 0 2 0 1 0 2 0 5 0 7 0 4 0 6 0 1 0 11 0 1 0 3 0 3 0 1 0 4 0 10 0 4 0 3 0 4 0 2 0 6 0 1 0 1 0 3 0 2 0 1 0 6 0 1 0 1 0 3 0 3 0 7 0-410 1 7 0 2 0 2 0 4 0 2 0 3 0 4 0 1 0 4 0 4 0 3 0 10 0 1 0 2 0 10 0 11 0 3 0 4 0 16 0 8 0 1 0 5 0 10 0 2 0 4 0 19 0 9 0 5 0 5 0 2 0 1 0 11 0 10 0 6 0 1 0 11 0 7 0 1 0 4 0 7 0 4 0 1 0 2 0 5 0 8 0 17 0 3 0 4 0 2 0 6 0 2 0 7 0 13 0 16 0 1 0 1 0 2 0 1 0 7 0 1 0 1 0 19 0 1 0 2 0 10 0 3 0 1 0 3 0 5 0 3 0 9 0 10 0 3 0 1 0 1 0 2 0 2 0-404 1 1 0 6 0 3 0 2 0 2 0 1 0 1 0 4 0 4 0 7 0 11 0 4 0 9 0 1 0 2 0 4 0 5 0 7 0 3 0 15 0 16 0 12 0 1 0 1 0 4 0 16 0 1 0 2 0 3 0 1 0 1 0 1 0 3 0 2 0 1 0 2 0 3 0 5 0 2 0 3 0 5 0 10 0 8 0 7 0 1 0 1 0 2 0 2 0 2 0 3 0 1 0 1 0 3 0 16 0 8 0 12 0 10 0 2 0 5 0 1 0 11 0 8 0 1 0 2 0 1 0 6 0 5 0 5 0 1 0 2 0 21 0 8 0 3 0 6 0 1 0 1 0 1 0 2 0 3 0 2 0 13 0 3 0 6 0 3 0 2 0 3 0 4 0 1 0 9 0 4 0 3 0-415 1 12 0 3 0 2 0 9 0 14 0 1 0 6 0 8 0 1 0 1 0 2 0 8 0 9 0 4 0 1 0 5 0 1 0 1 0 2 0 1 0 8 0 3 0 11 0 6 0 8 0 6 0 8 0 2 0 2 0 1 0 6 0 1 0 3 0 10 0 4 0 1 0 1 0 15 0 7 0 3 0 10 0 5 0 2 0 1 0 4 0 5 0 6 0 1 0 4 0 1 0 4 0 1 0 4 0 2 0 12 0 3 0 2 0 1 0 4 0 4 0 11 0 4 0 4 0 8 0 9 0 1 0 3 0 6 0 3 0 7 0 20 0 5 0 10 0 3 0 1 0 1 0 4 0 10 0 8 0 8 0 12 0-402 1 9 0 2 0 6 0 12 0 2 0 1 0 8 0 1 0 2 0 8 0 12 0 2 0 1 0 5 0 8 0 10 0 3 0 2 0 3 0 14 0 25 0 22 0 8 0 3 0 3 0 2 0 13 0 1 0 20 0 10 0 8 0 4 0 2 0 19 0 2 0 1 0 17 0 7 0 2 0 5 0 2 0 8 0 6 0 2 0 10 0 3 0 1 0 6 0 9 0 3 0 2 0 6 0 1 0 3 0 1 0 2 0 8 0 2 0 40 0" fill="none" stroke="none" marker-start="url(#q)" marker-mid="url(#q)" marker-end="url(#q)"/>
<rect x="1347.4" y="839.4" width="876.1" height="583.1" fill="none" stroke="#0000d2" stroke-width="4.6"/>
<text x="1324.0" y="842.3" font-size="41.5" text-anchor="end" class="t">0</text>
<text x="1324.0" y="960.2" font-size="41.5" text-anchor="end" class="t">-0.05</text>
<text x="1324.0" y="1076.8" font-size="41.5" text-anchor="end" class="t">-0.1</text>
<text x="1324.0" y="1193.4" font-size="41.5" text-anchor="end" class="t">-0.15</text>
<text x="1324.0" y="1310.0" font-size="41.5" text-anchor="end" class="t">-0.2</text>
<text x="1324.0" y="1426.7" font-size="41.5" text-anchor="end" class="t">-0.25</text>
<text x="1348.1" y="1472.5" font-size="41.5" text-anchor="middle" class="t">-15</text>
<text x="1492.4" y="1472.5" font-size="41.5" text-anchor="middle" class="t">-10</text>
<text x="1640.8" y="1472.5" font-size="41.5" text-anchor="middle" class="t">-5</text>
<text x="1783.6" y="1472.5" font-size="41.5" text-anchor="middle" class="t">0</text>
<text x="1931.5" y="1472.5" font-size="41.5" text-anchor="middle" class="t">5</text>
<text x="2075.6" y="1472.5" font-size="41.5" text-anchor="middle" class="t">10</text>
<text x="2223.2" y="1472.5" font-size="41.5" text-anchor="middle" class="t">15</text>
<text x="1392.0" y="898.2" font-size="48">(</text>
<text x="1405.7" y="902.5" font-size="56" style="fill:#1a1a1a">d</text>
<text x="1436.7" y="898.2" font-size="48">)</text>
<path d="M403.3 1644.3V2227.3M549.4 1644.3V2227.3M695.4 1644.3V2227.3M841.4 1644.3V2227.3M987.5 1644.3V2227.3M257.3 1760.9H1133.5M257.3 1877.5H1133.5M257.3 1994.1H1133.5M257.3 2110.7H1133.5" stroke="#0000d2" stroke-width="4.6" stroke-dasharray="4.7 4.6" fill="none"/>
<path d="M403.3 1644.3v25.5M403.3 2227.3v-25.5M549.4 1644.3v25.5M549.4 2227.3v-25.5M695.4 1644.3v25.5M695.4 2227.3v-25.5M841.4 1644.3v25.5M841.4 2227.3v-25.5M987.5 1644.3v25.5M987.5 2227.3v-25.5M257.3 1760.9h25.5M1133.5 1760.9h-25.5M257.3 1877.5h25.5M1133.5 1877.5h-25.5M257.3 1994.1h25.5M1133.5 1994.1h-25.5M257.3 2110.7h25.5M1133.5 2110.7h-25.5" stroke="#0000d2" stroke-width="4.6" fill="none"/>
<path d="m690 1645 2 3-2 6-11 8 12 2-17 2 33 3 1 0-14 1 13 0-3 1-29 1-2 1 21 2-8 4 17 0 1 0-1 2-29 1-4 2 1 1 42 0-4 2-29 7 22 2-28 1 44 0 3 0 2 0-52 1 5 2 22 0 12 1-43 1 50 0-29 1 27 0-56 1 41 0-31 1 15 0 2 0 35 1-16 3-35 1 8 0 24 1 19 0 5 0-3 3-18 1 23 0-27 2-10 1 19 0-35 2 15 0 28 0 3 0-55 1 1 0 9 0-4 1 5 0 18 1-29 2-10 1 14 0 4 0 7 0-20 1 39 0 12 0 21 0-51 2 12 0-40 2 14 0 20 2 28 1-34 1 16 0-48 1 60 0-18 1-25 1 17 1 30 0 13 0 4 0-62 2 8 0 10 0 26 0 6 0-72 1 12 0 8 0 10 2 44 0-70 1 81 0-36 1 24 0-59 1 61 0 0 1 10 0-86 2 71 0 2 0-462 1 48 0 3 0 5 0 19 0 92 0 8 0 46 0 3 0 142 0 22 0 7 0 64 0 9 0 38 0 10 0 53 0 75 0 228 0-872 1 2 0 1 0 13 0 46 0 29 0 51 0 17 0 17 0 19 0 38 0 19 0 37 0 11 0 42 0 80 0 72 0 3 0 72 0 131 0 25 0 35 0 5 0 29 0 28 0 2 0 12 0 15 0 10 0 2 0 1 0 1 0 1 0 5 0 1 0-872 1 2 0 1 0 1 0 5 0 5 0 6 0 6 0 3 0 4 0 9 0 5 0 16 0 10 0 29 0 47 0 24 0 2 0 17 0 34 0 4 0 15 0 23 0 32 0 4 0 9 0 42 0 9 0 3 0 9 0 69 0 26 0 14 0 40 0 6 0 11 0 50 0 17 0 2 0 20 0 75 0 7 0 34 0 17 0 16 0 38 0 24 0 9 0 17 0 3 0-870 1 1 0 1 0 8 0 11 0 15 0 4 0 6 0 62 0 80 0 13 0 29 0 29 0 55 0 17 0 13 0 57 0 19 0 1 0 18 0 4 0 2 0 46 0 17 0 4 0 24 0 13 0 60 0 52 0 10 0 29 0 1 0 54 0 23 0 17 0 21 0 2 0 3 0 16 0 21 0 3 0 1 0 3 0 4 0 1 0 1 0-872 1 6 0 1 0 10 0 2 0 25 0 20 0 33 0 7 0 30 0 52 0 4 0 48 0 31 0 12 0 134 0 2 0 32 0 52 0 8 0 37 0 20 0 27 0 3 0 111 0 112 0 3 0 23 0 15 0 9 0-868 1 7 0 5 0 1 0 18 0 26 0 1 0 9 0 14 0 17 0 55 0 97 0 43 0 8 0 12 0 12 0 20 0 9 0 1 0 63 0 1 0 17 0 27 0 16 0 16 0 50 0 18 0 51 0 62 0 49 0 9 0 12 0 23 0 37 0 13 0 1 0 11 0 16 0 12 0 2 0 7 0 1 0-869 1 2 0 3 0 2 0 1 0 4 0 4 0 13 0 6 0 9 0 27 0 6 0 20 0 43 0 15 0 31 0 1 0 27 0 6 0 13 0 26 0 55 0 11 0 6 0 17 0 31 0 28 0 92 0 22 0 7 0 1 0 39 0 54 0 3 0 47 0 13 0 45 0 14 0 14 0 17 0 13 0 1 0 11 0 6 0 3 0 28 0 13 0 17 0 1 0-866 1 11 0 2 0 1 0 4 0 8 0 3 0 6 0 62 0 5 0 14 0 47 0 4 0 126 0 30 0 3 0 10 0 54 0 40 0 16 0 11 0 8 0 40 0 35 0 4 0 6 0 4 0 4 0 1 0 15 0 24 0 4 0 6 0 22 0 21 0 17 0 104 0 13 0 3 0 37 0 40 0-820 1 34 0 33 0 10 0 12 0 70 0 84 0 8 0 9 0 34 0 5 0 9 0 19 0 52 0 6 0 27 0 20 0 12 0 65 0 13 0 16 0 26 0 17 0 3 0 29 0 7 0 43 0 10 0 6 0 81 0 7 0 36 0 2 0 3 0 1 0 7 0-851 1 2 0 1 0 8 0 15 0 2 0 3 0 23 0 85 0 25 0 10 0 2 0 4 0 28 0 2 0 23 0 24 0 8 0 60 0 1 0 6 0 8 0 7 0 31 0 60 0 18 0 92 0 45 0 20 0 48 0 4 0 5 0 27 0 16 0 13 0 96 0 20 0 3 0 5 0 6 0-857 1 1 0 1 0 8 0 8 0 16 0 38 0 18 0 110 0 57 0 21 0 23 0 93 0 51 0 13 0 4 0 11 0 11 0 33 0 2 0 14 0 24 0 26 0 15 0 28 0 5 0 21 0 27 0 3 0 31 0 16 0 10 0 13 0 22 0 12 0 10 0 13 0 9 0 25 0 3 0 9 0-859 1 6 0 14 0 7 0 1 0 10 0 17 0 74 0 28 0 113 0 2 0 10 0 41 0 7 0 75 0 27 0 52 0 37 0 21 0 24 0 30 0 8 0 1 0 21 0 19 0 7 0 6 0 31 0 8 0 16 0 14 0 72 0 24 0 10 0-835 1 2 0 10 0 3 0 3 0 27 0 40 0 36 0 21 0 17 0 3 0 15 0 4 0 3 0 9 0 85 0 24 0 4 0 11 0 26 0 22 0 3 0 4 0 12 0 31 0 55 0 15 0 25 0 56 0 9 0 72 0 49 0 53 0 74 0 23 0 3 0 9 0 2 0-858 1 4 0 3 0 4 0 15 0 11 0 4 0 21 0 13 0 40 0 16 0 21 0 25 0 2 0 16 0 1 0 32 0 9 0 1 0 84 0 35 0 23 0 15 0 9 0 167 0 14 0 46 0 25 0 35 0 44 0 117 0-837 1 33 0 4 0 22 0 3 0 77 0 7 0 106 0 22 0 19 0 15 0 45 0 18 0 5 0 1 0 16 0 40 0 118 0 15 0 16 0 41 0 64 0 28 0 48 0 12 0 3 0 31 0 28 0-852 1 13 0 39 0 30 0 35 0 5 0 60 0 59 0 12 0 24 0 3 0 10 0 78 0 29 0 13 0 13 0 85 0 10 0 7 0 2 0 93 0 25 0 55 0 14 0 9 0 40 0 8 0 18 0 45 0 11 0 7 0-852 1 6 0 3 0 1 0 50 0 16 0 31 0 19 0 2 0 83 0 20 0 3 0 3 0 90 0 69 0 30 0 12 0 72 0 1 0 39 0 4 0 9 0 1 0 3 0 177 0 16 0 16 0 1 0 12 0 34 0 3 0 4 0 4 0 2 0 3 0 9 0 6 0 1 0-851 1 1 0 1 0 4 0 3 0 17 0 12 0 18 0 8 0 12 0 84 0 23 0 39 0 12 0 50 0 33 0 56 0 17 0 89 0 2 0 5 0 50 0 25 0 70 0 109 0 19 0 81 0 6 0 3 0-845 1 4 0 10 0 19 0 40 0 16 0 22 0 8 0 59 0 10 0 31 0 56 0 8 0 7 0 7 0 32 0 2 0 52 0 5 0 44 0 6 0 55 0 1 0 2 0 26 0 106 0 6 0 1 0 8 0 67 0 63 0 20 0 12 0 31 0 6 0 5 0-850 1 11 0 11 0 1 0 16 0 19 0 12 0 9 0 11 0 38 0 16 0 22 0 12 0 57 0 26 0 64 0 37 0 25 0 12 0 30 0 11 0 1 0 197 0 3 0 7 0 8 0 36 0 3 0 16 0 80 0 34 0 23 0 2 0-850 1 11 0 26 0 13 0 26 0 49 0 3 0 12 0 30 0 125 0 42 0 58 0 92 0 13 0 21 0 112 0 17 0 52 0 32 0 26 0 17 0 7 0 32 0 15 0 14 0-848 1 1 0 3 0 2 0 3 0 10 0 23 0 48 0 79 0 26 0 49 0 11 0 8 0 77 0 82 0 49 0 55 0 11 0 43 0 149 0 61 0 22 0 4 0 6 0 3 0 11 0 5 0 3 0 6 0-844 1 1 0 34 0 10 0 37 0 16 0 36 0 63 0 33 0 124 0 83 0 33 0 58 0 47 0 32 0 14 0 16 0 11 0 34 0 53 0 13 0 1 0 17 0 15 0 7 0 44 0 5 0-838 1 6 0 4 0 7 0 23 0 21 0 98 0 10 0 39 0 76 0 2 0 2 0 24 0 65 0 150 0 15 0 29 0 23 0 8 0 33 0 40 0 8 0 4 0 17 0 114 0 23 0-843 1 26 0 3 0 26 0 1 0 14 0 83 0 3 0 18 0 36 0 32 0 51 0 102 0 33 0 3 0 2 0 25 0 24 0 125 0 19 0 25 0 49 0 34 0 7 0 63 0 11 0 22 0 7 0 3 0-845 1 2 0 2 0 4 0 47 0 42 0 40 0 4 0 8 0 46 0 38 0 59 0 20 0 15 0 42 0 29 0 19 0 16 0 73 0 84 0 2 0 32 0 201 0 12 0-836 1 2 0 4 0 10 0 23 0 92 0 15 0 61 0 25 0 11 0 76 0 15 0 42 0 29 0 39 0 9 0 61 0 41 0 12 0 40 0 58 0 131 0 29 0 5 0-832 1 5 0 4 0 3 0 12 0 4 0 34 0 8 0 55 0 6 0 15 0 22 0 13 0 93 0 14 0 18 0 9 0 65 0 33 0 35 0 2 0 73 0 49 0 84 0 8 0 91 0 29 0 43 0 5 0 6 0 5 0-840 1 5 0 7 0 9 0 9 0 235 0 94 0 27 0 29 0 14 0 26 0 51 0 7 0 25 0 23 0 9 0 2 0 17 0 21 0 26 0 45 0 25 0 25 0 47 0 7 0 41 0 13 0-838 1 7 0 1 0 4 0 86 0 20 0 79 0 57 0 53 0 88 0 155 0 47 0 69 0 121 0 28 0 3 0 7 0 5 0-830 1 171 0 3 0 12 0 43 0 80 0 10 0 23 0 91 0 39 0 62 0 16 0 29 0 76 0 146 0 8 0 6 0 8 0-820 1 4 0 32 0 12 0 120 0 22 0 92 0 237 0 130 0 32 0 11 0 32 0 21 0 51 0-792 1 26 0 24 0 29 0 11 0 80 0 15 0 15 0 9 0 2 0 83 0 77 0 4 0 24 0 6 0 77 0 9 0 1 0 85 0 8 0 30 0 3 0 80 0 98 0 19 0 12 0-813 1 143 0 109 0 57 0 125 0 88 0 109 0 110 0 65 0 2 0 4 0-830 1 4 0 2 0 27 0 175 0 3 0 28 0 68 0 166 0 48 0 7 0 1 0 27 0 176 0 1 0 10 0 70 0 1 0 10 0 3 0-829 1 46 0 19 0 156 0 179 0 114 0 6 0 154 0 47 0 64 0 14 0 2 0 1 0 4 0 4 0 12 0 2 0 10 0-834 1 14 0 64 0 50 0 25 0 116 0 8 0 29 0 1 0 75 0 67 0 14 0 46 0 166 0 100 0 12 0 10 0-794 1 3 0 3 0 7 0 16 0 10 0 50 0 23 0 69 0 15 0 27 0 96 0 41 0 111 0 96 0 8 0 72 0 56 0 4 0 17 0 24 0 12 0 12 0 53 0 2 0-823 1 6 0 33 0 14 0 99 0 25 0 39 0 56 0 4 0 147 0 6 0 6 0 20 0 25 0 14 0 120 0 34 0 29 0 18 0 40 0 8 0-745 1 5 0 6 0 3 0 28 0 21 0 7 0 15 0 1 0 33 0 80 0 2 0 49 0 23 0 131 0 126 0 127 0 84 0 22 0 16 0 32 0 10 0-821 1 28 0 7 0 10 0 12 0 266 0 28 0 75 0 26 0 23 0 218 0 30 0 96 0 2 0 5 0-800 1 26 0 17 0 18 0 10 0 2 0 48 0 110 0 88 0 70 0 10 0 49 0 15 0 17 0 202 0 43 0 19 0 1 0 35 0 8 0 3 0 1 0 6 0-821 1 1 0 50 0 33 0 24 0 37 0 100 0 8 0 6 0 232 0 35 0 35 0 69 0 50 0 27 0 12 0 69 0 10 0 9 0 5 0-810 1 8 0 4 0 23 0 28 0 32 0 44 0 21 0 162 0 52 0 10 0 19 0 32 0 1 0 13 0 10 0 89 0 27 0 7 0 6 0 84 0 3 0 34 0 64 0-742 1 22 0 11 0 55 0 60 0 1 0 64 0 40 0 34 0 9 0 22 0 167 0 30 0 75 0 114 0 43 0 7 0 18 0-806 1 6 0 53 0 153 0 43 0 18 0 4 0 41 0 66 0 63 0 38 0 2 0 38 0 19 0 59 0 37 0 12 0 12 0 15 0 2 0 50 0 86 0-766 1 40 0 28 0 67 0 11 0 117 0 18 0 87 0 26 0 140 0 204 0 26 0 4 0-820 1 3 0 10 0 94 0 18 0 8 0 9 0 157 0 47 0 83 0 149 0 31 0 19 0 3 0 165 0 18 0 1 0 3 0-813 1 2 0 25 0 34 0 24 0 8 0 49 0 133 0 6 0 8 0 29 0 79 0 2 0 8 0 34 0 137 0 80 0 131 0 15 0 3 0-807 1 8 0 17 0 3 0 304 0 123 0 183 0 6 0 20 0 48 0 2 0 80 0 10 0 7 0-809 1 252 0 24 0 19 0 100 0 121 0 41 0 114 0 39 0 12 0 10 0 48 0 19 0 2 0 12 0-808 1 4 0 3 0 4 0 5 0 7 0 31 0 5 0 5 0 125 0 58 0 204 0 50 0 15 0 79 0 12 0 116 0 8 0 26 0 14 0 5 0 1 0 8 0 5 0 1 0 11 0-808 1 21 0 96 0 20 0 182 0 63 0 74 0 175 0 92 0 36 0 29 0 22 0-790 1 5 0 13 0 59 0 4 0 14 0 88 0 37 0 63 0 45 0 1 0 45 0 34 0 93 0 18 0 49 0 87 0 89 0 24 0 16 0-765 1 71 0 10 0 2 0 3 0 35 0 2 0 35 0 61 0 1 0 3 0 90 0 29 0 22 0 43 0 10 0 3 0 42 0 39 0 92 0 70 0 69 0 25 0-774 1 10 0 131 0 36 0 60 0 21 0 15 0 73 0 100 0 56 0 57 0 17 0 27 0 43 0 2 0 12 0 2 0 124 0 3 0-804 1 125 0 25 0 29 0 107 0 54 0 30 0 101 0 22 0 29 0 24 0 66 0 170 0 14 0 2 0 5 0-808 1 2 0 6 0 21 0 3 0 118 0 149 0 1 0 51 0 40 0 2 0 46 0 91 0 85 0 15 0 3 0 60 0 103 0-798 1 2 0 1 0 2 0 14 0 5 0 108 0 16 0 127 0 111 0 37 0 17 0 9 0 4 0 4 0 43 0 37 0 41 0 117 0 16 0 44 0 49 0 1 0 1 0-805 1 19 0 6 0 142 0 63 0 53 0 4 0 99 0 47 0 147 0 12 0 5 0 23 0 10 0 125 0 2 0 24 0 2 0-740 1 1 0 31 0 49 0 275 0 19 0 28 0 41 0 10 0 35 0 56 0 7 0 97 0 25 0 50 0 4 0 11 0-773 1 9 0 15 0 14 0 3 0 33 0 13 0 31 0 61 0 153 0 8 0 106 0 25 0 16 0 97 0 3 0 69 0 49 0 6 0 10 0 70 0-797 1 8 0 18 0 20 0 45 0 38 0 37 0 116 0 8 0 47 0 55 0 110 0 28 0 26 0 3 0 88 0 34 0 8 0 8 0 57 0 46 0-788 1 1 0 22 0 9 0 1 0 7 0 125 0 1 0 33 0 12 0 93 0 53 0 144 0 23 0 79 0 17 0 11 0 7 0 2 0 56 0 69 0 19 0-793 1 13 0 2 0 7 0 4 0 13 0 28 0 26 0 32 0 44 0 63 0 31 0 5 0 4 0 31 0 121 0 64 0 4 0 25 0 90 0 54 0 92 0 10 0 20 0 12 0 4 0-799 1 3 0 14 0 2 0 46 0 22 0 61 0 44 0 58 0 47 0 66 0 48 0 23 0 29 0 41 0 97 0 125 0 46 0 14 0 6 0 3 0-793 1 85 0 69 0 59 0 10 0 15 0 12 0 17 0 19 0 30 0 81 0 33 0 42 0 70 0 109 0 29 0 1 0 78 0 22 0-782 1 2 0 8 0 23 0 27 0 75 0 12 0 98 0 55 0 76 0 34 0 165 0 19 0 31 0 54 0 6 0 36 0 59 0 16 0-799 1 5 0 2 0 3 0 38 0 45 0 19 0 27 0 44 0 44 0 22 0 59 0 44 0 64 0 107 0 74 0 7 0 40 0 63 0 40 0 32 0 6 0 13 0-789 1 7 0 107 0 20 0 16 0 2 0 139 0 2 0 125 0 76 0 10 0 33 0 70 0 11 0 115 0-736 1 4 0 4 0 9 0 19 0 25 0 3 0 52 0 191 0 9 0 6 0 78 0 67 0 20 0 36 0 68 0 190 0 3 0 3 0-790 1 1 0 5 0 1 0 5 0 31 0 3 0 81 0 3 0 20 0 26 0 58 0 51 0 56 0 12 0 11 0 18 0 83 0 47 0 33 0 134 0 53 0 48 0 12 0 3 0 1 0-785 1 1 0 169 0 160 0 60 0 37 0 5 0 5 0 54 0 32 0 19 0 138 0 34 0 7 0 4 0 29 0 8 0 12 0-779 1 10 0 86 0 23 0 89 0 213 0 53 0 194 0 62 0 53 0 4 0-788 1 11 0 7 0 16 0 16 0 13 0 4 0 3 0 67 0 71 0 76 0 33 0 34 0 135 0 60 0 5 0 177 0 15 0 17 0 10 0 9 0-703 1 57 0 51 0 30 0 18 0 11 0 29 0 17 0 71 0 68 0 11 0 44 0 17 0 74 0 24 0 38 0 32 0 79 0 4 0 28 0-763 1 1 0 5 0 8 0 55 0 15 0 79 0 5 0 48 0 3 0 41 0 16 0 9 0 6 0 150 0 123 0 75 0 106 0 7 0 9 0-780 1 13 0 4 0 24 0 44 0 74 0 68 0 7 0 84 0 78 0 77 0 70 0 50 0 69 0 10 0 16 0 74 0 11 0 11 0-768 1 18 0 42 0 19 0 69 0 7 0 35 0 39 0 1 0 22 0 132 0 52 0 22 0 38 0 51 0 30 0 56 0 28 0 112 0 2 0-790 1 14 0 13 0 17 0 36 0 23 0 34 0 36 0 52 0 55 0 28 0 57 0 18 0 27 0 53 0 87 0 198 0 32 0-751 1 16 0 14 0 148 0 123 0 14 0 45 0 41 0 77 0 120 0 22 0 31 0 39 0 10 0 19 0-738 1 1 0 111 0 1 0 24 0 27 0 39 0 44 0 11 0 82 0 168 0 8 0 98 0 80 0 21 0 6 0 4 0 7 0 16 0 28 0-776 1 33 0 160 0 38 0 10 0 10 0 21 0 41 0 15 0 9 0 10 0 179 0 53 0 31 0 100 0 7 0 10 0 15 0 18 0 18 0-783 1 110 0 31 0 5 0 9 0 58 0 15 0 15 0 23 0 69 0 13 0 11 0 4 0 11 0 165 0 7 0 28 0 76 0 5 0-658 1 3 0 6 0 83 0 44 0 163 0 128 0 48 0 45 0 4 0 191 0 5 0 7 0 25 0 10 0-754 1 2 0 2 0 3 0 1 0 55 0 87 0 27 0 96 0 103 0 34 0 42 0 49 0 140 0 13 0 37 0 7 0 4 0 37 0 26 0 8 0 4 0-784 1 11 0 14 0 32 0 2 0 90 0 50 0 1 0 130 0 52 0 7 0 18 0 3 0 12 0 35 0 205 0 55 0 42 0 6 0 5 0-761 1 31 0 10 0 192 0 65 0 24 0 23 0 105 0 85 0 17 0 28 0 23 0 25 0 16 0 78 0 36 0 2 0 5 0 2 0-757 1 127 0 69 0 87 0 10 0 23 0 7 0 14 0 54 0 114 0 14 0 13 0 27 0 100 0 39 0 12 0 6 0 24 0 4 0 19 0-776 1 3 0 3 0 29 0 15 0 61 0 38 0 11 0 11 0 8 0 1 0 136 0 21 0 50 0 33 0 191 0 100 0 10 0 7 0 1 0 33 0 3 0-748 1 6 0 3 0 87 0 92 0 56 0 62 0 22 0 50 0 58 0 49 0 46 0 50 0 53 0-645 1 15 0 6 0 12 0 9 0 15 0 19 0 46 0 70 0 34 0 61 0 21 0 80 0 60 0 102 0 5 0 65 0 23 0 44 0 22 0 8 0 45 0 7 0-775 1 20 0 45 0 4 0 9 0 60 0 37 0 278 0 19 0 22 0 15 0 141 0 48 0 45 0 19 0-755 1 4 0 173 0 10 0 21 0 13 0 106 0 53 0 230 0 61 0 30 0 30 0 14 0 2 0 5 0 10 0 4 0-772 1 1 0 5 0 16 0 7 0 68 0 134 0 101 0 59 0 68 0 31 0 15 0 14 0 52 0 1 0 40 0 1 0 8 0 15 0 124 0 9 0-766 1 19 0 76 0 27 0 6 0 99 0 59 0 39 0 123 0 50 0 72 0 111 0 72 0 3 0 3 0-681 1 23 0 68 0 32 0 15 0 25 0 15 0 8 0 64 0 16 0 18 0 27 0 49 0 29 0 49 0 90 0 7 0 38 0 53 0 3 0 60 0-765 1 26 0 10 0 27 0 44 0 9 0 61 0 33 0 28 0 5 0 4 0 41 0 33 0 20 0 154 0 144 0 56 0 27 0 27 0-748 1 26 0 1 0 12 0 25 0 27 0 23 0 40 0 13 0 33 0 96 0 45 0 35 0 57 0 23 0 42 0 7 0 70 0 20 0 38 0 99 0 25 0 7 0-744 1 5 0 46 0 5 0 102 0 17 0 27 0 42 0 46 0 22 0 46 0 84 0 36 0 51 0 19 0 27 0 89 0 7 0 46 0 7 0 2 0-741 1 35 0 22 0 12 0 8 0 14 0 29 0 120 0 39 0 80 0 84 0 147 0 1 0 6 0 105 0 28 0 4 0 1 0 5 0 16 0 3 0-768 1 66 0 10 0 47 0 110 0 57 0 108 0 24 0 185 0 37 0 70 0 47 0 1 0-759 1 11 0 46 0 398 0 33 0 47 0 67 0 10 0 149 0-671 1 78 0 84 0 84 0 64 0 6 0 100 0 32 0 14 0 71 0 25 0 29 0 5 0 14 0 20 0 33 0 8 0-628 1 59 0 22 0 174 0 18 0 228 0 85 0 20 0 28 0-754 1 12 0 24 0 45 0 1 0 7 0 4 0 17 0 104 0 13 0 47 0 18 0 108 0 63 0 127 0 20 0 105 0 35 0-754 1 51 0 28 0 73 0 41 0 46 0 7 0 46 0 5 0 6 0 10 0 72 0 20 0 8 0 85 0 127 0 26 0 12 0 31 0 27 0 16 0 19 0-760 1 2 0 2 0 9 0 58 0 18 0 56 0 23 0 23 0 3 0 26 0 55 0 38 0 38 0 129 0 38 0 29 0 42 0 138 0 12 0 19 0 1 0-757 1 4 0 277 0 29 0 114 0 11 0 49 0 24 0 30 0 52 0 26 0 22 0 45 0 5 0 52 0 11 0 2 0-755 1 47 0 94 0 75 0 8 0 24 0 3 0 8 0 142 0 68 0 80 0 82 0 55 0 64 0 11 0-751 1 139 0 18 0 74 0 169 0 5 0 31 0 44 0 73 0 50 0 55 0 23 0 69 0-729 1 152 0 7 0 34 0 38 0 38 0 152 0 16 0 46 0 143 0 3 0 10 0 20 0-666 1 1 0 52 0 5 0 50 0 29 0 84 0 56 0 19 0 7 0 48 0 14 0 294 0 3 0 8 0-689 1 6 0 23 0 60 0 13 0 50 0 28 0 37 0 148 0 53 0 4 0 22 0 7 0 9 0 25 0 117 0 8 0 4 0 60 0 12 0 60 0-748 1 11 0 9 0 9 0 4 0 78 0 44 0 102 0 52 0 15 0 14 0 34 0 179 0 18 0 168 0 15 0-753 1 12 0 4 0 4 0 91 0 9 0 54 0 83 0 147 0 6 0 65 0 48 0 128 0 62 0 31 0 2 0 7 0 2 0-750 1 24 0 1 0 67 0 23 0 26 0 30 0 72 0 36 0 41 0 47 0 5 0 14 0 24 0 21 0 29 0 1 0 173 0 15 0-644 1 10 0 271 0 4 0 12 0 82 0 42 0 47 0 33 0 25 0 14 0 59 0 60 0 34 0 53 0-712 1 2 0 6 0 3 0 8 0 13 0 6 0 43 0 42 0 18 0 75 0 49 0 36 0 25 0 76 0 126 0 27 0 31 0 59 0 9 0 44 0 13 0-750 1 6 0 78 0 25 0 62 0 31 0 63 0 214 0 67 0 53 0 18 0 9 0 106 0 6 0-687 1 79 0 45 0 220 0 71 0 13 0 126 0 14 0 100 0 4 0 20 0 6 0-750 1 1 0 3 0 79 0 45 0 20 0 10 0 2 0 22 0 2 0 10 0 39 0 168 0 63 0 49 0 15 0 133 0 2 0 73 0-558 1 53 0 4 0 142 0 6 0 18 0 153 0 191 0-745 1 190 0 31 0 20 0 7 0 10 0 53 0 85 0 60 0 1 0 11 0 34 0 3 0 7 0 25 0 39 0 17 0-574 1 29 0 90 0 20 0 24 0 26 0 26 0 10 0 76 0 139 0 13 0 40 0 13 0 14 0 110 0 14 0 12 0 42 0 7 0-723 1 4 0 50 0 88 0 121 0 73 0 4 0 10 0 96 0 87 0 26 0 23 0 14 0 11 0 16 0 112 0 5 0 6 0-743 1 11 0 28 0 39 0 50 0 64 0 17 0 7 0 50 0 88 0 281 0 54 0 12 0 12 0 6 0 1 0 2 0 12 0-719 1 44 0 24 0 119 0 6 0 86 0 1 0 3 0 42 0 176 0 16 0 96 0 50 0 52 0-732 1 4 0 3 0 33 0 22 0 120 0 90 0 55 0 47 0 44 0 121 0 17 0 110 0 14 0 16 0 38 0 3 0 5 0-735 1 8 0 47 0 55 0 132 0 11 0 14 0 43 0 44 0 131 0 71 0 3 0 5 0 74 0 73 0 14 0 8 0-621 1 197 0 67 0 185 0 29 0 118 0 25 0-725 1 86 0 10 0 89 0 24 0 108 0 8 0 34 0 33 0 75 0 24 0 49 0 14 0 4 0 57 0 43 0 13 0 14 0 35 0 5 0-727 1 10 0 2 0 171 0 15 0 14 0 17 0 89 0 9 0 65 0 74 0 77 0 30 0 6 0 66 0 52 0 18 0-704 1 25 0 25 0 160 0 28 0 129 0 50 0 42 0 80 0 75 0 69 0-695 1 2 0 10 0 38 0 68 0 1 0 40 0 27 0 26 0 15 0 203 0 51 0 162 0 48 0 2 0 2 0 30 0 4 0-597 1 16 0 56 0 7 0 20 0 33 0 77 0 214 0 47 0 102 0 7 0 5 0 6 0-729 1 48 0 11 0 37 0 21 0 11 0 93 0 81 0 43 0 9 0 8 0 49 0 26 0 10 0 60 0 16 0 32 0 88 0 74 0 19 0 1 0-736 1 10 0 36 0 30 0 4 0 7 0 58 0 205 0 283 0 25 0 19 0 16 0 4 0 8 0 11 0 19 0-736 1 12 0 4 0 2 0 2 0 49 0 131 0 30 0 52 0 64 0 8 0 127 0 11 0 32 0 33 0 38 0 73 0 18 0 43 0-727 1 4 0 12 0 17 0 72 0 23 0 1 0 27 0 59 0 33 0 6 0 78 0 20 0 9 0 234 0 39 0 6 0 5 0 40 0 10 0 5 0 33 0-724 1 113 0 1 0 160 0 25 0 71 0 85 0 16 0 1 0 59 0 126 0 35 0 30 0-662 1 27 0 88 0 3 0 4 0 75 0 31 0 26 0 11 0 35 0 152 0 2 0 94 0 66 0 49 0 1 0-727 1 119 0 48 0 215 0 32 0 143 0 9 0 52 0 21 0 57 0 16 0 2 0 8 0 5 0-719 1 20 0 11 0 35 0 51 0 46 0 70 0 23 0 16 0 7 0 105 0 334 0-723 1 24 0 17 0 6 0 126 0 96 0 26 0 61 0 66 0 63 0 34 0 44 0 22 0 114 0 4 0 11 0 7 0-649 1 71 0 48 0 126 0 33 0 3 0 60 0 7 0 102 0 16 0 33 0-579 1 3 0 23 0 131 0 31 0 95 0 34 0 26 0 102 0 29 0 36 0 42 0 9 0 144 0 5 0-705 1 6 0 23 0 15 0 92 0 132 0 28 0 8 0 76 0 14 0 13 0 1 0 20 0 26 0 30 0 29 0 49 0 76 0 19 0 60 0-708 1 18 0 4 0 46 0 69 0 4 0 84 0 26 0 11 0 4 0 40 0 24 0 37 0 52 0 88 0 17 0 6 0 72 0 49 0 53 0-713 1 97 0 10 0 18 0 178 0 25 0 5 0 13 0 5 0 52 0 93 0 5 0 86 0 66 0 24 0 6 0 34 0 3 0-721 1 1 0 10 0 63 0 16 0 54 0 7 0 128 0 21 0 3 0 40 0 34 0 10 0 6 0 22 0 120 0 38 0 25 0 63 0 36 0 19 0-716 1 3 0 5 0 2 0 34 0 4 0 104 0 3 0 9 0 46 0 26 0 128 0 12 0 30 0 17 0 4 0 144 0 40 0 51 0 60 0-713 1 112 0 3 0 49 0 158 0 99 0 69 0 19 0 10 0 66 0 14 0 15 0 1 0 47 0 35 0 9 0 5 0 1 0-713 1 34 0 74 0 18 0 37 0 102 0 10 0 75 0 132 0 79 0 31 0 6 0 14 0 82 0 2 0 10 0-685 1 3 0 62 0 44 0 7 0 81 0 44 0 35 0 49 0 2 0 29 0 8 0 45 0 129 0 10 0-575 1 2 0 16 0 9 0 27 0 50 0 36 0 44 0 24 0 10 0 33 0 28 0 47 0 35 0 50 0 89 0 29 0 13 0 13 0 34 0 99 0 28 0-716 1 3 0 148 0 113 0 12 0 64 0 106 0 50 0 4 0 40 0 170 0-709 1 66 0 23 0 73 0 125 0 84 0 75 0 25 0 68 0 20 0 21 0 87 0 16 0 4 0 8 0-683 1 43 0 63 0 111 0 90 0 9 0 17 0 2 0 92 0 107 0 170 0-716 1 42 0 40 0 36 0 77 0 97 0 44 0 49 0 20 0 105 0 186 0 7 0 10 0-697 1 28 0 13 0 3 0 30 0 11 0 206 0 27 0 18 0 28 0 15 0 25 0 3 0 38 0 33 0 23 0 52 0 53 0 85 0 2 0 1 0-706 1 4 0 3 0 2 0 10 0 69 0 45 0 46 0 109 0 41 0 38 0 1 0 68 0 4 0 26 0 120 0 92 0 5 0 28 0-659 1 80 0 6 0 3 0 77 0 86 0 182 0 109 0 48 0 22 0 1 0 29 0 3 0 5 0 1 0 5 0-710 1 1 0 4 0 1 0 43 0 229 0 2 0 34 0 21 0 33 0 37 0 36 0 13 0 14 0 119 0 42 0 59 0 7 0 2 0 12 0-697 1 30 0 5 0 5 0 94 0 82 0 339 0 44 0 62 0-646 1 25 0 13 0 41 0 34 0 69 0 57 0 71 0 220 0 137 0 16 0-710 1 3 0 2 0 5 0 50 0 52 0 207 0 135 0 5 0 2 0 17 0 28 0 26 0 155 0-643 1 6 0 6 0 155 0 76 0 35 0 23 0 15 0 101 0 94 0 91 0 63 0-705 1 6 0 3 0 3 0 53 0 14 0 20 0 52 0 39 0 21 0 4 0 74 0 50 0 29 0 26 0 34 0 69 0 79 0 44 0 16 0 49 0 9 0 9 0-662 1 19 0 137 0 72 0 85 0 25 0 14 0 6 0 12 0 172 0 76 0-659 1 4 0 54 0 1 0 115 0 33 0 15 0 77 0 15 0 8 0 6 0 7 0 72 0 93 0 37 0 28 0 30 0 58 0 34 0 9 0 2 0 5 0-704 1 24 0 69 0 53 0 34 0 56 0 209 0 1 0 27 0 9 0 65 0 35 0 17 0 17 0 9 0 41 0 35 0 1 0-662 1 12 0 91 0 146 0 38 0 34 0 51 0 21 0 30 0 26 0 123 0 53 0 35 0-662 1 19 0 37 0 37 0 15 0 241 0 79 0 4 0 84 0 3 0 108 0 29 0 9 0-697 1 122 0 73 0 24 0 94 0 29 0 1 0 4 0 39 0 35 0 70 0 91 0 20 0 4 0 52 0 15 0-665 1 89 0 43 0 216 0 28 0 18 0 16 0 63 0 8 0 5 0 35 0 130 0 11 0 11 0 5 0 6 0-652 1 6 0 63 0 73 0 34 0 38 0 7 0 6 0 126 0 8 0 63 0 17 0 30 0 74 0 37 0 27 0 40 0 7 0-700 1 5 0 6 0 14 0 32 0 12 0 61 0 68 0 27 0 44 0 11 0 92 0 23 0 63 0 62 0 41 0 61 0 6 0 34 0 20 0-681 1 7 0 3 0 15 0 59 0 139 0 85 0 31 0 47 0 86 0 78 0 31 0 90 0 3 0 11 0-678 1 24 0 1 0 27 0 35 0 24 0 1 0 24 0 9 0 34 0 22 0 7 0 4 0 3 0 12 0 96 0 9 0 32 0 4 0 55 0 71 0 62 0 7 0 17 0 3 0 46 0 3 0 31 0 28 0-698 1 315 0 30 0 12 0 21 0 18 0 18 0 77 0 41 0 27 0 128 0 5 0-692 1 4 0 8 0 63 0 42 0 99 0 48 0 16 0 38 0 25 0 48 0 34 0 48 0 25 0 5 0 46 0 33 0 8 0 108 0-696 1 68 0 25 0 18 0 26 0 128 0 114 0 6 0 24 0 80 0 7 0 1 0 5 0 191 0-692 1 40 0 46 0 25 0 60 0 67 0 96 0 38 0 192 0 10 0 78 0 17 0 8 0-674 1 4 0 1 0 32 0 6 0 297 0 11 0 3 0 96 0 47 0 5 0-492 1 36 0 13 0 17 0 5 0 21 0 88 0 3 0 27 0 7 0 12 0 8 0 6 0 74 0 128 0 36 0 47 0 54 0 5 0 91 0-684 1 2 0 94 0 14 0 14 0 7 0 17 0 38 0 16 0 41 0 70 0 16 0 8 0 23 0 39 0 75 0 12 0 13 0 60 0 62 0 21 0 17 0 3 0-654 1 1 0 13 0 51 0 54 0 36 0 179 0 12 0 56 0 21 0 3 0 173 0 77 0-658 1 117 0 44 0 25 0 13 0 32 0 77 0 70 0 120 0 7 0 75 0 32 0 16 0 18 0-674 1 2 0 17 0 7 0 126 0 33 0 87 0 20 0 59 0 71 0 16 0 22 0 18 0 58 0 2 0 3 0 65 0 33 0 37 0 6 0-686 1 1 0 15 0 12 0 2 0 21 0 28 0 12 0 15 0 119 0 46 0 2 0 31 0 61 0 5 0 11 0 37 0 51 0 1 0 15 0 13 0 98 0 15 0 47 0 24 0-680 1 14 0 297 0 4 0 88 0 41 0 20 0 51 0 152 0 12 0-679 1 5 0 9 0 57 0 64 0 32 0 148 0 107 0 116 0 15 0 16 0 56 0 53 0 8 0-687 1 2 0 6 0 107 0 71 0 1 0 45 0 17 0 24 0 154 0 80 0 115 0 57 0 7 0-642 1 181 0 77 0 8 0 34 0 25 0 42 0 13 0 19 0 62 0 27 0 15 0 16 0 39 0 32 0 10 0 31 0 12 0-684 1 51 0 10 0 141 0 34 0 26 0 34 0 1 0 11 0 5 0 10 0 18 0 28 0 89 0 9 0 161 0 23 0-594 1 86 0 95 0 11 0 43 0 81 0 104 0 185 0 21 0-666 1 59 0 74 0 46 0 10 0 52 0 36 0 18 0 66 0 30 0 42 0 11 0 7 0 68 0 11 0 6 0 20 0 1 0 10 0 3 0 12 0 84 0-591 1 7 0 31 0 3 0 5 0 34 0 12 0 9 0 14 0 34 0 91 0 42 0 19 0 58 0 216 0 4 0 4 0-676 1 12 0 10 0 69 0 36 0 35 0 23 0 105 0 16 0 23 0 70 0 17 0 1 0 5 0 66 0 28 0 45 0 98 0 2 0 1 0 5 0 14 0-676 1 11 0 1 0 28 0 119 0 20 0 22 0 246 0 11 0 12 0 42 0 52 0 79 0 13 0 21 0-675 1 2 0 4 0 5 0 30 0 15 0 92 0 76 0 23 0 76 0 71 0 41 0 86 0 7 0 42 0 39 0 20 0 16 0 8 0 7 0 7 0 5 0-678 1 1 0 178 0 37 0 37 0 7 0 107 0 40 0 16 0 100 0 17 0 119 0 22 0-676 1 5 0 75 0 12 0 43 0 62 0 10 0 99 0 77 0 16 0 80 0 54 0 96 0 34 0 3 0-670 1 7 0 22 0 23 0 15 0 118 0 69 0 4 0 79 0 12 0 3 0 1 0 31 0 24 0 113 0 42 0 32 0 6 0 17 0 3 0-576 1 51 0 18 0 111 0 18 0 180 0 9 0 83 0 12 0 27 0 111 0-654 1 54 0 60 0 17 0 85 0 10 0 16 0 40 0 10 0 26 0 23 0 3 0 91 0 11 0 3 0 73 0 134 0 9 0-675 1 7 0 112 0 10 0 60 0 28 0 114 0 27 0 13 0 26 0 13 0 3 0 241 0 12 0 7 0-656 1 11 0 31 0 16 0 2 0 3 0 57 0 41 0 20 0 23 0 134 0 8 0 54 0 5 0 51 0 23 0 165 0 15 0-670 1 2 0 40 0 29 0 46 0 27 0 5 0 35 0 18 0 33 0 60 0 35 0 44 0 6 0 19 0 3 0 2 0 8 0 4 0 108 0 28 0 10 0-566 1 7 0 15 0 21 0 63 0 7 0 10 0 96 0 62 0 1 0 22 0 62 0 4 0 16 0 5 0 56 0 44 0 75 0 8 0-563 1 35 0 43 0 32 0 51 0 46 0 88 0 16 0 36 0 12 0 42 0 33 0 193 0 10 0 4 0 19 0-668 1 11 0 3 0 171 0 46 0 86 0 31 0 6 0 1 0 19 0 79 0-452 1 1 0 4 0 62 0 67 0 55 0 17 0 51 0 66 0 19 0 16 0 46 0 1 0 160 0 17 0 61 0 15 0 5 0-553 1 42 0 77 0 40 0 29 0 14 0 97 0 17 0 88 0 4 0 6 0 30 0 7 0 30 0 17 0 56 0 2 0-635 1 41 0 6 0 2 0 7 0 64 0 71 0 21 0 79 0 13 0 42 0 25 0 20 0 35 0 27 0 30 0 39 0 40 0 53 0 1 0 8 0-655 1 31 0 75 0 28 0 92 0 50 0 13 0 7 0 102 0 39 0 50 0 22 0 11 0 36 0 11 0-566 1 2 0 13 0 10 0 60 0 10 0 203 0 42 0 3 0 9 0 5 0 35 0 1 0 15 0 43 0 164 0 7 0 23 0 12 0 7 0-626 1 192 0 4 0 128 0 35 0 13 0 18 0 16 0 19 0 48 0 33 0 76 0 32 0 7 0 2 0-660 1 2 0 23 0 74 0 23 0 1 0 23 0 55 0 4 0 34 0 110 0 46 0 75 0 60 0 110 0-628 1 25 0 19 0 30 0 77 0 35 0 25 0 46 0 45 0 57 0 23 0 21 0 47 0 34 0 35 0 74 0 34 0 19 0-654 1 25 0 4 0 2 0 215 0 50 0 46 0 51 0 121 0 17 0 75 0 9 0-611 1 18 0 6 0 22 0 50 0 101 0 70 0 109 0 66 0 20 0 6 0 54 0 39 0 60 0 30 0-653 1 2 0 34 0 20 0 54 0 142 0 22 0 6 0 76 0 53 0 31 0 19 0 14 0 33 0 65 0 51 0 23 0-645 1 1 0 34 0 48 0 28 0 39 0 80 0 91 0 16 0 110 0 58 0 4 0 91 0 35 0 8 0 6 0 1 0 2 0-639 1 6 0 9 0 5 0 87 0 38 0 20 0 70 0 4 0 138 0 10 0 2 0 57 0 11 0 122 0 9 0 7 0 19 0 5 0 20 0 2 0-660 1 1 0 2 0 46 0 41 0 42 0 2 0 80 0 165 0 60 0 10 0 4 0 17 0 18 0 54 0 32 0 50 0 9 0-625 1 23 0 11 0 27 0 131 0 73 0 31 0 27 0 9 0 197 0 29 0 80 0 7 0 1 0 5 0-657 1 52 0 12 0 108 0 38 0 11 0 12 0 32 0 5 0 22 0 78 0 11 0 64 0 84 0 25 0 84 0-639 1 1 0 3 0 126 0 46 0 187 0 24 0 53 0 22 0 89 0 15 0 6 0 21 0 52 0 10 0-655 1 1 0 6 0 22 0 12 0 6 0 34 0 21 0 38 0 176 0 72 0 24 0 11 0 35 0 30 0 142 0 4 0 20 0-651 1 2 0 6 0 7 0 29 0 6 0 87 0 103 0 15 0 58 0 32 0 20 0 6 0 3 0 31 0 3 0 8 0 77 0 43 0 30 0 86 0-601 1 70 0 14 0 94 0 20 0 23 0 27 0 74 0 8 0 170 0 103 0-620 1 99 0 11 0 23 0 36 0 13 0 6 0 6 0 8 0 57 0 34 0 13 0 11 0 74 0 11 0 3 0 210 0 3 0-598 1 16 0 89 0 83 0 5 0 96 0 79 0 10 0 97 0 22 0-544 1 1 0 2 0 131 0 111 0 20 0 48 0 31 0 47 0 78 0 47 0 37 0 10 0 30 0 34 0 15 0-651 1 100 0 72 0 16 0 102 0 26 0 70 0 11 0 134 0 43 0 29 0 28 0 19 0-637 1 22 0 1 0 52 0 14 0 65 0 35 0 114 0 243 0 39 0 12 0 33 0 4 0 2 0-645 1 6 0 11 0 27 0 181 0 55 0 34 0 66 0 49 0 77 0 113 0 27 0-648 1 33 0 44 0 15 0 4 0 49 0 39 0 46 0 103 0 198 0 13 0 53 0 16 0 32 0-645 1 5 0 21 0 23 0 78 0 70 0 32 0 88 0 43 0 219 0 53 0 18 0-612 1 13 0 114 0 25 0 12 0 27 0 16 0 12 0 10 0 82 0 21 0 65 0 129 0 77 0-638 1 1 0 10 0 1 0 59 0 38 0 47 0 42 0 19 0 24 0 7 0 16 0 49 0 20 0 1 0 81 0 54 0 37 0 108 0 25 0 6 0-646 1 21 0 32 0 45 0 59 0 46 0 133 0 65 0 2 0 10 0 7 0 17 0 3 0 17 0 16 0 26 0 29 0 41 0 3 0 62 0-628 1 158 0 14 0 31 0 61 0 118 0 25 0 23 0 51 0 64 0 85 0 11 0-645 1 4 0 3 0 9 0 2 0 34 0 63 0 21 0 21 0 51 0 42 0 6 0 89 0 45 0 24 0 11 0 25 0 154 0 4 0 5 0 2 0 22 0 1 0 6 0-603 1 20 0 2 0 2 0 82 0 20 0 21 0 53 0 81 0 59 0 161 0 41 0 7 0 18 0 22 0-620 1 31 0 67 0 84 0 97 0 26 0 16 0 70 0 8 0 41 0 21 0 86 0 56 0 29 0-637 1 51 0 36 0 121 0 33 0 111 0 14 0 2 0 20 0 5 0 25 0 6 0 2 0 58 0 77 0 21 0 32 0 3 0 5 0 6 0-622 1 6 0 84 0 21 0 1 0 2 0 17 0 41 0 8 0 166 0 17 0 18 0 13 0 88 0 42 0 84 0 13 0 5 0 3 0-638 1 3 0 28 0 38 0 14 0 126 0 70 0 12 0 19 0 3 0 55 0 46 0 33 0 4 0 122 0 66 0 1 0-631 1 101 0 42 0 101 0 34 0 87 0 8 0 40 0 112 0-535 1 1 0 10 0 3 0 38 0 25 0 38 0 76 0 165 0 45 0 4 0 64 0 17 0 35 0 19 0 99 0-635 1 28 0 17 0 30 0 122 0 74 0 14 0 82 0 22 0 16 0 1 0 16 0 31 0 48 0 59 0 29 0 15 0 14 0 13 0 6 0-627 1 15 0 101 0 73 0 10 0 139 0 9 0 2 0 25 0 47 0 5 0 54 0 69 0 12 0-573 1 8 0 69 0 46 0 35 0 30 0 17 0 32 0 6 0 7 0 46 0 182 0 39 0 26 0 8 0 60 0-576 1 2 0 139 0 150 0 4 0 14 0 68 0 9 0 68 0 50 0 58 0 33 0 3 0 1 0 3 0-638 1 1 0 6 0 82 0 90 0 48 0 78 0 47 0 86 0 94 0 100 0-619 1 8 0 60 0 69 0 105 0 1 0 46 0 109 0 2 0 5 0 2 0 15 0 46 0 146 0-617 1 11 0 8 0 87 0 30 0 4 0 87 0 11 0 168 0 4 0 109 0 24 0 23 0 1 0 40 0-613 1 1 0 7 0 13 0 4 0 51 0 56 0 4 0 35 0 26 0 45 0 38 0 47 0 40 0 22 0 17 0 8 0 99 0 53 0 6 0 22 0 23 0-613 1 9 0 10 0 52 0 25 0 49 0 5 0 43 0 60 0 74 0 4 0 22 0 1 0 105 0 8 0 50 0 96 0 3 0 9 0-621 1 13 0 123 0 67 0 7 0 150 0 13 0 7 0 126 0 66 0 6 0 42 0 1 0 3 0-632 1 95 0 36 0 83 0 15 0 60 0 5 0 69 0 14 0 23 0 21 0 116 0 11 0 6 0 46 0 25 0-358 1 10 0 34 0 6 0 3 0 20 0 67 0 41 0 39 0 55 0 21 0 14 0 28 0 19 0 6 0-626 1 154 0 45 0 13 0 56 0 33 0 15 0 26 0 142 0 14 0 62 0 5 0 40 0-604 1 1 0 6 0 16 0 129 0 3 0 40 0 2 0 69 0 5 0 5 0 4 0 3 0 38 0 18 0 74 0 36 0 27 0 148 0-627 1 72 0 209 0 87 0 45 0 6 0 1 0 65 0 39 0-513 1 5 0 2 0 4 0 147 0 66 0 9 0 91 0 39 0 58 0 145 0 52 0-629 1 10 0 16 0 12 0 79 0 24 0 80 0 81 0 123 0 124 0 20 0 49 0 6 0-615 1 98 0 69 0 130 0 37 0 44 0 33 0 41 0 11 0 64 0 75 0 2 0-607 1 24 0 14 0 130 0 25 0 108 0 3 0 1 0 23 0 37 0 17 0 101 0 92 0-580 1 3 0 5 0 7 0 6 0 15 0 61 0 89 0 31 0 28 0 18 0 14 0 80 0 19 0 93 0 16 0 3 0 83 0-565 1 3 0 54 0 4 0 1 0 60 0 66 0 2 0 62 0 3 0 7 0 208 0 65 0 74 0-558 1 6 0 30 0 84 0 4 0 14 0 2 0 52 0 6 0 11 0 30 0 60 0 37 0 63 0 6 0 81 0 72 0-609 1 6 0 10 0 98 0 132 0 8 0 18 0 35 0 33 0 62 0 92 0 22 0 98 0-617 1 27 0 12 0 58 0 50 0 26 0 115 0 33 0 27 0 36 0 29 0 8 0 12 0 155 0 5 0 18 0 8 0-613 1 183 0 1 0 21 0 47 0 5 0 53 0 3 0 101 0 15 0 140 0 43 0 2 0-610 1 1 0 60 0 101 0 10 0 3 0 26 0 1 0 25 0 7 0 39 0 79 0 222 0 21 0 10 0-613 1 7 0 102 0 438 0-514 1 82 0 59 0 40 0 18 0 92 0 8 0 88 0 167 0 7 0 10 0 3 0 1 0-608 1 9 0 1 0 35 0 68 0 70 0 19 0 42 0 1 0 66 0 26 0 72 0 123 0 31 0 36 0 12 0-611 1 2 0 2 0 3 0 8 0 52 0 152 0 11 0 1 0 36 0 8 0 41 0 4 0 94 0 3 0 8 0 6 0 9 0 124 0-558 1 22 0 84 0 72 0 56 0 5 0 45 0 9 0 19 0 9 0 6 0 5 0 52 0 10 0 10 0 49 0 21 0 30 0 59 0 39 0 1 0-603 1 1 0 17 0 55 0 19 0 75 0 35 0 174 0 187 0-568 1 36 0 104 0 18 0 80 0 10 0 29 0 98 0 10 0 114 0 52 0 12 0 39 0 8 0-607 1 169 0 40 0 9 0 17 0 30 0 26 0 53 0 7 0 34 0 51 0 152 0 6 0-582 1 67 0 33 0 78 0 90 0 6 0 26 0 9 0 82 0 6 0 20 0 136 0 17 0 27 0-608 1 14 0 8 0 114 0 60 0 32 0 34 0 6 0 19 0 26 0 9 0 14 0 40 0 9 0 9 0 4 0 90 0 44 0 9 0 8 0 52 0-576 1 37 0 22 0 37 0 42 0 12 0 146 0 40 0 5 0 11 0 22 0 12 0 13 0 21 0 155 0 5 0-598 1 2 0 103 0 1 0 9 0 156 0 36 0 11 0 220 0 51 0 7 0 2 0-604 1 24 0 9 0 42 0 25 0 91 0 32 0 69 0 12 0 21 0 19 0 13 0 93 0 1 0 23 0 10 0 7 0 56 0 10 0 37 0 11 0-598 1 161 0 14 0 62 0 37 0 18 0 8 0 16 0 17 0 46 0 169 0 41 0-592 1 24 0 39 0 97 0 115 0 19 0 115 0 78 0 1 0 58 0 32 0 2 0 4 0 5 0 2 0 7 0 2 0-594 1 1 0 8 0 4 0 13 0 92 0 43 0 5 0 2 0 59 0 50 0 9 0 27 0 50 0 7 0 17 0 105 0 96 0 2 0-583 1 19 0 33 0 16 0 96 0 1 0 75 0 14 0 124 0 33 0 43 0 56 0 69 0-594 1 13 0 49 0 128 0 43 0 2 0 51 0 88 0 195 0 8 0 12 0-591 1 1 0 9 0 6 0 22 0 90 0 36 0 13 0 10 0 106 0 1 0 81 0 111 0 95 0 14 0-588 1 7 0 10 0 75 0 14 0 3 0 57 0 82 0 99 0 13 0 11 0 202 0 14 0 4 0 3 0-588 1 7 0 21 0 15 0 12 0 14 0 10 0 22 0 73 0 41 0 27 0 37 0 23 0 20 0 99 0 25 0 13 0 94 0 9 0-569 1 111 0 260 0 13 0 76 0 70 0 58 0 2 0-585 1 26 0 2 0 13 0 160 0 142 0 13 0 18 0 37 0 10 0 58 0 22 0 16 0 72 0-594 1 85 0 15 0 52 0 16 0 99 0 3 0 67 0 79 0 54 0 37 0 8 0 7 0 25 0 28 0-567 1 20 0 1 0 67 0 76 0 36 0 36 0 63 0 33 0 7 0 44 0 23 0 23 0 91 0 37 0 27 0-563 1 5 0 7 0 159 0 39 0 59 0 4 0 36 0 10 0 8 0 12 0 31 0 19 0 36 0 17 0 36 0 24 0 40 0 10 0 12 0-367 1 38 0 1 0 16 0 8 0 3 0 45 0 10 0 6 0 39 0 96 0 9 0 19 0 8 0 33 0 15 0 22 0-591 1 37 0 107 0 6 0 96 0 10 0 124 0 19 0 5 0 13 0 87 0 11 0 52 0 22 0-580 1 33 0 124 0 46 0 145 0 25 0 16 0 140 0 48 0-586 1 2 0 9 0 93 0 48 0 35 0 56 0 47 0 30 0 98 0 18 0 116 0 27 0 2 0-583 1 1 0 22 0 27 0 38 0 28 0 22 0 80 0 11 0 10 0 22 0 36 0 4 0 16 0 46 0 15 0 28 0 115 0 45 0 10 0-557 1 23 0 40 0 18 0 21 0 91 0 76 0 78 0 78 0 16 0 1 0 12 0 50 0 64 0-573 1 28 0 60 0 5 0 15 0 6 0 14 0 9 0 3 0 61 0 19 0 11 0 22 0 22 0 22 0 13 0 22 0 22 0 112 0 106 0 4 0-582 1 2 0 1 0 2 0 22 0 120 0 13 0 22 0 27 0 96 0 39 0 91 0 4 0 43 0 20 0 69 0 5 0 3 0 2 0-519 1 16 0 11 0 63 0 26 0 37 0 10 0 21 0 13 0 22 0 50 0 220 0 6 0-531 1 10 0 143 0 6 0 80 0 22 0 47 0 23 0 15 0 21 0 7 0 106 0 2 0-507 1 11 0 3 0 138 0 46 0 43 0 163 0 6 0 73 0 36 0 10 0 2 0 34 0 14 0-578 1 1 0 53 0 11 0 22 0 89 0 2 0 12 0 42 0 42 0 105 0 4 0 183 0-570 1 5 0 123 0 11 0 9 0 16 0 87 0 3 0 3 0 6 0 16 0 39 0 27 0 66 0 3 0 27 0 35 0 23 0 78 0-569 1 12 0 142 0 57 0 6 0 46 0 16 0 32 0 92 0 122 0-531 1 1 0 1 0 6 0 9 0 4 0 48 0 109 0 4 0 8 0 12 0 31 0 49 0 40 0 6 0 103 0 59 0 15 0 33 0 27 0-560 1 2 0 23 0 12 0 8 0 18 0 16 0 90 0 32 0 3 0 16 0 72 0 2 0 58 0 3 0 117 0 35 0 14 0 20 0 4 0 17 0-567 1 1 0 21 0 126 0 46 0 9 0 39 0 15 0 10 0 160 0 23 0 50 0 51 0 15 0 7 0-564 1 12 0 22 0 11 0 100 0 63 0 159 0 64 0 47 0 10 0 11 0 17 0 13 0 29 0 7 0-572 1 5 0 14 0 21 0 1 0 1 0 2 0 44 0 39 0 10 0 33 0 6 0 30 0 95 0 21 0 32 0 7 0 48 0 9 0 11 0 38 0 5 0 6 0 16 0 46 0 22 0-562 1 57 0 40 0 28 0 97 0 52 0 19 0 37 0 86 0 19 0 3 0 42 0 2 0 10 0 71 0-558 1 3 0 2 0 2 0 4 0 56 0 30 0 41 0 19 0 29 0 18 0 46 0 13 0 158 0 91 0 27 0 28 0-564 1 30 0 46 0 1 0 11 0 45 0 9 0 11 0 8 0 8 0 41 0 38 0 22 0 5 0 36 0 227 0 5 0 2 0 1 0-535 1 21 0 21 0 65 0 13 0 6 0 1 0 5 0 12 0 10 0 17 0 57 0 1 0 21 0 5 0 1 0 29 0 28 0 6 0 63 0 68 0 92 0 2 0 4 0 1 0 1 0-531 1 87 0 90 0 59 0 12 0 5 0 27 0 33 0 2 0 3 0 45 0 1 0 5 0 6 0 20 0 13 0 12 0 86 0-537 1 2 0 2 0 98 0 27 0 79 0 114 0 69 0 47 0 59 0 54 0 2 0 2 0-560 1 1 0 3 0 12 0 47 0 51 0 15 0 7 0 2 0 28 0 2 0 58 0 98 0 30 0 39 0 10 0 3 0 52 0 34 0 16 0-495 1 32 0 29 0 44 0 6 0 11 0 31 0 27 0 3 0 70 0 6 0 76 0 34 0 21 0 20 0 27 0 13 0 35 0 1 0 62 0 5 0-557 1 3 0 125 0 8 0 1 0 2 0 78 0 15 0 28 0 1 0 50 0 68 0 20 0 56 0 5 0 81 0-541 1 3 0 7 0 52 0 2 0 2 0 90 0 32 0 20 0 96 0 3 0 36 0 52 0 2 0 122 0 33 0-557 1 64 0 20 0 26 0 40 0 26 0 5 0 27 0 60 0 12 0 28 0 26 0 57 0 30 0 44 0 12 0 25 0 16 0 14 0 4 0 9 0 16 0-526 1 25 0 73 0 162 0 180 0 27 0 48 0-391 1 8 0 34 0 11 0 7 0 2 0 17 0 17 0 2 0 18 0 3 0 14 0 68 0 42 0 3 0 11 0 33 0 17 0 39 0 30 0 16 0-544 1 58 0 50 0 90 0 59 0 4 0 7 0 26 0 11 0 32 0 16 0 18 0 9 0 76 0 8 0 3 0 7 0 6 0 47 0-523 1 1 0 13 0 24 0 10 0 23 0 15 0 88 0 10 0 22 0 54 0 13 0 125 0 29 0 12 0 12 0 68 0 22 0 6 0 1 0-544 1 2 0 64 0 50 0 2 0 7 0 1 0 9 0 23 0 12 0 10 0 5 0 25 0 46 0 26 0 8 0 24 0 53 0 16 0 7 0 9 0 60 0 30 0 32 0 12 0 5 0-534 1 8 0 107 0 9 0 25 0 12 0 77 0 23 0 5 0 13 0 92 0 8 0 13 0 83 0 1 0 8 0 20 0 6 0 15 0-440 1 94 0 49 0 14 0 51 0 41 0 26 0 63 0 23 0 3 0 78 0 6 0 2 0-543 1 6 0 2 0 1 0 22 0 13 0 38 0 108 0 5 0 33 0 93 0 12 0 9 0 12 0 38 0 28 0 7 0 47 0 25 0 11 0 15 0 3 0 17 0-549 1 9 0 48 0 30 0 65 0 3 0 3 0 8 0 13 0 61 0 14 0 23 0 57 0 51 0 11 0 57 0 1 0 16 0 46 0 31 0 1 0-550 1 3 0 6 0 3 0 3 0 26 0 34 0 30 0 86 0 175 0 40 0 9 0 37 0 21 0 1 0 22 0 22 0 13 0 12 0 2 0 1 0-535 1 28 0 35 0 4 0 38 0 5 0 33 0 9 0 149 0 28 0 51 0 5 0 20 0 2 0 69 0 12 0 1 0 44 0 5 0-544 1 7 0 6 0 4 0 44 0 58 0 9 0 9 0 9 0 31 0 12 0 11 0 8 0 26 0 93 0 24 0 3 0 30 0 30 0 40 0 37 0 45 0-537 1 38 0 66 0 7 0 11 0 1 0 22 0 44 0 6 0 48 0 14 0 32 0 25 0 17 0 30 0 5 0 30 0 28 0 59 0 19 0 40 0-543 1 4 0 39 0 9 0 25 0 6 0 173 0 5 0 22 0 3 0 3 0 12 0 1 0 55 0 19 0 3 0 140 0-506 1 15 0 43 0 58 0 6 0 35 0 65 0 24 0 6 0 19 0 45 0 25 0 7 0 2 0 34 0 26 0 1 0 1 0 19 0 12 0 3 0 36 0 33 0 12 0-537 1 26 0 26 0 17 0 27 0 5 0 2 0 3 0 28 0 69 0 54 0 33 0 7 0 30 0 37 0 4 0 28 0 20 0 42 0 10 0 58 0 3 0-528 1 60 0 27 0 11 0 74 0 20 0 7 0 25 0 45 0 6 0 34 0 32 0 14 0 3 0 24 0 9 0 42 0 67 0 32 0-532 1 4 0 1 0 4 0 62 0 109 0 30 0 5 0 6 0 7 0 85 0 15 0 33 0 11 0 16 0 7 0 66 0 1 0 13 0 12 0 5 0 2 0-490 1 4 0 22 0 38 0 13 0 31 0 20 0 49 0 8 0 29 0 37 0 81 0 49 0 11 0 7 0-400 1 2 0 21 0 5 0 15 0 11 0 12 0 70 0 7 0 5 0 84 0 7 0 3 0 1 0 10 0 142 0 19 0 20 0 29 0 23 0-488 1 3 0 45 0 25 0 14 0 116 0 38 0 50 0 43 0 15 0 1 0 26 0 41 0 37 0 31 0 29 0 18 0-513 1 14 0 11 0 37 0 8 0 53 0 2 0 1 0 20 0 13 0 124 0 8 0 73 0 2 0 34 0 36 0 14 0-459 1 23 0 87 0 26 0 24 0 68 0 26 0 44 0 45 0 8 0 6 0 6 0 32 0 29 0 31 0 20 0 14 0 3 0 1 0 12 0 16 0-502 1 7 0 25 0 5 0 43 0 17 0 14 0 15 0 6 0 36 0 25 0 109 0 2 0 8 0 16 0 35 0 87 0 6 0 7 0 4 0 32 0-483 1 39 0 44 0 16 0 18 0 5 0 2 0 10 0 12 0 24 0 7 0 17 0 7 0 9 0 3 0 1 0 77 0 65 0 10 0 3 0 1 0 25 0 30 0 15 0 23 0-501 1 4 0 3 0 12 0 27 0 7 0 22 0 8 0 77 0 3 0 12 0 11 0 74 0 20 0 59 0 34 0 14 0 42 0 1 0 2 0 53 0 5 0-491 1 2 0 21 0 4 0 4 0 21 0 2 0 34 0 4 0 56 0 22 0 25 0 25 0 15 0 39 0 9 0 7 0 1 0 86 0 2 0 7 0 2 0 26 0 6 0 14 0 12 0 6 0-416 1 19 0 13 0 23 0 1 0 9 0 75 0 23 0 5 0 3 0 42 0 9 0 7 0 16 0 27 0 15 0 29 0 44 0 30 0 17 0 71 0 9 0-522 1 2 0 6 0 80 0 42 0 94 0 31 0 4 0 20 0 16 0 62 0 29 0 8 0 1 0 16 0 55 0 1 0 46 0 1 0 5 0 1 0-518 1 24 0 17 0 54 0 24 0 82 0 6 0 9 0 35 0 31 0 4 0 6 0 13 0 30 0 16 0 5 0 2 0 19 0 13 0 29 0 5 0 15 0 14 0 12 0 1 0 1 0 12 0 2 0 30 0-505 1 2 0 17 0 2 0 7 0 12 0 12 0 16 0 9 0 12 0 10 0 7 0 2 0 12 0 10 0 7 0 31 0 29 0 9 0 13 0 5 0 38 0 92 0 12 0 6 0 8 0 2 0 55 0 7 0 9 0 19 0 9 0 20 0 7 0-513 1 1 0 51 0 15 0 12 0 48 0 41 0 55 0 11 0 9 0 14 0 40 0 62 0 53 0 11 0 13 0 25 0-462 1 5 0 39 0 21 0 11 0 30 0 19 0 23 0 44 0 14 0 8 0 30 0 15 0 27 0 8 0 23 0 18 0 15 0 25 0 46 0 1 0 60 0 3 0 11 0 8 0 6 0 1 0 2 0-511 1 13 0 6 0 11 0 9 0 7 0 45 0 15 0 34 0 17 0 17 0 15 0 70 0 18 0 33 0 2 0 18 0 46 0 15 0 8 0 3 0 4 0 5 0 10 0 48 0 1 0 27 0-490 1 4 0 24 0 15 0 17 0 42 0 25 0 13 0 2 0 31 0 2 0 8 0 55 0 15 0 3 0 6 0 26 0 6 0 4 0 5 0 42 0 34 0 19 0 25 0 30 0 30 0-484 1 5 0 5 0 12 0 53 0 2 0 27 0 2 0 21 0 1 0 4 0 16 0 8 0 4 0 33 0 55 0 3 0 7 0 16 0 20 0 4 0 18 0 2 0 28 0 39 0 26 0 1 0 22 0 24 0 13 0 20 0 6 0 1 0 1 0-493 1 4 0 11 0 2 0 39 0 42 0 15 0 20 0 15 0 1 0 24 0 9 0 14 0 5 0 51 0 18 0 13 0 7 0 24 0 46 0 4 0 67 0 10 0 1 0 28 0-475 1 7 0 8 0 20 0 34 0 27 0 16 0 22 0 23 0 3 0 5 0 5 0 27 0 9 0 10 0 46 0 33 0 23 0 45 0 11 0 7 0 12 0 4 0 19 0 22 0 12 0 21 0 4 0 26 0-488 1 21 0 22 0 44 0 22 0 23 0 3 0 35 0 7 0 2 0 4 0 31 0 10 0 7 0 29 0 38 0 11 0 29 0 34 0 35 0 30 0 51 0-497 1 2 0 6 0 10 0 1 0 25 0 1 0 7 0 25 0 1 0 19 0 2 0 5 0 4 0 27 0 29 0 3 0 9 0 7 0 19 0 28 0 36 0 17 0 10 0 15 0 38 0 7 0 16 0 18 0 18 0 77 0 1 0 1 0 1 0-469 1 7 0 31 0 19 0 12 0 27 0 7 0 27 0 5 0 10 0 3 0 2 0 1 0 26 0 8 0 2 0 7 0 1 0 4 0 6 0 37 0 19 0 2 0 4 0 24 0 7 0 39 0 19 0 2 0 3 0 2 0 3 0 4 0 31 0 19 0 6 0 4 0 2 0 29 0 2 0 1 0 12 0-473 1 33 0 22 0 14 0 24 0 23 0 17 0 1 0 26 0 55 0 2 0 17 0 3 0 20 0 10 0 4 0 5 0 29 0 54 0 11 0 74 0 8 0 8 0 4 0 10 0-494 1 3 0 52 0 14 0 5 0 37 0 12 0 2 0 22 0 7 0 44 0 19 0 39 0 3 0 15 0 15 0 16 0 1 0 69 0 30 0 8 0 21 0 10 0 14 0 30 0-481 1 5 0 10 0 5 0 4 0 34 0 7 0 7 0 3 0 67 0 4 0 5 0 4 0 35 0 50 0 10 0 1 0 28 0 20 0 17 0 14 0 3 0 25 0 17 0 18 0 32 0 58 0-483 1 3 0 2 0 1 0 3 0 15 0 4 0 35 0 24 0 1 0 35 0 20 0 3 0 29 0 8 0 12 0 12 0 9 0 32 0 29 0 4 0 4 0 13 0 67 0 21 0 17 0 11 0 4 0-422 1 8 0 24 0 4 0 22 0 16 0 10 0 3 0 8 0 7 0 10 0 6 0 18 0 17 0 40 0 15 0 9 0 19 0 28 0 36 0 10 0 8 0 11 0 22 0 14 0 7 0 37 0 29 0 33 0 3 0 2 0-453 1 7 0 13 0 9 0 12 0 15 0 9 0 39 0 8 0 19 0 52 0 5 0 20 0 29 0 1 0 9 0 4 0 4 0 2 0 4 0 10 0 1 0 8 0 77 0 1 0 5 0 3 0 14 0 41 0 22 0-465 1 3 0 3 0 11 0 15 0 28 0 4 0 13 0 1 0 14 0 1 0 2 0 11 0 20 0 4 0 25 0 2 0 25 0 45 0 5 0 9 0 21 0 50 0 14 0 1 0 32 0 2 0 16 0 2 0 24 0 9 0 23 0 6 0 21 0 3 0 5 0 8 0 3 0 2 0-481 1 3 0 6 0 14 0 15 0 1 0 2 0 12 0 10 0 4 0 21 0 28 0 14 0 18 0 39 0 14 0 4 0 18 0 6 0 1 0 3 0 6 0 27 0 1 0 33 0 7 0 9 0 5 0 1 0 27 0 20 0 12 0 11 0 29 0 5 0 23 0 10 0 1 0-452 1 1 0 3 0 5 0 13 0 52 0 7 0 44 0 4 0 13 0 6 0 22 0 3 0 20 0 26 0 1 0 7 0 2 0 25 0 5 0 12 0 12 0 2 0 7 0 29 0 48 0 6 0 22 0 43 0 13 0 6 0 6 0 3 0-472 1 4 0 19 0 3 0 16 0 24 0 15 0 7 0 2 0 12 0 3 0 9 0 2 0 10 0 2 0 1 0 7 0 9 0 14 0 30 0 34 0 20 0 22 0 42 0 1 0 18 0 10 0 32 0 4 0 14 0 3 0 6 0 11 0 16 0 27 0 10 0 2 0 2 0 8 0-472 1 1 0 1 0 5 0 2 0 6 0 63 0 16 0 13 0 17 0 13 0 11 0 11 0 4 0 17 0 10 0 32 0 15 0 16 0 16 0 13 0 22 0 26 0 9 0 1 0 15 0 5 0 11 0 2 0 9 0 4 0 10 0 17 0 33 0 9 0 13 0-466 1 1 0 4 0 38 0 3 0 7 0 24 0 21 0 23 0 14 0 7 0 1 0 2 0 1 0 14 0 2 0 13 0 22 0 1 0 9 0 15 0 10 0 8 0 8 0 20 0 1 0 4 0 30 0 23 0 13 0 27 0 24 0 25 0 5 0 3 0 6 0 18 0 7 0 9 0 9 0-460 1 2 0 1 0 2 0 10 0 2 0 7 0 4 0 1 0 5 0 8 0 3 0 9 0 7 0 9 0 8 0 21 0 6 0 10 0 29 0 30 0 4 0 31 0 11 0 1 0 47 0 19 0 4 0 13 0 12 0 5 0 28 0 40 0 5 0 2 0 44 0 7 0 11 0-470 1 6 0 1 0 8 0 4 0 16 0 30 0 4 0 15 0 20 0 13 0 3 0 9 0 11 0 1 0 1 0 8 0 31 0 10 0 7 0 2 0 17 0 9 0 5 0 50 0 2 0 16 0 7 0 9 0 2 0 7 0 13 0 28 0 19 0 33 0 4 0 2 0 4 0 6 0 3 0 8 0 8 0 2 0 1 0 2 0 2 0 3 0 8 0-466 1 3 0 3 0 1 0 3 0 1 0 2 0 1 0 13 0 5 0 4 0 4 0 2 0 15 0 8 0 14 0 1 0 28 0 6 0 5 0 8 0 23 0 2 0 18 0 17 0 11 0 5 0 14 0 10 0 7 0 2 0 10 0 5 0 5 0 20 0 25 0 16 0 26 0 1 0 1 0 3 0 5 0 24 0 17 0 8 0 18 0 1 0 17 0 2 0 2 0 7 0 3 0-450 1 1 0 13 0 2 0 9 0 19 0 2 0 12 0 1 0 6 0 7 0 9 0 16 0 15 0 16 0 5 0 10 0 20 0 18 0 11 0 5 0 21 0 13 0 12 0 5 0 22 0 2 0 8 0 2 0 13 0 10 0 3 0 7 0 7 0 2 0 27 0 4 0 20 0 1 0 5 0 9 0 12 0 3 0 5 0 12 0 4 0 5 0 1 0 1 0 11 0 10 0-454 1 1 0 4 0 2 0 34 0 6 0 13 0 2 0 7 0 5 0 1 0 7 0 3 0 5 0 1 0 6 0 17 0 6 0 2 0 1 0 30 0 7 0 6 0 1 0 5 0 17 0 1 0 13 0 2 0 14 0 15 0 2 0 5 0 13 0 5 0 13 0 21 0 1 0 1 0 11 0 1 0 13 0 1 0 16 0 7 0 9 0 13 0 1 0 24 0 6 0 3 0 21 0 15 0 10 0 10 0-445 1 3 0 9 0 2 0 8 0 3 0 1 0 3 0 2 0 31 0 3 0 5 0 8 0 9 0 5 0 15 0 8 0 24 0 3 0 4 0 1 0 11 0 12 0 16 0 2 0 2 0 14 0 1 0 3 0 7 0 5 0 3 0 2 0 7 0 13 0 1 0 4 0 13 0 1 0 3 0 7 0 18 0 13 0 2 0 1 0 4 0 9 0 27 0 4 0 2 0 3 0 2 0 1 0 32 0 16 0 3 0 2 0 13 0 12 0 3 0 1 0 6 0-456 1 15 0 6 0 6 0 2 0 4 0 6 0 13 0 2 0 2 0 15 0 28 0 1 0 11 0 7 0 6 0 8 0 6 0 4 0 3 0 4 0 14 0 3 0 9 0 13 0 7 0 5 0 26 0 1 0 3 0 9 0 2 0 4 0 5 0 5 0 6 0 1 0 6 0 1 0 6 0 7 0 17 0 8 0 3 0 4 0 6 0 6 0 11 0 6 0 14 0 4 0 1 0 3 0 4 0 2 0 3 0 7 0 1 0 4 0 8 0 15 0 8 0 3 0 1 0 11 0 3 0 5 0 13 0 1 0-450 1 23 0 6 0 3 0 1 0 1 0 10 0 3 0 14 0 9 0 8 0 3 0 1 0 1 0 1 0 12 0 6 0 5 0 13 0 1 0 5 0 10 0 9 0 6 0 6 0 1 0 7 0 14 0 2 0 4 0 16 0 19 0 3 0 3 0 14 0 4 0 2 0 18 0 3 0 2 0 16 0 15 0 7 0 1 0 12 0 7 0 7 0 5 0 6 0 11 0 7 0 1 0 3 0 4 0 5 0 9 0 7 0 7 0 7 0 3 0 4 0 1 0 2 0 1 0 16 0 5 0 2 0 7 0-432 1 5 0 1 0 17 0 3 0 11 0 8 0 2 0 2 0 10 0 6 0 10 0 3 0 5 0 5 0 2 0 4 0 2 0 2 0 6 0 17 0 12 0 1 0 3 0 6 0 7 0 16 0 5 0 3 0 8 0 9 0 13 0 9 0 8 0 12 0 4 0 1 0 1 0 8 0 2 0 1 0 20 0 3 0 13 0 14 0 10 0 2 0 4 0 2 0 7 0 4 0 16 0 15 0 6 0 4 0 1 0 7 0 1 0 1 0 2 0 14 0 10 0 4 0 8 0 4 0 2 0 7 0-443 1 3 0 2 0 7 0 9 0 13 0 3 0 10 0 8 0 4 0 6 0 9 0 1 0 13 0 6 0 10 0 2 0 7 0 6 0 8 0 7 0 20 0 2 0 4 0 1 0 11 0 9 0 13 0 16 0 1 0 4 0 2 0 1 0 1 0 2 0 5 0 10 0 4 0 1 0 1 0 3 0 2 0 2 0 3 0 1 0 1 0 9 0 5 0 1 0 10 0 5 0 1 0 5 0 1 0 7 0 2 0 9 0 2 0 4 0 7 0 1 0 7 0 1 0 1 0 2 0 2 0 3 0 1 0 8 0 22 0 8 0 3 0 1 0 2 0 7 0 9 0 5 0 11 0 2 0 2 0 1 0 1 0 2 0 2 0 1 0 1 0 2 0 7 0-433 1 4 0 10 0 5 0 4 0 3 0 6 0 12 0 3 0 1 0 3 0 1 0 5 0 2 0 5 0 19 0 3 0 2 0 4 0 24 0 9 0 9 0 3 0 12 0 3 0 2 0 3 0 2 0 2 0 4 0 2 0 8 0 4 0 9 0 2 0 4 0 2 0 1 0 2 0 4 0 5 0 8 0 29 0 9 0 2 0 9 0 1 0 14 0 1 0 6 0 9 0 3 0 3 0 7 0 1 0 4 0 3 0 1 0 1 0 3 0 9 0 6 0 4 0 3 0 18 0 3 0 2 0 8 0 16 0 2 0 1 0 1 0 3 0 1 0 6 0 7 0 8 0 2 0 2 0 1 0 4 0 2 0-433 1 4 0 1 0 13 0 6 0 5 0 4 0 3 0 5 0 17 0 1 0 1 0 1 0 9 0 7 0 4 0 3 0 7 0 3 0 4 0 1 0 3 0 2 0 7 0 3 0 5 0 1 0 4 0 29 0 4 0 12 0 9 0 5 0 5 0 8 0 6 0 11 0 2 0 1 0 3 0 6 0 1 0 2 0 2 0 5 0 1 0 5 0 1 0 4 0 3 0 3 0 1 0 1 0 1 0 4 0 4 0 4 0 2 0 11 0 20 0 4 0 1 0 13 0 22 0 2 0 3 0 9 0 17 0 3 0 3 0 6 0 4 0 5 0 16 0 6 0 2 0 1 0 1 0 1 0 2 0-407 1 3 0 2 0 3 0 3 0 6 0 4 0 6 0 6 0 1 0 1 0 6 0 19 0 1 0 1 0 10 0 2 0 9 0 1 0 11 0 2 0 8 0 2 0 3 0 1 0 7 0 6 0 3 0 1 0 8 0 1 0 6 0 10 0 7 0 4 0 6 0 9 0 3 0 3 0 4 0 2 0 3 0 3 0 2 0 5 0 2 0 2 0 1 0 3 0 2 0 13 0 6 0 2 0 7 0 4 0 1 0 6 0 3 0 1 0 5 0 4 0 6 0 4 0 4 0 5 0 1 0 3 0 1 0 3 0 3 0 7 0 3 0 6 0 11 0 3 0 4 0 1 0 6 0 1 0 4 0 7 0 5 0 14 0 3 0 2 0 2 0 6 0 1 0 10 0 1 0 9 0 3 0-413 1 10 0 2 0 9 0 5 0 2 0 1 0 4 0 11 0 2 0 1 0 9 0 2 0 3 0 11 0 6 0 1 0 1 0 19 0 1 0 1 0 10 0 7 0 18 0 3 0 1 0 1 0 10 0 2 0 1 0 1 0 2 0 1 0 1 0 3 0 7 0 8 0 3 0 6 0 6 0 33 0 6 0 9 0 8 0 1 0 4 0 8 0 6 0 3 0 5 0 11 0 3 0 2 0 1 0 10 0 5 0 7 0 4 0 5 0 3 0 2 0 2 0 1 0 2 0 4 0 6 0 1 0 3 0 8 0 1 0 1 0 3 0 5 0 3 0 1 0 3 0 3 0 3 0 8 0 2 0 2 0 2 0 9 0 1 0 4 0 1 0-387 1 2 0 20 0 4 0 2 0 2 0 1 0 1 0 1 0 3 0 5 0 1 0 4 0 1 0 6 0 2 0 3 0 1 0 7 0 8 0 2 0 2 0 10 0 13 0 2 0 10 0 1 0 3 0 6 0 5 0 1 0 5 0 4 0 2 0 2 0 5 0 1 0 5 0 1 0 1 0 2 0 1 0 15 0 1 0 1 0 2 0 2 0 5 0 8 0 5 0 2 0 4 0 5 0 4 0 1 0 2 0 1 0 1 0 11 0 11 0 2 0 2 0 3 0 1 0 6 0 1 0 1 0 6 0 2 0 4 0 4 0 7 0 3 0 3 0 5 0 3 0 5 0 2 0 4 0 3 0 1 0 2 0 1 0 4 0 4 0 5 0 3 0 5 0 8 0 4 0 10 0 3 0 5 0 4 0 1 0 12 0 4 0 9 0 2 0-401 1 1 0 3 0 4 0 1 0 1 0 3 0 4 0 1 0 2 0 2 0 5 0 1 0 18 0 3 0 5 0 2 0 12 0 9 0 1 0 3 0 9 0 6 0 3 0 4 0 6 0 5 0 7 0 1 0 1 0 4 0 3 0 5 0 5 0 6 0 8 0 5 0 2 0 4 0 13 0 3 0 7 0 1 0 4 0 1 0 17 0 1 0 2 0 1 0 4 0 3 0 5 0 5 0 11 0 2 0 8 0 1 0 4 0 4 0 3 0 3 0 3 0 1 0 8 0 4 0 1 0 2 0 1 0 1 0 2 0 8 0 6 0 6 0 9 0 1 0 7 0 2 0 1 0 3 0 4 0 2 0 2 0 3 0 9 0 1 0 2 0 2 0 1 0 3 0 13 0 1 0 1 0 1 0 1 0 13 0 1 0" fill="none" stroke="none" marker-start="url(#q)" marker-mid="url(#q)" marker-end="url(#q)"/>
<rect x="257.3" y="1644.3" width="876.2" height="583.0" fill="none" stroke="#0000d2" stroke-width="4.6"/>
<text x="235.3" y="1654.1" font-size="41.5" text-anchor="end" class="t">0</text>
<text x="235.3" y="1773.1" font-size="41.5" text-anchor="end" class="t">-0.1</text>
<text x="235.3" y="1889.7" font-size="41.5" text-anchor="end" class="t">-0.2</text>
<text x="235.3" y="2006.3" font-size="41.5" text-anchor="end" class="t">-0.3</text>
<text x="235.3" y="2122.9" font-size="41.5" text-anchor="end" class="t">-0.4</text>
<text x="235.3" y="2239.5" font-size="41.5" text-anchor="end" class="t">-0.5</text>
<text x="254.3" y="2280.7" font-size="41.5" text-anchor="middle" class="t">-15</text>
<text x="398.3" y="2280.7" font-size="41.5" text-anchor="middle" class="t">-10</text>
<text x="546.7" y="2280.7" font-size="41.5" text-anchor="middle" class="t">-5</text>
<text x="691.3" y="2280.7" font-size="41.5" text-anchor="middle" class="t">0</text>
<text x="838.7" y="2280.7" font-size="41.5" text-anchor="middle" class="t">5</text>
<text x="982.2" y="2280.7" font-size="41.5" text-anchor="middle" class="t">10</text>
<text x="1130.2" y="2280.7" font-size="41.5" text-anchor="middle" class="t">15</text>
<text x="296.5" y="1702.1" font-size="48">(</text>
<text x="311.7" y="1706.0" font-size="56" style="fill:#1a1a1a">e</text>
<text x="341.2" y="1702.1" font-size="48">)</text>
<path d="M1493.3 1658.7V2241.3M1639.4 1658.7V2241.3M1785.4 1658.7V2241.3M1931.4 1658.7V2241.3M2077.5 1658.7V2241.3M1347.3 1755.8H2223.5M1347.3 1852.9H2223.5M1347.3 1950.0H2223.5M1347.3 2047.1H2223.5M1347.3 2144.2H2223.5" stroke="#0000d2" stroke-width="4.6" stroke-dasharray="4.7 4.6" fill="none"/>
<path d="M1493.3 1658.7v25.5M1493.3 2241.3v-25.5M1639.4 1658.7v25.5M1639.4 2241.3v-25.5M1785.4 1658.7v25.5M1785.4 2241.3v-25.5M1931.4 1658.7v25.5M1931.4 2241.3v-25.5M2077.5 1658.7v25.5M2077.5 2241.3v-25.5M1347.3 1755.8h25.5M2223.5 1755.8h-25.5M1347.3 1852.9h25.5M2223.5 1852.9h-25.5M1347.3 1950.0h25.5M2223.5 1950.0h-25.5M1347.3 2047.1h25.5M2223.5 2047.1h-25.5M1347.3 2144.2h25.5M2223.5 2144.2h-25.5" stroke="#0000d2" stroke-width="4.6" fill="none"/>
<path d="m1785 1663-2 2 6 4-11 8 14 3-7 3 12 8-2 3 5 0-25 3 17 3 12 3-22 2 6 2 11 0-33 5 15 0-19 2 36 0 0 1-26 3 22 0-27 2 3 0 10 2-6 1-16 6 6 0-6 1 27 0 28 1-34 1-17 1-6 1 27 1-7 1 38 0-17 2-1 1 1 0-36 1 46 0 1 1 1 0-52 1 43 0-24 3 41 0-30 1 7 0-17 1 2 0 4 0 17 0-22 3 7 0 3 0-12 5 27 0 6 0-59 3 4 0 20 0-26 1 5 0 56 0-52 1 3 0 23 0-31 1 17 0-16 1 44 0 10 0-6 1-31 1 19 4-38 1 10 0 14 0 24 0-54 2 10 0 27 1 2 0 9 0 17 0-60 1 35 0 1 0 17 1 2 0-32 1 23 0-33 1 30 0-35 1-3 2 10 3 40 0-60 1 45 0-45 1 80 1-45 1 4 0 24 0 2 0 14 0-64 1 16 2 49 0-69 1 22 0-278 2 247 0 45 0 50 0 377 0-872 1 4 0 4 0 6 0 19 0 16 0 29 0 19 0 11 0 77 0 28 0 35 0 65 0 31 0 30 0 22 0 85 0 59 0 4 0 21 0 27 0 1 0 59 0 6 0 2 0 38 0 15 0 5 0 11 0 21 0 24 0 25 0 6 0 8 0 53 0 5 0-859 1 2 0 3 0 20 0 1 0 45 0 71 0 48 0 6 0 16 0 33 0 45 0 21 0 16 0 25 0 22 0 5 0 52 0 37 0 37 0 6 0 25 0 7 0 7 0 11 0 25 0 32 0 4 0 1 0 12 0 3 0 55 0 42 0 1 0 3 0 33 0 27 0 1 0 47 0 5 0 1 0 4 0-869 1 1 0 2 0 6 0 6 0 9 0 87 0 8 0 23 0 12 0 6 0 1 0 38 0 10 0 9 0 3 0 26 0 13 0 3 0 50 0 21 0 17 0 19 0 27 0 63 0 3 0 85 0 8 0 13 0 46 0 5 0 3 0 14 0 3 0 35 0 2 0 27 0 19 0 1 0 7 0 32 0 19 0 5 0 5 0 21 0 36 0 7 0 14 0-870 1 14 0 2 0 35 0 23 0 22 0 42 0 44 0 8 0 12 0 37 0 13 0 4 0 10 0 1 0 11 0 59 0 27 0 63 0 12 0 42 0 60 0 101 0 11 0 72 0 81 0 27 0 6 0 2 0 20 0 9 0 2 0-871 1 3 0 3 0 14 0 6 0 36 0 51 0 48 0 15 0 9 0 38 0 10 0 36 0 20 0 41 0 23 0 44 0 3 0 1 0 31 0 2 0 50 0 6 0 1 0 17 0 79 0 1 0 9 0 46 0 34 0 90 0 43 0 34 0 14 0 5 0-860 1 1 0 6 0 2 0 1 0 15 0 19 0 5 0 2 0 45 0 128 0 14 0 12 0 16 0 52 0 43 0 40 0 20 0 98 0 76 0 50 0 70 0 1 0 39 0 44 0 14 0 20 0 18 0 3 0 8 0-862 1 11 0 2 0 11 0 11 0 20 0 42 0 20 0 15 0 21 0 8 0 2 0 56 0 6 0 13 0 3 0 36 0 18 0 1 0 11 0 88 0 9 0 7 0 1 0 23 0 60 0 44 0 56 0 32 0 55 0 4 0 22 0 20 0 58 0 40 0 1 0 33 0 1 0 7 0-863 1 2 0 1 0 3 0 3 0 73 0 21 0 6 0 15 0 28 0 6 0 43 0 19 0 39 0 116 0 69 0 31 0 95 0 51 0 28 0 45 0 18 0 10 0 2 0 11 0 33 0 24 0 9 0 47 0 4 0 1 0 6 0 1 0-866 1 4 0 8 0 5 0 70 0 16 0 51 0 7 0 79 0 17 0 65 0 29 0 35 0 24 0 31 0 21 0 38 0 11 0 6 0 14 0 41 0 22 0 57 0 9 0 53 0 15 0 35 0 16 0 30 0 4 0 7 0 4 0 34 0 6 0-862 1 4 0 5 0 37 0 23 0 8 0 47 0 28 0 19 0 11 0 15 0 10 0 132 0 16 0 58 0 5 0 18 0 15 0 41 0 3 0 42 0 17 0 3 0 8 0 33 0 33 0 51 0 11 0 36 0 13 0 46 0 18 0 17 0 5 0 3 0 7 0 9 0 3 0 1 0-849 1 5 0 1 0 3 0 3 0 21 0 25 0 37 0 8 0 20 0 65 0 18 0 58 0 10 0 14 0 67 0 117 0 39 0 33 0 42 0 5 0 123 0 15 0 62 0 8 0 4 0 59 0 1 0-863 1 36 0 2 0 44 0 5 0 9 0 170 0 5 0 3 0 12 0 1 0 21 0 15 0 43 0 12 0 4 0 18 0 8 0 34 0 32 0 6 0 41 0 15 0 20 0 14 0 1 0 17 0 42 0 30 0 2 0 3 0 1 0 3 0 20 0 31 0 82 0 14 0 15 0 9 0 7 0 7 0 1 0 1 0 1 0 4 0-862 1 1 0 1 0 1 0 6 0 1 0 6 0 14 0 11 0 15 0 43 0 77 0 25 0 8 0 19 0 10 0 74 0 21 0 9 0 24 0 10 0 11 0 8 0 15 0 27 0 37 0 57 0 6 0 11 0 85 0 4 0 3 0 2 0 18 0 73 0 6 0 73 0 14 0 1 0 12 0 7 0 3 0 5 0 1 0 8 0-858 1 22 0 12 0 6 0 21 0 30 0 53 0 12 0 25 0 139 0 37 0 4 0 13 0 18 0 122 0 17 0 14 0 14 0 2 0 22 0 2 0 68 0 64 0 30 0 18 0 79 0-850 1 25 0 7 0 47 0 53 0 40 0 22 0 7 0 16 0 37 0 29 0 8 0 29 0 102 0 94 0 4 0 5 0 42 0 50 0 20 0 10 0 25 0 106 0 6 0 12 0 9 0 15 0 30 0 13 0-862 1 2 0 111 0 54 0 57 0 41 0 54 0 12 0 46 0 4 0 80 0 47 0 62 0 70 0 9 0 17 0 64 0 21 0 65 0 15 0 16 0 10 0 2 0 1 0-852 1 1 0 28 0 12 0 17 0 29 0 36 0 23 0 2 0 19 0 7 0 32 0 21 0 53 0 15 0 39 0 94 0 84 0 7 0 9 0 4 0 4 0 15 0 9 0 35 0 16 0 15 0 2 0 3 0 53 0 95 0 26 0 21 0 21 0-850 1 6 0 43 0 77 0 1 0 11 0 87 0 8 0 22 0 17 0 54 0 44 0 53 0 10 0 15 0 43 0 98 0 41 0 26 0 54 0 8 0 12 0 5 0 35 0 79 0 1 0 1 0 4 0-853 1 19 0 51 0 6 0 13 0 24 0 5 0 89 0 163 0 13 0 90 0 10 0 15 0 18 0 173 0 11 0 67 0 8 0 9 0 58 0 2 0 6 0-847 1 10 0 1 0 46 0 20 0 41 0 10 0 37 0 42 0 6 0 105 0 36 0 2 0 94 0 166 0 29 0 17 0 4 0 10 0 22 0 1 0 31 0 7 0 12 0 84 0 6 0 10 0-853 1 4 0 2 0 23 0 118 0 41 0 44 0 70 0 63 0 20 0 2 0 54 0 61 0 41 0 52 0 68 0 61 0 15 0 6 0 15 0 26 0 33 0 25 0 1 0 3 0-829 1 76 0 2 0 33 0 53 0 17 0 10 0 24 0 107 0 83 0 29 0 66 0 15 0 1 0 6 0 196 0 16 0 48 0 30 0 16 0-849 1 19 0 1 0 9 0 37 0 7 0 9 0 165 0 49 0 7 0 22 0 9 0 6 0 34 0 2 0 1 0 2 0 108 0 3 0 61 0 36 0 96 0 25 0 11 0-719 1 8 0 33 0 54 0 57 0 39 0 28 0 21 0 11 0 21 0 65 0 25 0 8 0 21 0 19 0 35 0 45 0 53 0 32 0 3 0 223 0-795 1 1 0 5 0 11 0 15 0 41 0 28 0 21 0 33 0 9 0 32 0 88 0 121 0 34 0 113 0 61 0 64 0 30 0 24 0 73 0 27 0 6 0 7 0-840 1 16 0 64 0 52 0 37 0 7 0 27 0 9 0 28 0 34 0 113 0 6 0 1 0 79 0 49 0 93 0 5 0 6 0 25 0 34 0 24 0 8 0 16 0 6 0 36 0 7 0 7 0 29 0 4 0-801 1 7 0 40 0 21 0 38 0 39 0 124 0 154 0 11 0 6 0 18 0 24 0 5 0 54 0 13 0 3 0 5 0 26 0 18 0 7 0 28 0 13 0 49 0 18 0 46 0 27 0 9 0 15 0-800 1 36 0 3 0 105 0 257 0 12 0 53 0 59 0 32 0 52 0 15 0 176 0 2 0-846 1 1 0 19 0 14 0 24 0 99 0 56 0 17 0 32 0 34 0 82 0 129 0 7 0 43 0 40 0 12 0 15 0 44 0 136 0 24 0 13 0 3 0-843 1 18 0 32 0 170 0 103 0 132 0 65 0 108 0 2 0 34 0 45 0 16 0 11 0 38 0 65 0-841 1 2 0 5 0 1 0 3 0 3 0 35 0 8 0 4 0 12 0 6 0 49 0 12 0 104 0 44 0 33 0 58 0 51 0 5 0 44 0 23 0 74 0 1 0 43 0 67 0 25 0 32 0 22 0 47 0 11 0 18 0-840 1 1 0 15 0 2 0 9 0 6 0 87 0 7 0 51 0 82 0 9 0 19 0 13 0 22 0 114 0 114 0 42 0 23 0 13 0 5 0 41 0 27 0 124 0 6 0 9 0-841 1 10 0 44 0 107 0 47 0 3 0 318 0 8 0 17 0 119 0 8 0 41 0 36 0 52 0 18 0-808 1 15 0 10 0 19 0 5 0 40 0 51 0 68 0 56 0 231 0 21 0 83 0 3 0 14 0 21 0 9 0 27 0 77 0 2 0 3 0 59 0-835 1 1 0 11 0 5 0 17 0 11 0 66 0 51 0 241 0 2 0 10 0 2 0 2 0 80 0 34 0 112 0 162 0 2 0 12 0-819 1 4 0 4 0 2 0 55 0 304 0 20 0 15 0 69 0 258 0 6 0 4 0 43 0 8 0 4 0 14 0 25 0-835 1 7 0 7 0 23 0 48 0 7 0 108 0 14 0 201 0 151 0 11 0 37 0 86 0 1 0 43 0 37 0-777 1 1 0 10 0 14 0 6 0 1 0 18 0 150 0 5 0 36 0 13 0 117 0 45 0 37 0 63 0 82 0 59 0 45 0 42 0 51 0 29 0-823 1 35 0 6 0 65 0 69 0 179 0 52 0 11 0 28 0 78 0 102 0 76 0 15 0 31 0 72 0-819 1 3 0 75 0 18 0 20 0 42 0 20 0 60 0 10 0 9 0 9 0 49 0 41 0 141 0 143 0 39 0 4 0 141 0-827 1 13 0 127 0 39 0 127 0 21 0 16 0 20 0 24 0 2 0 57 0 63 0 8 0 183 0 100 0 21 0 12 0-833 1 3 0 4 0 10 0 5 0 1 0 170 0 26 0 21 0 26 0 36 0 71 0 163 0 10 0 101 0 30 0-676 1 14 0 124 0 22 0 106 0 156 0 83 0 94 0 126 0 7 0 22 0 19 0 27 0 16 0 1 0 8 0 5 0 1 0 2 0-713 1 77 0 55 0 9 0 426 0 9 0 28 0 101 0-825 1 1 0 2 0 1 0 4 0 1 0 6 0 9 0 8 0 20 0 8 0 103 0 39 0 79 0 209 0 55 0 52 0 48 0 54 0 11 0 17 0 39 0 19 0 45 0-814 1 3 0 24 0 14 0 3 0 215 0 387 0 89 0-743 1 13 0 14 0 20 0 24 0 23 0 111 0 43 0 4 0 86 0 33 0 41 0 37 0 14 0 21 0 13 0 298 0 10 0-803 1 2 0 4 0 10 0 18 0 3 0 150 0 234 0 42 0 22 0 86 0 134 0 2 0 14 0 88 0 6 0-820 1 19 0 85 0 11 0 54 0 72 0 109 0 41 0 44 0 80 0 96 0 51 0 28 0 56 0 14 0 48 0 10 0-821 1 1 0 5 0 27 0 117 0 27 0 9 0 30 0 50 0 24 0 322 0 20 0 98 0 94 0 1 0-823 1 2 0 14 0 47 0 2 0 34 0 59 0 47 0 144 0 45 0 122 0 16 0 103 0 44 0 50 0 59 0-789 1 39 0 135 0 8 0 57 0 72 0 33 0 78 0 21 0 67 0 92 0 131 0 28 0 12 0 3 0-774 1 4 0 29 0 8 0 154 0 24 0 22 0 47 0 32 0 80 0 24 0 46 0 1 0 12 0 178 0 22 0 104 0-773 1 10 0 76 0 45 0 131 0 92 0 61 0 58 0 22 0 120 0 172 0 9 0 9 0-816 1 4 0 17 0 159 0 10 0 170 0 175 0 14 0 55 0 58 0 149 0 8 0-813 1 1 0 22 0 21 0 41 0 78 0 10 0 51 0 106 0 34 0 45 0 43 0 49 0 40 0 45 0 19 0 23 0 24 0 55 0 8 0 37 0 20 0 17 0-799 1 10 0 22 0 29 0 7 0 34 0 35 0 212 0 16 0 42 0 96 0 71 0 28 0 120 0 3 0 6 0 33 0 32 0 21 0-808 1 58 0 36 0 90 0 6 0 66 0 63 0 108 0 24 0 5 0 38 0 108 0 25 0 39 0 92 0 13 0-767 1 3 0 19 0 53 0 9 0 37 0 134 0 48 0 55 0 4 0 62 0 45 0 1 0 125 0 121 0 76 0 13 0 1 0-809 1 14 0 9 0 79 0 68 0 140 0 23 0 32 0 19 0 80 0 33 0 8 0 25 0 72 0 26 0 77 0 59 0 28 0-800 1 5 0 5 0 16 0 38 0 49 0 175 0 25 0 8 0 66 0 18 0 113 0 93 0 69 0 86 0 20 0 7 0 2 0 21 0-812 1 3 0 22 0 16 0 4 0 55 0 3 0 148 0 2 0 208 0 74 0 68 0-604 1 2 0 17 0 11 0 109 0 62 0 59 0 78 0 33 0 40 0 72 0 56 0 68 0 101 0 105 0-813 1 6 0 62 0 49 0 75 0 209 0 120 0 4 0 37 0 13 0 17 0 7 0 75 0 60 0 26 0 41 0 9 0 3 0-799 1 13 0 31 0 42 0 17 0 142 0 95 0 157 0 59 0 55 0 181 0-798 1 28 0 26 0 10 0 94 0 55 0 49 0 8 0 106 0 2 0 36 0 7 0 8 0 4 0 3 0 66 0 192 0 2 0 32 0 13 0 49 0 4 0 3 0 5 0-783 1 25 0 16 0 9 0 10 0 89 0 39 0 144 0 257 0 1 0 14 0 173 0 8 0 1 0-811 1 3 0 1 0 91 0 104 0 18 0 33 0 4 0 67 0 60 0 14 0 145 0 80 0 7 0 11 0 39 0 29 0 56 0 24 0 24 0-793 1 137 0 96 0 41 0 94 0 96 0 59 0 155 0 94 0 22 0-809 1 246 0 100 0 28 0 58 0 42 0 5 0 13 0 24 0 1 0 25 0 9 0 21 0 157 0 30 0 48 0-809 1 8 0 8 0 21 0 15 0 50 0 7 0 99 0 32 0 17 0 43 0 40 0 26 0 15 0 141 0 269 0 12 0 2 0-805 1 1 0 7 0 4 0 6 0 8 0 4 0 30 0 58 0 76 0 56 0 21 0 14 0 131 0 2 0 82 0 29 0 3 0 3 0 89 0 25 0 3 0 12 0 94 0 11 0 23 0 6 0 1 0 4 0 2 0-803 1 8 0 40 0 4 0 185 0 81 0 100 0 35 0 25 0 106 0 47 0 52 0 27 0 17 0 13 0 27 0 15 0 8 0 1 0 13 0-802 1 5 0 1 0 104 0 158 0 93 0 155 0 116 0 13 0 34 0 30 0 58 0 9 0 20 0-797 1 1 0 275 0 36 0 46 0 34 0 79 0 74 0 19 0 20 0-585 1 29 0 17 0 40 0 113 0 109 0 2 0 38 0 147 0 78 0 8 0 125 0 50 0 9 0 29 0-749 1 105 0 43 0 19 0 13 0 127 0 116 0 87 0 8 0 82 0 15 0 48 0-700 1 52 0 119 0 122 0 105 0 45 0 155 0 46 0 33 0 84 0 3 0-711 1 45 0 12 0 95 0 221 0 31 0 13 0 11 0 37 0 128 0 112 0 20 0 16 0-788 1 34 0 125 0 3 0 79 0 61 0 78 0 7 0 26 0 25 0 11 0 121 0 24 0 21 0 30 0 28 0 93 0 5 0 12 0-624 1 52 0 179 0 43 0 37 0 26 0 29 0 69 0 52 0 15 0 45 0 51 0 8 0 9 0 6 0-791 1 80 0 4 0 10 0 122 0 58 0 112 0 21 0 48 0 48 0 20 0 2 0 18 0 85 0 125 0-751 1 63 0 19 0 62 0 53 0 56 0 25 0 25 0 9 0 3 0 23 0 111 0 16 0 8 0 11 0 85 0 90 0 22 0 41 0 28 0 14 0 19 0-756 1 14 0 4 0 6 0 37 0 28 0 51 0 40 0 83 0 30 0 27 0 43 0 14 0 39 0 30 0 13 0 33 0 43 0 143 0 48 0 31 0 11 0-765 1 4 0 4 0 168 0 3 0 253 0 78 0 32 0 110 0 77 0-758 1 2 0 39 0 18 0 223 0 4 0 26 0 87 0 32 0 3 0 14 0 50 0 194 0 6 0 73 0 21 0-659 1 83 0 72 0 66 0 24 0 146 0 147 0 90 0 17 0 1 0 5 0 7 0-786 1 53 0 25 0 195 0 8 0 41 0 61 0 26 0 53 0 42 0 10 0 98 0 26 0 125 0-768 1 22 0 52 0 37 0 4 0 111 0 15 0 103 0 111 0 116 0 12 0 34 0 82 0 41 0 27 0 26 0-791 1 12 0 18 0 2 0 66 0 113 0 24 0 31 0 52 0 94 0 151 0 73 0 132 0 9 0-770 1 24 0 173 0 83 0 24 0 11 0 34 0 2 0 75 0 157 0 27 0 113 0 1 0 22 0 25 0-779 1 1 0 7 0 13 0 117 0 19 0 94 0 267 0 65 0 1 0 13 0 25 0 29 0 11 0 34 0 53 0 19 0 3 0 7 0 8 0 4 0-786 1 65 0 56 0 79 0 10 0 24 0 36 0 108 0 31 0 3 0 115 0 187 0 56 0 4 0 2 0 1 0 5 0-786 1 4 0 38 0 19 0 36 0 50 0 317 0 78 0 137 0 52 0 5 0 10 0 39 0-779 1 39 0 120 0 99 0 67 0 91 0 17 0 29 0 61 0 8 0 13 0 4 0 119 0 10 0 102 0 2 0-783 1 10 0 11 0 26 0 193 0 43 0 121 0 7 0 40 0 49 0 39 0 27 0 65 0 21 0 54 0 76 0-778 1 3 0 1 0 82 0 34 0 60 0 32 0 55 0 55 0 73 0 79 0 44 0 28 0 214 0-761 1 6 0 12 0 16 0 210 0 107 0 64 0 155 0 12 0 8 0 15 0 8 0 160 0-766 1 55 0 3 0 53 0 4 0 38 0 140 0 68 0 91 0 98 0 169 0 36 0 12 0 1 0 6 0-776 1 1 0 27 0 14 0 101 0 61 0 35 0 2 0 112 0 79 0 53 0 87 0 129 0 65 0 10 0-784 1 396 0 95 0 62 0 60 0 128 0 28 0 5 0 3 0-777 1 6 0 4 0 26 0 44 0 1 0 67 0 12 0 19 0 46 0 30 0 49 0 65 0 50 0 39 0 63 0 243 0 13 0-775 1 10 0 6 0 89 0 12 0 15 0 157 0 198 0 153 0 11 0 29 0 9 0 66 0 15 0 2 0 4 0 2 0 1 0-776 1 1 0 60 0 17 0 48 0 217 0 184 0 110 0 92 0 6 0-737 1 28 0 24 0 68 0 9 0 100 0 118 0 94 0 3 0 96 0 64 0 156 0 18 0-770 1 7 0 49 0 11 0 153 0 142 0 126 0 18 0 65 0 1 0 24 0 11 0 124 0 18 0 16 0-765 1 7 0 40 0 9 0 240 0 43 0 8 0 54 0 37 0 141 0 35 0 139 0 4 0 10 0 2 0-775 1 88 0 46 0 249 0 39 0 190 0 52 0 39 0 27 0-731 1 9 0 33 0 45 0 151 0 13 0 100 0 41 0 305 0 31 0 18 0 21 0 3 0 5 0-770 1 2 0 11 0 17 0 19 0 13 0 41 0 238 0 39 0 49 0 80 0 80 0 171 0-620 1 30 0 11 0 32 0 17 0 39 0 28 0 48 0 172 0 39 0 72 0 92 0 38 0 3 0 3 0-584 1 124 0 205 0 247 0-760 1 2 0 39 0 51 0 24 0 11 0 118 0 130 0 72 0 30 0 5 0 6 0 16 0 86 0 49 0 85 0-724 1 1 0 6 0 10 0 11 0 19 0 39 0 222 0 19 0 106 0 93 0 11 0 13 0 39 0 13 0 72 0 49 0 47 0-764 1 15 0 24 0 6 0 63 0 54 0 13 0 107 0 75 0 2 0 17 0 83 0 38 0 50 0 5 0 94 0 100 0 12 0 2 0-744 1 14 0 113 0 70 0 91 0 65 0 57 0 26 0 66 0 243 0 5 0-763 1 5 0 11 0 58 0 168 0 111 0 1 0 99 0 67 0 232 0-759 1 28 0 310 0 58 0 26 0 98 0 109 0 20 0 77 0-627 1 173 0 186 0 19 0 1 0 37 0 32 0 85 0 130 0 4 0-759 1 6 0 102 0 70 0 40 0 88 0 3 0 34 0 57 0 30 0 188 0 6 0 27 0 6 0 85 0 1 0 12 0 6 0-764 1 22 0 28 0 151 0 112 0 224 0 37 0 31 0 150 0-653 1 72 0 14 0 2 0 20 0 9 0 8 0 253 0 2 0 2 0 59 0 2 0 136 0 9 0 27 0 35 0 11 0-763 1 6 0 7 0 9 0 26 0 49 0 78 0 94 0 78 0 118 0 26 0 29 0 97 0 116 0 6 0 10 0 12 0-748 1 200 0 24 0 28 0 17 0 13 0 11 0 27 0 4 0 7 0 93 0 74 0 20 0 88 0 99 0 8 0 17 0 14 0 4 0-755 1 1 0 79 0 157 0 57 0 104 0 51 0 24 0 33 0 128 0 1 0 40 0 33 0 5 0 27 0 12 0-752 1 3 0 54 0 85 0 235 0 39 0 171 0 54 0 27 0 20 0 47 0 2 0 19 0-663 1 5 0 289 0 38 0-370 1 1 0 64 0 37 0 217 0 86 0 39 0 106 0 12 0 91 0 22 0 7 0-743 1 6 0 1 0 9 0 3 0 176 0 87 0 133 0 21 0 257 0 29 0 36 0 1 0-754 1 7 0 79 0 291 0 26 0 14 0 82 0 50 0 85 0 46 0 45 0 14 0 7 0 5 0-745 1 4 0 186 0 21 0 37 0 104 0 36 0 48 0 153 0 62 0 4 0 89 0 4 0-717 1 82 0 10 0 126 0 215 0 43 0 70 0 42 0 18 0 56 0 39 0 16 0-754 1 17 0 2 0 184 0 17 0 21 0 12 0 42 0 43 0 151 0 42 0 14 0 59 0 42 0 11 0 20 0 58 0 7 0-669 1 14 0 108 0 25 0 2 0 274 0 10 0 12 0 54 0 34 0 111 0 19 0 2 0-735 1 13 0 11 0 138 0 9 0 78 0 5 0 115 0 20 0 180 0 101 0 75 0-748 1 14 0 5 0 40 0 53 0 190 0 9 0 14 0 7 0 29 0 73 0 117 0 22 0 53 0 85 0-712 1 1 0 48 0 22 0 27 0 61 0 8 0 11 0 30 0 3 0 20 0 71 0 51 0 6 0 30 0 177 0 170 0-733 1 2 0 36 0 102 0 11 0 36 0 190 0 7 0 13 0 26 0 11 0 128 0 137 0 48 0-746 1 6 0 8 0 12 0 34 0 18 0 63 0 17 0 28 0 130 0 30 0 27 0 54 0 59 0 18 0 60 0 92 0 59 0 15 0 16 0 2 0-750 1 21 0 18 0 24 0 7 0 118 0 149 0 47 0 7 0 9 0 31 0 3 0 54 0 9 0 80 0 166 0-742 1 32 0 10 0 8 0 123 0 87 0 29 0 48 0 252 0 3 0 4 0 5 0 52 0 94 0-742 1 25 0 50 0 114 0 69 0 7 0 13 0 12 0 22 0 3 0 46 0 21 0 19 0 20 0 59 0 16 0 23 0 149 0 47 0 14 0 1 0 2 0 10 0-742 1 49 0 152 0 3 0 62 0 143 0 99 0 137 0 55 0 30 0 8 0 4 0-707 1 24 0 203 0 90 0 11 0 11 0 17 0 1 0 26 0 76 0 21 0 66 0 14 0 65 0-652 1 75 0 133 0 10 0 35 0 7 0 4 0 88 0 14 0 64 0 29 0 85 0 18 0 23 0 47 0 81 0 7 0 9 0 4 0-704 1 10 0 21 0 31 0 40 0 228 0 216 0 14 0 2 0 18 0 2 0 42 0 24 0 48 0 2 0 6 0-731 1 36 0 13 0 3 0 100 0 7 0 129 0 70 0 79 0 25 0 74 0 28 0 63 0 67 0 28 0 2 0-731 1 3 0 5 0 5 0 12 0 6 0 212 0 103 0 125 0 68 0 95 0-638 1 3 0 32 0 24 0 12 0 37 0 230 0 6 0 172 0 114 0 64 0 3 0 40 0 1 0-729 1 127 0 87 0 10 0 18 0 113 0 11 0 49 0 54 0 8 0 191 0 32 0 16 0-723 1 9 0 16 0 23 0 85 0 169 0 48 0 27 0 83 0 12 0 49 0 68 0 20 0 67 0 61 0-737 1 2 0 16 0 5 0 106 0 41 0 25 0 14 0 7 0 111 0 8 0 13 0 107 0 128 0 70 0-655 1 4 0 5 0 1 0 6 0 59 0 9 0 8 0 25 0 16 0 31 0 15 0 38 0 2 0 108 0 3 0 50 0 85 0 165 0 55 0 47 0 6 0-737 1 1 0 5 0 7 0 15 0 1 0 122 0 123 0 13 0 53 0 16 0 1 0 27 0 11 0 26 0 62 0-478 1 5 0 15 0 12 0 45 0 60 0 17 0 97 0 4 0 19 0 125 0 88 0 91 0 53 0 53 0 32 0 12 0 2 0-724 1 5 0 17 0 11 0 26 0 36 0 74 0 91 0 52 0 25 0 6 0 38 0 72 0 24 0 167 0 64 0-718 1 8 0 97 0 17 0 20 0 221 0 51 0 66 0 23 0 56 0 141 0 34 0-728 1 1 0 3 0 14 0 44 0 18 0 32 0 16 0 89 0 60 0 33 0 189 0 33 0 7 0 159 0 27 0 1 0-731 1 3 0 1 0 11 0 33 0 20 0 38 0 65 0 65 0 104 0 122 0 64 0 21 0 68 0 27 0 59 0-690 1 9 0 60 0 27 0 118 0 12 0 2 0 117 0 66 0 153 0 99 0 51 0 3 0-714 1 13 0 2 0 34 0 185 0 18 0 31 0 27 0 352 0 11 0 35 0-719 1 1 0 5 0 34 0 43 0 22 0 36 0 15 0 314 0 2 0 55 0 34 0 53 0 36 0 48 0-700 1 1 0 7 0 23 0 75 0 14 0 90 0 17 0 195 0 54 0 105 0 82 0 12 0-674 1 3 0 3 0 17 0 269 0 28 0 21 0 57 0 92 0 26 0 20 0 88 0 4 0 99 0-720 1 12 0 8 0 37 0 79 0 48 0 113 0 128 0 114 0 103 0 7 0 33 0-631 1 1 0 7 0 154 0 14 0 100 0 110 0 4 0 11 0 15 0 73 0 77 0 49 0 53 0-719 1 21 0 4 0 15 0 63 0 45 0 73 0 195 0 2 0 76 0 165 0 17 0 23 0 1 0 3 0-706 1 9 0 10 0 77 0 81 0 43 0 20 0 18 0 25 0 83 0 35 0 6 0 140 0 64 0 7 0 26 0 72 0 4 0-714 1 2 0 8 0 80 0 2 0 9 0 175 0 148 0 106 0 16 0 48 0 32 0 41 0 37 0-654 1 17 0 10 0 79 0 154 0 5 0 79 0 48 0 13 0 7 0 30 0 66 0 96 0 27 0-675 1 2 0 9 0 20 0 105 0 10 0 37 0 11 0 29 0 132 0 4 0 6 0 59 0 36 0 32 0 216 0-720 1 3 0 6 0 34 0 32 0 22 0 38 0 11 0 20 0 45 0 102 0 46 0 117 0 64 0 66 0 66 0 9 0 25 0 8 0-708 1 9 0 20 0 153 0 27 0 228 0 4 0 52 0 14 0 135 0 44 0 11 0 15 0-700 1 4 0 152 0 51 0 21 0 77 0 1 0 81 0 76 0 88 0 24 0 4 0 5 0 37 0 69 0-705 1 16 0 1 0 1 0 18 0 111 0 35 0 114 0 8 0 12 0 9 0 24 0 8 0 176 0 23 0 128 0 27 0-713 1 62 0 42 0 6 0 36 0 12 0 72 0 198 0 39 0 11 0 4 0 32 0 32 0 9 0 80 0 36 0 38 0 1 0-568 1 20 0 77 0 6 0 29 0 106 0 27 0 23 0 18 0 41 0 135 0 6 0 15 0 7 0 9 0 4 0 46 0 4 0-652 1 46 0 45 0 210 0 23 0 5 0 114 0 194 0 11 0 4 0 1 0-715 1 230 0 109 0 23 0 15 0 14 0 31 0 11 0 25 0 179 0 6 0 23 0-654 1 103 0 131 0 30 0 73 0 17 0 39 0 22 0 6 0 15 0 2 0 24 0 4 0 25 0 85 0 78 0 6 0 18 0 6 0 3 0-696 1 10 0 168 0 54 0 28 0 76 0 214 0 45 0 14 0 7 0 6 0 77 0 5 0 7 0-711 1 128 0 48 0 88 0 48 0 10 0 3 0 4 0 40 0 30 0 18 0 139 0 26 0 6 0 16 0 7 0 28 0 22 0 48 0-710 1 6 0 14 0 74 0 16 0 23 0 99 0 120 0 75 0 3 0 8 0 28 0 146 0 22 0 74 0-691 1 1 0 26 0 13 0 106 0 227 0 47 0 31 0 160 0-624 1 208 0 16 0 51 0 31 0 70 0 39 0 7 0 37 0 36 0 57 0 21 0 27 0 108 0-706 1 3 0 21 0 18 0 137 0 7 0 24 0 106 0 8 0 29 0 113 0 97 0 120 0 18 0-684 1 31 0 20 0 37 0 146 0 28 0 1 0 45 0 95 0 75 0 1 0 37 0 44 0 14 0 94 0 16 0-691 1 26 0 7 0 114 0 2 0 58 0 35 0 14 0 44 0 53 0 17 0 7 0 36 0 71 0 9 0 22 0 32 0 134 0 12 0-679 1 4 0 37 0 25 0 10 0 7 0 19 0 19 0 82 0 52 0 32 0 32 0 261 0 80 0-684 1 4 0 1 0 6 0 16 0 79 0 74 0 19 0 14 0 26 0 2 0 8 0 7 0 12 0 21 0 54 0 116 0 16 0 15 0 191 0 9 0 8 0-684 1 33 0 109 0 66 0 1 0 28 0 38 0 47 0 12 0 16 0 110 0 230 0-703 1 2 0 23 0 12 0 90 0 61 0 27 0 3 0 5 0 7 0 16 0 126 0 4 0 15 0 15 0 21 0 2 0 5 0 11 0 71 0 15 0 115 0 26 0 30 0-698 1 32 0 170 0 101 0 18 0 14 0 49 0 30 0 17 0 101 0 30 0 59 0 13 0 39 0 11 0-689 1 7 0 8 0 36 0 40 0 50 0 35 0 41 0 101 0 22 0 10 0 17 0 24 0 42 0 20 0 12 0 148 0 58 0-662 1 71 0 7 0 39 0 149 0 37 0 9 0 98 0 51 0 109 0 116 0-691 1 4 0 3 0 26 0 48 0 156 0 27 0 11 0 30 0 5 0 69 0 112 0 72 0 68 0 16 0 25 0 10 0-682 1 14 0 173 0 78 0 9 0 45 0 53 0 131 0 166 0-667 1 47 0 15 0 23 0 33 0 136 0 1 0 6 0 43 0 110 0 82 0 189 0 7 0-681 1 5 0 13 0 49 0 9 0 54 0 103 0 93 0 33 0 29 0 25 0 3 0 259 0-639 1 24 0 5 0 23 0 28 0 33 0 80 0 26 0 17 0 8 0 24 0 97 0 12 0 7 0 23 0 27 0 37 0 141 0 8 0 25 0-688 1 30 0 54 0 98 0 131 0 25 0 2 0 1 0 14 0 9 0 195 0 15 0 53 0 48 0-682 1 9 0 53 0 151 0 22 0 162 0 124 0 53 0 19 0 16 0 23 0 5 0 38 0 16 0 4 0-693 1 8 0 19 0 5 0 85 0 6 0 4 0 30 0 28 0 46 0 17 0 174 0 18 0 36 0 48 0 15 0 44 0 4 0 17 0 74 0 12 0-686 1 41 0 51 0 10 0 20 0 80 0 18 0 25 0 152 0 84 0 70 0 38 0 89 0-680 1 5 0 3 0 39 0 24 0 4 0 77 0 66 0 28 0 33 0 120 0 20 0 9 0 116 0 29 0 22 0 8 0 70 0 1 0 8 0 5 0 2 0-651 1 73 0 163 0 11 0 49 0 6 0 8 0 98 0 16 0 29 0 159 0 15 0 1 0 6 0-653 1 150 0 4 0 38 0 39 0 130 0 21 0 71 0 30 0 27 0 34 0 31 0 93 0-683 1 5 0 22 0 10 0 1 0 122 0 121 0 41 0 182 0 91 0 2 0 4 0 54 0 19 0-677 1 33 0 74 0 54 0 124 0 9 0 51 0 68 0 12 0 84 0 16 0 45 0 88 0 12 0-663 1 198 0 1 0 90 0 91 0 60 0 78 0 159 0 1 0-684 1 20 0 1 0 133 0 126 0 24 0 6 0 20 0 14 0 92 0 11 0 70 0 129 0 6 0 6 0 11 0 9 0 2 0-678 1 11 0 1 0 121 0 13 0 145 0 15 0 70 0 100 0-436 1 13 0 283 0 1 0 75 0 4 0 2 0 50 0 110 0 22 0 69 0-669 1 5 0 14 0 36 0 64 0 43 0 33 0 158 0 21 0 1 0 39 0 88 0 57 0 71 0 41 0-662 1 3 0 7 0 7 0 61 0 198 0 176 0 150 0 11 0 54 0-675 1 10 0 10 0 45 0 151 0 2 0 63 0 3 0 30 0 104 0 12 0 26 0 16 0 26 0 113 0 11 0 43 0 13 0-669 1 48 0 252 0 103 0 37 0 17 0 104 0 60 0 28 0-658 1 68 0 57 0 78 0 156 0 46 0 131 0 111 0 21 0-667 1 82 0 96 0 38 0 7 0 119 0 38 0 239 0 35 0 8 0 2 0-613 1 163 0 39 0 224 0 34 0 34 0 4 0 74 0 13 0 28 0 2 0 5 0-673 1 2 0 115 0 144 0 77 0 53 0 183 0 4 0 53 0 2 0 30 0-660 1 34 0 91 0 1 0 14 0 67 0 39 0 32 0 23 0 59 0 66 0 16 0 25 0 48 0 151 0-657 1 27 0 29 0 19 0 98 0 52 0 67 0 2 0 28 0 30 0 25 0 213 0 12 0 4 0 5 0 24 0-644 1 14 0 170 0 6 0 16 0 147 0 12 0 5 0 34 0 18 0 14 0 38 0 21 0 44 0 120 0-654 1 20 0 38 0 47 0 1 0 2 0 46 0 89 0 118 0 20 0 36 0 4 0 14 0 22 0 13 0 82 0 83 0 9 0 9 0 6 0 2 0 2 0 6 0 1 0-649 1 148 0 9 0 38 0 77 0 3 0 8 0 22 0 129 0 4 0 30 0 22 0 90 0 39 0 15 0 15 0-674 1 6 0 39 0 25 0 37 0 89 0 2 0 20 0 10 0 42 0 2 0 84 0 13 0 77 0 37 0 43 0 33 0 45 0-604 1 2 0 115 0 132 0 5 0 21 0 16 0 8 0 31 0 27 0 35 0 69 0 21 0 165 0 23 0-669 1 71 0 265 0 19 0 18 0 7 0-381 1 14 0 4 0 2 0 34 0 15 0 7 0 56 0 65 0 26 0 56 0 93 0 4 0 44 0 38 0 207 0-662 1 4 0 49 0 67 0 74 0 38 0 15 0 99 0 14 0 83 0 91 0 34 0-570 1 6 0 10 0 84 0 96 0 186 0 7 0 228 0 1 0 7 0 40 0 2 0-652 1 221 0 29 0 41 0 104 0 12 0 5 0 11 0 43 0 111 0 36 0-625 1 31 0 25 0 120 0 59 0 10 0 19 0 23 0 14 0 14 0 37 0 4 0 13 0 56 0 17 0 13 0 33 0 100 0 3 0-592 1 68 0 21 0 2 0 8 0 100 0 37 0 69 0 102 0 21 0 27 0 37 0 113 0-593 1 3 0 5 0 248 0 226 0 97 0 38 0 17 0-641 1 5 0 5 0 1 0 24 0 80 0 110 0 111 0 68 0 26 0 36 0 145 0 49 0-629 1 154 0 96 0 1 0 34 0 8 0 51 0 51 0 11 0 31 0 61 0 25 0 25 0 62 0 9 0 11 0-628 1 18 0 158 0 20 0 34 0 13 0 13 0 57 0 1 0 58 0 26 0 106 0 99 0 19 0-641 1 10 0 24 0 73 0 43 0 67 0 21 0 45 0 30 0 50 0 27 0 1 0 51 0 7 0 69 0 116 0 5 0-654 1 5 0 8 0 21 0 27 0 159 0 3 0 50 0 68 0 3 0 41 0 21 0 21 0 5 0 22 0 73 0 86 0 34 0 6 0 2 0 1 0-649 1 2 0 12 0 7 0 98 0 18 0 76 0 52 0 114 0 55 0 79 0 11 0 27 0 94 0-647 1 8 0 76 0 142 0 47 0 47 0 8 0 11 0 35 0 65 0 107 0 14 0 30 0 14 0 19 0 21 0 6 0-656 1 5 0 5 0 47 0 92 0 42 0 35 0 108 0 164 0 41 0 122 0-659 1 8 0 4 0 5 0 40 0 50 0 56 0 66 0 79 0 88 0 254 0-646 1 1 0 206 0 39 0 49 0 19 0 3 0 12 0 5 0 82 0 1 0 1 0 88 0 72 0 18 0 37 0 5 0 5 0 9 0-624 1 23 0 57 0 5 0 75 0 4 0 8 0 112 0 76 0 42 0 94 0 75 0 50 0 4 0-648 1 8 0 70 0 127 0 36 0 4 0 106 0 58 0 74 0 13 0 8 0 105 0 16 0 8 0-640 1 32 0 21 0 119 0 49 0 48 0 2 0 33 0 40 0 1 0 87 0 7 0 9 0 141 0 53 0 5 0 5 0 2 0 1 0-641 1 27 0 10 0 29 0 218 0 20 0 49 0 52 0 78 0 92 0-589 1 1 0 105 0 148 0 140 0 79 0 18 0-489 1 93 0 128 0 55 0 26 0 143 0 91 0 51 0 16 0 39 0 2 0 4 0 3 0-647 1 9 0 10 0 13 0 19 0 39 0 27 0 142 0 71 0 58 0 18 0 3 0 135 0 44 0 7 0 49 0 3 0-639 1 1 0 2 0 2 0 23 0 39 0 143 0 31 0 19 0 49 0 88 0 89 0 96 0 18 0-611 1 3 0 6 0 51 0 26 0 28 0 32 0 18 0 50 0 99 0 64 0 12 0 29 0 26 0 12 0 8 0 22 0 90 0 14 0 14 0 40 0-553 1 16 0 23 0 104 0 119 0 179 0 114 0-643 1 6 0 21 0 6 0 267 0 9 0 51 0 51 0 95 0 29 0 63 0 43 0-638 1 95 0 52 0 14 0 42 0 1 0 17 0 5 0 124 0 151 0 55 0 70 0 2 0 7 0-639 1 16 0 8 0 5 0 171 0 2 0 47 0 33 0 7 0 92 0 56 0 87 0 88 0 21 0 4 0 8 0-636 1 67 0 152 0 52 0 46 0 99 0 133 0 26 0 29 0-603 1 4 0 6 0 7 0 183 0 11 0 7 0 63 0 27 0 26 0 15 0 9 0 49 0 55 0 33 0 130 0 9 0-621 1 22 0 19 0 6 0 30 0 112 0 6 0 30 0 7 0 9 0 11 0 97 0 3 0 93 0 80 0 79 0 5 0 9 0-561 1 95 0 23 0 19 0 17 0 18 0 1 0 72 0 9 0 60 0 8 0 24 0 54 0 144 0 11 0 1 0-600 1 101 0 73 0 5 0 149 0 113 0 18 0 66 0 43 0 11 0 20 0 1 0 5 0-633 1 21 0 76 0 38 0 26 0 7 0 17 0 86 0 49 0 62 0 31 0 2 0 35 0 88 0 60 0 33 0 2 0-638 1 31 0 17 0 40 0 51 0 44 0 27 0 42 0 154 0 2 0 21 0 11 0 32 0 122 0 29 0 1 0-583 1 44 0 11 0 24 0 5 0 118 0 22 0 17 0 61 0 84 0 178 0 5 0 17 0 2 0 7 0-632 1 4 0 1 0 39 0 17 0 2 0 132 0 6 0 16 0 147 0 46 0 13 0 20 0 126 0 35 0 15 0-620 1 119 0 32 0 41 0 24 0 18 0 10 0 77 0 67 0 2 0 44 0 163 0 6 0 3 0 1 0 14 0 13 0-638 1 301 0 55 0 168 0 35 0 9 0 38 0 7 0 15 0 1 0-626 1 11 0 113 0 18 0 9 0 27 0 55 0 182 0 1 0 10 0 100 0 7 0 1 0 5 0 92 0-630 1 1 0 6 0 16 0 93 0 6 0 69 0 101 0 75 0 15 0 3 0 8 0 37 0 21 0 173 0 3 0 6 0-635 1 13 0 69 0 145 0 77 0 59 0 13 0 26 0 31 0 1 0 148 0 7 0 24 0 3 0 13 0-628 1 4 0 8 0 7 0 51 0 52 0 8 0 6 0 25 0 40 0 7 0 4 0 26 0 5 0 22 0 1 0 66 0 22 0 66 0 110 0 50 0 28 0 5 0 6 0 9 0-617 1 30 0 74 0 10 0 14 0 68 0 33 0 34 0 10 0 232 0 7 0 16 0 36 0 7 0 30 0-611 1 6 0 4 0 98 0 80 0 134 0 64 0 62 0 66 0 7 0 23 0 4 0 60 0-607 1 51 0 6 0 3 0 163 0 53 0 8 0 72 0 24 0 41 0 15 0 39 0 148 0-622 1 49 0 4 0 2 0 68 0 13 0 5 0 22 0 18 0 22 0 214 0 22 0 77 0 100 0-610 1 2 0 22 0 46 0 38 0 55 0 84 0 155 0 18 0 38 0 50 0 50 0 36 0 28 0-619 1 60 0 114 0 22 0 84 0 127 0 86 0 105 0 2 0 3 0 17 0-628 1 3 0 1 0 31 0 61 0 94 0 10 0 9 0 78 0 48 0 12 0 19 0 4 0 18 0 87 0 14 0 1 0 137 0-624 1 66 0 5 0 51 0 92 0 10 0 15 0 50 0 25 0 232 0 12 0 46 0-590 1 9 0 25 0 50 0 3 0 10 0 4 0 24 0 84 0 39 0 195 0 102 0 23 0 10 0 10 0 13 0 6 0 2 0-622 1 87 0 42 0 56 0 1 0 96 0 49 0 14 0 26 0 10 0 58 0 15 0 14 0 48 0 20 0 39 0 31 0 16 0-624 1 28 0 37 0 119 0 5 0 51 0 46 0 71 0 116 0 29 0 74 0 2 0 39 0-617 1 6 0 4 0 6 0 65 0 199 0 26 0 89 0 73 0 68 0 73 0 7 0-605 1 26 0 45 0 80 0 45 0 4 0 20 0 15 0 43 0 30 0 85 0 4 0 11 0 2 0 51 0 133 0 14 0 3 0-557 1 28 0 24 0 5 0 36 0 21 0 9 0 19 0 175 0 2 0 17 0 60 0 142 0 6 0 10 0-616 1 22 0 16 0 9 0 107 0 14 0 78 0 80 0 15 0 52 0 1 0 10 0 101 0 57 0 8 0-571 1 8 0 9 0 29 0 3 0 15 0 82 0 71 0 88 0 106 0 78 0 76 0 37 0 5 0 8 0-615 1 54 0 50 0 169 0 53 0 70 0 104 0 96 0 4 0-598 1 9 0 15 0 21 0 16 0 86 0 159 0 14 0 23 0 5 0 64 0 5 0 14 0 85 0 61 0 15 0 3 0 6 0-590 1 27 0 59 0 31 0 46 0 46 0 32 0 18 0 157 0 56 0 61 0 3 0 51 0-596 1 146 0 36 0 1 0 6 0 8 0 141 0 124 0 82 0 62 0-596 1 16 0 6 0 88 0 2 0 47 0 64 0 83 0 22 0 6 0 76 0 110 0 34 0 21 0 8 0 13 0 4 0 3 0-606 1 21 0 98 0 39 0 7 0 36 0 6 0 229 0 5 0 21 0 111 0 25 0 5 0-605 1 20 0 78 0 24 0 29 0 7 0 18 0 27 0 91 0 16 0 21 0 94 0 110 0 33 0 11 0 8 0-582 1 1 0 89 0 40 0 11 0 37 0 31 0 13 0 14 0 9 0 9 0 21 0 33 0 9 0 75 0 5 0 61 0 54 0 13 0 68 0-597 1 25 0 18 0 150 0 32 0 98 0 123 0 70 0 33 0 1 0 9 0 8 0 30 0 2 0-551 1 104 0 32 0 10 0 64 0 43 0 10 0 27 0 71 0 66 0 107 0 20 0-603 1 4 0 1 0 8 0 1 0 87 0 10 0 11 0 140 0 130 0 13 0-342 1 135 0 11 0 8 0 3 0 92 0 61 0 4 0 98 0 28 0 27 0 64 0 4 0-582 1 1 0 3 0 12 0 51 0 51 0 3 0 35 0 7 0 36 0 10 0 17 0 139 0 119 0 1 0 73 0 28 0-599 1 8 0 102 0 21 0 5 0 89 0 11 0 36 0 45 0 83 0 2 0 40 0 93 0 59 0-595 1 115 0 5 0 38 0 32 0 31 0 46 0 62 0 3 0 84 0 8 0 47 0 110 0 11 0 4 0 2 0-597 1 1 0 5 0 5 0 269 0 128 0 150 0 23 0-583 1 6 0 23 0 40 0 2 0 45 0 42 0 15 0 16 0 53 0 109 0 60 0 131 0 13 0 38 0 1 0 2 0-591 1 34 0 33 0 89 0 33 0 10 0 39 0 21 0 52 0 57 0 198 0 7 0 10 0 12 0-599 1 56 0 53 0 156 0 2 0 66 0 39 0 92 0 15 0 68 0 3 0 26 0-567 1 14 0 7 0 101 0 19 0 2 0 94 0 16 0 95 0 73 0 17 0 17 0 10 0 77 0 1 0 15 0 30 0-595 1 3 0 179 0 36 0 72 0 42 0 3 0 41 0 10 0 23 0 137 0 11 0 26 0 6 0 1 0-576 1 6 0 72 0 56 0 45 0 25 0 111 0 8 0 13 0 72 0 2 0 31 0 10 0 30 0 87 0 7 0 4 0-588 1 9 0 49 0 95 0 52 0 99 0 20 0 99 0 41 0 45 0 77 0-586 1 47 0 124 0 3 0 21 0 8 0 35 0 44 0 5 0 98 0 9 0 35 0 49 0 103 0 1 0 4 0 2 0-584 1 55 0 16 0 11 0 38 0 15 0 36 0 70 0 42 0 38 0 37 0 5 0 42 0 54 0 82 0-434 1 46 0 41 0 77 0 2 0 10 0 22 0 54 0 69 0 27 0 11 0 103 0 12 0-585 1 118 0 36 0 3 0 59 0 47 0 36 0 60 0 43 0 59 0 13 0 87 0-540 1 81 0 84 0 175 0 81 0 1 0 68 0 42 0-548 1 6 0 23 0 118 0 14 0 46 0 13 0 3 0 19 0 29 0 40 0 86 0 2 0 148 0 20 0 10 0-579 1 14 0 50 0 127 0 152 0 8 0 17 0 107 0 4 0 42 0 10 0 16 0-547 1 23 0 37 0 21 0 32 0 27 0 27 0 48 0 19 0 13 0 60 0 26 0 17 0 10 0 20 0 29 0 165 0 2 0 5 0-583 1 14 0 79 0 73 0 115 0 17 0 42 0 7 0 5 0 21 0 87 0 61 0-511 1 22 0 112 0 10 0 16 0 40 0 20 0 11 0 72 0 88 0 9 0 20 0 79 0 53 0 2 0 15 0-570 1 5 0 2 0 61 0 61 0 38 0 78 0 11 0 23 0 14 0 15 0 2 0 19 0 9 0 40 0 1 0 10 0 2 0 22 0 21 0 73 0 21 0 16 0 19 0 7 0 4 0-581 1 1 0 3 0 5 0 18 0 21 0 11 0 94 0 2 0 9 0 73 0 10 0 89 0 2 0 59 0 97 0 78 0-568 1 2 0 3 0 10 0 24 0 16 0 81 0 19 0 87 0 31 0 24 0 79 0 17 0 87 0-478 1 5 0 2 0 17 0 76 0 24 0 5 0 8 0 58 0 40 0 20 0 58 0 80 0 92 0 30 0 50 0-558 1 24 0 6 0 90 0 202 0 13 0 62 0 117 0 44 0-559 1 12 0 2 0 95 0 11 0 2 0 6 0 1 0 55 0 5 0 97 0 10 0 61 0 11 0 6 0 25 0 4 0 150 0 1 0 9 0-559 1 22 0 24 0 22 0 13 0 18 0 6 0 29 0 93 0 16 0 16 0 26 0 2 0 2 0 11 0 26 0 12 0 191 0 24 0 5 0 1 0-570 1 3 0 57 0 25 0 50 0 5 0 7 0 54 0 9 0 21 0 25 0 20 0 10 0 140 0 10 0 58 0 58 0 9 0 9 0-570 1 14 0 7 0 3 0 49 0 2 0 52 0 11 0 28 0 51 0 28 0 48 0 71 0 29 0 26 0 4 0 39 0 53 0 18 0 6 0 10 0 1 0 6 0-554 1 10 0 1 0 46 0 6 0 43 0 19 0 1 0 17 0 66 0 5 0 116 0 72 0 18 0 22 0 16 0 1 0 49 0 45 0 2 0 8 0 5 0-568 1 37 0 23 0 34 0 71 0 7 0 9 0 1 0 13 0 30 0 57 0 11 0 33 0 96 0 26 0 10 0 95 0 3 0-557 1 5 0 12 0 64 0 21 0 156 0 40 0 1 0 18 0 2 0 22 0 153 0 12 0 59 0-556 1 16 0 151 0 47 0 21 0 94 0 5 0 19 0 11 0 22 0 59 0 79 0 4 0-523 1 12 0 105 0 7 0 27 0 37 0 128 0 35 0 53 0 61 0 33 0 25 0 12 0-547 1 1 0 2 0 31 0 35 0 8 0 14 0 5 0 16 0 4 0 143 0 37 0 23 0 5 0 15 0 35 0 26 0 42 0 3 0 45 0 4 0 26 0 23 0 19 0-553 1 10 0 3 0 61 0 42 0 44 0 7 0 240 0 61 0 76 0 6 0-557 1 2 0 56 0 5 0 5 0 72 0 15 0 38 0 15 0 121 0 48 0 29 0 17 0 46 0 18 0 9 0 26 0 18 0 21 0-558 1 58 0 35 0 49 0 194 0 22 0 27 0 21 0 11 0 50 0 20 0 20 0 37 0 7 0 3 0-547 1 21 0 12 0 84 0 87 0 16 0 16 0 5 0 7 0 23 0 10 0 23 0 8 0 43 0 1 0 42 0 137 0 10 0-545 1 8 0 3 0 130 0 50 0 41 0 84 0 46 0 29 0 39 0 83 0 26 0-544 1 61 0 32 0 56 0 13 0 127 0 62 0 22 0 10 0 16 0 13 0 10 0 53 0 6 0 2 0 44 0 12 0 12 0 1 0-526 1 59 0 7 0 60 0 38 0 24 0 13 0 3 0 39 0 9 0 4 0 113 0 19 0 53 0 31 0 20 0 32 0-552 1 5 0 19 0 66 0 12 0 43 0 8 0 76 0 27 0 46 0 157 0 58 0 23 0-540 1 13 0 1 0 32 0 37 0 7 0 48 0 80 0 15 0 12 0 9 0 79 0 44 0 30 0 122 0 21 0-543 1 4 0 33 0 54 0 30 0 23 0 4 0 12 0 4 0 70 0 18 0 30 0 18 0 73 0 71 0 94 0 5 0-544 1 49 0 191 0 39 0 204 0-480 1 1 0 29 0 85 0 11 0 4 0 24 0 11 0 14 0 23 0 21 0 3 0 13 0 27 0 9 0 31 0 23 0 31 0 11 0 42 0 2 0 34 0 24 0 45 0 12 0 3 0-539 1 3 0 3 0 4 0 39 0 3 0 9 0 53 0 10 0 74 0 6 0 11 0 96 0 70 0 4 0 90 0 64 0-531 1 8 0 4 0 16 0 48 0 2 0 38 0 54 0 37 0 14 0 13 0 57 0 26 0 54 0 2 0 24 0 14 0 18 0 42 0 13 0 41 0-525 1 76 0 18 0 34 0 37 0 38 0 6 0 40 0 47 0 1 0 19 0 7 0 32 0 49 0 13 0 21 0 54 0 23 0 17 0-515 1 10 0 18 0 50 0 38 0 45 0 9 0 29 0 1 0 13 0 1 0 61 0 7 0 231 0-522 1 2 0 29 0 29 0 9 0 42 0 32 0 29 0 33 0 31 0 37 0 6 0 23 0 23 0 20 0 19 0 27 0 32 0 64 0 29 0 3 0-529 1 3 0 5 0 3 0 15 0 18 0 20 0 24 0 5 0 104 0 183 0 1 0 84 0 60 0 5 0 2 0 2 0-534 1 4 0 11 0 22 0 7 0 26 0 2 0 2 0 5 0 35 0 51 0 28 0 1 0 27 0 18 0 192 0 9 0 1 0 72 0 14 0 4 0-520 1 40 0 5 0 79 0 2 0 37 0 2 0 32 0 74 0 15 0 20 0 30 0 5 0 25 0 12 0 7 0 29 0 36 0 16 0 11 0 6 0 37 0-526 1 21 0 56 0 43 0 49 0 5 0 57 0 3 0 30 0 21 0 205 0 11 0 15 0-515 1 38 0 34 0 24 0 1 0 84 0 47 0 22 0 40 0 6 0 2 0 35 0 37 0 5 0 1 0 76 0 4 0 7 0 55 0 4 0-515 1 14 0 43 0 14 0 25 0 45 0 57 0 20 0 17 0 49 0 36 0 65 0 32 0 2 0 18 0 34 0 36 0-513 1 12 0 9 0 7 0 171 0 14 0 24 0 46 0 15 0 3 0 60 0 34 0 15 0 1 0 31 0 76 0 6 0-525 1 32 0 66 0 14 0 10 0 31 0 60 0 28 0 5 0 2 0 18 0 2 0 28 0 43 0 67 0 3 0 81 0 1 0 25 0-478 1 11 0 5 0 15 0 8 0 14 0 41 0 31 0 3 0 36 0 29 0 75 0 6 0 26 0 13 0 38 0 3 0 21 0 10 0 2 0 48 0 11 0 4 0 10 0 2 0 15 0 6 0-519 1 126 0 36 0 5 0 16 0 17 0 47 0 24 0 16 0 6 0 24 0 38 0 31 0 3 0 56 0 66 0 6 0 1 0-515 1 29 0 14 0 15 0 16 0 119 0 7 0 15 0 1 0 28 0 16 0 16 0 8 0 4 0 4 0 39 0 15 0 6 0 10 0 26 0 22 0 28 0 2 0-420 1 2 0 30 0 28 0 17 0 3 0 9 0 42 0 27 0 55 0 6 0 20 0 14 0 5 0 48 0 1 0 33 0 14 0 3 0 18 0 9 0 30 0 23 0 19 0 33 0 7 0-512 1 24 0 67 0 8 0 2 0 2 0 10 0 19 0 30 0 38 0 18 0 12 0 2 0 3 0 3 0 27 0 1 0 200 0 31 0 2 0-492 1 69 0 14 0 26 0 63 0 3 0 19 0 37 0 23 0 16 0 8 0 47 0 25 0 4 0 1 0 31 0 5 0 3 0 17 0 5 0 29 0-448 1 61 0 2 0 3 0 52 0 6 0 20 0 7 0 46 0 19 0 12 0 75 0 15 0 9 0 12 0 35 0 9 0 71 0 19 0 9 0 13 0-497 1 15 0 22 0 16 0 47 0 1 0 42 0 21 0 16 0 9 0 5 0 10 0 3 0 15 0 29 0 57 0 139 0 24 0 10 0 3 0 4 0 4 0 8 0 2 0-501 1 10 0 4 0 1 0 23 0 20 0 12 0 8 0 21 0 84 0 10 0 22 0 6 0 14 0 2 0 121 0 33 0 72 0 4 0 6 0 2 0 1 0 25 0-502 1 72 0 25 0 20 0 4 0 13 0 5 0 3 0 17 0 6 0 39 0 28 0 21 0 7 0 55 0 7 0 2 0 2 0 3 0 17 0 6 0 67 0 5 0 34 0 14 0 9 0 2 0 3 0 2 0 8 0 2 0-494 1 8 0 1 0 22 0 6 0 21 0 29 0 45 0 9 0 14 0 20 0 8 0 56 0 54 0 30 0 10 0 49 0 12 0 75 0 1 0 26 0-474 1 57 0 14 0 23 0 35 0 18 0 15 0 47 0 11 0 5 0 7 0 1 0 4 0 4 0 9 0 38 0 13 0 29 0 47 0 38 0 18 0 13 0 3 0 26 0 1 0-488 1 11 0 31 0 3 0 41 0 33 0 49 0 12 0 4 0 5 0 4 0 31 0 10 0 12 0 26 0 55 0 45 0 23 0 20 0 24 0 18 0 32 0-487 1 18 0 21 0 6 0 22 0 85 0 14 0 9 0 19 0 2 0 5 0 32 0 8 0 19 0 3 0 11 0 19 0 3 0 2 0 28 0 19 0 14 0 4 0 16 0 5 0 22 0 14 0 3 0 10 0 23 0 2 0 3 0 1 0 17 0 3 0-492 1 2 0 27 0 3 0 9 0 15 0 10 0 33 0 6 0 48 0 56 0 20 0 12 0 4 0 37 0 15 0 38 0 16 0 62 0 12 0 38 0 9 0 22 0-497 1 8 0 47 0 3 0 65 0 10 0 63 0 17 0 43 0 93 0 11 0 3 0 22 0 6 0 11 0 1 0 36 0 18 0 8 0 17 0 13 0-460 1 5 0 29 0 2 0 55 0 40 0 12 0 18 0 2 0 10 0 33 0 2 0 5 0 14 0 7 0 1 0 5 0 22 0 37 0 25 0 5 0 29 0 28 0 10 0 15 0 2 0 1 0 17 0 15 0 6 0 3 0-490 1 4 0 12 0 7 0 9 0 5 0 13 0 108 0 12 0 27 0 14 0 48 0 9 0 13 0 16 0 10 0 19 0 21 0 25 0 4 0 21 0 15 0 19 0 29 0 6 0 13 0 1 0-476 1 4 0 1 0 2 0 2 0 14 0 8 0 7 0 11 0 1 0 52 0 2 0 32 0 3 0 31 0 2 0 43 0 4 0 47 0 4 0 20 0 1 0 17 0 2 0 20 0 3 0 8 0 38 0 2 0 32 0 16 0 19 0 14 0 10 0-466 1 4 0 4 0 8 0 2 0 32 0 23 0 4 0 29 0 4 0 17 0 90 0 5 0 4 0 16 0 15 0 2 0 5 0 35 0 38 0 21 0 50 0 11 0 47 0 8 0 1 0 7 0-488 1 5 0 6 0 24 0 75 0 17 0 5 0 16 0 8 0 41 0 1 0 6 0 25 0 2 0 10 0 44 0 40 0 1 0 9 0 25 0 5 0 14 0 50 0 40 0 8 0-472 1 2 0 5 0 3 0 16 0 18 0 6 0 30 0 20 0 16 0 3 0 42 0 6 0 7 0 14 0 6 0 2 0 6 0 10 0 9 0 9 0 14 0 18 0 2 0 21 0 26 0 2 0 17 0 5 0 4 0 14 0 90 0 1 0 1 0 13 0 8 0 5 0 1 0 3 0-476 1 6 0 3 0 37 0 6 0 2 0 7 0 54 0 46 0 7 0 21 0 35 0 23 0 8 0 4 0 27 0 22 0 5 0 17 0 14 0 26 0 18 0 6 0 11 0 25 0 9 0 17 0 3 0 6 0 14 0-480 1 4 0 3 0 3 0 36 0 14 0 6 0 5 0 22 0 3 0 16 0 20 0 20 0 10 0 44 0 3 0 6 0 16 0 10 0 2 0 5 0 7 0 16 0 7 0 3 0 26 0 31 0 14 0 28 0 84 0 9 0 1 0-475 1 4 0 1 0 1 0 11 0 6 0 34 0 3 0 35 0 36 0 38 0 11 0 28 0 28 0 11 0 38 0 56 0 7 0 33 0 2 0 6 0 5 0 8 0 4 0 20 0 1 0 30 0 4 0 1 0 8 0 1 0 2 0 1 0 2 0 1 0 1 0-474 1 3 0 1 0 9 0 13 0 23 0 3 0 1 0 19 0 4 0 13 0 3 0 13 0 3 0 3 0 5 0 8 0 21 0 23 0 23 0 19 0 17 0 20 0 14 0 33 0 43 0 14 0 9 0 33 0 10 0 20 0 3 0 1 0 1 0 9 0 6 0 3 0 12 0 3 0 4 0 5 0-473 1 9 0 4 0 1 0 7 0 10 0 9 0 9 0 7 0 1 0 6 0 9 0 8 0 1 0 6 0 4 0 20 0 22 0 16 0 21 0 1 0 35 0 6 0 10 0 3 0 11 0 4 0 2 0 13 0 11 0 9 0 10 0 24 0 26 0 25 0 6 0 8 0 40 0 4 0 4 0 10 0 2 0 1 0 7 0 2 0 4 0 1 0 9 0 5 0 4 0 3 0 1 0 6 0-464 1 1 0 7 0 7 0 1 0 2 0 32 0 8 0 16 0 3 0 9 0 6 0 15 0 6 0 32 0 10 0 9 0 3 0 40 0 3 0 1 0 3 0 2 0 10 0 14 0 24 0 7 0 10 0 9 0 8 0 1 0 9 0 1 0 16 0 1 0 5 0 8 0 19 0 9 0 4 0 4 0 3 0 8 0 4 0 5 0 13 0 13 0 4 0 2 0 1 0 9 0 4 0 2 0 5 0 8 0-457 1 17 0 11 0 14 0 18 0 2 0 5 0 1 0 7 0 4 0 11 0 3 0 3 0 4 0 23 0 23 0 3 0 11 0 15 0 3 0 2 0 42 0 10 0 12 0 13 0 6 0 8 0 11 0 15 0 10 0 40 0 1 0 4 0 15 0 10 0 8 0 32 0 4 0 5 0 26 0 4 0 1 0 3 0-468 1 6 0 6 0 1 0 11 0 1 0 26 0 16 0 25 0 4 0 1 0 4 0 15 0 9 0 19 0 3 0 13 0 7 0 3 0 3 0 2 0 3 0 7 0 1 0 2 0 24 0 16 0 9 0 1 0 2 0 8 0 5 0 6 0 6 0 23 0 6 0 2 0 3 0 4 0 3 0 10 0 6 0 4 0 7 0 9 0 22 0 7 0 6 0 11 0 2 0 2 0 1 0 12 0 2 0 2 0 1 0 9 0 27 0 8 0 2 0 7 0-461 1 2 0 5 0 7 0 23 0 14 0 14 0 2 0 1 0 14 0 1 0 4 0 2 0 5 0 22 0 3 0 1 0 5 0 3 0 2 0 4 0 2 0 8 0 3 0 10 0 3 0 5 0 17 0 31 0 5 0 13 0 1 0 12 0 5 0 4 0 1 0 6 0 15 0 1 0 2 0 3 0 9 0 1 0 2 0 16 0 6 0 5 0 1 0 8 0 25 0 5 0 10 0 2 0 1 0 7 0 6 0 17 0 2 0 2 0 10 0 12 0 3 0 6 0 2 0-405 1 1 0 4 0 16 0 5 0 13 0 19 0 1 0 1 0 19 0 5 0 17 0 8 0 14 0 16 0 7 0 5 0 4 0 6 0 1 0 43 0 10 0 1 0 9 0 44 0 22 0 24 0 11 0 12 0 5 0 20 0 3 0 12 0 4 0 6 0 4 0 7 0 2 0 7 0 4 0 1 0 11 0-456 1 2 0 2 0 2 0 3 0 4 0 5 0 6 0 1 0 1 0 4 0 3 0 1 0 8 0 1 0 16 0 10 0 1 0 4 0 19 0 3 0 10 0 3 0 4 0 3 0 1 0 25 0 4 0 2 0 12 0 16 0 4 0 1 0 3 0 1 0 5 0 4 0 13 0 4 0 9 0 1 0 3 0 2 0 1 0 3 0 8 0 5 0 11 0 2 0 25 0 28 0 8 0 3 0 5 0 1 0 3 0 11 0 11 0 21 0 1 0 3 0 5 0 3 0 4 0 3 0 1 0 4 0 5 0 4 0 10 0 8 0 13 0 6 0 8 0 1 0 2 0-452 1 5 0 4 0 21 0 3 0 11 0 1 0 1 0 4 0 4 0 1 0 9 0 6 0 2 0 3 0 10 0 4 0 3 0 7 0 1 0 7 0 5 0 7 0 5 0 6 0 1 0 1 0 5 0 27 0 3 0 5 0 3 0 6 0 7 0 2 0 1 0 8 0 7 0 2 0 4 0 10 0 4 0 3 0 1 0 6 0 3 0 5 0 1 0 7 0 13 0 13 0 7 0 2 0 2 0 1 0 31 0 9 0 15 0 5 0 3 0 3 0 8 0 2 0 2 0 1 0 3 0 5 0 5 0 4 0 5 0 7 0 9 0 10 0 7 0 6 0 4 0 14 0 4 0 1 0-452 1 2 0 17 0 2 0 5 0 20 0 10 0 4 0 9 0 5 0 5 0 1 0 5 0 2 0 2 0 13 0 1 0 2 0 3 0 6 0 5 0 5 0 2 0 4 0 7 0 1 0 7 0 10 0 1 0 3 0 9 0 5 0 2 0 2 0 7 0 6 0 4 0 11 0 3 0 5 0 6 0 1 0 8 0 19 0 11 0 10 0 11 0 16 0 1 0 9 0 1 0 8 0 1 0 6 0 6 0 6 0 10 0 4 0 4 0 7 0 5 0 1 0 4 0 7 0 7 0 2 0 4 0 8 0 2 0 5 0 13 0 2 0 1 0 2 0 3 0 11 0 1 0 1 0 3 0 2 0 7 0-446 1 7 0 6 0 10 0 2 0 5 0 8 0 2 0 11 0 1 0 1 0 6 0 1 0 2 0 13 0 6 0 5 0 8 0 3 0 6 0 10 0 2 0 3 0 1 0 5 0 3 0 1 0 10 0 3 0 3 0 2 0 1 0 6 0 3 0 3 0 11 0 16 0 5 0 3 0 3 0 1 0 9 0 5 0 7 0 3 0 3 0 11 0 3 0 14 0 5 0 5 0 3 0 3 0 1 0 9 0 1 0 1 0 3 0 4 0 8 0 12 0 5 0 11 0 4 0 20 0 6 0 1 0 7 0 3 0 10 0 1 0 1 0 5 0 1 0 4 0 8 0 5 0 3 0 1 0 1 0 2 0 5 0 8 0 10 0 1 0 3 0 3 0 4 0-435 1 2 0 5 0 7 0 1 0 7 0 1 0 10 0 8 0 6 0 5 0 2 0 1 0 6 0 6 0 10 0 5 0 7 0 1 0 9 0 13 0 1 0 1 0 9 0 3 0 1 0 1 0 2 0 14 0 1 0 1 0 2 0 3 0 4 0 9 0 1 0 1 0 11 0 2 0 8 0 3 0 1 0 9 0 1 0 5 0 2 0 6 0 3 0 2 0 2 0 1 0 1 0 2 0 1 0 2 0 11 0 12 0 2 0 3 0 5 0 4 0 1 0 11 0 6 0 4 0 19 0 11 0 7 0 1 0 13 0 15 0 12 0 2 0 2 0 1 0 1 0 11 0 2 0 2 0 6 0 7 0 7 0 5 0 8 0 3 0 1 0 11 0 2 0-437 1 1 0 2 0 3 0 2 0 2 0 1 0 2 0 2 0 1 0 1 0 2 0 6 0 2 0 5 0 18 0 2 0 3 0 6 0 3 0 3 0 2 0 2 0 1 0 7 0 5 0 9 0 4 0 2 0 3 0 2 0 8 0 3 0 3 0 1 0 3 0 3 0 22 0 7 0 2 0 1 0 3 0 3 0 1 0 2 0 5 0 4 0 1 0 1 0 4 0 11 0 6 0 5 0 9 0 8 0 17 0 7 0 10 0 4 0 4 0 1 0 15 0 5 0 2 0 2 0 3 0 1 0 3 0 3 0 4 0 2 0 4 0 1 0 1 0 6 0 3 0 3 0 2 0 4 0 9 0 5 0 11 0 2 0 3 0 4 0 1 0 1 0 5 0 2 0 1 0 5 0 3 0 4 0 1 0 4 0 2 0 8 0 11 0 6 0 1 0 5 0 1 0 1 0 2 0 4 0-414 1 7 0 1 0 1 0 5 0 7 0 1 0 4 0 21 0 4 0 4 0 10 0 5 0 1 0 5 0 1 0 1 0 2 0 4 0 4 0 4 0 2 0 4 0 6 0 1 0 1 0 4 0 1 0 9 0 3 0 1 0 1 0 5 0 8 0 1 0 2 0 3 0 2 0 5 0 2 0 3 0 17 0 2 0 8 0 8 0 1 0 3 0 5 0 2 0 8 0 3 0 9 0 2 0 10 0 1 0 3 0 10 0 1 0 5 0 2 0 4 0 1 0 3 0 1 0 13 0 2 0 2 0 2 0 5 0 13 0 1 0 3 0 1 0 3 0 1 0 17 0 6 0 1 0 1 0 6 0 3 0 1 0 2 0 1 0 6 0 1 0 5 0 6 0 15 0 10 0 7 0 1 0 2 0 4 0 1 0 4 0-420 1 4 0 3 0 1 0 6 0 5 0 1 0 6 0 4 0 16 0 7 0 1 0 2 0 1 0 4 0 6 0 9 0 2 0 5 0 7 0 15 0 14 0 1 0 7 0 1 0 9 0 4 0 9 0 5 0 8 0 1 0 4 0 1 0 2 0 1 0 1 0 6 0 2 0 8 0 7 0 3 0 3 0 3 0 18 0 1 0 6 0 4 0 1 0 7 0 6 0 5 0 7 0 5 0 2 0 2 0 3 0 6 0 8 0 1 0 1 0 4 0 1 0 16 0 6 0 8 0 2 0 27 0 5 0 6 0 1 0 2 0 2 0 8 0 3 0 5 0 5 0 6 0 2 0 1 0 3 0 12 0 3 0 3 0 2 0-416 1 6 0 5 0 2 0 1 0 3 0 1 0 2 0 4 0 14 0 4 0 9 0 5 0 5 0 15 0 2 0 3 0 9 0 4 0 6 0 6 0 12 0 2 0 15 0 1 0 9 0 2 0 4 0 1 0 1 0 1 0 9 0 6 0 9 0 2 0 1 0 2 0 7 0 11 0 1 0 1 0 7 0 8 0 2 0 5 0 3 0 7 0 4 0 8 0 2 0 5 0 4 0 1 0 4 0 4 0 7 0 1 0 12 0 3 0 4 0 1 0 1 0 1 0 8 0 1 0 2 0 3 0 2 0 1 0 6 0 7 0 1 0 29 0 9 0 5 0 9 0 5 0 2 0 1 0 1 0 7 0 17 0 1 0-394 1 2 0 15 0 2 0 3 0 4 0 2 0 6 0 1 0 14 0 11 0 5 0 3 0 4 0 3 0 7 0 2 0 1 0 11 0 3 0 4 0 4 0 1 0 2 0 2 0 1 0 5 0 8 0 4 0 1 0 4 0 2 0 1 0 14 0 1 0 5 0 27 0 23 0 47 0 8 0 48 0" fill="none" stroke="none" marker-start="url(#q)" marker-mid="url(#q)" marker-end="url(#q)"/>
<rect x="1347.3" y="1658.7" width="876.2" height="582.6" fill="none" stroke="#0000d2" stroke-width="4.6"/>
<text x="1321.7" y="1669.7" font-size="41.5" text-anchor="end" class="t">0</text>
<text x="1321.7" y="1769.7" font-size="41.5" text-anchor="end" class="t">-0.1</text>
<text x="1321.7" y="1866.8" font-size="41.5" text-anchor="end" class="t">-0.2</text>
<text x="1321.7" y="1963.9" font-size="41.5" text-anchor="end" class="t">-0.3</text>
<text x="1321.7" y="2061.0" font-size="41.5" text-anchor="end" class="t">-0.4</text>
<text x="1321.7" y="2158.1" font-size="41.5" text-anchor="end" class="t">-0.5</text>
<text x="1321.7" y="2255.2" font-size="41.5" text-anchor="end" class="t">-0.6</text>
<text x="1344.0" y="2287.7" font-size="41.5" text-anchor="middle" class="t">-15</text>
<text x="1489.6" y="2287.7" font-size="41.5" text-anchor="middle" class="t">-10</text>
<text x="1636.2" y="2287.7" font-size="41.5" text-anchor="middle" class="t">-5</text>
<text x="1780.6" y="2287.7" font-size="41.5" text-anchor="middle" class="t">0</text>
<text x="1927.7" y="2287.7" font-size="41.5" text-anchor="middle" class="t">5</text>
<text x="2072.0" y="2287.7" font-size="41.5" text-anchor="middle" class="t">10</text>
<text x="2220.7" y="2287.7" font-size="41.5" text-anchor="middle" class="t">15</text>
<text x="1398.3" y="1711.0" font-size="48">(</text>
<text x="1411.3" y="1717.9" font-size="56" style="fill:#1a1a1a">f</text>
<text x="1426.7" y="1711.0" font-size="48">)</text>
<text transform="translate(60.8 366.5) rotate(-90)" font-size="49.8" class="t" text-anchor="middle">(E&#954;end-E&#954;0)/E&#954;0</text>
<text transform="translate(82.9 1171.6) rotate(-90)" font-size="49.8" class="t" text-anchor="middle">(E&#954;end-E&#954;0)/E&#954;0</text>
<text transform="translate(124.4 1955.3) rotate(-90)" font-size="49.8" class="t" text-anchor="middle">(E&#954;end-E&#954;0)/E&#954;0</text>
<text transform="translate(608.5 2338.6) scale(1 1.07)" font-size="49" class="t">x00 (<tspan font-family="'Liberation Serif', serif">&#956;</tspan>m)</text>
<text transform="translate(1694.0 2352.5) scale(1 1.07)" font-size="49" class="t">x00 (<tspan font-family="'Liberation Serif', serif">&#956;</tspan>m)</text>
</svg></body></html>
